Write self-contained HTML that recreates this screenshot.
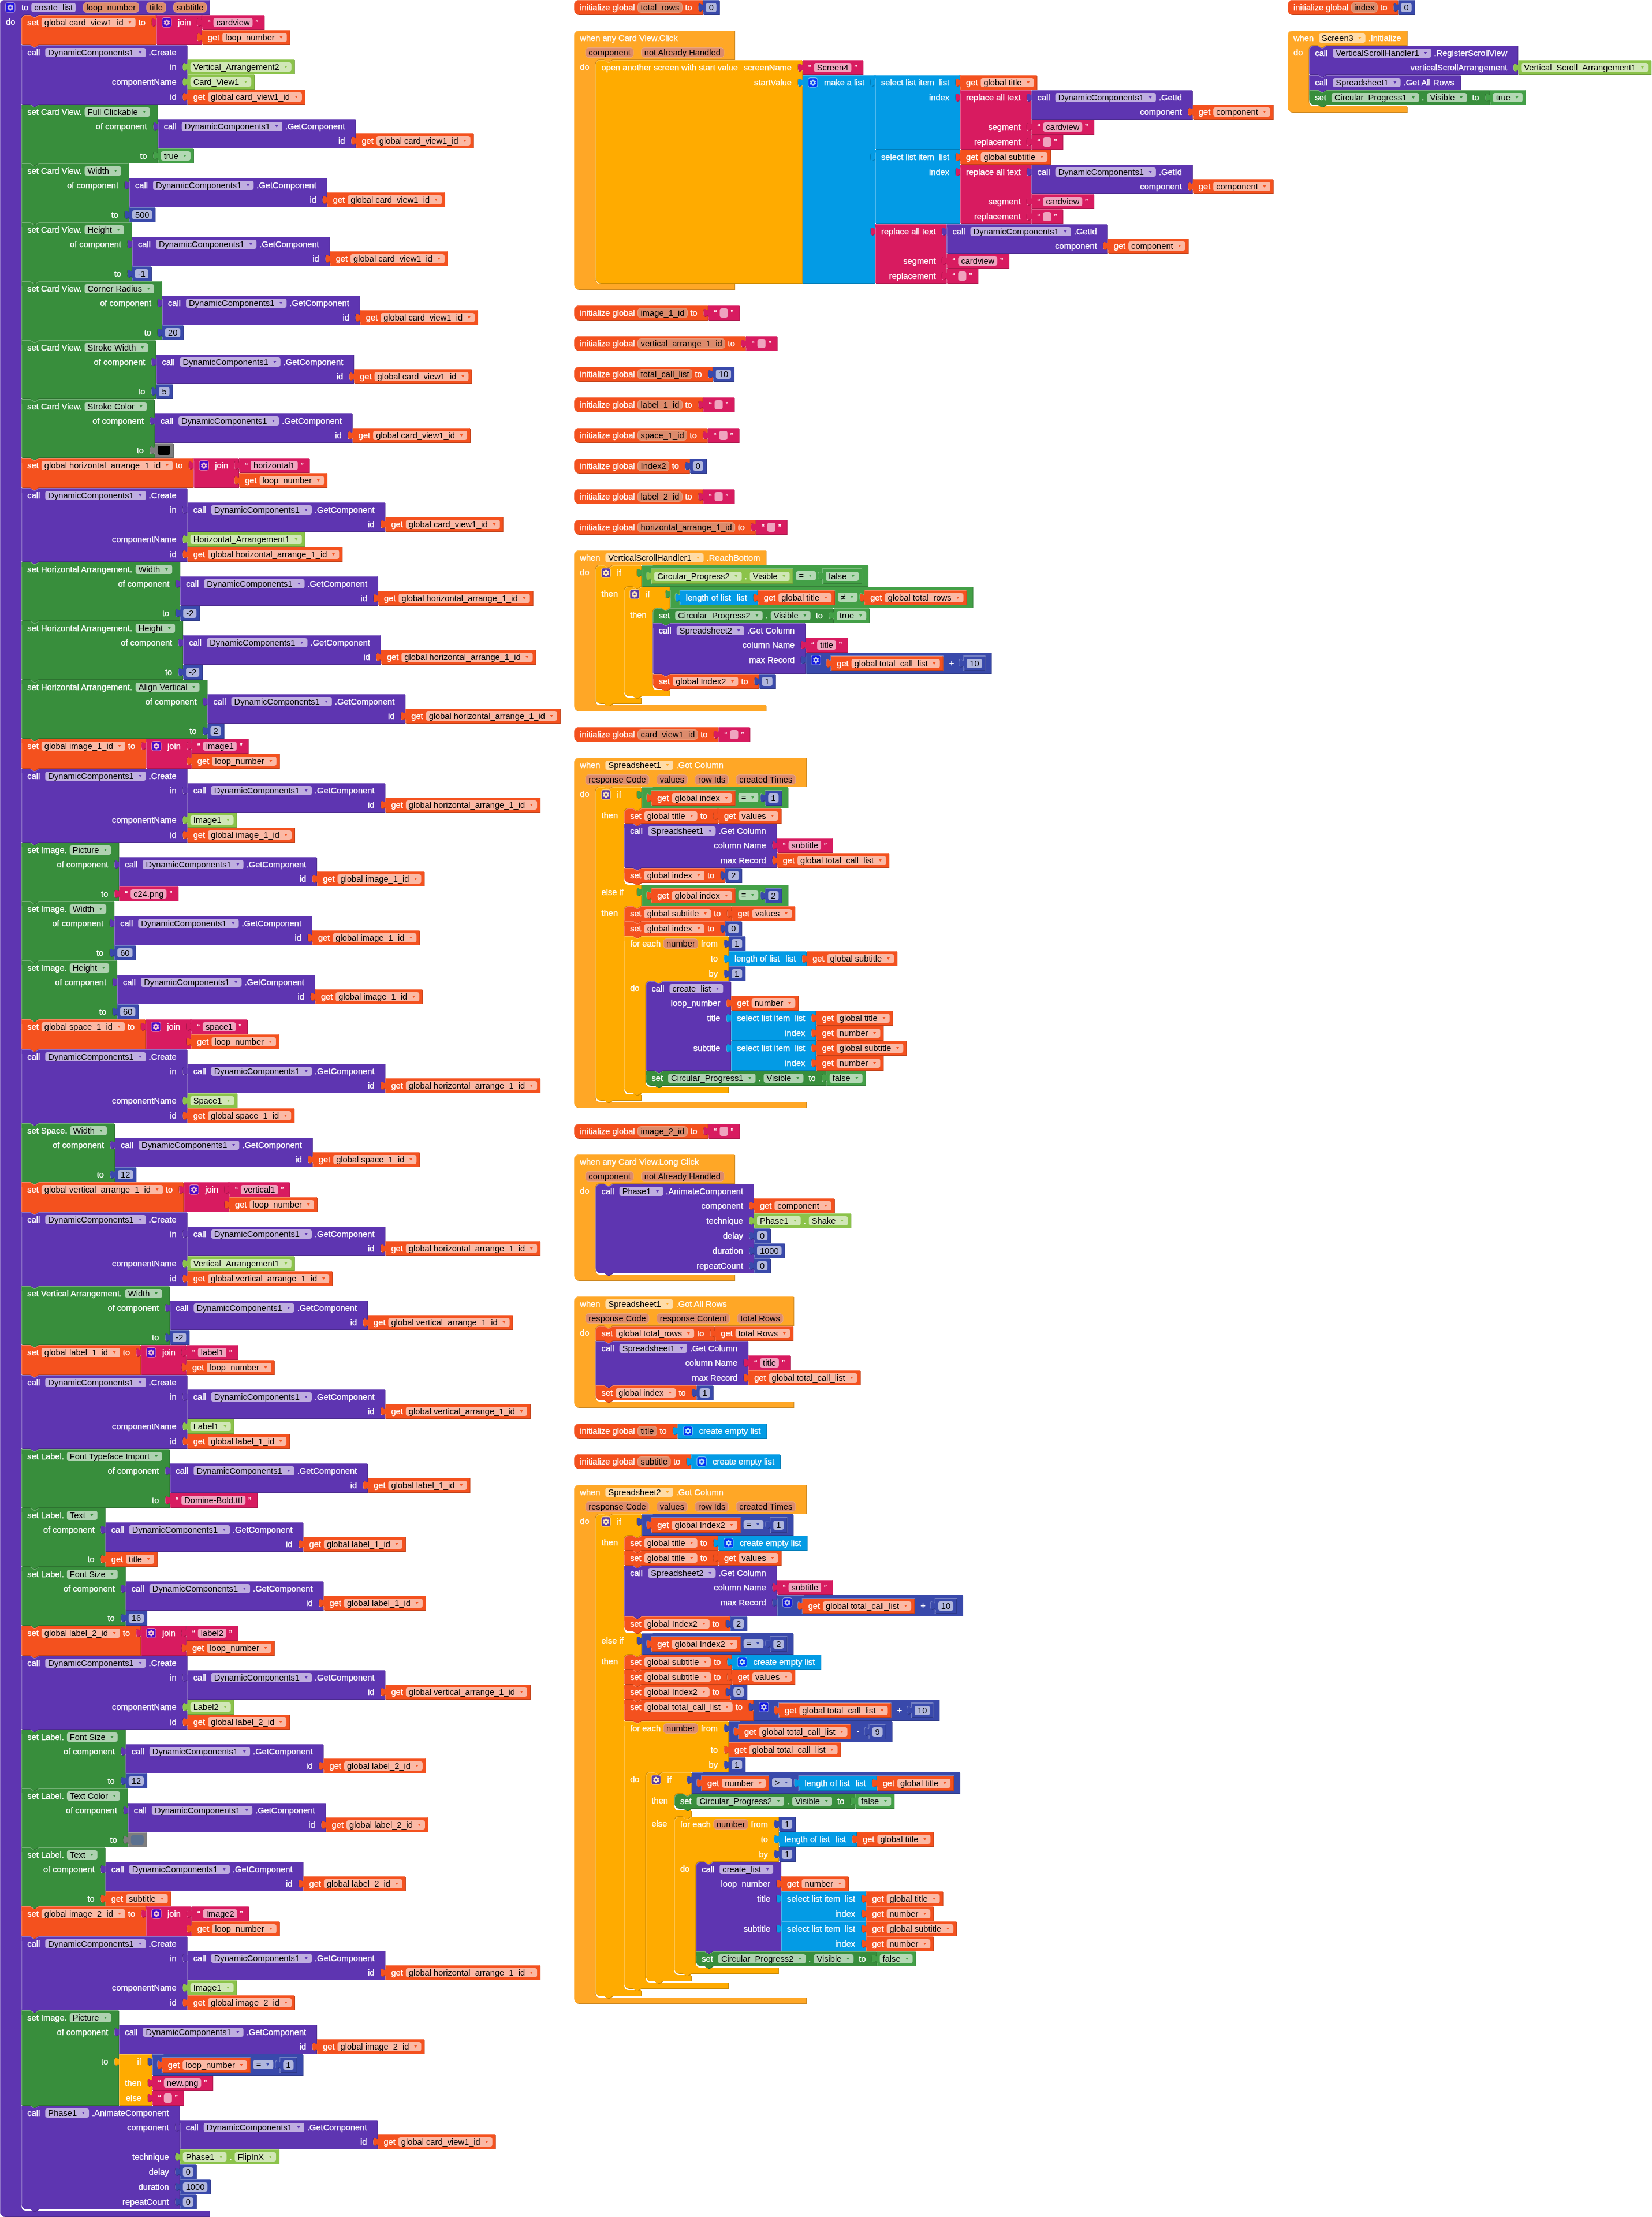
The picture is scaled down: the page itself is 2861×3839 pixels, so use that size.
<!DOCTYPE html><html><head><meta charset="utf-8"><style>html,body{margin:0;padding:0;background:#fff;overflow:hidden}svg{display:block;will-change:transform}</style></head><body><svg width="2861" height="3839" viewBox="0 0 2861 3839">
<style>text{font-family:"Liberation Sans",sans-serif;font-size:14.6667px;white-space:pre}.w{fill:#fff;stroke:#fff;stroke-width:0.25px}.k{fill:#000}</style>
<path transform="translate(1,1)" d="M 0,8 A 8,8 0 0,1 8,0 H 362.82 H 362.82 v 25 H 66.3 l -6,4 -3,0 -6,-4 h -7 a 8,8 0 0,0 -8,8 v 3787 a 8,8 0 0,0 8,8 H 362.82 v 10 H 8 a 8,8 0 0,1 -8,-8 z" fill="#4b2a8e"/>
<path transform="translate(0,0)" d="M 0,8 A 8,8 0 0,1 8,0 H 362.82 H 362.82 v 25 H 66.3 l -6,4 -3,0 -6,-4 h -7 a 8,8 0 0,0 -8,8 v 3787 a 8,8 0 0,0 8,8 H 362.82 v 10 H 8 a 8,8 0 0,1 -8,-8 z" fill="#5E35B1"/>
<path transform="translate(0,0)" d="M 0.5,8 A 7.5,7.5 0 0,1 8,0.5 H 362.32 M 0.5,8 V 3830" fill="none" stroke="#8e72c8" stroke-width="1"/>
<rect x="9.6" y="4.6" width="16.4" height="16.6" rx="4" fill="#2012e4" stroke="#a690d4" stroke-width="1.2"/>
<path d="M 16,9.81 L 16.66,7.74 L 19.14,7.74 L 19.8,9.81 L 19.8,9.81 L 21.92,9.35 L 23.16,11.49 L 21.7,13.1 L 21.7,13.1 L 23.16,14.71 L 21.92,16.85 L 19.8,16.39 L 19.8,16.39 L 19.14,18.46 L 16.66,18.46 L 16,16.39 L 16,16.39 L 13.88,16.85 L 12.64,14.71 L 14.1,13.1 L 14.1,13.1 L 12.64,11.49 L 13.88,9.35 L 16,9.81 Z M 16,13.1 a 1.9,1.9 0 1,0 3.8,0 a 1.9,1.9 0 1,0 -3.8,0 Z" fill="#d2c6e9" fill-rule="evenodd"/>
<rect x="54.22" y="5" width="76.8" height="16" rx="4" fill="#bfaee0"/>
<rect x="144.27" y="4.7" width="96.05" height="16.6" rx="5" fill="#dc8b6c" stroke="#eba98a" stroke-width="1"/>
<rect x="253.83" y="4.7" width="33.31" height="16.6" rx="5" fill="#dc8b6c" stroke="#eba98a" stroke-width="1"/>
<rect x="300.63" y="4.7" width="56.94" height="16.6" rx="5" fill="#dc8b6c" stroke="#eba98a" stroke-width="1"/>
<path transform="translate(38.3,27)" d="M 0,8 A 8,8 0 0,1 8,0 H 15 l 6,4 3,0 6,-4 H 232.65 H 232.65 v 5 c 0,10 -8,-8 -8,7.5 s 8,-2.5 8,7.5 v 31 H 29.5 l -6,4 -3,0 -6,-4 H 0 z" fill="#c34118"/>
<path transform="translate(37.3,26)" d="M 0,8 A 8,8 0 0,1 8,0 H 15 l 6,4 3,0 6,-4 H 232.65 H 232.65 v 5 c 0,10 -8,-8 -8,7.5 s 8,-2.5 8,7.5 v 31 H 29.5 l -6,4 -3,0 -6,-4 H 0 z" fill="#F4511E"/>
<path transform="translate(37.3,26)" d="M 0.5,8 A 7.5,7.5 0 0,1 8,0.5 H 15 l 6,4 3,0 6,-4 H 232.15 M 0.5,8 V 50.5" fill="none" stroke="#f78562" stroke-width="1"/>
<rect x="71.85" y="31" width="162.88" height="16" rx="4" fill="#fbb9a5"/>
<path d="M 222.43,37 h 5 l -2.5,4 z" fill="#F4511E"/>
<path transform="translate(271.96,27)" d="M 0,0 H 77.81 H 77.81 v 5 c 0,10 -8,-8 -8,7.5 s 8,-2.5 8,7.5 v 6 H 77.81 v 5 c 0,10 -8,-8 -8,7.5 s 8,-2.5 8,7.5 v 5 H 0 V 20 c 0,-10 -8,8 -8,-7.5 s 8,2.5 8,-7.5 z" fill="#ad164d"/>
<path transform="translate(270.96,26)" d="M 0,0 H 77.81 H 77.81 v 5 c 0,10 -8,-8 -8,7.5 s 8,-2.5 8,7.5 v 6 H 77.81 v 5 c 0,10 -8,-8 -8,7.5 s 8,-2.5 8,7.5 v 5 H 0 V 20 c 0,-10 -8,8 -8,-7.5 s 8,2.5 8,-7.5 z" fill="#D81B60"/>
<path transform="translate(270.96,26)" d="M 0.5,0.5 H 77.31 M 0.5,50.5 V 5.5 M 0.5,20 V 50.5" fill="none" stroke="#e45f90" stroke-width="1"/>
<rect x="280.56" y="30.6" width="16.4" height="16.6" rx="4" fill="#4909c9" stroke="#ea82a8" stroke-width="1.2"/>
<path d="M 286.96,35.81 L 287.62,33.74 L 290.09,33.74 L 290.76,35.81 L 290.76,35.81 L 292.88,35.35 L 294.12,37.49 L 292.66,39.1 L 292.66,39.1 L 294.12,40.71 L 292.88,42.85 L 290.76,42.39 L 290.76,42.39 L 290.09,44.46 L 287.62,44.46 L 286.96,42.39 L 286.96,42.39 L 284.83,42.85 L 283.6,40.71 L 285.06,39.1 L 285.06,39.1 L 283.6,37.49 L 284.83,35.35 L 286.96,35.81 Z M 286.96,39.1 a 1.9,1.9 0 1,0 3.8,0 a 1.9,1.9 0 1,0 -3.8,0 Z" fill="#f4bfd2" fill-rule="evenodd"/>
<path transform="translate(350.77,27)" d="M 0,0 H 107.59 H 107.59 v 25 H 0 V 20 c 0,-10 -8,8 -8,-7.5 s 8,2.5 8,-7.5 z" fill="#ad164d"/>
<path transform="translate(349.77,26)" d="M 0,0 H 107.59 H 107.59 v 25 H 0 V 20 c 0,-10 -8,8 -8,-7.5 s 8,2.5 8,-7.5 z" fill="#D81B60"/>
<path transform="translate(349.77,26)" d="M 0.5,0.5 H 107.09 M 0.5,24.5 M 0.5,20 V 24.5" fill="none" stroke="#e45f90" stroke-width="1"/>
<rect x="369.65" y="31" width="67.83" height="16" rx="4" fill="#efa4bf"/>
<path transform="translate(350.77,53)" d="M 0,0 H 151.93 H 151.93 v 25 H 0 V 20 c 0,-10 -8,8 -8,-7.5 s 8,2.5 8,-7.5 z" fill="#c34118"/>
<path transform="translate(349.77,52)" d="M 0,0 H 151.93 H 151.93 v 25 H 0 V 20 c 0,-10 -8,8 -8,-7.5 s 8,2.5 8,-7.5 z" fill="#F4511E"/>
<path transform="translate(349.77,52)" d="M 0.5,0.5 H 151.43 M 0.5,24.5 M 0.5,20 V 24.5" fill="none" stroke="#f78562" stroke-width="1"/>
<rect x="385.15" y="57" width="111.55" height="16" rx="4" fill="#fbb9a5"/>
<path d="M 484.4,63 h 5 l -2.5,4 z" fill="#F4511E"/>
<path transform="translate(38.3,79)" d="M 0,0 H 15 l 6,4 3,0 6,-4 H 286.38 H 286.38 v 25 H 286.38 v 5 c 0,10 -8,-8 -8,7.5 s 8,-2.5 8,7.5 v 6 H 286.38 v 5 c 0,10 -8,-8 -8,7.5 s 8,-2.5 8,7.5 v 6 H 286.38 v 5 c 0,10 -8,-8 -8,7.5 s 8,-2.5 8,7.5 v 5 H 29.5 l -6,4 -3,0 -6,-4 H 0 z" fill="#4b2a8e"/>
<path transform="translate(37.3,78)" d="M 0,0 H 15 l 6,4 3,0 6,-4 H 286.38 H 286.38 v 25 H 286.38 v 5 c 0,10 -8,-8 -8,7.5 s 8,-2.5 8,7.5 v 6 H 286.38 v 5 c 0,10 -8,-8 -8,7.5 s 8,-2.5 8,7.5 v 6 H 286.38 v 5 c 0,10 -8,-8 -8,7.5 s 8,-2.5 8,7.5 v 5 H 29.5 l -6,4 -3,0 -6,-4 H 0 z" fill="#5E35B1"/>
<path transform="translate(37.3,78)" d="M 0.5,0.5 H 15 l 6,4 3,0 6,-4 H 285.88 M 0.5,8 V 101.5" fill="none" stroke="#8e72c8" stroke-width="1"/>
<rect x="78.37" y="83" width="174.26" height="16" rx="4" fill="#bfaee0"/>
<path d="M 240.32,89 h 5 l -2.5,4 z" fill="#5E35B1"/>
<path transform="translate(325.69,104)" d="M 0,0 H 185.09 H 185.09 v 25 H 0 V 20 c 0,-10 -8,8 -8,-7.5 s 8,2.5 8,-7.5 z" fill="#6f9c3b"/>
<path transform="translate(324.69,103)" d="M 0,0 H 185.09 H 185.09 v 25 H 0 V 20 c 0,-10 -8,8 -8,-7.5 s 8,2.5 8,-7.5 z" fill="#8BC34A"/>
<path transform="translate(324.69,103)" d="M 0.5,0.5 H 184.59 M 0.5,24.5 M 0.5,20 V 24.5" fill="none" stroke="#aed580" stroke-width="1"/>
<rect x="329.69" y="108" width="175.09" height="16" rx="4" fill="#d1e7b7"/>
<path d="M 492.47,114 h 5 l -2.5,4 z" fill="#8BC34A"/>
<path transform="translate(325.69,130)" d="M 0,0 H 115.57 H 115.57 v 25 H 0 V 20 c 0,-10 -8,8 -8,-7.5 s 8,2.5 8,-7.5 z" fill="#6f9c3b"/>
<path transform="translate(324.69,129)" d="M 0,0 H 115.57 H 115.57 v 25 H 0 V 20 c 0,-10 -8,8 -8,-7.5 s 8,2.5 8,-7.5 z" fill="#8BC34A"/>
<path transform="translate(324.69,129)" d="M 0.5,0.5 H 115.07 M 0.5,24.5 M 0.5,20 V 24.5" fill="none" stroke="#aed580" stroke-width="1"/>
<rect x="329.69" y="134" width="105.57" height="16" rx="4" fill="#d1e7b7"/>
<path d="M 422.96,140 h 5 l -2.5,4 z" fill="#8BC34A"/>
<path transform="translate(325.69,156)" d="M 0,0 H 203.25 H 203.25 v 25 H 0 V 20 c 0,-10 -8,8 -8,-7.5 s 8,2.5 8,-7.5 z" fill="#c34118"/>
<path transform="translate(324.69,155)" d="M 0,0 H 203.25 H 203.25 v 25 H 0 V 20 c 0,-10 -8,8 -8,-7.5 s 8,2.5 8,-7.5 z" fill="#F4511E"/>
<path transform="translate(324.69,155)" d="M 0.5,0.5 H 202.75 M 0.5,24.5 M 0.5,20 V 24.5" fill="none" stroke="#f78562" stroke-width="1"/>
<rect x="360.06" y="160" width="162.88" height="16" rx="4" fill="#fbb9a5"/>
<path d="M 510.64,166 h 5 l -2.5,4 z" fill="#F4511E"/>
<path transform="translate(38.3,182)" d="M 0,0 H 15 l 6,4 3,0 6,-4 H 235.38 H 235.38 v 25 H 235.38 v 5 c 0,10 -8,-8 -8,7.5 s 8,-2.5 8,7.5 v 31 H 235.38 v 5 c 0,10 -8,-8 -8,7.5 s 8,-2.5 8,7.5 v 5 H 29.5 l -6,4 -3,0 -6,-4 H 0 z" fill="#2d7230"/>
<path transform="translate(37.3,181)" d="M 0,0 H 15 l 6,4 3,0 6,-4 H 235.38 H 235.38 v 25 H 235.38 v 5 c 0,10 -8,-8 -8,7.5 s 8,-2.5 8,7.5 v 31 H 235.38 v 5 c 0,10 -8,-8 -8,7.5 s 8,-2.5 8,7.5 v 5 H 29.5 l -6,4 -3,0 -6,-4 H 0 z" fill="#388E3C"/>
<path transform="translate(37.3,181)" d="M 0.5,0.5 H 15 l 6,4 3,0 6,-4 H 234.88 M 0.5,8 V 100.5" fill="none" stroke="#74b076" stroke-width="1"/>
<rect x="146.53" y="186" width="113.15" height="16" rx="4" fill="#afd2b1"/>
<path d="M 247.38,192 h 5 l -2.5,4 z" fill="#388E3C"/>
<path transform="translate(274.68,207)" d="M 0,0 H 341.79 H 341.79 v 25 H 341.79 v 5 c 0,10 -8,-8 -8,7.5 s 8,-2.5 8,7.5 v 5 H 0 V 20 c 0,-10 -8,8 -8,-7.5 s 8,2.5 8,-7.5 z" fill="#4b2a8e"/>
<path transform="translate(273.68,206)" d="M 0,0 H 341.79 H 341.79 v 25 H 341.79 v 5 c 0,10 -8,-8 -8,7.5 s 8,-2.5 8,7.5 v 5 H 0 V 20 c 0,-10 -8,8 -8,-7.5 s 8,2.5 8,-7.5 z" fill="#5E35B1"/>
<path transform="translate(273.68,206)" d="M 0.5,0.5 H 341.29 M 0.5,49.5 V 5.5 M 0.5,20 V 49.5" fill="none" stroke="#8e72c8" stroke-width="1"/>
<rect x="314.74" y="211" width="174.26" height="16" rx="4" fill="#bfaee0"/>
<path d="M 476.7,217 h 5 l -2.5,4 z" fill="#5E35B1"/>
<path transform="translate(617.47,232)" d="M 0,0 H 203.25 H 203.25 v 25 H 0 V 20 c 0,-10 -8,8 -8,-7.5 s 8,2.5 8,-7.5 z" fill="#c34118"/>
<path transform="translate(616.47,231)" d="M 0,0 H 203.25 H 203.25 v 25 H 0 V 20 c 0,-10 -8,8 -8,-7.5 s 8,2.5 8,-7.5 z" fill="#F4511E"/>
<path transform="translate(616.47,231)" d="M 0.5,0.5 H 202.75 M 0.5,24.5 M 0.5,20 V 24.5" fill="none" stroke="#f78562" stroke-width="1"/>
<rect x="651.84" y="236" width="162.88" height="16" rx="4" fill="#fbb9a5"/>
<path d="M 802.42,242 h 5 l -2.5,4 z" fill="#F4511E"/>
<path transform="translate(274.68,258)" d="M 0,0 H 61.25 H 61.25 v 25 H 0 V 20 c 0,-10 -8,8 -8,-7.5 s 8,2.5 8,-7.5 z" fill="#368039"/>
<path transform="translate(273.68,257)" d="M 0,0 H 61.25 H 61.25 v 25 H 0 V 20 c 0,-10 -8,8 -8,-7.5 s 8,2.5 8,-7.5 z" fill="#43A047"/>
<path transform="translate(273.68,257)" d="M 0.5,0.5 H 60.75 M 0.5,24.5 M 0.5,20 V 24.5" fill="none" stroke="#7bbc7e" stroke-width="1"/>
<rect x="278.68" y="262" width="51.25" height="16" rx="4" fill="#b4d9b5"/>
<path d="M 317.64,268 h 5 l -2.5,4 z" fill="#43A047"/>
<path transform="translate(38.3,284)" d="M 0,0 H 15 l 6,4 3,0 6,-4 H 185.69 H 185.69 v 25 H 185.69 v 5 c 0,10 -8,-8 -8,7.5 s 8,-2.5 8,7.5 v 31 H 185.69 v 5 c 0,10 -8,-8 -8,7.5 s 8,-2.5 8,7.5 v 5 H 29.5 l -6,4 -3,0 -6,-4 H 0 z" fill="#2d7230"/>
<path transform="translate(37.3,283)" d="M 0,0 H 15 l 6,4 3,0 6,-4 H 185.69 H 185.69 v 25 H 185.69 v 5 c 0,10 -8,-8 -8,7.5 s 8,-2.5 8,7.5 v 31 H 185.69 v 5 c 0,10 -8,-8 -8,7.5 s 8,-2.5 8,7.5 v 5 H 29.5 l -6,4 -3,0 -6,-4 H 0 z" fill="#388E3C"/>
<path transform="translate(37.3,283)" d="M 0.5,0.5 H 15 l 6,4 3,0 6,-4 H 185.19 M 0.5,8 V 100.5" fill="none" stroke="#74b076" stroke-width="1"/>
<rect x="146.53" y="288" width="63.46" height="16" rx="4" fill="#afd2b1"/>
<path d="M 197.69,294 h 5 l -2.5,4 z" fill="#388E3C"/>
<path transform="translate(224.99,309)" d="M 0,0 H 341.79 H 341.79 v 25 H 341.79 v 5 c 0,10 -8,-8 -8,7.5 s 8,-2.5 8,7.5 v 5 H 0 V 20 c 0,-10 -8,8 -8,-7.5 s 8,2.5 8,-7.5 z" fill="#4b2a8e"/>
<path transform="translate(223.99,308)" d="M 0,0 H 341.79 H 341.79 v 25 H 341.79 v 5 c 0,10 -8,-8 -8,7.5 s 8,-2.5 8,7.5 v 5 H 0 V 20 c 0,-10 -8,8 -8,-7.5 s 8,2.5 8,-7.5 z" fill="#5E35B1"/>
<path transform="translate(223.99,308)" d="M 0.5,0.5 H 341.29 M 0.5,49.5 V 5.5 M 0.5,20 V 49.5" fill="none" stroke="#8e72c8" stroke-width="1"/>
<rect x="265.06" y="313" width="174.26" height="16" rx="4" fill="#bfaee0"/>
<path d="M 427.02,319 h 5 l -2.5,4 z" fill="#5E35B1"/>
<path transform="translate(567.78,334)" d="M 0,0 H 203.25 H 203.25 v 25 H 0 V 20 c 0,-10 -8,8 -8,-7.5 s 8,2.5 8,-7.5 z" fill="#c34118"/>
<path transform="translate(566.78,333)" d="M 0,0 H 203.25 H 203.25 v 25 H 0 V 20 c 0,-10 -8,8 -8,-7.5 s 8,2.5 8,-7.5 z" fill="#F4511E"/>
<path transform="translate(566.78,333)" d="M 0.5,0.5 H 202.75 M 0.5,24.5 M 0.5,20 V 24.5" fill="none" stroke="#f78562" stroke-width="1"/>
<rect x="602.16" y="338" width="162.88" height="16" rx="4" fill="#fbb9a5"/>
<path d="M 752.74,344 h 5 l -2.5,4 z" fill="#F4511E"/>
<path transform="translate(224.99,360)" d="M 0,0 H 44.45 H 44.45 v 25 H 0 V 20 c 0,-10 -8,8 -8,-7.5 s 8,2.5 8,-7.5 z" fill="#2e3a89"/>
<path transform="translate(223.99,359)" d="M 0,0 H 44.45 H 44.45 v 25 H 0 V 20 c 0,-10 -8,8 -8,-7.5 s 8,2.5 8,-7.5 z" fill="#3949AB"/>
<path transform="translate(223.99,359)" d="M 0.5,0.5 H 43.95 M 0.5,24.5 M 0.5,20 V 24.5" fill="none" stroke="#7480c4" stroke-width="1"/>
<rect x="228.99" y="364" width="34.45" height="16" rx="4" fill="#b0b6dd"/>
<path transform="translate(38.3,386)" d="M 0,0 H 15 l 6,4 3,0 6,-4 H 190.59 H 190.59 v 25 H 190.59 v 5 c 0,10 -8,-8 -8,7.5 s 8,-2.5 8,7.5 v 31 H 190.59 v 5 c 0,10 -8,-8 -8,7.5 s 8,-2.5 8,7.5 v 5 H 29.5 l -6,4 -3,0 -6,-4 H 0 z" fill="#2d7230"/>
<path transform="translate(37.3,385)" d="M 0,0 H 15 l 6,4 3,0 6,-4 H 190.59 H 190.59 v 25 H 190.59 v 5 c 0,10 -8,-8 -8,7.5 s 8,-2.5 8,7.5 v 31 H 190.59 v 5 c 0,10 -8,-8 -8,7.5 s 8,-2.5 8,7.5 v 5 H 29.5 l -6,4 -3,0 -6,-4 H 0 z" fill="#388E3C"/>
<path transform="translate(37.3,385)" d="M 0.5,0.5 H 15 l 6,4 3,0 6,-4 H 190.09 M 0.5,8 V 100.5" fill="none" stroke="#74b076" stroke-width="1"/>
<rect x="146.53" y="390" width="68.37" height="16" rx="4" fill="#afd2b1"/>
<path d="M 202.6,396 h 5 l -2.5,4 z" fill="#388E3C"/>
<path transform="translate(229.9,411)" d="M 0,0 H 341.79 H 341.79 v 25 H 341.79 v 5 c 0,10 -8,-8 -8,7.5 s 8,-2.5 8,7.5 v 5 H 0 V 20 c 0,-10 -8,8 -8,-7.5 s 8,2.5 8,-7.5 z" fill="#4b2a8e"/>
<path transform="translate(228.9,410)" d="M 0,0 H 341.79 H 341.79 v 25 H 341.79 v 5 c 0,10 -8,-8 -8,7.5 s 8,-2.5 8,7.5 v 5 H 0 V 20 c 0,-10 -8,8 -8,-7.5 s 8,2.5 8,-7.5 z" fill="#5E35B1"/>
<path transform="translate(228.9,410)" d="M 0.5,0.5 H 341.29 M 0.5,49.5 V 5.5 M 0.5,20 V 49.5" fill="none" stroke="#8e72c8" stroke-width="1"/>
<rect x="269.96" y="415" width="174.26" height="16" rx="4" fill="#bfaee0"/>
<path d="M 431.92,421 h 5 l -2.5,4 z" fill="#5E35B1"/>
<path transform="translate(572.68,436)" d="M 0,0 H 203.25 H 203.25 v 25 H 0 V 20 c 0,-10 -8,8 -8,-7.5 s 8,2.5 8,-7.5 z" fill="#c34118"/>
<path transform="translate(571.68,435)" d="M 0,0 H 203.25 H 203.25 v 25 H 0 V 20 c 0,-10 -8,8 -8,-7.5 s 8,2.5 8,-7.5 z" fill="#F4511E"/>
<path transform="translate(571.68,435)" d="M 0.5,0.5 H 202.75 M 0.5,24.5 M 0.5,20 V 24.5" fill="none" stroke="#f78562" stroke-width="1"/>
<rect x="607.06" y="440" width="162.88" height="16" rx="4" fill="#fbb9a5"/>
<path d="M 757.64,446 h 5 l -2.5,4 z" fill="#F4511E"/>
<path transform="translate(229.9,462)" d="M 0,0 H 33.03 H 33.03 v 25 H 0 V 20 c 0,-10 -8,8 -8,-7.5 s 8,2.5 8,-7.5 z" fill="#2e3a89"/>
<path transform="translate(228.9,461)" d="M 0,0 H 33.03 H 33.03 v 25 H 0 V 20 c 0,-10 -8,8 -8,-7.5 s 8,2.5 8,-7.5 z" fill="#3949AB"/>
<path transform="translate(228.9,461)" d="M 0.5,0.5 H 32.53 M 0.5,24.5 M 0.5,20 V 24.5" fill="none" stroke="#7480c4" stroke-width="1"/>
<rect x="233.9" y="466" width="23.03" height="16" rx="4" fill="#b0b6dd"/>
<path transform="translate(38.3,488)" d="M 0,0 H 15 l 6,4 3,0 6,-4 H 242.72 H 242.72 v 25 H 242.72 v 5 c 0,10 -8,-8 -8,7.5 s 8,-2.5 8,7.5 v 31 H 242.72 v 5 c 0,10 -8,-8 -8,7.5 s 8,-2.5 8,7.5 v 5 H 29.5 l -6,4 -3,0 -6,-4 H 0 z" fill="#2d7230"/>
<path transform="translate(37.3,487)" d="M 0,0 H 15 l 6,4 3,0 6,-4 H 242.72 H 242.72 v 25 H 242.72 v 5 c 0,10 -8,-8 -8,7.5 s 8,-2.5 8,7.5 v 31 H 242.72 v 5 c 0,10 -8,-8 -8,7.5 s 8,-2.5 8,7.5 v 5 H 29.5 l -6,4 -3,0 -6,-4 H 0 z" fill="#388E3C"/>
<path transform="translate(37.3,487)" d="M 0.5,0.5 H 15 l 6,4 3,0 6,-4 H 242.22 M 0.5,8 V 100.5" fill="none" stroke="#74b076" stroke-width="1"/>
<rect x="146.53" y="492" width="120.49" height="16" rx="4" fill="#afd2b1"/>
<path d="M 254.72,498 h 5 l -2.5,4 z" fill="#388E3C"/>
<path transform="translate(282.02,513)" d="M 0,0 H 341.79 H 341.79 v 25 H 341.79 v 5 c 0,10 -8,-8 -8,7.5 s 8,-2.5 8,7.5 v 5 H 0 V 20 c 0,-10 -8,8 -8,-7.5 s 8,2.5 8,-7.5 z" fill="#4b2a8e"/>
<path transform="translate(281.02,512)" d="M 0,0 H 341.79 H 341.79 v 25 H 341.79 v 5 c 0,10 -8,-8 -8,7.5 s 8,-2.5 8,7.5 v 5 H 0 V 20 c 0,-10 -8,8 -8,-7.5 s 8,2.5 8,-7.5 z" fill="#5E35B1"/>
<path transform="translate(281.02,512)" d="M 0.5,0.5 H 341.29 M 0.5,49.5 V 5.5 M 0.5,20 V 49.5" fill="none" stroke="#8e72c8" stroke-width="1"/>
<rect x="322.09" y="517" width="174.26" height="16" rx="4" fill="#bfaee0"/>
<path d="M 484.04,523 h 5 l -2.5,4 z" fill="#5E35B1"/>
<path transform="translate(624.81,538)" d="M 0,0 H 203.25 H 203.25 v 25 H 0 V 20 c 0,-10 -8,8 -8,-7.5 s 8,2.5 8,-7.5 z" fill="#c34118"/>
<path transform="translate(623.81,537)" d="M 0,0 H 203.25 H 203.25 v 25 H 0 V 20 c 0,-10 -8,8 -8,-7.5 s 8,2.5 8,-7.5 z" fill="#F4511E"/>
<path transform="translate(623.81,537)" d="M 0.5,0.5 H 202.75 M 0.5,24.5 M 0.5,20 V 24.5" fill="none" stroke="#f78562" stroke-width="1"/>
<rect x="659.19" y="542" width="162.88" height="16" rx="4" fill="#fbb9a5"/>
<path d="M 809.77,548 h 5 l -2.5,4 z" fill="#F4511E"/>
<path transform="translate(282.02,564)" d="M 0,0 H 36.3 H 36.3 v 25 H 0 V 20 c 0,-10 -8,8 -8,-7.5 s 8,2.5 8,-7.5 z" fill="#2e3a89"/>
<path transform="translate(281.02,563)" d="M 0,0 H 36.3 H 36.3 v 25 H 0 V 20 c 0,-10 -8,8 -8,-7.5 s 8,2.5 8,-7.5 z" fill="#3949AB"/>
<path transform="translate(281.02,563)" d="M 0.5,0.5 H 35.8 M 0.5,24.5 M 0.5,20 V 24.5" fill="none" stroke="#7480c4" stroke-width="1"/>
<rect x="286.02" y="568" width="26.3" height="16" rx="4" fill="#b0b6dd"/>
<path transform="translate(38.3,590)" d="M 0,0 H 15 l 6,4 3,0 6,-4 H 232.12 H 232.12 v 25 H 232.12 v 5 c 0,10 -8,-8 -8,7.5 s 8,-2.5 8,7.5 v 31 H 232.12 v 5 c 0,10 -8,-8 -8,7.5 s 8,-2.5 8,7.5 v 5 H 29.5 l -6,4 -3,0 -6,-4 H 0 z" fill="#2d7230"/>
<path transform="translate(37.3,589)" d="M 0,0 H 15 l 6,4 3,0 6,-4 H 232.12 H 232.12 v 25 H 232.12 v 5 c 0,10 -8,-8 -8,7.5 s 8,-2.5 8,7.5 v 31 H 232.12 v 5 c 0,10 -8,-8 -8,7.5 s 8,-2.5 8,7.5 v 5 H 29.5 l -6,4 -3,0 -6,-4 H 0 z" fill="#388E3C"/>
<path transform="translate(37.3,589)" d="M 0.5,0.5 H 15 l 6,4 3,0 6,-4 H 231.62 M 0.5,8 V 100.5" fill="none" stroke="#74b076" stroke-width="1"/>
<rect x="146.53" y="594" width="109.89" height="16" rx="4" fill="#afd2b1"/>
<path d="M 244.12,600 h 5 l -2.5,4 z" fill="#388E3C"/>
<path transform="translate(271.42,615)" d="M 0,0 H 341.79 H 341.79 v 25 H 341.79 v 5 c 0,10 -8,-8 -8,7.5 s 8,-2.5 8,7.5 v 5 H 0 V 20 c 0,-10 -8,8 -8,-7.5 s 8,2.5 8,-7.5 z" fill="#4b2a8e"/>
<path transform="translate(270.42,614)" d="M 0,0 H 341.79 H 341.79 v 25 H 341.79 v 5 c 0,10 -8,-8 -8,7.5 s 8,-2.5 8,7.5 v 5 H 0 V 20 c 0,-10 -8,8 -8,-7.5 s 8,2.5 8,-7.5 z" fill="#5E35B1"/>
<path transform="translate(270.42,614)" d="M 0.5,0.5 H 341.29 M 0.5,49.5 V 5.5 M 0.5,20 V 49.5" fill="none" stroke="#8e72c8" stroke-width="1"/>
<rect x="311.49" y="619" width="174.26" height="16" rx="4" fill="#bfaee0"/>
<path d="M 473.45,625 h 5 l -2.5,4 z" fill="#5E35B1"/>
<path transform="translate(614.21,640)" d="M 0,0 H 203.25 H 203.25 v 25 H 0 V 20 c 0,-10 -8,8 -8,-7.5 s 8,2.5 8,-7.5 z" fill="#c34118"/>
<path transform="translate(613.21,639)" d="M 0,0 H 203.25 H 203.25 v 25 H 0 V 20 c 0,-10 -8,8 -8,-7.5 s 8,2.5 8,-7.5 z" fill="#F4511E"/>
<path transform="translate(613.21,639)" d="M 0.5,0.5 H 202.75 M 0.5,24.5 M 0.5,20 V 24.5" fill="none" stroke="#f78562" stroke-width="1"/>
<rect x="648.59" y="644" width="162.88" height="16" rx="4" fill="#fbb9a5"/>
<path d="M 799.17,650 h 5 l -2.5,4 z" fill="#F4511E"/>
<path transform="translate(271.42,666)" d="M 0,0 H 28.15 H 28.15 v 25 H 0 V 20 c 0,-10 -8,8 -8,-7.5 s 8,2.5 8,-7.5 z" fill="#2e3a89"/>
<path transform="translate(270.42,665)" d="M 0,0 H 28.15 H 28.15 v 25 H 0 V 20 c 0,-10 -8,8 -8,-7.5 s 8,2.5 8,-7.5 z" fill="#3949AB"/>
<path transform="translate(270.42,665)" d="M 0.5,0.5 H 27.65 M 0.5,24.5 M 0.5,20 V 24.5" fill="none" stroke="#7480c4" stroke-width="1"/>
<rect x="275.42" y="670" width="18.15" height="16" rx="4" fill="#b0b6dd"/>
<path transform="translate(38.3,692)" d="M 0,0 H 15 l 6,4 3,0 6,-4 H 229.68 H 229.68 v 25 H 229.68 v 5 c 0,10 -8,-8 -8,7.5 s 8,-2.5 8,7.5 v 31 H 229.68 v 5 c 0,10 -8,-8 -8,7.5 s 8,-2.5 8,7.5 v 5 H 29.5 l -6,4 -3,0 -6,-4 H 0 z" fill="#2d7230"/>
<path transform="translate(37.3,691)" d="M 0,0 H 15 l 6,4 3,0 6,-4 H 229.68 H 229.68 v 25 H 229.68 v 5 c 0,10 -8,-8 -8,7.5 s 8,-2.5 8,7.5 v 31 H 229.68 v 5 c 0,10 -8,-8 -8,7.5 s 8,-2.5 8,7.5 v 5 H 29.5 l -6,4 -3,0 -6,-4 H 0 z" fill="#388E3C"/>
<path transform="translate(37.3,691)" d="M 0.5,0.5 H 15 l 6,4 3,0 6,-4 H 229.18 M 0.5,8 V 100.5" fill="none" stroke="#74b076" stroke-width="1"/>
<rect x="146.53" y="696" width="107.45" height="16" rx="4" fill="#afd2b1"/>
<path d="M 241.68,702 h 5 l -2.5,4 z" fill="#388E3C"/>
<path transform="translate(268.98,717)" d="M 0,0 H 341.79 H 341.79 v 25 H 341.79 v 5 c 0,10 -8,-8 -8,7.5 s 8,-2.5 8,7.5 v 5 H 0 V 20 c 0,-10 -8,8 -8,-7.5 s 8,2.5 8,-7.5 z" fill="#4b2a8e"/>
<path transform="translate(267.98,716)" d="M 0,0 H 341.79 H 341.79 v 25 H 341.79 v 5 c 0,10 -8,-8 -8,7.5 s 8,-2.5 8,7.5 v 5 H 0 V 20 c 0,-10 -8,8 -8,-7.5 s 8,2.5 8,-7.5 z" fill="#5E35B1"/>
<path transform="translate(267.98,716)" d="M 0.5,0.5 H 341.29 M 0.5,49.5 V 5.5 M 0.5,20 V 49.5" fill="none" stroke="#8e72c8" stroke-width="1"/>
<rect x="309.05" y="721" width="174.26" height="16" rx="4" fill="#bfaee0"/>
<path d="M 471.01,727 h 5 l -2.5,4 z" fill="#5E35B1"/>
<path transform="translate(611.77,742)" d="M 0,0 H 203.25 H 203.25 v 25 H 0 V 20 c 0,-10 -8,8 -8,-7.5 s 8,2.5 8,-7.5 z" fill="#c34118"/>
<path transform="translate(610.77,741)" d="M 0,0 H 203.25 H 203.25 v 25 H 0 V 20 c 0,-10 -8,8 -8,-7.5 s 8,2.5 8,-7.5 z" fill="#F4511E"/>
<path transform="translate(610.77,741)" d="M 0.5,0.5 H 202.75 M 0.5,24.5 M 0.5,20 V 24.5" fill="none" stroke="#f78562" stroke-width="1"/>
<rect x="646.15" y="746" width="162.88" height="16" rx="4" fill="#fbb9a5"/>
<path d="M 796.73,752 h 5 l -2.5,4 z" fill="#F4511E"/>
<path transform="translate(268.98,768)" d="M 0,0 H 32 H 32 v 25 H 0 V 20 c 0,-10 -8,8 -8,-7.5 s 8,2.5 8,-7.5 z" fill="#646464"/>
<path transform="translate(267.98,767)" d="M 0,0 H 32 H 32 v 25 H 0 V 20 c 0,-10 -8,8 -8,-7.5 s 8,2.5 8,-7.5 z" fill="#7D7D7D"/>
<path transform="translate(267.98,767)" d="M 0.5,0.5 H 31.5 M 0.5,24.5 M 0.5,20 V 24.5" fill="none" stroke="#a4a4a4" stroke-width="1"/>
<rect x="272.98" y="772" width="22" height="16" rx="4" fill="#000000"/>
<path transform="translate(38.3,794)" d="M 0,0 H 15 l 6,4 3,0 6,-4 H 297.04 H 297.04 v 5 c 0,10 -8,-8 -8,7.5 s 8,-2.5 8,7.5 v 31 H 29.5 l -6,4 -3,0 -6,-4 H 0 z" fill="#c34118"/>
<path transform="translate(37.3,793)" d="M 0,0 H 15 l 6,4 3,0 6,-4 H 297.04 H 297.04 v 5 c 0,10 -8,-8 -8,7.5 s 8,-2.5 8,7.5 v 31 H 29.5 l -6,4 -3,0 -6,-4 H 0 z" fill="#F4511E"/>
<path transform="translate(37.3,793)" d="M 0.5,0.5 H 15 l 6,4 3,0 6,-4 H 296.54 M 0.5,8 V 50.5" fill="none" stroke="#f78562" stroke-width="1"/>
<rect x="71.85" y="798" width="227.27" height="16" rx="4" fill="#fbb9a5"/>
<path d="M 286.82,804 h 5 l -2.5,4 z" fill="#F4511E"/>
<path transform="translate(336.34,794)" d="M 0,0 H 77.81 H 77.81 v 5 c 0,10 -8,-8 -8,7.5 s 8,-2.5 8,7.5 v 6 H 77.81 v 5 c 0,10 -8,-8 -8,7.5 s 8,-2.5 8,7.5 v 5 H 0 V 20 c 0,-10 -8,8 -8,-7.5 s 8,2.5 8,-7.5 z" fill="#ad164d"/>
<path transform="translate(335.34,793)" d="M 0,0 H 77.81 H 77.81 v 5 c 0,10 -8,-8 -8,7.5 s 8,-2.5 8,7.5 v 6 H 77.81 v 5 c 0,10 -8,-8 -8,7.5 s 8,-2.5 8,7.5 v 5 H 0 V 20 c 0,-10 -8,8 -8,-7.5 s 8,2.5 8,-7.5 z" fill="#D81B60"/>
<path transform="translate(335.34,793)" d="M 0.5,0.5 H 77.31 M 0.5,50.5 V 5.5 M 0.5,20 V 50.5" fill="none" stroke="#e45f90" stroke-width="1"/>
<rect x="344.94" y="797.6" width="16.4" height="16.6" rx="4" fill="#4909c9" stroke="#ea82a8" stroke-width="1.2"/>
<path d="M 351.34,802.81 L 352.01,800.74 L 354.48,800.74 L 355.14,802.81 L 355.14,802.81 L 357.26,802.35 L 358.5,804.49 L 357.04,806.1 L 357.04,806.1 L 358.5,807.71 L 357.26,809.85 L 355.14,809.39 L 355.14,809.39 L 354.48,811.46 L 352.01,811.46 L 351.34,809.39 L 351.34,809.39 L 349.22,809.85 L 347.98,807.71 L 349.44,806.1 L 349.44,806.1 L 347.98,804.49 L 349.22,802.35 L 351.34,802.81 Z M 351.34,806.1 a 1.9,1.9 0 1,0 3.8,0 a 1.9,1.9 0 1,0 -3.8,0 Z" fill="#f4bfd2" fill-rule="evenodd"/>
<path transform="translate(415.16,794)" d="M 0,0 H 121.46 H 121.46 v 25 H 0 V 20 c 0,-10 -8,8 -8,-7.5 s 8,2.5 8,-7.5 z" fill="#ad164d"/>
<path transform="translate(414.16,793)" d="M 0,0 H 121.46 H 121.46 v 25 H 0 V 20 c 0,-10 -8,8 -8,-7.5 s 8,2.5 8,-7.5 z" fill="#D81B60"/>
<path transform="translate(414.16,793)" d="M 0.5,0.5 H 120.96 M 0.5,24.5 M 0.5,20 V 24.5" fill="none" stroke="#e45f90" stroke-width="1"/>
<rect x="434.04" y="798" width="81.7" height="16" rx="4" fill="#efa4bf"/>
<path transform="translate(415.16,820)" d="M 0,0 H 151.93 H 151.93 v 25 H 0 V 20 c 0,-10 -8,8 -8,-7.5 s 8,2.5 8,-7.5 z" fill="#c34118"/>
<path transform="translate(414.16,819)" d="M 0,0 H 151.93 H 151.93 v 25 H 0 V 20 c 0,-10 -8,8 -8,-7.5 s 8,2.5 8,-7.5 z" fill="#F4511E"/>
<path transform="translate(414.16,819)" d="M 0.5,0.5 H 151.43 M 0.5,24.5 M 0.5,20 V 24.5" fill="none" stroke="#f78562" stroke-width="1"/>
<rect x="449.53" y="824" width="111.55" height="16" rx="4" fill="#fbb9a5"/>
<path d="M 548.79,830 h 5 l -2.5,4 z" fill="#F4511E"/>
<path transform="translate(38.3,846)" d="M 0,0 H 15 l 6,4 3,0 6,-4 H 286.38 H 286.38 v 25 H 286.38 v 5 c 0,10 -8,-8 -8,7.5 s 8,-2.5 8,7.5 v 31 H 286.38 v 5 c 0,10 -8,-8 -8,7.5 s 8,-2.5 8,7.5 v 6 H 286.38 v 5 c 0,10 -8,-8 -8,7.5 s 8,-2.5 8,7.5 v 5 H 29.5 l -6,4 -3,0 -6,-4 H 0 z" fill="#4b2a8e"/>
<path transform="translate(37.3,845)" d="M 0,0 H 15 l 6,4 3,0 6,-4 H 286.38 H 286.38 v 25 H 286.38 v 5 c 0,10 -8,-8 -8,7.5 s 8,-2.5 8,7.5 v 31 H 286.38 v 5 c 0,10 -8,-8 -8,7.5 s 8,-2.5 8,7.5 v 6 H 286.38 v 5 c 0,10 -8,-8 -8,7.5 s 8,-2.5 8,7.5 v 5 H 29.5 l -6,4 -3,0 -6,-4 H 0 z" fill="#5E35B1"/>
<path transform="translate(37.3,845)" d="M 0.5,0.5 H 15 l 6,4 3,0 6,-4 H 285.88 M 0.5,8 V 126.5" fill="none" stroke="#8e72c8" stroke-width="1"/>
<rect x="78.37" y="850" width="174.26" height="16" rx="4" fill="#bfaee0"/>
<path d="M 240.32,856 h 5 l -2.5,4 z" fill="#5E35B1"/>
<path transform="translate(325.69,871)" d="M 0,0 H 341.79 H 341.79 v 25 H 341.79 v 5 c 0,10 -8,-8 -8,7.5 s 8,-2.5 8,7.5 v 5 H 0 V 20 c 0,-10 -8,8 -8,-7.5 s 8,2.5 8,-7.5 z" fill="#4b2a8e"/>
<path transform="translate(324.69,870)" d="M 0,0 H 341.79 H 341.79 v 25 H 341.79 v 5 c 0,10 -8,-8 -8,7.5 s 8,-2.5 8,7.5 v 5 H 0 V 20 c 0,-10 -8,8 -8,-7.5 s 8,2.5 8,-7.5 z" fill="#5E35B1"/>
<path transform="translate(324.69,870)" d="M 0.5,0.5 H 341.29 M 0.5,49.5 V 5.5 M 0.5,20 V 49.5" fill="none" stroke="#8e72c8" stroke-width="1"/>
<rect x="365.75" y="875" width="174.26" height="16" rx="4" fill="#bfaee0"/>
<path d="M 527.71,881 h 5 l -2.5,4 z" fill="#5E35B1"/>
<path transform="translate(668.48,896)" d="M 0,0 H 203.25 H 203.25 v 25 H 0 V 20 c 0,-10 -8,8 -8,-7.5 s 8,2.5 8,-7.5 z" fill="#c34118"/>
<path transform="translate(667.48,895)" d="M 0,0 H 203.25 H 203.25 v 25 H 0 V 20 c 0,-10 -8,8 -8,-7.5 s 8,2.5 8,-7.5 z" fill="#F4511E"/>
<path transform="translate(667.48,895)" d="M 0.5,0.5 H 202.75 M 0.5,24.5 M 0.5,20 V 24.5" fill="none" stroke="#f78562" stroke-width="1"/>
<rect x="702.85" y="900" width="162.88" height="16" rx="4" fill="#fbb9a5"/>
<path d="M 853.43,906 h 5 l -2.5,4 z" fill="#F4511E"/>
<path transform="translate(325.69,922)" d="M 0,0 H 203.01 H 203.01 v 25 H 0 V 20 c 0,-10 -8,8 -8,-7.5 s 8,2.5 8,-7.5 z" fill="#6f9c3b"/>
<path transform="translate(324.69,921)" d="M 0,0 H 203.01 H 203.01 v 25 H 0 V 20 c 0,-10 -8,8 -8,-7.5 s 8,2.5 8,-7.5 z" fill="#8BC34A"/>
<path transform="translate(324.69,921)" d="M 0.5,0.5 H 202.51 M 0.5,24.5 M 0.5,20 V 24.5" fill="none" stroke="#aed580" stroke-width="1"/>
<rect x="329.69" y="926" width="193.01" height="16" rx="4" fill="#d1e7b7"/>
<path d="M 510.39,932 h 5 l -2.5,4 z" fill="#8BC34A"/>
<path transform="translate(325.69,948)" d="M 0,0 H 267.64 H 267.64 v 25 H 0 V 20 c 0,-10 -8,8 -8,-7.5 s 8,2.5 8,-7.5 z" fill="#c34118"/>
<path transform="translate(324.69,947)" d="M 0,0 H 267.64 H 267.64 v 25 H 0 V 20 c 0,-10 -8,8 -8,-7.5 s 8,2.5 8,-7.5 z" fill="#F4511E"/>
<path transform="translate(324.69,947)" d="M 0.5,0.5 H 267.14 M 0.5,24.5 M 0.5,20 V 24.5" fill="none" stroke="#f78562" stroke-width="1"/>
<rect x="360.06" y="952" width="227.27" height="16" rx="4" fill="#fbb9a5"/>
<path d="M 575.03,958 h 5 l -2.5,4 z" fill="#F4511E"/>
<path transform="translate(38.3,974)" d="M 0,0 H 15 l 6,4 3,0 6,-4 H 273.94 H 273.94 v 25 H 273.94 v 5 c 0,10 -8,-8 -8,7.5 s 8,-2.5 8,7.5 v 31 H 273.94 v 5 c 0,10 -8,-8 -8,7.5 s 8,-2.5 8,7.5 v 5 H 29.5 l -6,4 -3,0 -6,-4 H 0 z" fill="#2d7230"/>
<path transform="translate(37.3,973)" d="M 0,0 H 15 l 6,4 3,0 6,-4 H 273.94 H 273.94 v 25 H 273.94 v 5 c 0,10 -8,-8 -8,7.5 s 8,-2.5 8,7.5 v 31 H 273.94 v 5 c 0,10 -8,-8 -8,7.5 s 8,-2.5 8,7.5 v 5 H 29.5 l -6,4 -3,0 -6,-4 H 0 z" fill="#388E3C"/>
<path transform="translate(37.3,973)" d="M 0.5,0.5 H 15 l 6,4 3,0 6,-4 H 273.44 M 0.5,8 V 100.5" fill="none" stroke="#74b076" stroke-width="1"/>
<rect x="234.78" y="978" width="63.46" height="16" rx="4" fill="#afd2b1"/>
<path d="M 285.94,984 h 5 l -2.5,4 z" fill="#388E3C"/>
<path transform="translate(313.24,999)" d="M 0,0 H 341.79 H 341.79 v 25 H 341.79 v 5 c 0,10 -8,-8 -8,7.5 s 8,-2.5 8,7.5 v 5 H 0 V 20 c 0,-10 -8,8 -8,-7.5 s 8,2.5 8,-7.5 z" fill="#4b2a8e"/>
<path transform="translate(312.24,998)" d="M 0,0 H 341.79 H 341.79 v 25 H 341.79 v 5 c 0,10 -8,-8 -8,7.5 s 8,-2.5 8,7.5 v 5 H 0 V 20 c 0,-10 -8,8 -8,-7.5 s 8,2.5 8,-7.5 z" fill="#5E35B1"/>
<path transform="translate(312.24,998)" d="M 0.5,0.5 H 341.29 M 0.5,49.5 V 5.5 M 0.5,20 V 49.5" fill="none" stroke="#8e72c8" stroke-width="1"/>
<rect x="353.3" y="1003" width="174.26" height="16" rx="4" fill="#bfaee0"/>
<path d="M 515.26,1009 h 5 l -2.5,4 z" fill="#5E35B1"/>
<path transform="translate(656.03,1024)" d="M 0,0 H 267.64 H 267.64 v 25 H 0 V 20 c 0,-10 -8,8 -8,-7.5 s 8,2.5 8,-7.5 z" fill="#c34118"/>
<path transform="translate(655.03,1023)" d="M 0,0 H 267.64 H 267.64 v 25 H 0 V 20 c 0,-10 -8,8 -8,-7.5 s 8,2.5 8,-7.5 z" fill="#F4511E"/>
<path transform="translate(655.03,1023)" d="M 0.5,0.5 H 267.14 M 0.5,24.5 M 0.5,20 V 24.5" fill="none" stroke="#f78562" stroke-width="1"/>
<rect x="690.4" y="1028" width="227.27" height="16" rx="4" fill="#fbb9a5"/>
<path d="M 905.37,1034 h 5 l -2.5,4 z" fill="#F4511E"/>
<path transform="translate(313.24,1050)" d="M 0,0 H 33.03 H 33.03 v 25 H 0 V 20 c 0,-10 -8,8 -8,-7.5 s 8,2.5 8,-7.5 z" fill="#2e3a89"/>
<path transform="translate(312.24,1049)" d="M 0,0 H 33.03 H 33.03 v 25 H 0 V 20 c 0,-10 -8,8 -8,-7.5 s 8,2.5 8,-7.5 z" fill="#3949AB"/>
<path transform="translate(312.24,1049)" d="M 0.5,0.5 H 32.53 M 0.5,24.5 M 0.5,20 V 24.5" fill="none" stroke="#7480c4" stroke-width="1"/>
<rect x="317.24" y="1054" width="23.03" height="16" rx="4" fill="#b0b6dd"/>
<path transform="translate(38.3,1076)" d="M 0,0 H 15 l 6,4 3,0 6,-4 H 278.84 H 278.84 v 25 H 278.84 v 5 c 0,10 -8,-8 -8,7.5 s 8,-2.5 8,7.5 v 31 H 278.84 v 5 c 0,10 -8,-8 -8,7.5 s 8,-2.5 8,7.5 v 5 H 29.5 l -6,4 -3,0 -6,-4 H 0 z" fill="#2d7230"/>
<path transform="translate(37.3,1075)" d="M 0,0 H 15 l 6,4 3,0 6,-4 H 278.84 H 278.84 v 25 H 278.84 v 5 c 0,10 -8,-8 -8,7.5 s 8,-2.5 8,7.5 v 31 H 278.84 v 5 c 0,10 -8,-8 -8,7.5 s 8,-2.5 8,7.5 v 5 H 29.5 l -6,4 -3,0 -6,-4 H 0 z" fill="#388E3C"/>
<path transform="translate(37.3,1075)" d="M 0.5,0.5 H 15 l 6,4 3,0 6,-4 H 278.34 M 0.5,8 V 100.5" fill="none" stroke="#74b076" stroke-width="1"/>
<rect x="234.78" y="1080" width="68.37" height="16" rx="4" fill="#afd2b1"/>
<path d="M 290.84,1086 h 5 l -2.5,4 z" fill="#388E3C"/>
<path transform="translate(318.14,1101)" d="M 0,0 H 341.79 H 341.79 v 25 H 341.79 v 5 c 0,10 -8,-8 -8,7.5 s 8,-2.5 8,7.5 v 5 H 0 V 20 c 0,-10 -8,8 -8,-7.5 s 8,2.5 8,-7.5 z" fill="#4b2a8e"/>
<path transform="translate(317.14,1100)" d="M 0,0 H 341.79 H 341.79 v 25 H 341.79 v 5 c 0,10 -8,-8 -8,7.5 s 8,-2.5 8,7.5 v 5 H 0 V 20 c 0,-10 -8,8 -8,-7.5 s 8,2.5 8,-7.5 z" fill="#5E35B1"/>
<path transform="translate(317.14,1100)" d="M 0.5,0.5 H 341.29 M 0.5,49.5 V 5.5 M 0.5,20 V 49.5" fill="none" stroke="#8e72c8" stroke-width="1"/>
<rect x="358.2" y="1105" width="174.26" height="16" rx="4" fill="#bfaee0"/>
<path d="M 520.16,1111 h 5 l -2.5,4 z" fill="#5E35B1"/>
<path transform="translate(660.93,1126)" d="M 0,0 H 267.64 H 267.64 v 25 H 0 V 20 c 0,-10 -8,8 -8,-7.5 s 8,2.5 8,-7.5 z" fill="#c34118"/>
<path transform="translate(659.93,1125)" d="M 0,0 H 267.64 H 267.64 v 25 H 0 V 20 c 0,-10 -8,8 -8,-7.5 s 8,2.5 8,-7.5 z" fill="#F4511E"/>
<path transform="translate(659.93,1125)" d="M 0.5,0.5 H 267.14 M 0.5,24.5 M 0.5,20 V 24.5" fill="none" stroke="#f78562" stroke-width="1"/>
<rect x="695.3" y="1130" width="227.27" height="16" rx="4" fill="#fbb9a5"/>
<path d="M 910.27,1136 h 5 l -2.5,4 z" fill="#F4511E"/>
<path transform="translate(318.14,1152)" d="M 0,0 H 33.03 H 33.03 v 25 H 0 V 20 c 0,-10 -8,8 -8,-7.5 s 8,2.5 8,-7.5 z" fill="#2e3a89"/>
<path transform="translate(317.14,1151)" d="M 0,0 H 33.03 H 33.03 v 25 H 0 V 20 c 0,-10 -8,8 -8,-7.5 s 8,2.5 8,-7.5 z" fill="#3949AB"/>
<path transform="translate(317.14,1151)" d="M 0.5,0.5 H 32.53 M 0.5,24.5 M 0.5,20 V 24.5" fill="none" stroke="#7480c4" stroke-width="1"/>
<rect x="322.14" y="1156" width="23.03" height="16" rx="4" fill="#b0b6dd"/>
<path transform="translate(38.3,1178)" d="M 0,0 H 15 l 6,4 3,0 6,-4 H 321.2 H 321.2 v 25 H 321.2 v 5 c 0,10 -8,-8 -8,7.5 s 8,-2.5 8,7.5 v 31 H 321.2 v 5 c 0,10 -8,-8 -8,7.5 s 8,-2.5 8,7.5 v 5 H 29.5 l -6,4 -3,0 -6,-4 H 0 z" fill="#2d7230"/>
<path transform="translate(37.3,1177)" d="M 0,0 H 15 l 6,4 3,0 6,-4 H 321.2 H 321.2 v 25 H 321.2 v 5 c 0,10 -8,-8 -8,7.5 s 8,-2.5 8,7.5 v 31 H 321.2 v 5 c 0,10 -8,-8 -8,7.5 s 8,-2.5 8,7.5 v 5 H 29.5 l -6,4 -3,0 -6,-4 H 0 z" fill="#388E3C"/>
<path transform="translate(37.3,1177)" d="M 0.5,0.5 H 15 l 6,4 3,0 6,-4 H 320.7 M 0.5,8 V 100.5" fill="none" stroke="#74b076" stroke-width="1"/>
<rect x="234.78" y="1182" width="110.72" height="16" rx="4" fill="#afd2b1"/>
<path d="M 333.2,1188 h 5 l -2.5,4 z" fill="#388E3C"/>
<path transform="translate(360.5,1203)" d="M 0,0 H 341.79 H 341.79 v 25 H 341.79 v 5 c 0,10 -8,-8 -8,7.5 s 8,-2.5 8,7.5 v 5 H 0 V 20 c 0,-10 -8,8 -8,-7.5 s 8,2.5 8,-7.5 z" fill="#4b2a8e"/>
<path transform="translate(359.5,1202)" d="M 0,0 H 341.79 H 341.79 v 25 H 341.79 v 5 c 0,10 -8,-8 -8,7.5 s 8,-2.5 8,7.5 v 5 H 0 V 20 c 0,-10 -8,8 -8,-7.5 s 8,2.5 8,-7.5 z" fill="#5E35B1"/>
<path transform="translate(359.5,1202)" d="M 0.5,0.5 H 341.29 M 0.5,49.5 V 5.5 M 0.5,20 V 49.5" fill="none" stroke="#8e72c8" stroke-width="1"/>
<rect x="400.56" y="1207" width="174.26" height="16" rx="4" fill="#bfaee0"/>
<path d="M 562.52,1213 h 5 l -2.5,4 z" fill="#5E35B1"/>
<path transform="translate(703.29,1228)" d="M 0,0 H 267.64 H 267.64 v 25 H 0 V 20 c 0,-10 -8,8 -8,-7.5 s 8,2.5 8,-7.5 z" fill="#c34118"/>
<path transform="translate(702.29,1227)" d="M 0,0 H 267.64 H 267.64 v 25 H 0 V 20 c 0,-10 -8,8 -8,-7.5 s 8,2.5 8,-7.5 z" fill="#F4511E"/>
<path transform="translate(702.29,1227)" d="M 0.5,0.5 H 267.14 M 0.5,24.5 M 0.5,20 V 24.5" fill="none" stroke="#f78562" stroke-width="1"/>
<rect x="737.66" y="1232" width="227.27" height="16" rx="4" fill="#fbb9a5"/>
<path d="M 952.63,1238 h 5 l -2.5,4 z" fill="#F4511E"/>
<path transform="translate(360.5,1254)" d="M 0,0 H 28.15 H 28.15 v 25 H 0 V 20 c 0,-10 -8,8 -8,-7.5 s 8,2.5 8,-7.5 z" fill="#2e3a89"/>
<path transform="translate(359.5,1253)" d="M 0,0 H 28.15 H 28.15 v 25 H 0 V 20 c 0,-10 -8,8 -8,-7.5 s 8,2.5 8,-7.5 z" fill="#3949AB"/>
<path transform="translate(359.5,1253)" d="M 0.5,0.5 H 27.65 M 0.5,24.5 M 0.5,20 V 24.5" fill="none" stroke="#7480c4" stroke-width="1"/>
<rect x="364.5" y="1258" width="18.15" height="16" rx="4" fill="#b0b6dd"/>
<path transform="translate(38.3,1280)" d="M 0,0 H 15 l 6,4 3,0 6,-4 H 214.74 H 214.74 v 5 c 0,10 -8,-8 -8,7.5 s 8,-2.5 8,7.5 v 31 H 29.5 l -6,4 -3,0 -6,-4 H 0 z" fill="#c34118"/>
<path transform="translate(37.3,1279)" d="M 0,0 H 15 l 6,4 3,0 6,-4 H 214.74 H 214.74 v 5 c 0,10 -8,-8 -8,7.5 s 8,-2.5 8,7.5 v 31 H 29.5 l -6,4 -3,0 -6,-4 H 0 z" fill="#F4511E"/>
<path transform="translate(37.3,1279)" d="M 0.5,0.5 H 15 l 6,4 3,0 6,-4 H 214.24 M 0.5,8 V 50.5" fill="none" stroke="#f78562" stroke-width="1"/>
<rect x="71.85" y="1284" width="144.97" height="16" rx="4" fill="#fbb9a5"/>
<path d="M 204.52,1290 h 5 l -2.5,4 z" fill="#F4511E"/>
<path transform="translate(254.04,1280)" d="M 0,0 H 77.81 H 77.81 v 5 c 0,10 -8,-8 -8,7.5 s 8,-2.5 8,7.5 v 6 H 77.81 v 5 c 0,10 -8,-8 -8,7.5 s 8,-2.5 8,7.5 v 5 H 0 V 20 c 0,-10 -8,8 -8,-7.5 s 8,2.5 8,-7.5 z" fill="#ad164d"/>
<path transform="translate(253.04,1279)" d="M 0,0 H 77.81 H 77.81 v 5 c 0,10 -8,-8 -8,7.5 s 8,-2.5 8,7.5 v 6 H 77.81 v 5 c 0,10 -8,-8 -8,7.5 s 8,-2.5 8,7.5 v 5 H 0 V 20 c 0,-10 -8,8 -8,-7.5 s 8,2.5 8,-7.5 z" fill="#D81B60"/>
<path transform="translate(253.04,1279)" d="M 0.5,0.5 H 77.31 M 0.5,50.5 V 5.5 M 0.5,20 V 50.5" fill="none" stroke="#e45f90" stroke-width="1"/>
<rect x="262.64" y="1283.6" width="16.4" height="16.6" rx="4" fill="#4909c9" stroke="#ea82a8" stroke-width="1.2"/>
<path d="M 269.04,1288.81 L 269.71,1286.74 L 272.18,1286.74 L 272.84,1288.81 L 272.84,1288.81 L 274.97,1288.35 L 276.2,1290.49 L 274.74,1292.1 L 274.74,1292.1 L 276.2,1293.71 L 274.97,1295.85 L 272.84,1295.39 L 272.84,1295.39 L 272.18,1297.46 L 269.71,1297.46 L 269.04,1295.39 L 269.04,1295.39 L 266.92,1295.85 L 265.68,1293.71 L 267.14,1292.1 L 267.14,1292.1 L 265.68,1290.49 L 266.92,1288.35 L 269.04,1288.81 Z M 269.04,1292.1 a 1.9,1.9 0 1,0 3.8,0 a 1.9,1.9 0 1,0 -3.8,0 Z" fill="#f4bfd2" fill-rule="evenodd"/>
<path transform="translate(332.86,1280)" d="M 0,0 H 97.83 H 97.83 v 25 H 0 V 20 c 0,-10 -8,8 -8,-7.5 s 8,2.5 8,-7.5 z" fill="#ad164d"/>
<path transform="translate(331.86,1279)" d="M 0,0 H 97.83 H 97.83 v 25 H 0 V 20 c 0,-10 -8,8 -8,-7.5 s 8,2.5 8,-7.5 z" fill="#D81B60"/>
<path transform="translate(331.86,1279)" d="M 0.5,0.5 H 97.33 M 0.5,24.5 M 0.5,20 V 24.5" fill="none" stroke="#e45f90" stroke-width="1"/>
<rect x="351.74" y="1284" width="58.07" height="16" rx="4" fill="#efa4bf"/>
<path transform="translate(332.86,1306)" d="M 0,0 H 151.93 H 151.93 v 25 H 0 V 20 c 0,-10 -8,8 -8,-7.5 s 8,2.5 8,-7.5 z" fill="#c34118"/>
<path transform="translate(331.86,1305)" d="M 0,0 H 151.93 H 151.93 v 25 H 0 V 20 c 0,-10 -8,8 -8,-7.5 s 8,2.5 8,-7.5 z" fill="#F4511E"/>
<path transform="translate(331.86,1305)" d="M 0.5,0.5 H 151.43 M 0.5,24.5 M 0.5,20 V 24.5" fill="none" stroke="#f78562" stroke-width="1"/>
<rect x="367.23" y="1310" width="111.55" height="16" rx="4" fill="#fbb9a5"/>
<path d="M 466.49,1316 h 5 l -2.5,4 z" fill="#F4511E"/>
<path transform="translate(38.3,1332)" d="M 0,0 H 15 l 6,4 3,0 6,-4 H 286.38 H 286.38 v 25 H 286.38 v 5 c 0,10 -8,-8 -8,7.5 s 8,-2.5 8,7.5 v 31 H 286.38 v 5 c 0,10 -8,-8 -8,7.5 s 8,-2.5 8,7.5 v 6 H 286.38 v 5 c 0,10 -8,-8 -8,7.5 s 8,-2.5 8,7.5 v 5 H 29.5 l -6,4 -3,0 -6,-4 H 0 z" fill="#4b2a8e"/>
<path transform="translate(37.3,1331)" d="M 0,0 H 15 l 6,4 3,0 6,-4 H 286.38 H 286.38 v 25 H 286.38 v 5 c 0,10 -8,-8 -8,7.5 s 8,-2.5 8,7.5 v 31 H 286.38 v 5 c 0,10 -8,-8 -8,7.5 s 8,-2.5 8,7.5 v 6 H 286.38 v 5 c 0,10 -8,-8 -8,7.5 s 8,-2.5 8,7.5 v 5 H 29.5 l -6,4 -3,0 -6,-4 H 0 z" fill="#5E35B1"/>
<path transform="translate(37.3,1331)" d="M 0.5,0.5 H 15 l 6,4 3,0 6,-4 H 285.88 M 0.5,8 V 126.5" fill="none" stroke="#8e72c8" stroke-width="1"/>
<rect x="78.37" y="1336" width="174.26" height="16" rx="4" fill="#bfaee0"/>
<path d="M 240.32,1342 h 5 l -2.5,4 z" fill="#5E35B1"/>
<path transform="translate(325.69,1357)" d="M 0,0 H 341.79 H 341.79 v 25 H 341.79 v 5 c 0,10 -8,-8 -8,7.5 s 8,-2.5 8,7.5 v 5 H 0 V 20 c 0,-10 -8,8 -8,-7.5 s 8,2.5 8,-7.5 z" fill="#4b2a8e"/>
<path transform="translate(324.69,1356)" d="M 0,0 H 341.79 H 341.79 v 25 H 341.79 v 5 c 0,10 -8,-8 -8,7.5 s 8,-2.5 8,7.5 v 5 H 0 V 20 c 0,-10 -8,8 -8,-7.5 s 8,2.5 8,-7.5 z" fill="#5E35B1"/>
<path transform="translate(324.69,1356)" d="M 0.5,0.5 H 341.29 M 0.5,49.5 V 5.5 M 0.5,20 V 49.5" fill="none" stroke="#8e72c8" stroke-width="1"/>
<rect x="365.75" y="1361" width="174.26" height="16" rx="4" fill="#bfaee0"/>
<path d="M 527.71,1367 h 5 l -2.5,4 z" fill="#5E35B1"/>
<path transform="translate(668.48,1382)" d="M 0,0 H 267.64 H 267.64 v 25 H 0 V 20 c 0,-10 -8,8 -8,-7.5 s 8,2.5 8,-7.5 z" fill="#c34118"/>
<path transform="translate(667.48,1381)" d="M 0,0 H 267.64 H 267.64 v 25 H 0 V 20 c 0,-10 -8,8 -8,-7.5 s 8,2.5 8,-7.5 z" fill="#F4511E"/>
<path transform="translate(667.48,1381)" d="M 0.5,0.5 H 267.14 M 0.5,24.5 M 0.5,20 V 24.5" fill="none" stroke="#f78562" stroke-width="1"/>
<rect x="702.85" y="1386" width="227.27" height="16" rx="4" fill="#fbb9a5"/>
<path d="M 917.82,1392 h 5 l -2.5,4 z" fill="#F4511E"/>
<path transform="translate(325.69,1408)" d="M 0,0 H 84.89 H 84.89 v 25 H 0 V 20 c 0,-10 -8,8 -8,-7.5 s 8,2.5 8,-7.5 z" fill="#6f9c3b"/>
<path transform="translate(324.69,1407)" d="M 0,0 H 84.89 H 84.89 v 25 H 0 V 20 c 0,-10 -8,8 -8,-7.5 s 8,2.5 8,-7.5 z" fill="#8BC34A"/>
<path transform="translate(324.69,1407)" d="M 0.5,0.5 H 84.39 M 0.5,24.5 M 0.5,20 V 24.5" fill="none" stroke="#aed580" stroke-width="1"/>
<rect x="329.69" y="1412" width="74.89" height="16" rx="4" fill="#d1e7b7"/>
<path d="M 392.27,1418 h 5 l -2.5,4 z" fill="#8BC34A"/>
<path transform="translate(325.69,1434)" d="M 0,0 H 185.34 H 185.34 v 25 H 0 V 20 c 0,-10 -8,8 -8,-7.5 s 8,2.5 8,-7.5 z" fill="#c34118"/>
<path transform="translate(324.69,1433)" d="M 0,0 H 185.34 H 185.34 v 25 H 0 V 20 c 0,-10 -8,8 -8,-7.5 s 8,2.5 8,-7.5 z" fill="#F4511E"/>
<path transform="translate(324.69,1433)" d="M 0.5,0.5 H 184.84 M 0.5,24.5 M 0.5,20 V 24.5" fill="none" stroke="#f78562" stroke-width="1"/>
<rect x="360.06" y="1438" width="144.97" height="16" rx="4" fill="#fbb9a5"/>
<path d="M 492.73,1444 h 5 l -2.5,4 z" fill="#F4511E"/>
<path transform="translate(38.3,1460)" d="M 0,0 H 15 l 6,4 3,0 6,-4 H 168.04 H 168.04 v 25 H 168.04 v 5 c 0,10 -8,-8 -8,7.5 s 8,-2.5 8,7.5 v 31 H 168.04 v 5 c 0,10 -8,-8 -8,7.5 s 8,-2.5 8,7.5 v 5 H 29.5 l -6,4 -3,0 -6,-4 H 0 z" fill="#2d7230"/>
<path transform="translate(37.3,1459)" d="M 0,0 H 15 l 6,4 3,0 6,-4 H 168.04 H 168.04 v 25 H 168.04 v 5 c 0,10 -8,-8 -8,7.5 s 8,-2.5 8,7.5 v 31 H 168.04 v 5 c 0,10 -8,-8 -8,7.5 s 8,-2.5 8,7.5 v 5 H 29.5 l -6,4 -3,0 -6,-4 H 0 z" fill="#388E3C"/>
<path transform="translate(37.3,1459)" d="M 0.5,0.5 H 15 l 6,4 3,0 6,-4 H 167.54 M 0.5,8 V 100.5" fill="none" stroke="#74b076" stroke-width="1"/>
<rect x="120.73" y="1464" width="71.61" height="16" rx="4" fill="#afd2b1"/>
<path d="M 180.05,1470 h 5 l -2.5,4 z" fill="#388E3C"/>
<path transform="translate(207.35,1485)" d="M 0,0 H 341.79 H 341.79 v 25 H 341.79 v 5 c 0,10 -8,-8 -8,7.5 s 8,-2.5 8,7.5 v 5 H 0 V 20 c 0,-10 -8,8 -8,-7.5 s 8,2.5 8,-7.5 z" fill="#4b2a8e"/>
<path transform="translate(206.35,1484)" d="M 0,0 H 341.79 H 341.79 v 25 H 341.79 v 5 c 0,10 -8,-8 -8,7.5 s 8,-2.5 8,7.5 v 5 H 0 V 20 c 0,-10 -8,8 -8,-7.5 s 8,2.5 8,-7.5 z" fill="#5E35B1"/>
<path transform="translate(206.35,1484)" d="M 0.5,0.5 H 341.29 M 0.5,49.5 V 5.5 M 0.5,20 V 49.5" fill="none" stroke="#8e72c8" stroke-width="1"/>
<rect x="247.41" y="1489" width="174.26" height="16" rx="4" fill="#bfaee0"/>
<path d="M 409.37,1495 h 5 l -2.5,4 z" fill="#5E35B1"/>
<path transform="translate(550.14,1510)" d="M 0,0 H 185.34 H 185.34 v 25 H 0 V 20 c 0,-10 -8,8 -8,-7.5 s 8,2.5 8,-7.5 z" fill="#c34118"/>
<path transform="translate(549.14,1509)" d="M 0,0 H 185.34 H 185.34 v 25 H 0 V 20 c 0,-10 -8,8 -8,-7.5 s 8,2.5 8,-7.5 z" fill="#F4511E"/>
<path transform="translate(549.14,1509)" d="M 0.5,0.5 H 184.84 M 0.5,24.5 M 0.5,20 V 24.5" fill="none" stroke="#f78562" stroke-width="1"/>
<rect x="584.51" y="1514" width="144.97" height="16" rx="4" fill="#fbb9a5"/>
<path d="M 717.18,1520 h 5 l -2.5,4 z" fill="#F4511E"/>
<path transform="translate(207.35,1536)" d="M 0,0 H 101.92 H 101.92 v 25 H 0 V 20 c 0,-10 -8,8 -8,-7.5 s 8,2.5 8,-7.5 z" fill="#ad164d"/>
<path transform="translate(206.35,1535)" d="M 0,0 H 101.92 H 101.92 v 25 H 0 V 20 c 0,-10 -8,8 -8,-7.5 s 8,2.5 8,-7.5 z" fill="#D81B60"/>
<path transform="translate(206.35,1535)" d="M 0.5,0.5 H 101.42 M 0.5,24.5 M 0.5,20 V 24.5" fill="none" stroke="#e45f90" stroke-width="1"/>
<rect x="226.23" y="1540" width="62.16" height="16" rx="4" fill="#efa4bf"/>
<path transform="translate(38.3,1562)" d="M 0,0 H 15 l 6,4 3,0 6,-4 H 159.89 H 159.89 v 25 H 159.89 v 5 c 0,10 -8,-8 -8,7.5 s 8,-2.5 8,7.5 v 31 H 159.89 v 5 c 0,10 -8,-8 -8,7.5 s 8,-2.5 8,7.5 v 5 H 29.5 l -6,4 -3,0 -6,-4 H 0 z" fill="#2d7230"/>
<path transform="translate(37.3,1561)" d="M 0,0 H 15 l 6,4 3,0 6,-4 H 159.89 H 159.89 v 25 H 159.89 v 5 c 0,10 -8,-8 -8,7.5 s 8,-2.5 8,7.5 v 31 H 159.89 v 5 c 0,10 -8,-8 -8,7.5 s 8,-2.5 8,7.5 v 5 H 29.5 l -6,4 -3,0 -6,-4 H 0 z" fill="#388E3C"/>
<path transform="translate(37.3,1561)" d="M 0.5,0.5 H 15 l 6,4 3,0 6,-4 H 159.39 M 0.5,8 V 100.5" fill="none" stroke="#74b076" stroke-width="1"/>
<rect x="120.73" y="1566" width="63.46" height="16" rx="4" fill="#afd2b1"/>
<path d="M 171.9,1572 h 5 l -2.5,4 z" fill="#388E3C"/>
<path transform="translate(199.2,1587)" d="M 0,0 H 341.79 H 341.79 v 25 H 341.79 v 5 c 0,10 -8,-8 -8,7.5 s 8,-2.5 8,7.5 v 5 H 0 V 20 c 0,-10 -8,8 -8,-7.5 s 8,2.5 8,-7.5 z" fill="#4b2a8e"/>
<path transform="translate(198.2,1586)" d="M 0,0 H 341.79 H 341.79 v 25 H 341.79 v 5 c 0,10 -8,-8 -8,7.5 s 8,-2.5 8,7.5 v 5 H 0 V 20 c 0,-10 -8,8 -8,-7.5 s 8,2.5 8,-7.5 z" fill="#5E35B1"/>
<path transform="translate(198.2,1586)" d="M 0.5,0.5 H 341.29 M 0.5,49.5 V 5.5 M 0.5,20 V 49.5" fill="none" stroke="#8e72c8" stroke-width="1"/>
<rect x="239.26" y="1591" width="174.26" height="16" rx="4" fill="#bfaee0"/>
<path d="M 401.22,1597 h 5 l -2.5,4 z" fill="#5E35B1"/>
<path transform="translate(541.98,1612)" d="M 0,0 H 185.34 H 185.34 v 25 H 0 V 20 c 0,-10 -8,8 -8,-7.5 s 8,2.5 8,-7.5 z" fill="#c34118"/>
<path transform="translate(540.98,1611)" d="M 0,0 H 185.34 H 185.34 v 25 H 0 V 20 c 0,-10 -8,8 -8,-7.5 s 8,2.5 8,-7.5 z" fill="#F4511E"/>
<path transform="translate(540.98,1611)" d="M 0.5,0.5 H 184.84 M 0.5,24.5 M 0.5,20 V 24.5" fill="none" stroke="#f78562" stroke-width="1"/>
<rect x="576.36" y="1616" width="144.97" height="16" rx="4" fill="#fbb9a5"/>
<path d="M 709.03,1622 h 5 l -2.5,4 z" fill="#F4511E"/>
<path transform="translate(199.2,1638)" d="M 0,0 H 36.3 H 36.3 v 25 H 0 V 20 c 0,-10 -8,8 -8,-7.5 s 8,2.5 8,-7.5 z" fill="#2e3a89"/>
<path transform="translate(198.2,1637)" d="M 0,0 H 36.3 H 36.3 v 25 H 0 V 20 c 0,-10 -8,8 -8,-7.5 s 8,2.5 8,-7.5 z" fill="#3949AB"/>
<path transform="translate(198.2,1637)" d="M 0.5,0.5 H 35.8 M 0.5,24.5 M 0.5,20 V 24.5" fill="none" stroke="#7480c4" stroke-width="1"/>
<rect x="203.2" y="1642" width="26.3" height="16" rx="4" fill="#b0b6dd"/>
<path transform="translate(38.3,1664)" d="M 0,0 H 15 l 6,4 3,0 6,-4 H 164.79 H 164.79 v 25 H 164.79 v 5 c 0,10 -8,-8 -8,7.5 s 8,-2.5 8,7.5 v 31 H 164.79 v 5 c 0,10 -8,-8 -8,7.5 s 8,-2.5 8,7.5 v 5 H 29.5 l -6,4 -3,0 -6,-4 H 0 z" fill="#2d7230"/>
<path transform="translate(37.3,1663)" d="M 0,0 H 15 l 6,4 3,0 6,-4 H 164.79 H 164.79 v 25 H 164.79 v 5 c 0,10 -8,-8 -8,7.5 s 8,-2.5 8,7.5 v 31 H 164.79 v 5 c 0,10 -8,-8 -8,7.5 s 8,-2.5 8,7.5 v 5 H 29.5 l -6,4 -3,0 -6,-4 H 0 z" fill="#388E3C"/>
<path transform="translate(37.3,1663)" d="M 0.5,0.5 H 15 l 6,4 3,0 6,-4 H 164.29 M 0.5,8 V 100.5" fill="none" stroke="#74b076" stroke-width="1"/>
<rect x="120.73" y="1668" width="68.37" height="16" rx="4" fill="#afd2b1"/>
<path d="M 176.8,1674 h 5 l -2.5,4 z" fill="#388E3C"/>
<path transform="translate(204.1,1689)" d="M 0,0 H 341.79 H 341.79 v 25 H 341.79 v 5 c 0,10 -8,-8 -8,7.5 s 8,-2.5 8,7.5 v 5 H 0 V 20 c 0,-10 -8,8 -8,-7.5 s 8,2.5 8,-7.5 z" fill="#4b2a8e"/>
<path transform="translate(203.1,1688)" d="M 0,0 H 341.79 H 341.79 v 25 H 341.79 v 5 c 0,10 -8,-8 -8,7.5 s 8,-2.5 8,7.5 v 5 H 0 V 20 c 0,-10 -8,8 -8,-7.5 s 8,2.5 8,-7.5 z" fill="#5E35B1"/>
<path transform="translate(203.1,1688)" d="M 0.5,0.5 H 341.29 M 0.5,49.5 V 5.5 M 0.5,20 V 49.5" fill="none" stroke="#8e72c8" stroke-width="1"/>
<rect x="244.16" y="1693" width="174.26" height="16" rx="4" fill="#bfaee0"/>
<path d="M 406.12,1699 h 5 l -2.5,4 z" fill="#5E35B1"/>
<path transform="translate(546.89,1714)" d="M 0,0 H 185.34 H 185.34 v 25 H 0 V 20 c 0,-10 -8,8 -8,-7.5 s 8,2.5 8,-7.5 z" fill="#c34118"/>
<path transform="translate(545.89,1713)" d="M 0,0 H 185.34 H 185.34 v 25 H 0 V 20 c 0,-10 -8,8 -8,-7.5 s 8,2.5 8,-7.5 z" fill="#F4511E"/>
<path transform="translate(545.89,1713)" d="M 0.5,0.5 H 184.84 M 0.5,24.5 M 0.5,20 V 24.5" fill="none" stroke="#f78562" stroke-width="1"/>
<rect x="581.26" y="1718" width="144.97" height="16" rx="4" fill="#fbb9a5"/>
<path d="M 713.93,1724 h 5 l -2.5,4 z" fill="#F4511E"/>
<path transform="translate(204.1,1740)" d="M 0,0 H 36.3 H 36.3 v 25 H 0 V 20 c 0,-10 -8,8 -8,-7.5 s 8,2.5 8,-7.5 z" fill="#2e3a89"/>
<path transform="translate(203.1,1739)" d="M 0,0 H 36.3 H 36.3 v 25 H 0 V 20 c 0,-10 -8,8 -8,-7.5 s 8,2.5 8,-7.5 z" fill="#3949AB"/>
<path transform="translate(203.1,1739)" d="M 0.5,0.5 H 35.8 M 0.5,24.5 M 0.5,20 V 24.5" fill="none" stroke="#7480c4" stroke-width="1"/>
<rect x="208.1" y="1744" width="26.3" height="16" rx="4" fill="#b0b6dd"/>
<path transform="translate(38.3,1766)" d="M 0,0 H 15 l 6,4 3,0 6,-4 H 213.93 H 213.93 v 5 c 0,10 -8,-8 -8,7.5 s 8,-2.5 8,7.5 v 31 H 29.5 l -6,4 -3,0 -6,-4 H 0 z" fill="#c34118"/>
<path transform="translate(37.3,1765)" d="M 0,0 H 15 l 6,4 3,0 6,-4 H 213.93 H 213.93 v 5 c 0,10 -8,-8 -8,7.5 s 8,-2.5 8,7.5 v 31 H 29.5 l -6,4 -3,0 -6,-4 H 0 z" fill="#F4511E"/>
<path transform="translate(37.3,1765)" d="M 0.5,0.5 H 15 l 6,4 3,0 6,-4 H 213.43 M 0.5,8 V 50.5" fill="none" stroke="#f78562" stroke-width="1"/>
<rect x="71.85" y="1770" width="144.16" height="16" rx="4" fill="#fbb9a5"/>
<path d="M 203.71,1776 h 5 l -2.5,4 z" fill="#F4511E"/>
<path transform="translate(253.24,1766)" d="M 0,0 H 77.81 H 77.81 v 5 c 0,10 -8,-8 -8,7.5 s 8,-2.5 8,7.5 v 6 H 77.81 v 5 c 0,10 -8,-8 -8,7.5 s 8,-2.5 8,7.5 v 5 H 0 V 20 c 0,-10 -8,8 -8,-7.5 s 8,2.5 8,-7.5 z" fill="#ad164d"/>
<path transform="translate(252.24,1765)" d="M 0,0 H 77.81 H 77.81 v 5 c 0,10 -8,-8 -8,7.5 s 8,-2.5 8,7.5 v 6 H 77.81 v 5 c 0,10 -8,-8 -8,7.5 s 8,-2.5 8,7.5 v 5 H 0 V 20 c 0,-10 -8,8 -8,-7.5 s 8,2.5 8,-7.5 z" fill="#D81B60"/>
<path transform="translate(252.24,1765)" d="M 0.5,0.5 H 77.31 M 0.5,50.5 V 5.5 M 0.5,20 V 50.5" fill="none" stroke="#e45f90" stroke-width="1"/>
<rect x="261.84" y="1769.6" width="16.4" height="16.6" rx="4" fill="#4909c9" stroke="#ea82a8" stroke-width="1.2"/>
<path d="M 268.24,1774.81 L 268.9,1772.74 L 271.37,1772.74 L 272.04,1774.81 L 272.04,1774.81 L 274.16,1774.35 L 275.4,1776.49 L 273.94,1778.1 L 273.94,1778.1 L 275.4,1779.71 L 274.16,1781.85 L 272.04,1781.39 L 272.04,1781.39 L 271.37,1783.46 L 268.9,1783.46 L 268.24,1781.39 L 268.24,1781.39 L 266.11,1781.85 L 264.88,1779.71 L 266.34,1778.1 L 266.34,1778.1 L 264.88,1776.49 L 266.11,1774.35 L 268.24,1774.81 Z M 268.24,1778.1 a 1.9,1.9 0 1,0 3.8,0 a 1.9,1.9 0 1,0 -3.8,0 Z" fill="#f4bfd2" fill-rule="evenodd"/>
<path transform="translate(332.05,1766)" d="M 0,0 H 97.02 H 97.02 v 25 H 0 V 20 c 0,-10 -8,8 -8,-7.5 s 8,2.5 8,-7.5 z" fill="#ad164d"/>
<path transform="translate(331.05,1765)" d="M 0,0 H 97.02 H 97.02 v 25 H 0 V 20 c 0,-10 -8,8 -8,-7.5 s 8,2.5 8,-7.5 z" fill="#D81B60"/>
<path transform="translate(331.05,1765)" d="M 0.5,0.5 H 96.52 M 0.5,24.5 M 0.5,20 V 24.5" fill="none" stroke="#e45f90" stroke-width="1"/>
<rect x="350.93" y="1770" width="57.26" height="16" rx="4" fill="#efa4bf"/>
<path transform="translate(332.05,1792)" d="M 0,0 H 151.93 H 151.93 v 25 H 0 V 20 c 0,-10 -8,8 -8,-7.5 s 8,2.5 8,-7.5 z" fill="#c34118"/>
<path transform="translate(331.05,1791)" d="M 0,0 H 151.93 H 151.93 v 25 H 0 V 20 c 0,-10 -8,8 -8,-7.5 s 8,2.5 8,-7.5 z" fill="#F4511E"/>
<path transform="translate(331.05,1791)" d="M 0.5,0.5 H 151.43 M 0.5,24.5 M 0.5,20 V 24.5" fill="none" stroke="#f78562" stroke-width="1"/>
<rect x="366.42" y="1796" width="111.55" height="16" rx="4" fill="#fbb9a5"/>
<path d="M 465.68,1802 h 5 l -2.5,4 z" fill="#F4511E"/>
<path transform="translate(38.3,1818)" d="M 0,0 H 15 l 6,4 3,0 6,-4 H 286.38 H 286.38 v 25 H 286.38 v 5 c 0,10 -8,-8 -8,7.5 s 8,-2.5 8,7.5 v 31 H 286.38 v 5 c 0,10 -8,-8 -8,7.5 s 8,-2.5 8,7.5 v 6 H 286.38 v 5 c 0,10 -8,-8 -8,7.5 s 8,-2.5 8,7.5 v 5 H 29.5 l -6,4 -3,0 -6,-4 H 0 z" fill="#4b2a8e"/>
<path transform="translate(37.3,1817)" d="M 0,0 H 15 l 6,4 3,0 6,-4 H 286.38 H 286.38 v 25 H 286.38 v 5 c 0,10 -8,-8 -8,7.5 s 8,-2.5 8,7.5 v 31 H 286.38 v 5 c 0,10 -8,-8 -8,7.5 s 8,-2.5 8,7.5 v 6 H 286.38 v 5 c 0,10 -8,-8 -8,7.5 s 8,-2.5 8,7.5 v 5 H 29.5 l -6,4 -3,0 -6,-4 H 0 z" fill="#5E35B1"/>
<path transform="translate(37.3,1817)" d="M 0.5,0.5 H 15 l 6,4 3,0 6,-4 H 285.88 M 0.5,8 V 126.5" fill="none" stroke="#8e72c8" stroke-width="1"/>
<rect x="78.37" y="1822" width="174.26" height="16" rx="4" fill="#bfaee0"/>
<path d="M 240.32,1828 h 5 l -2.5,4 z" fill="#5E35B1"/>
<path transform="translate(325.69,1843)" d="M 0,0 H 341.79 H 341.79 v 25 H 341.79 v 5 c 0,10 -8,-8 -8,7.5 s 8,-2.5 8,7.5 v 5 H 0 V 20 c 0,-10 -8,8 -8,-7.5 s 8,2.5 8,-7.5 z" fill="#4b2a8e"/>
<path transform="translate(324.69,1842)" d="M 0,0 H 341.79 H 341.79 v 25 H 341.79 v 5 c 0,10 -8,-8 -8,7.5 s 8,-2.5 8,7.5 v 5 H 0 V 20 c 0,-10 -8,8 -8,-7.5 s 8,2.5 8,-7.5 z" fill="#5E35B1"/>
<path transform="translate(324.69,1842)" d="M 0.5,0.5 H 341.29 M 0.5,49.5 V 5.5 M 0.5,20 V 49.5" fill="none" stroke="#8e72c8" stroke-width="1"/>
<rect x="365.75" y="1847" width="174.26" height="16" rx="4" fill="#bfaee0"/>
<path d="M 527.71,1853 h 5 l -2.5,4 z" fill="#5E35B1"/>
<path transform="translate(668.48,1868)" d="M 0,0 H 267.64 H 267.64 v 25 H 0 V 20 c 0,-10 -8,8 -8,-7.5 s 8,2.5 8,-7.5 z" fill="#c34118"/>
<path transform="translate(667.48,1867)" d="M 0,0 H 267.64 H 267.64 v 25 H 0 V 20 c 0,-10 -8,8 -8,-7.5 s 8,2.5 8,-7.5 z" fill="#F4511E"/>
<path transform="translate(667.48,1867)" d="M 0.5,0.5 H 267.14 M 0.5,24.5 M 0.5,20 V 24.5" fill="none" stroke="#f78562" stroke-width="1"/>
<rect x="702.85" y="1872" width="227.27" height="16" rx="4" fill="#fbb9a5"/>
<path d="M 917.82,1878 h 5 l -2.5,4 z" fill="#F4511E"/>
<path transform="translate(325.69,1894)" d="M 0,0 H 85.71 H 85.71 v 25 H 0 V 20 c 0,-10 -8,8 -8,-7.5 s 8,2.5 8,-7.5 z" fill="#6f9c3b"/>
<path transform="translate(324.69,1893)" d="M 0,0 H 85.71 H 85.71 v 25 H 0 V 20 c 0,-10 -8,8 -8,-7.5 s 8,2.5 8,-7.5 z" fill="#8BC34A"/>
<path transform="translate(324.69,1893)" d="M 0.5,0.5 H 85.21 M 0.5,24.5 M 0.5,20 V 24.5" fill="none" stroke="#aed580" stroke-width="1"/>
<rect x="329.69" y="1898" width="75.71" height="16" rx="4" fill="#d1e7b7"/>
<path d="M 393.09,1904 h 5 l -2.5,4 z" fill="#8BC34A"/>
<path transform="translate(325.69,1920)" d="M 0,0 H 184.53 H 184.53 v 25 H 0 V 20 c 0,-10 -8,8 -8,-7.5 s 8,2.5 8,-7.5 z" fill="#c34118"/>
<path transform="translate(324.69,1919)" d="M 0,0 H 184.53 H 184.53 v 25 H 0 V 20 c 0,-10 -8,8 -8,-7.5 s 8,2.5 8,-7.5 z" fill="#F4511E"/>
<path transform="translate(324.69,1919)" d="M 0.5,0.5 H 184.03 M 0.5,24.5 M 0.5,20 V 24.5" fill="none" stroke="#f78562" stroke-width="1"/>
<rect x="360.06" y="1924" width="144.16" height="16" rx="4" fill="#fbb9a5"/>
<path d="M 491.92,1930 h 5 l -2.5,4 z" fill="#F4511E"/>
<path transform="translate(38.3,1946)" d="M 0,0 H 15 l 6,4 3,0 6,-4 H 160.72 H 160.72 v 25 H 160.72 v 5 c 0,10 -8,-8 -8,7.5 s 8,-2.5 8,7.5 v 31 H 160.72 v 5 c 0,10 -8,-8 -8,7.5 s 8,-2.5 8,7.5 v 5 H 29.5 l -6,4 -3,0 -6,-4 H 0 z" fill="#2d7230"/>
<path transform="translate(37.3,1945)" d="M 0,0 H 15 l 6,4 3,0 6,-4 H 160.72 H 160.72 v 25 H 160.72 v 5 c 0,10 -8,-8 -8,7.5 s 8,-2.5 8,7.5 v 31 H 160.72 v 5 c 0,10 -8,-8 -8,7.5 s 8,-2.5 8,7.5 v 5 H 29.5 l -6,4 -3,0 -6,-4 H 0 z" fill="#388E3C"/>
<path transform="translate(37.3,1945)" d="M 0.5,0.5 H 15 l 6,4 3,0 6,-4 H 160.22 M 0.5,8 V 100.5" fill="none" stroke="#74b076" stroke-width="1"/>
<rect x="121.55" y="1950" width="63.46" height="16" rx="4" fill="#afd2b1"/>
<path d="M 172.72,1956 h 5 l -2.5,4 z" fill="#388E3C"/>
<path transform="translate(200.02,1971)" d="M 0,0 H 341.79 H 341.79 v 25 H 341.79 v 5 c 0,10 -8,-8 -8,7.5 s 8,-2.5 8,7.5 v 5 H 0 V 20 c 0,-10 -8,8 -8,-7.5 s 8,2.5 8,-7.5 z" fill="#4b2a8e"/>
<path transform="translate(199.02,1970)" d="M 0,0 H 341.79 H 341.79 v 25 H 341.79 v 5 c 0,10 -8,-8 -8,7.5 s 8,-2.5 8,7.5 v 5 H 0 V 20 c 0,-10 -8,8 -8,-7.5 s 8,2.5 8,-7.5 z" fill="#5E35B1"/>
<path transform="translate(199.02,1970)" d="M 0.5,0.5 H 341.29 M 0.5,49.5 V 5.5 M 0.5,20 V 49.5" fill="none" stroke="#8e72c8" stroke-width="1"/>
<rect x="240.08" y="1975" width="174.26" height="16" rx="4" fill="#bfaee0"/>
<path d="M 402.04,1981 h 5 l -2.5,4 z" fill="#5E35B1"/>
<path transform="translate(542.81,1996)" d="M 0,0 H 184.53 H 184.53 v 25 H 0 V 20 c 0,-10 -8,8 -8,-7.5 s 8,2.5 8,-7.5 z" fill="#c34118"/>
<path transform="translate(541.81,1995)" d="M 0,0 H 184.53 H 184.53 v 25 H 0 V 20 c 0,-10 -8,8 -8,-7.5 s 8,2.5 8,-7.5 z" fill="#F4511E"/>
<path transform="translate(541.81,1995)" d="M 0.5,0.5 H 184.03 M 0.5,24.5 M 0.5,20 V 24.5" fill="none" stroke="#f78562" stroke-width="1"/>
<rect x="577.18" y="2000" width="144.16" height="16" rx="4" fill="#fbb9a5"/>
<path d="M 709.04,2006 h 5 l -2.5,4 z" fill="#F4511E"/>
<path transform="translate(200.02,2022)" d="M 0,0 H 36.3 H 36.3 v 25 H 0 V 20 c 0,-10 -8,8 -8,-7.5 s 8,2.5 8,-7.5 z" fill="#2e3a89"/>
<path transform="translate(199.02,2021)" d="M 0,0 H 36.3 H 36.3 v 25 H 0 V 20 c 0,-10 -8,8 -8,-7.5 s 8,2.5 8,-7.5 z" fill="#3949AB"/>
<path transform="translate(199.02,2021)" d="M 0.5,0.5 H 35.8 M 0.5,24.5 M 0.5,20 V 24.5" fill="none" stroke="#7480c4" stroke-width="1"/>
<rect x="204.02" y="2026" width="26.3" height="16" rx="4" fill="#b0b6dd"/>
<path transform="translate(38.3,2048)" d="M 0,0 H 15 l 6,4 3,0 6,-4 H 279.91 H 279.91 v 5 c 0,10 -8,-8 -8,7.5 s 8,-2.5 8,7.5 v 31 H 29.5 l -6,4 -3,0 -6,-4 H 0 z" fill="#c34118"/>
<path transform="translate(37.3,2047)" d="M 0,0 H 15 l 6,4 3,0 6,-4 H 279.91 H 279.91 v 5 c 0,10 -8,-8 -8,7.5 s 8,-2.5 8,7.5 v 31 H 29.5 l -6,4 -3,0 -6,-4 H 0 z" fill="#F4511E"/>
<path transform="translate(37.3,2047)" d="M 0.5,0.5 H 15 l 6,4 3,0 6,-4 H 279.41 M 0.5,8 V 50.5" fill="none" stroke="#f78562" stroke-width="1"/>
<rect x="71.85" y="2052" width="210.14" height="16" rx="4" fill="#fbb9a5"/>
<path d="M 269.69,2058 h 5 l -2.5,4 z" fill="#F4511E"/>
<path transform="translate(319.22,2048)" d="M 0,0 H 77.81 H 77.81 v 5 c 0,10 -8,-8 -8,7.5 s 8,-2.5 8,7.5 v 6 H 77.81 v 5 c 0,10 -8,-8 -8,7.5 s 8,-2.5 8,7.5 v 5 H 0 V 20 c 0,-10 -8,8 -8,-7.5 s 8,2.5 8,-7.5 z" fill="#ad164d"/>
<path transform="translate(318.22,2047)" d="M 0,0 H 77.81 H 77.81 v 5 c 0,10 -8,-8 -8,7.5 s 8,-2.5 8,7.5 v 6 H 77.81 v 5 c 0,10 -8,-8 -8,7.5 s 8,-2.5 8,7.5 v 5 H 0 V 20 c 0,-10 -8,8 -8,-7.5 s 8,2.5 8,-7.5 z" fill="#D81B60"/>
<path transform="translate(318.22,2047)" d="M 0.5,0.5 H 77.31 M 0.5,50.5 V 5.5 M 0.5,20 V 50.5" fill="none" stroke="#e45f90" stroke-width="1"/>
<rect x="327.82" y="2051.6" width="16.4" height="16.6" rx="4" fill="#4909c9" stroke="#ea82a8" stroke-width="1.2"/>
<path d="M 334.22,2056.81 L 334.88,2054.74 L 337.35,2054.74 L 338.02,2056.81 L 338.02,2056.81 L 340.14,2056.35 L 341.38,2058.49 L 339.92,2060.1 L 339.92,2060.1 L 341.38,2061.71 L 340.14,2063.85 L 338.02,2063.39 L 338.02,2063.39 L 337.35,2065.46 L 334.88,2065.46 L 334.22,2063.39 L 334.22,2063.39 L 332.09,2063.85 L 330.86,2061.71 L 332.32,2060.1 L 332.32,2060.1 L 330.86,2058.49 L 332.09,2056.35 L 334.22,2056.81 Z M 334.22,2060.1 a 1.9,1.9 0 1,0 3.8,0 a 1.9,1.9 0 1,0 -3.8,0 Z" fill="#f4bfd2" fill-rule="evenodd"/>
<path transform="translate(398.03,2048)" d="M 0,0 H 104.34 H 104.34 v 25 H 0 V 20 c 0,-10 -8,8 -8,-7.5 s 8,2.5 8,-7.5 z" fill="#ad164d"/>
<path transform="translate(397.03,2047)" d="M 0,0 H 104.34 H 104.34 v 25 H 0 V 20 c 0,-10 -8,8 -8,-7.5 s 8,2.5 8,-7.5 z" fill="#D81B60"/>
<path transform="translate(397.03,2047)" d="M 0.5,0.5 H 103.84 M 0.5,24.5 M 0.5,20 V 24.5" fill="none" stroke="#e45f90" stroke-width="1"/>
<rect x="416.91" y="2052" width="64.57" height="16" rx="4" fill="#efa4bf"/>
<path transform="translate(398.03,2074)" d="M 0,0 H 151.93 H 151.93 v 25 H 0 V 20 c 0,-10 -8,8 -8,-7.5 s 8,2.5 8,-7.5 z" fill="#c34118"/>
<path transform="translate(397.03,2073)" d="M 0,0 H 151.93 H 151.93 v 25 H 0 V 20 c 0,-10 -8,8 -8,-7.5 s 8,2.5 8,-7.5 z" fill="#F4511E"/>
<path transform="translate(397.03,2073)" d="M 0.5,0.5 H 151.43 M 0.5,24.5 M 0.5,20 V 24.5" fill="none" stroke="#f78562" stroke-width="1"/>
<rect x="432.41" y="2078" width="111.55" height="16" rx="4" fill="#fbb9a5"/>
<path d="M 531.66,2084 h 5 l -2.5,4 z" fill="#F4511E"/>
<path transform="translate(38.3,2100)" d="M 0,0 H 15 l 6,4 3,0 6,-4 H 286.38 H 286.38 v 25 H 286.38 v 5 c 0,10 -8,-8 -8,7.5 s 8,-2.5 8,7.5 v 31 H 286.38 v 5 c 0,10 -8,-8 -8,7.5 s 8,-2.5 8,7.5 v 6 H 286.38 v 5 c 0,10 -8,-8 -8,7.5 s 8,-2.5 8,7.5 v 5 H 29.5 l -6,4 -3,0 -6,-4 H 0 z" fill="#4b2a8e"/>
<path transform="translate(37.3,2099)" d="M 0,0 H 15 l 6,4 3,0 6,-4 H 286.38 H 286.38 v 25 H 286.38 v 5 c 0,10 -8,-8 -8,7.5 s 8,-2.5 8,7.5 v 31 H 286.38 v 5 c 0,10 -8,-8 -8,7.5 s 8,-2.5 8,7.5 v 6 H 286.38 v 5 c 0,10 -8,-8 -8,7.5 s 8,-2.5 8,7.5 v 5 H 29.5 l -6,4 -3,0 -6,-4 H 0 z" fill="#5E35B1"/>
<path transform="translate(37.3,2099)" d="M 0.5,0.5 H 15 l 6,4 3,0 6,-4 H 285.88 M 0.5,8 V 126.5" fill="none" stroke="#8e72c8" stroke-width="1"/>
<rect x="78.37" y="2104" width="174.26" height="16" rx="4" fill="#bfaee0"/>
<path d="M 240.32,2110 h 5 l -2.5,4 z" fill="#5E35B1"/>
<path transform="translate(325.69,2125)" d="M 0,0 H 341.79 H 341.79 v 25 H 341.79 v 5 c 0,10 -8,-8 -8,7.5 s 8,-2.5 8,7.5 v 5 H 0 V 20 c 0,-10 -8,8 -8,-7.5 s 8,2.5 8,-7.5 z" fill="#4b2a8e"/>
<path transform="translate(324.69,2124)" d="M 0,0 H 341.79 H 341.79 v 25 H 341.79 v 5 c 0,10 -8,-8 -8,7.5 s 8,-2.5 8,7.5 v 5 H 0 V 20 c 0,-10 -8,8 -8,-7.5 s 8,2.5 8,-7.5 z" fill="#5E35B1"/>
<path transform="translate(324.69,2124)" d="M 0.5,0.5 H 341.29 M 0.5,49.5 V 5.5 M 0.5,20 V 49.5" fill="none" stroke="#8e72c8" stroke-width="1"/>
<rect x="365.75" y="2129" width="174.26" height="16" rx="4" fill="#bfaee0"/>
<path d="M 527.71,2135 h 5 l -2.5,4 z" fill="#5E35B1"/>
<path transform="translate(668.48,2150)" d="M 0,0 H 267.64 H 267.64 v 25 H 0 V 20 c 0,-10 -8,8 -8,-7.5 s 8,2.5 8,-7.5 z" fill="#c34118"/>
<path transform="translate(667.48,2149)" d="M 0,0 H 267.64 H 267.64 v 25 H 0 V 20 c 0,-10 -8,8 -8,-7.5 s 8,2.5 8,-7.5 z" fill="#F4511E"/>
<path transform="translate(667.48,2149)" d="M 0.5,0.5 H 267.14 M 0.5,24.5 M 0.5,20 V 24.5" fill="none" stroke="#f78562" stroke-width="1"/>
<rect x="702.85" y="2154" width="227.27" height="16" rx="4" fill="#fbb9a5"/>
<path d="M 917.82,2160 h 5 l -2.5,4 z" fill="#F4511E"/>
<path transform="translate(325.69,2176)" d="M 0,0 H 185.09 H 185.09 v 25 H 0 V 20 c 0,-10 -8,8 -8,-7.5 s 8,2.5 8,-7.5 z" fill="#6f9c3b"/>
<path transform="translate(324.69,2175)" d="M 0,0 H 185.09 H 185.09 v 25 H 0 V 20 c 0,-10 -8,8 -8,-7.5 s 8,2.5 8,-7.5 z" fill="#8BC34A"/>
<path transform="translate(324.69,2175)" d="M 0.5,0.5 H 184.59 M 0.5,24.5 M 0.5,20 V 24.5" fill="none" stroke="#aed580" stroke-width="1"/>
<rect x="329.69" y="2180" width="175.09" height="16" rx="4" fill="#d1e7b7"/>
<path d="M 492.47,2186 h 5 l -2.5,4 z" fill="#8BC34A"/>
<path transform="translate(325.69,2202)" d="M 0,0 H 250.51 H 250.51 v 25 H 0 V 20 c 0,-10 -8,8 -8,-7.5 s 8,2.5 8,-7.5 z" fill="#c34118"/>
<path transform="translate(324.69,2201)" d="M 0,0 H 250.51 H 250.51 v 25 H 0 V 20 c 0,-10 -8,8 -8,-7.5 s 8,2.5 8,-7.5 z" fill="#F4511E"/>
<path transform="translate(324.69,2201)" d="M 0.5,0.5 H 250.01 M 0.5,24.5 M 0.5,20 V 24.5" fill="none" stroke="#f78562" stroke-width="1"/>
<rect x="360.06" y="2206" width="210.14" height="16" rx="4" fill="#fbb9a5"/>
<path d="M 557.9,2212 h 5 l -2.5,4 z" fill="#F4511E"/>
<path transform="translate(38.3,2228)" d="M 0,0 H 15 l 6,4 3,0 6,-4 H 256.02 H 256.02 v 25 H 256.02 v 5 c 0,10 -8,-8 -8,7.5 s 8,-2.5 8,7.5 v 31 H 256.02 v 5 c 0,10 -8,-8 -8,7.5 s 8,-2.5 8,7.5 v 5 H 29.5 l -6,4 -3,0 -6,-4 H 0 z" fill="#2d7230"/>
<path transform="translate(37.3,2227)" d="M 0,0 H 15 l 6,4 3,0 6,-4 H 256.02 H 256.02 v 25 H 256.02 v 5 c 0,10 -8,-8 -8,7.5 s 8,-2.5 8,7.5 v 31 H 256.02 v 5 c 0,10 -8,-8 -8,7.5 s 8,-2.5 8,7.5 v 5 H 29.5 l -6,4 -3,0 -6,-4 H 0 z" fill="#388E3C"/>
<path transform="translate(37.3,2227)" d="M 0.5,0.5 H 15 l 6,4 3,0 6,-4 H 255.52 M 0.5,8 V 100.5" fill="none" stroke="#74b076" stroke-width="1"/>
<rect x="216.86" y="2232" width="63.46" height="16" rx="4" fill="#afd2b1"/>
<path d="M 268.02,2238 h 5 l -2.5,4 z" fill="#388E3C"/>
<path transform="translate(295.32,2253)" d="M 0,0 H 341.79 H 341.79 v 25 H 341.79 v 5 c 0,10 -8,-8 -8,7.5 s 8,-2.5 8,7.5 v 5 H 0 V 20 c 0,-10 -8,8 -8,-7.5 s 8,2.5 8,-7.5 z" fill="#4b2a8e"/>
<path transform="translate(294.32,2252)" d="M 0,0 H 341.79 H 341.79 v 25 H 341.79 v 5 c 0,10 -8,-8 -8,7.5 s 8,-2.5 8,7.5 v 5 H 0 V 20 c 0,-10 -8,8 -8,-7.5 s 8,2.5 8,-7.5 z" fill="#5E35B1"/>
<path transform="translate(294.32,2252)" d="M 0.5,0.5 H 341.29 M 0.5,49.5 V 5.5 M 0.5,20 V 49.5" fill="none" stroke="#8e72c8" stroke-width="1"/>
<rect x="335.38" y="2257" width="174.26" height="16" rx="4" fill="#bfaee0"/>
<path d="M 497.34,2263 h 5 l -2.5,4 z" fill="#5E35B1"/>
<path transform="translate(638.11,2278)" d="M 0,0 H 250.51 H 250.51 v 25 H 0 V 20 c 0,-10 -8,8 -8,-7.5 s 8,2.5 8,-7.5 z" fill="#c34118"/>
<path transform="translate(637.11,2277)" d="M 0,0 H 250.51 H 250.51 v 25 H 0 V 20 c 0,-10 -8,8 -8,-7.5 s 8,2.5 8,-7.5 z" fill="#F4511E"/>
<path transform="translate(637.11,2277)" d="M 0.5,0.5 H 250.01 M 0.5,24.5 M 0.5,20 V 24.5" fill="none" stroke="#f78562" stroke-width="1"/>
<rect x="672.48" y="2282" width="210.14" height="16" rx="4" fill="#fbb9a5"/>
<path d="M 870.32,2288 h 5 l -2.5,4 z" fill="#F4511E"/>
<path transform="translate(295.32,2304)" d="M 0,0 H 33.03 H 33.03 v 25 H 0 V 20 c 0,-10 -8,8 -8,-7.5 s 8,2.5 8,-7.5 z" fill="#2e3a89"/>
<path transform="translate(294.32,2303)" d="M 0,0 H 33.03 H 33.03 v 25 H 0 V 20 c 0,-10 -8,8 -8,-7.5 s 8,2.5 8,-7.5 z" fill="#3949AB"/>
<path transform="translate(294.32,2303)" d="M 0.5,0.5 H 32.53 M 0.5,24.5 M 0.5,20 V 24.5" fill="none" stroke="#7480c4" stroke-width="1"/>
<rect x="299.32" y="2308" width="23.03" height="16" rx="4" fill="#b0b6dd"/>
<path transform="translate(38.3,2330)" d="M 0,0 H 15 l 6,4 3,0 6,-4 H 205.79 H 205.79 v 5 c 0,10 -8,-8 -8,7.5 s 8,-2.5 8,7.5 v 31 H 29.5 l -6,4 -3,0 -6,-4 H 0 z" fill="#c34118"/>
<path transform="translate(37.3,2329)" d="M 0,0 H 15 l 6,4 3,0 6,-4 H 205.79 H 205.79 v 5 c 0,10 -8,-8 -8,7.5 s 8,-2.5 8,7.5 v 31 H 29.5 l -6,4 -3,0 -6,-4 H 0 z" fill="#F4511E"/>
<path transform="translate(37.3,2329)" d="M 0.5,0.5 H 15 l 6,4 3,0 6,-4 H 205.29 M 0.5,8 V 50.5" fill="none" stroke="#f78562" stroke-width="1"/>
<rect x="71.85" y="2334" width="136.01" height="16" rx="4" fill="#fbb9a5"/>
<path d="M 195.57,2340 h 5 l -2.5,4 z" fill="#F4511E"/>
<path transform="translate(245.09,2330)" d="M 0,0 H 77.81 H 77.81 v 5 c 0,10 -8,-8 -8,7.5 s 8,-2.5 8,7.5 v 6 H 77.81 v 5 c 0,10 -8,-8 -8,7.5 s 8,-2.5 8,7.5 v 5 H 0 V 20 c 0,-10 -8,8 -8,-7.5 s 8,2.5 8,-7.5 z" fill="#ad164d"/>
<path transform="translate(244.09,2329)" d="M 0,0 H 77.81 H 77.81 v 5 c 0,10 -8,-8 -8,7.5 s 8,-2.5 8,7.5 v 6 H 77.81 v 5 c 0,10 -8,-8 -8,7.5 s 8,-2.5 8,7.5 v 5 H 0 V 20 c 0,-10 -8,8 -8,-7.5 s 8,2.5 8,-7.5 z" fill="#D81B60"/>
<path transform="translate(244.09,2329)" d="M 0.5,0.5 H 77.31 M 0.5,50.5 V 5.5 M 0.5,20 V 50.5" fill="none" stroke="#e45f90" stroke-width="1"/>
<rect x="253.69" y="2333.6" width="16.4" height="16.6" rx="4" fill="#4909c9" stroke="#ea82a8" stroke-width="1.2"/>
<path d="M 260.09,2338.81 L 260.75,2336.74 L 263.23,2336.74 L 263.89,2338.81 L 263.89,2338.81 L 266.01,2338.35 L 267.25,2340.49 L 265.79,2342.1 L 265.79,2342.1 L 267.25,2343.71 L 266.01,2345.85 L 263.89,2345.39 L 263.89,2345.39 L 263.23,2347.46 L 260.75,2347.46 L 260.09,2345.39 L 260.09,2345.39 L 257.97,2345.85 L 256.73,2343.71 L 258.19,2342.1 L 258.19,2342.1 L 256.73,2340.49 L 257.97,2338.35 L 260.09,2338.81 Z M 260.09,2342.1 a 1.9,1.9 0 1,0 3.8,0 a 1.9,1.9 0 1,0 -3.8,0 Z" fill="#f4bfd2" fill-rule="evenodd"/>
<path transform="translate(323.91,2330)" d="M 0,0 H 88.88 H 88.88 v 25 H 0 V 20 c 0,-10 -8,8 -8,-7.5 s 8,2.5 8,-7.5 z" fill="#ad164d"/>
<path transform="translate(322.91,2329)" d="M 0,0 H 88.88 H 88.88 v 25 H 0 V 20 c 0,-10 -8,8 -8,-7.5 s 8,2.5 8,-7.5 z" fill="#D81B60"/>
<path transform="translate(322.91,2329)" d="M 0.5,0.5 H 88.38 M 0.5,24.5 M 0.5,20 V 24.5" fill="none" stroke="#e45f90" stroke-width="1"/>
<rect x="342.79" y="2334" width="49.12" height="16" rx="4" fill="#efa4bf"/>
<path transform="translate(323.91,2356)" d="M 0,0 H 151.93 H 151.93 v 25 H 0 V 20 c 0,-10 -8,8 -8,-7.5 s 8,2.5 8,-7.5 z" fill="#c34118"/>
<path transform="translate(322.91,2355)" d="M 0,0 H 151.93 H 151.93 v 25 H 0 V 20 c 0,-10 -8,8 -8,-7.5 s 8,2.5 8,-7.5 z" fill="#F4511E"/>
<path transform="translate(322.91,2355)" d="M 0.5,0.5 H 151.43 M 0.5,24.5 M 0.5,20 V 24.5" fill="none" stroke="#f78562" stroke-width="1"/>
<rect x="358.28" y="2360" width="111.55" height="16" rx="4" fill="#fbb9a5"/>
<path d="M 457.53,2366 h 5 l -2.5,4 z" fill="#F4511E"/>
<path transform="translate(38.3,2382)" d="M 0,0 H 15 l 6,4 3,0 6,-4 H 286.38 H 286.38 v 25 H 286.38 v 5 c 0,10 -8,-8 -8,7.5 s 8,-2.5 8,7.5 v 31 H 286.38 v 5 c 0,10 -8,-8 -8,7.5 s 8,-2.5 8,7.5 v 6 H 286.38 v 5 c 0,10 -8,-8 -8,7.5 s 8,-2.5 8,7.5 v 5 H 29.5 l -6,4 -3,0 -6,-4 H 0 z" fill="#4b2a8e"/>
<path transform="translate(37.3,2381)" d="M 0,0 H 15 l 6,4 3,0 6,-4 H 286.38 H 286.38 v 25 H 286.38 v 5 c 0,10 -8,-8 -8,7.5 s 8,-2.5 8,7.5 v 31 H 286.38 v 5 c 0,10 -8,-8 -8,7.5 s 8,-2.5 8,7.5 v 6 H 286.38 v 5 c 0,10 -8,-8 -8,7.5 s 8,-2.5 8,7.5 v 5 H 29.5 l -6,4 -3,0 -6,-4 H 0 z" fill="#5E35B1"/>
<path transform="translate(37.3,2381)" d="M 0.5,0.5 H 15 l 6,4 3,0 6,-4 H 285.88 M 0.5,8 V 126.5" fill="none" stroke="#8e72c8" stroke-width="1"/>
<rect x="78.37" y="2386" width="174.26" height="16" rx="4" fill="#bfaee0"/>
<path d="M 240.32,2392 h 5 l -2.5,4 z" fill="#5E35B1"/>
<path transform="translate(325.69,2407)" d="M 0,0 H 341.79 H 341.79 v 25 H 341.79 v 5 c 0,10 -8,-8 -8,7.5 s 8,-2.5 8,7.5 v 5 H 0 V 20 c 0,-10 -8,8 -8,-7.5 s 8,2.5 8,-7.5 z" fill="#4b2a8e"/>
<path transform="translate(324.69,2406)" d="M 0,0 H 341.79 H 341.79 v 25 H 341.79 v 5 c 0,10 -8,-8 -8,7.5 s 8,-2.5 8,7.5 v 5 H 0 V 20 c 0,-10 -8,8 -8,-7.5 s 8,2.5 8,-7.5 z" fill="#5E35B1"/>
<path transform="translate(324.69,2406)" d="M 0.5,0.5 H 341.29 M 0.5,49.5 V 5.5 M 0.5,20 V 49.5" fill="none" stroke="#8e72c8" stroke-width="1"/>
<rect x="365.75" y="2411" width="174.26" height="16" rx="4" fill="#bfaee0"/>
<path d="M 527.71,2417 h 5 l -2.5,4 z" fill="#5E35B1"/>
<path transform="translate(668.48,2432)" d="M 0,0 H 250.51 H 250.51 v 25 H 0 V 20 c 0,-10 -8,8 -8,-7.5 s 8,2.5 8,-7.5 z" fill="#c34118"/>
<path transform="translate(667.48,2431)" d="M 0,0 H 250.51 H 250.51 v 25 H 0 V 20 c 0,-10 -8,8 -8,-7.5 s 8,2.5 8,-7.5 z" fill="#F4511E"/>
<path transform="translate(667.48,2431)" d="M 0.5,0.5 H 250.01 M 0.5,24.5 M 0.5,20 V 24.5" fill="none" stroke="#f78562" stroke-width="1"/>
<rect x="702.85" y="2436" width="210.14" height="16" rx="4" fill="#fbb9a5"/>
<path d="M 900.69,2442 h 5 l -2.5,4 z" fill="#F4511E"/>
<path transform="translate(325.69,2458)" d="M 0,0 H 80.01 H 80.01 v 25 H 0 V 20 c 0,-10 -8,8 -8,-7.5 s 8,2.5 8,-7.5 z" fill="#6f9c3b"/>
<path transform="translate(324.69,2457)" d="M 0,0 H 80.01 H 80.01 v 25 H 0 V 20 c 0,-10 -8,8 -8,-7.5 s 8,2.5 8,-7.5 z" fill="#8BC34A"/>
<path transform="translate(324.69,2457)" d="M 0.5,0.5 H 79.51 M 0.5,24.5 M 0.5,20 V 24.5" fill="none" stroke="#aed580" stroke-width="1"/>
<rect x="329.69" y="2462" width="70.01" height="16" rx="4" fill="#d1e7b7"/>
<path d="M 387.4,2468 h 5 l -2.5,4 z" fill="#8BC34A"/>
<path transform="translate(325.69,2484)" d="M 0,0 H 176.39 H 176.39 v 25 H 0 V 20 c 0,-10 -8,8 -8,-7.5 s 8,2.5 8,-7.5 z" fill="#c34118"/>
<path transform="translate(324.69,2483)" d="M 0,0 H 176.39 H 176.39 v 25 H 0 V 20 c 0,-10 -8,8 -8,-7.5 s 8,2.5 8,-7.5 z" fill="#F4511E"/>
<path transform="translate(324.69,2483)" d="M 0.5,0.5 H 175.89 M 0.5,24.5 M 0.5,20 V 24.5" fill="none" stroke="#f78562" stroke-width="1"/>
<rect x="360.06" y="2488" width="136.01" height="16" rx="4" fill="#fbb9a5"/>
<path d="M 483.78,2494 h 5 l -2.5,4 z" fill="#F4511E"/>
<path transform="translate(38.3,2510)" d="M 0,0 H 15 l 6,4 3,0 6,-4 H 256.04 H 256.04 v 25 H 256.04 v 5 c 0,10 -8,-8 -8,7.5 s 8,-2.5 8,7.5 v 31 H 256.04 v 5 c 0,10 -8,-8 -8,7.5 s 8,-2.5 8,7.5 v 5 H 29.5 l -6,4 -3,0 -6,-4 H 0 z" fill="#2d7230"/>
<path transform="translate(37.3,2509)" d="M 0,0 H 15 l 6,4 3,0 6,-4 H 256.04 H 256.04 v 25 H 256.04 v 5 c 0,10 -8,-8 -8,7.5 s 8,-2.5 8,7.5 v 31 H 256.04 v 5 c 0,10 -8,-8 -8,7.5 s 8,-2.5 8,7.5 v 5 H 29.5 l -6,4 -3,0 -6,-4 H 0 z" fill="#388E3C"/>
<path transform="translate(37.3,2509)" d="M 0.5,0.5 H 15 l 6,4 3,0 6,-4 H 255.54 M 0.5,8 V 100.5" fill="none" stroke="#74b076" stroke-width="1"/>
<rect x="115.86" y="2514" width="164.48" height="16" rx="4" fill="#afd2b1"/>
<path d="M 268.04,2520 h 5 l -2.5,4 z" fill="#388E3C"/>
<path transform="translate(295.34,2535)" d="M 0,0 H 341.79 H 341.79 v 25 H 341.79 v 5 c 0,10 -8,-8 -8,7.5 s 8,-2.5 8,7.5 v 5 H 0 V 20 c 0,-10 -8,8 -8,-7.5 s 8,2.5 8,-7.5 z" fill="#4b2a8e"/>
<path transform="translate(294.34,2534)" d="M 0,0 H 341.79 H 341.79 v 25 H 341.79 v 5 c 0,10 -8,-8 -8,7.5 s 8,-2.5 8,7.5 v 5 H 0 V 20 c 0,-10 -8,8 -8,-7.5 s 8,2.5 8,-7.5 z" fill="#5E35B1"/>
<path transform="translate(294.34,2534)" d="M 0.5,0.5 H 341.29 M 0.5,49.5 V 5.5 M 0.5,20 V 49.5" fill="none" stroke="#8e72c8" stroke-width="1"/>
<rect x="335.4" y="2539" width="174.26" height="16" rx="4" fill="#bfaee0"/>
<path d="M 497.36,2545 h 5 l -2.5,4 z" fill="#5E35B1"/>
<path transform="translate(638.13,2560)" d="M 0,0 H 176.39 H 176.39 v 25 H 0 V 20 c 0,-10 -8,8 -8,-7.5 s 8,2.5 8,-7.5 z" fill="#c34118"/>
<path transform="translate(637.13,2559)" d="M 0,0 H 176.39 H 176.39 v 25 H 0 V 20 c 0,-10 -8,8 -8,-7.5 s 8,2.5 8,-7.5 z" fill="#F4511E"/>
<path transform="translate(637.13,2559)" d="M 0.5,0.5 H 175.89 M 0.5,24.5 M 0.5,20 V 24.5" fill="none" stroke="#f78562" stroke-width="1"/>
<rect x="672.5" y="2564" width="136.01" height="16" rx="4" fill="#fbb9a5"/>
<path d="M 796.22,2570 h 5 l -2.5,4 z" fill="#F4511E"/>
<path transform="translate(295.34,2586)" d="M 0,0 H 150.77 H 150.77 v 25 H 0 V 20 c 0,-10 -8,8 -8,-7.5 s 8,2.5 8,-7.5 z" fill="#ad164d"/>
<path transform="translate(294.34,2585)" d="M 0,0 H 150.77 H 150.77 v 25 H 0 V 20 c 0,-10 -8,8 -8,-7.5 s 8,2.5 8,-7.5 z" fill="#D81B60"/>
<path transform="translate(294.34,2585)" d="M 0.5,0.5 H 150.27 M 0.5,24.5 M 0.5,20 V 24.5" fill="none" stroke="#e45f90" stroke-width="1"/>
<rect x="314.22" y="2590" width="111.01" height="16" rx="4" fill="#efa4bf"/>
<path transform="translate(38.3,2612)" d="M 0,0 H 15 l 6,4 3,0 6,-4 H 144.43 H 144.43 v 25 H 144.43 v 5 c 0,10 -8,-8 -8,7.5 s 8,-2.5 8,7.5 v 31 H 144.43 v 5 c 0,10 -8,-8 -8,7.5 s 8,-2.5 8,7.5 v 5 H 29.5 l -6,4 -3,0 -6,-4 H 0 z" fill="#2d7230"/>
<path transform="translate(37.3,2611)" d="M 0,0 H 15 l 6,4 3,0 6,-4 H 144.43 H 144.43 v 25 H 144.43 v 5 c 0,10 -8,-8 -8,7.5 s 8,-2.5 8,7.5 v 31 H 144.43 v 5 c 0,10 -8,-8 -8,7.5 s 8,-2.5 8,7.5 v 5 H 29.5 l -6,4 -3,0 -6,-4 H 0 z" fill="#388E3C"/>
<path transform="translate(37.3,2611)" d="M 0.5,0.5 H 15 l 6,4 3,0 6,-4 H 143.93 M 0.5,8 V 100.5" fill="none" stroke="#74b076" stroke-width="1"/>
<rect x="115.86" y="2616" width="52.88" height="16" rx="4" fill="#afd2b1"/>
<path d="M 156.44,2622 h 5 l -2.5,4 z" fill="#388E3C"/>
<path transform="translate(183.74,2637)" d="M 0,0 H 341.79 H 341.79 v 25 H 341.79 v 5 c 0,10 -8,-8 -8,7.5 s 8,-2.5 8,7.5 v 5 H 0 V 20 c 0,-10 -8,8 -8,-7.5 s 8,2.5 8,-7.5 z" fill="#4b2a8e"/>
<path transform="translate(182.74,2636)" d="M 0,0 H 341.79 H 341.79 v 25 H 341.79 v 5 c 0,10 -8,-8 -8,7.5 s 8,-2.5 8,7.5 v 5 H 0 V 20 c 0,-10 -8,8 -8,-7.5 s 8,2.5 8,-7.5 z" fill="#5E35B1"/>
<path transform="translate(182.74,2636)" d="M 0.5,0.5 H 341.29 M 0.5,49.5 V 5.5 M 0.5,20 V 49.5" fill="none" stroke="#8e72c8" stroke-width="1"/>
<rect x="223.8" y="2641" width="174.26" height="16" rx="4" fill="#bfaee0"/>
<path d="M 385.76,2647 h 5 l -2.5,4 z" fill="#5E35B1"/>
<path transform="translate(526.53,2662)" d="M 0,0 H 176.39 H 176.39 v 25 H 0 V 20 c 0,-10 -8,8 -8,-7.5 s 8,2.5 8,-7.5 z" fill="#c34118"/>
<path transform="translate(525.53,2661)" d="M 0,0 H 176.39 H 176.39 v 25 H 0 V 20 c 0,-10 -8,8 -8,-7.5 s 8,2.5 8,-7.5 z" fill="#F4511E"/>
<path transform="translate(525.53,2661)" d="M 0.5,0.5 H 175.89 M 0.5,24.5 M 0.5,20 V 24.5" fill="none" stroke="#f78562" stroke-width="1"/>
<rect x="560.9" y="2666" width="136.01" height="16" rx="4" fill="#fbb9a5"/>
<path d="M 684.61,2672 h 5 l -2.5,4 z" fill="#F4511E"/>
<path transform="translate(183.74,2688)" d="M 0,0 H 89.18 H 89.18 v 25 H 0 V 20 c 0,-10 -8,8 -8,-7.5 s 8,2.5 8,-7.5 z" fill="#c34118"/>
<path transform="translate(182.74,2687)" d="M 0,0 H 89.18 H 89.18 v 25 H 0 V 20 c 0,-10 -8,8 -8,-7.5 s 8,2.5 8,-7.5 z" fill="#F4511E"/>
<path transform="translate(182.74,2687)" d="M 0.5,0.5 H 88.68 M 0.5,24.5 M 0.5,20 V 24.5" fill="none" stroke="#f78562" stroke-width="1"/>
<rect x="218.11" y="2692" width="48.81" height="16" rx="4" fill="#fbb9a5"/>
<path d="M 254.62,2698 h 5 l -2.5,4 z" fill="#F4511E"/>
<path transform="translate(38.3,2714)" d="M 0,0 H 15 l 6,4 3,0 6,-4 H 179.47 H 179.47 v 25 H 179.47 v 5 c 0,10 -8,-8 -8,7.5 s 8,-2.5 8,7.5 v 31 H 179.47 v 5 c 0,10 -8,-8 -8,7.5 s 8,-2.5 8,7.5 v 5 H 29.5 l -6,4 -3,0 -6,-4 H 0 z" fill="#2d7230"/>
<path transform="translate(37.3,2713)" d="M 0,0 H 15 l 6,4 3,0 6,-4 H 179.47 H 179.47 v 25 H 179.47 v 5 c 0,10 -8,-8 -8,7.5 s 8,-2.5 8,7.5 v 31 H 179.47 v 5 c 0,10 -8,-8 -8,7.5 s 8,-2.5 8,7.5 v 5 H 29.5 l -6,4 -3,0 -6,-4 H 0 z" fill="#388E3C"/>
<path transform="translate(37.3,2713)" d="M 0.5,0.5 H 15 l 6,4 3,0 6,-4 H 178.97 M 0.5,8 V 100.5" fill="none" stroke="#74b076" stroke-width="1"/>
<rect x="115.86" y="2718" width="87.91" height="16" rx="4" fill="#afd2b1"/>
<path d="M 191.47,2724 h 5 l -2.5,4 z" fill="#388E3C"/>
<path transform="translate(218.77,2739)" d="M 0,0 H 341.79 H 341.79 v 25 H 341.79 v 5 c 0,10 -8,-8 -8,7.5 s 8,-2.5 8,7.5 v 5 H 0 V 20 c 0,-10 -8,8 -8,-7.5 s 8,2.5 8,-7.5 z" fill="#4b2a8e"/>
<path transform="translate(217.77,2738)" d="M 0,0 H 341.79 H 341.79 v 25 H 341.79 v 5 c 0,10 -8,-8 -8,7.5 s 8,-2.5 8,7.5 v 5 H 0 V 20 c 0,-10 -8,8 -8,-7.5 s 8,2.5 8,-7.5 z" fill="#5E35B1"/>
<path transform="translate(217.77,2738)" d="M 0.5,0.5 H 341.29 M 0.5,49.5 V 5.5 M 0.5,20 V 49.5" fill="none" stroke="#8e72c8" stroke-width="1"/>
<rect x="258.83" y="2743" width="174.26" height="16" rx="4" fill="#bfaee0"/>
<path d="M 420.79,2749 h 5 l -2.5,4 z" fill="#5E35B1"/>
<path transform="translate(561.56,2764)" d="M 0,0 H 176.39 H 176.39 v 25 H 0 V 20 c 0,-10 -8,8 -8,-7.5 s 8,2.5 8,-7.5 z" fill="#c34118"/>
<path transform="translate(560.56,2763)" d="M 0,0 H 176.39 H 176.39 v 25 H 0 V 20 c 0,-10 -8,8 -8,-7.5 s 8,2.5 8,-7.5 z" fill="#F4511E"/>
<path transform="translate(560.56,2763)" d="M 0.5,0.5 H 175.89 M 0.5,24.5 M 0.5,20 V 24.5" fill="none" stroke="#f78562" stroke-width="1"/>
<rect x="595.93" y="2768" width="136.01" height="16" rx="4" fill="#fbb9a5"/>
<path d="M 719.65,2774 h 5 l -2.5,4 z" fill="#F4511E"/>
<path transform="translate(218.77,2790)" d="M 0,0 H 36.3 H 36.3 v 25 H 0 V 20 c 0,-10 -8,8 -8,-7.5 s 8,2.5 8,-7.5 z" fill="#2e3a89"/>
<path transform="translate(217.77,2789)" d="M 0,0 H 36.3 H 36.3 v 25 H 0 V 20 c 0,-10 -8,8 -8,-7.5 s 8,2.5 8,-7.5 z" fill="#3949AB"/>
<path transform="translate(217.77,2789)" d="M 0.5,0.5 H 35.8 M 0.5,24.5 M 0.5,20 V 24.5" fill="none" stroke="#7480c4" stroke-width="1"/>
<rect x="222.77" y="2794" width="26.3" height="16" rx="4" fill="#b0b6dd"/>
<path transform="translate(38.3,2816)" d="M 0,0 H 15 l 6,4 3,0 6,-4 H 205.79 H 205.79 v 5 c 0,10 -8,-8 -8,7.5 s 8,-2.5 8,7.5 v 31 H 29.5 l -6,4 -3,0 -6,-4 H 0 z" fill="#c34118"/>
<path transform="translate(37.3,2815)" d="M 0,0 H 15 l 6,4 3,0 6,-4 H 205.79 H 205.79 v 5 c 0,10 -8,-8 -8,7.5 s 8,-2.5 8,7.5 v 31 H 29.5 l -6,4 -3,0 -6,-4 H 0 z" fill="#F4511E"/>
<path transform="translate(37.3,2815)" d="M 0.5,0.5 H 15 l 6,4 3,0 6,-4 H 205.29 M 0.5,8 V 50.5" fill="none" stroke="#f78562" stroke-width="1"/>
<rect x="71.85" y="2820" width="136.01" height="16" rx="4" fill="#fbb9a5"/>
<path d="M 195.57,2826 h 5 l -2.5,4 z" fill="#F4511E"/>
<path transform="translate(245.09,2816)" d="M 0,0 H 77.81 H 77.81 v 5 c 0,10 -8,-8 -8,7.5 s 8,-2.5 8,7.5 v 6 H 77.81 v 5 c 0,10 -8,-8 -8,7.5 s 8,-2.5 8,7.5 v 5 H 0 V 20 c 0,-10 -8,8 -8,-7.5 s 8,2.5 8,-7.5 z" fill="#ad164d"/>
<path transform="translate(244.09,2815)" d="M 0,0 H 77.81 H 77.81 v 5 c 0,10 -8,-8 -8,7.5 s 8,-2.5 8,7.5 v 6 H 77.81 v 5 c 0,10 -8,-8 -8,7.5 s 8,-2.5 8,7.5 v 5 H 0 V 20 c 0,-10 -8,8 -8,-7.5 s 8,2.5 8,-7.5 z" fill="#D81B60"/>
<path transform="translate(244.09,2815)" d="M 0.5,0.5 H 77.31 M 0.5,50.5 V 5.5 M 0.5,20 V 50.5" fill="none" stroke="#e45f90" stroke-width="1"/>
<rect x="253.69" y="2819.6" width="16.4" height="16.6" rx="4" fill="#4909c9" stroke="#ea82a8" stroke-width="1.2"/>
<path d="M 260.09,2824.81 L 260.75,2822.74 L 263.23,2822.74 L 263.89,2824.81 L 263.89,2824.81 L 266.01,2824.35 L 267.25,2826.49 L 265.79,2828.1 L 265.79,2828.1 L 267.25,2829.71 L 266.01,2831.85 L 263.89,2831.39 L 263.89,2831.39 L 263.23,2833.46 L 260.75,2833.46 L 260.09,2831.39 L 260.09,2831.39 L 257.97,2831.85 L 256.73,2829.71 L 258.19,2828.1 L 258.19,2828.1 L 256.73,2826.49 L 257.97,2824.35 L 260.09,2824.81 Z M 260.09,2828.1 a 1.9,1.9 0 1,0 3.8,0 a 1.9,1.9 0 1,0 -3.8,0 Z" fill="#f4bfd2" fill-rule="evenodd"/>
<path transform="translate(323.91,2816)" d="M 0,0 H 88.88 H 88.88 v 25 H 0 V 20 c 0,-10 -8,8 -8,-7.5 s 8,2.5 8,-7.5 z" fill="#ad164d"/>
<path transform="translate(322.91,2815)" d="M 0,0 H 88.88 H 88.88 v 25 H 0 V 20 c 0,-10 -8,8 -8,-7.5 s 8,2.5 8,-7.5 z" fill="#D81B60"/>
<path transform="translate(322.91,2815)" d="M 0.5,0.5 H 88.38 M 0.5,24.5 M 0.5,20 V 24.5" fill="none" stroke="#e45f90" stroke-width="1"/>
<rect x="342.79" y="2820" width="49.12" height="16" rx="4" fill="#efa4bf"/>
<path transform="translate(323.91,2842)" d="M 0,0 H 151.93 H 151.93 v 25 H 0 V 20 c 0,-10 -8,8 -8,-7.5 s 8,2.5 8,-7.5 z" fill="#c34118"/>
<path transform="translate(322.91,2841)" d="M 0,0 H 151.93 H 151.93 v 25 H 0 V 20 c 0,-10 -8,8 -8,-7.5 s 8,2.5 8,-7.5 z" fill="#F4511E"/>
<path transform="translate(322.91,2841)" d="M 0.5,0.5 H 151.43 M 0.5,24.5 M 0.5,20 V 24.5" fill="none" stroke="#f78562" stroke-width="1"/>
<rect x="358.28" y="2846" width="111.55" height="16" rx="4" fill="#fbb9a5"/>
<path d="M 457.53,2852 h 5 l -2.5,4 z" fill="#F4511E"/>
<path transform="translate(38.3,2868)" d="M 0,0 H 15 l 6,4 3,0 6,-4 H 286.38 H 286.38 v 25 H 286.38 v 5 c 0,10 -8,-8 -8,7.5 s 8,-2.5 8,7.5 v 31 H 286.38 v 5 c 0,10 -8,-8 -8,7.5 s 8,-2.5 8,7.5 v 6 H 286.38 v 5 c 0,10 -8,-8 -8,7.5 s 8,-2.5 8,7.5 v 5 H 29.5 l -6,4 -3,0 -6,-4 H 0 z" fill="#4b2a8e"/>
<path transform="translate(37.3,2867)" d="M 0,0 H 15 l 6,4 3,0 6,-4 H 286.38 H 286.38 v 25 H 286.38 v 5 c 0,10 -8,-8 -8,7.5 s 8,-2.5 8,7.5 v 31 H 286.38 v 5 c 0,10 -8,-8 -8,7.5 s 8,-2.5 8,7.5 v 6 H 286.38 v 5 c 0,10 -8,-8 -8,7.5 s 8,-2.5 8,7.5 v 5 H 29.5 l -6,4 -3,0 -6,-4 H 0 z" fill="#5E35B1"/>
<path transform="translate(37.3,2867)" d="M 0.5,0.5 H 15 l 6,4 3,0 6,-4 H 285.88 M 0.5,8 V 126.5" fill="none" stroke="#8e72c8" stroke-width="1"/>
<rect x="78.37" y="2872" width="174.26" height="16" rx="4" fill="#bfaee0"/>
<path d="M 240.32,2878 h 5 l -2.5,4 z" fill="#5E35B1"/>
<path transform="translate(325.69,2893)" d="M 0,0 H 341.79 H 341.79 v 25 H 341.79 v 5 c 0,10 -8,-8 -8,7.5 s 8,-2.5 8,7.5 v 5 H 0 V 20 c 0,-10 -8,8 -8,-7.5 s 8,2.5 8,-7.5 z" fill="#4b2a8e"/>
<path transform="translate(324.69,2892)" d="M 0,0 H 341.79 H 341.79 v 25 H 341.79 v 5 c 0,10 -8,-8 -8,7.5 s 8,-2.5 8,7.5 v 5 H 0 V 20 c 0,-10 -8,8 -8,-7.5 s 8,2.5 8,-7.5 z" fill="#5E35B1"/>
<path transform="translate(324.69,2892)" d="M 0.5,0.5 H 341.29 M 0.5,49.5 V 5.5 M 0.5,20 V 49.5" fill="none" stroke="#8e72c8" stroke-width="1"/>
<rect x="365.75" y="2897" width="174.26" height="16" rx="4" fill="#bfaee0"/>
<path d="M 527.71,2903 h 5 l -2.5,4 z" fill="#5E35B1"/>
<path transform="translate(668.48,2918)" d="M 0,0 H 250.51 H 250.51 v 25 H 0 V 20 c 0,-10 -8,8 -8,-7.5 s 8,2.5 8,-7.5 z" fill="#c34118"/>
<path transform="translate(667.48,2917)" d="M 0,0 H 250.51 H 250.51 v 25 H 0 V 20 c 0,-10 -8,8 -8,-7.5 s 8,2.5 8,-7.5 z" fill="#F4511E"/>
<path transform="translate(667.48,2917)" d="M 0.5,0.5 H 250.01 M 0.5,24.5 M 0.5,20 V 24.5" fill="none" stroke="#f78562" stroke-width="1"/>
<rect x="702.85" y="2922" width="210.14" height="16" rx="4" fill="#fbb9a5"/>
<path d="M 900.69,2928 h 5 l -2.5,4 z" fill="#F4511E"/>
<path transform="translate(325.69,2944)" d="M 0,0 H 80.01 H 80.01 v 25 H 0 V 20 c 0,-10 -8,8 -8,-7.5 s 8,2.5 8,-7.5 z" fill="#6f9c3b"/>
<path transform="translate(324.69,2943)" d="M 0,0 H 80.01 H 80.01 v 25 H 0 V 20 c 0,-10 -8,8 -8,-7.5 s 8,2.5 8,-7.5 z" fill="#8BC34A"/>
<path transform="translate(324.69,2943)" d="M 0.5,0.5 H 79.51 M 0.5,24.5 M 0.5,20 V 24.5" fill="none" stroke="#aed580" stroke-width="1"/>
<rect x="329.69" y="2948" width="70.01" height="16" rx="4" fill="#d1e7b7"/>
<path d="M 387.4,2954 h 5 l -2.5,4 z" fill="#8BC34A"/>
<path transform="translate(325.69,2970)" d="M 0,0 H 176.39 H 176.39 v 25 H 0 V 20 c 0,-10 -8,8 -8,-7.5 s 8,2.5 8,-7.5 z" fill="#c34118"/>
<path transform="translate(324.69,2969)" d="M 0,0 H 176.39 H 176.39 v 25 H 0 V 20 c 0,-10 -8,8 -8,-7.5 s 8,2.5 8,-7.5 z" fill="#F4511E"/>
<path transform="translate(324.69,2969)" d="M 0.5,0.5 H 175.89 M 0.5,24.5 M 0.5,20 V 24.5" fill="none" stroke="#f78562" stroke-width="1"/>
<rect x="360.06" y="2974" width="136.01" height="16" rx="4" fill="#fbb9a5"/>
<path d="M 483.78,2980 h 5 l -2.5,4 z" fill="#F4511E"/>
<path transform="translate(38.3,2996)" d="M 0,0 H 15 l 6,4 3,0 6,-4 H 179.47 H 179.47 v 25 H 179.47 v 5 c 0,10 -8,-8 -8,7.5 s 8,-2.5 8,7.5 v 31 H 179.47 v 5 c 0,10 -8,-8 -8,7.5 s 8,-2.5 8,7.5 v 5 H 29.5 l -6,4 -3,0 -6,-4 H 0 z" fill="#2d7230"/>
<path transform="translate(37.3,2995)" d="M 0,0 H 15 l 6,4 3,0 6,-4 H 179.47 H 179.47 v 25 H 179.47 v 5 c 0,10 -8,-8 -8,7.5 s 8,-2.5 8,7.5 v 31 H 179.47 v 5 c 0,10 -8,-8 -8,7.5 s 8,-2.5 8,7.5 v 5 H 29.5 l -6,4 -3,0 -6,-4 H 0 z" fill="#388E3C"/>
<path transform="translate(37.3,2995)" d="M 0.5,0.5 H 15 l 6,4 3,0 6,-4 H 178.97 M 0.5,8 V 100.5" fill="none" stroke="#74b076" stroke-width="1"/>
<rect x="115.86" y="3000" width="87.91" height="16" rx="4" fill="#afd2b1"/>
<path d="M 191.47,3006 h 5 l -2.5,4 z" fill="#388E3C"/>
<path transform="translate(218.77,3021)" d="M 0,0 H 341.79 H 341.79 v 25 H 341.79 v 5 c 0,10 -8,-8 -8,7.5 s 8,-2.5 8,7.5 v 5 H 0 V 20 c 0,-10 -8,8 -8,-7.5 s 8,2.5 8,-7.5 z" fill="#4b2a8e"/>
<path transform="translate(217.77,3020)" d="M 0,0 H 341.79 H 341.79 v 25 H 341.79 v 5 c 0,10 -8,-8 -8,7.5 s 8,-2.5 8,7.5 v 5 H 0 V 20 c 0,-10 -8,8 -8,-7.5 s 8,2.5 8,-7.5 z" fill="#5E35B1"/>
<path transform="translate(217.77,3020)" d="M 0.5,0.5 H 341.29 M 0.5,49.5 V 5.5 M 0.5,20 V 49.5" fill="none" stroke="#8e72c8" stroke-width="1"/>
<rect x="258.83" y="3025" width="174.26" height="16" rx="4" fill="#bfaee0"/>
<path d="M 420.79,3031 h 5 l -2.5,4 z" fill="#5E35B1"/>
<path transform="translate(561.56,3046)" d="M 0,0 H 176.39 H 176.39 v 25 H 0 V 20 c 0,-10 -8,8 -8,-7.5 s 8,2.5 8,-7.5 z" fill="#c34118"/>
<path transform="translate(560.56,3045)" d="M 0,0 H 176.39 H 176.39 v 25 H 0 V 20 c 0,-10 -8,8 -8,-7.5 s 8,2.5 8,-7.5 z" fill="#F4511E"/>
<path transform="translate(560.56,3045)" d="M 0.5,0.5 H 175.89 M 0.5,24.5 M 0.5,20 V 24.5" fill="none" stroke="#f78562" stroke-width="1"/>
<rect x="595.93" y="3050" width="136.01" height="16" rx="4" fill="#fbb9a5"/>
<path d="M 719.65,3056 h 5 l -2.5,4 z" fill="#F4511E"/>
<path transform="translate(218.77,3072)" d="M 0,0 H 36.3 H 36.3 v 25 H 0 V 20 c 0,-10 -8,8 -8,-7.5 s 8,2.5 8,-7.5 z" fill="#2e3a89"/>
<path transform="translate(217.77,3071)" d="M 0,0 H 36.3 H 36.3 v 25 H 0 V 20 c 0,-10 -8,8 -8,-7.5 s 8,2.5 8,-7.5 z" fill="#3949AB"/>
<path transform="translate(217.77,3071)" d="M 0.5,0.5 H 35.8 M 0.5,24.5 M 0.5,20 V 24.5" fill="none" stroke="#7480c4" stroke-width="1"/>
<rect x="222.77" y="3076" width="26.3" height="16" rx="4" fill="#b0b6dd"/>
<path transform="translate(38.3,3098)" d="M 0,0 H 15 l 6,4 3,0 6,-4 H 183.53 H 183.53 v 25 H 183.53 v 5 c 0,10 -8,-8 -8,7.5 s 8,-2.5 8,7.5 v 31 H 183.53 v 5 c 0,10 -8,-8 -8,7.5 s 8,-2.5 8,7.5 v 5 H 29.5 l -6,4 -3,0 -6,-4 H 0 z" fill="#2d7230"/>
<path transform="translate(37.3,3097)" d="M 0,0 H 15 l 6,4 3,0 6,-4 H 183.53 H 183.53 v 25 H 183.53 v 5 c 0,10 -8,-8 -8,7.5 s 8,-2.5 8,7.5 v 31 H 183.53 v 5 c 0,10 -8,-8 -8,7.5 s 8,-2.5 8,7.5 v 5 H 29.5 l -6,4 -3,0 -6,-4 H 0 z" fill="#388E3C"/>
<path transform="translate(37.3,3097)" d="M 0.5,0.5 H 15 l 6,4 3,0 6,-4 H 183.03 M 0.5,8 V 100.5" fill="none" stroke="#74b076" stroke-width="1"/>
<rect x="115.86" y="3102" width="91.97" height="16" rx="4" fill="#afd2b1"/>
<path d="M 195.53,3108 h 5 l -2.5,4 z" fill="#388E3C"/>
<path transform="translate(222.83,3123)" d="M 0,0 H 341.79 H 341.79 v 25 H 341.79 v 5 c 0,10 -8,-8 -8,7.5 s 8,-2.5 8,7.5 v 5 H 0 V 20 c 0,-10 -8,8 -8,-7.5 s 8,2.5 8,-7.5 z" fill="#4b2a8e"/>
<path transform="translate(221.83,3122)" d="M 0,0 H 341.79 H 341.79 v 25 H 341.79 v 5 c 0,10 -8,-8 -8,7.5 s 8,-2.5 8,7.5 v 5 H 0 V 20 c 0,-10 -8,8 -8,-7.5 s 8,2.5 8,-7.5 z" fill="#5E35B1"/>
<path transform="translate(221.83,3122)" d="M 0.5,0.5 H 341.29 M 0.5,49.5 V 5.5 M 0.5,20 V 49.5" fill="none" stroke="#8e72c8" stroke-width="1"/>
<rect x="262.9" y="3127" width="174.26" height="16" rx="4" fill="#bfaee0"/>
<path d="M 424.85,3133 h 5 l -2.5,4 z" fill="#5E35B1"/>
<path transform="translate(565.62,3148)" d="M 0,0 H 176.39 H 176.39 v 25 H 0 V 20 c 0,-10 -8,8 -8,-7.5 s 8,2.5 8,-7.5 z" fill="#c34118"/>
<path transform="translate(564.62,3147)" d="M 0,0 H 176.39 H 176.39 v 25 H 0 V 20 c 0,-10 -8,8 -8,-7.5 s 8,2.5 8,-7.5 z" fill="#F4511E"/>
<path transform="translate(564.62,3147)" d="M 0.5,0.5 H 175.89 M 0.5,24.5 M 0.5,20 V 24.5" fill="none" stroke="#f78562" stroke-width="1"/>
<rect x="600" y="3152" width="136.01" height="16" rx="4" fill="#fbb9a5"/>
<path d="M 723.71,3158 h 5 l -2.5,4 z" fill="#F4511E"/>
<path transform="translate(222.83,3174)" d="M 0,0 H 32 H 32 v 25 H 0 V 20 c 0,-10 -8,8 -8,-7.5 s 8,2.5 8,-7.5 z" fill="#646464"/>
<path transform="translate(221.83,3173)" d="M 0,0 H 32 H 32 v 25 H 0 V 20 c 0,-10 -8,8 -8,-7.5 s 8,2.5 8,-7.5 z" fill="#7D7D7D"/>
<path transform="translate(221.83,3173)" d="M 0.5,0.5 H 31.5 M 0.5,24.5 M 0.5,20 V 24.5" fill="none" stroke="#a4a4a4" stroke-width="1"/>
<rect x="226.83" y="3178" width="22" height="16" rx="4" fill="#5b7190"/>
<path transform="translate(38.3,3200)" d="M 0,0 H 15 l 6,4 3,0 6,-4 H 144.43 H 144.43 v 25 H 144.43 v 5 c 0,10 -8,-8 -8,7.5 s 8,-2.5 8,7.5 v 31 H 144.43 v 5 c 0,10 -8,-8 -8,7.5 s 8,-2.5 8,7.5 v 5 H 29.5 l -6,4 -3,0 -6,-4 H 0 z" fill="#2d7230"/>
<path transform="translate(37.3,3199)" d="M 0,0 H 15 l 6,4 3,0 6,-4 H 144.43 H 144.43 v 25 H 144.43 v 5 c 0,10 -8,-8 -8,7.5 s 8,-2.5 8,7.5 v 31 H 144.43 v 5 c 0,10 -8,-8 -8,7.5 s 8,-2.5 8,7.5 v 5 H 29.5 l -6,4 -3,0 -6,-4 H 0 z" fill="#388E3C"/>
<path transform="translate(37.3,3199)" d="M 0.5,0.5 H 15 l 6,4 3,0 6,-4 H 143.93 M 0.5,8 V 100.5" fill="none" stroke="#74b076" stroke-width="1"/>
<rect x="115.86" y="3204" width="52.88" height="16" rx="4" fill="#afd2b1"/>
<path d="M 156.44,3210 h 5 l -2.5,4 z" fill="#388E3C"/>
<path transform="translate(183.74,3225)" d="M 0,0 H 341.79 H 341.79 v 25 H 341.79 v 5 c 0,10 -8,-8 -8,7.5 s 8,-2.5 8,7.5 v 5 H 0 V 20 c 0,-10 -8,8 -8,-7.5 s 8,2.5 8,-7.5 z" fill="#4b2a8e"/>
<path transform="translate(182.74,3224)" d="M 0,0 H 341.79 H 341.79 v 25 H 341.79 v 5 c 0,10 -8,-8 -8,7.5 s 8,-2.5 8,7.5 v 5 H 0 V 20 c 0,-10 -8,8 -8,-7.5 s 8,2.5 8,-7.5 z" fill="#5E35B1"/>
<path transform="translate(182.74,3224)" d="M 0.5,0.5 H 341.29 M 0.5,49.5 V 5.5 M 0.5,20 V 49.5" fill="none" stroke="#8e72c8" stroke-width="1"/>
<rect x="223.8" y="3229" width="174.26" height="16" rx="4" fill="#bfaee0"/>
<path d="M 385.76,3235 h 5 l -2.5,4 z" fill="#5E35B1"/>
<path transform="translate(526.53,3250)" d="M 0,0 H 176.39 H 176.39 v 25 H 0 V 20 c 0,-10 -8,8 -8,-7.5 s 8,2.5 8,-7.5 z" fill="#c34118"/>
<path transform="translate(525.53,3249)" d="M 0,0 H 176.39 H 176.39 v 25 H 0 V 20 c 0,-10 -8,8 -8,-7.5 s 8,2.5 8,-7.5 z" fill="#F4511E"/>
<path transform="translate(525.53,3249)" d="M 0.5,0.5 H 175.89 M 0.5,24.5 M 0.5,20 V 24.5" fill="none" stroke="#f78562" stroke-width="1"/>
<rect x="560.9" y="3254" width="136.01" height="16" rx="4" fill="#fbb9a5"/>
<path d="M 684.61,3260 h 5 l -2.5,4 z" fill="#F4511E"/>
<path transform="translate(183.74,3276)" d="M 0,0 H 112.81 H 112.81 v 25 H 0 V 20 c 0,-10 -8,8 -8,-7.5 s 8,2.5 8,-7.5 z" fill="#c34118"/>
<path transform="translate(182.74,3275)" d="M 0,0 H 112.81 H 112.81 v 25 H 0 V 20 c 0,-10 -8,8 -8,-7.5 s 8,2.5 8,-7.5 z" fill="#F4511E"/>
<path transform="translate(182.74,3275)" d="M 0.5,0.5 H 112.31 M 0.5,24.5 M 0.5,20 V 24.5" fill="none" stroke="#f78562" stroke-width="1"/>
<rect x="218.11" y="3280" width="72.44" height="16" rx="4" fill="#fbb9a5"/>
<path d="M 278.25,3286 h 5 l -2.5,4 z" fill="#F4511E"/>
<path transform="translate(38.3,3302)" d="M 0,0 H 15 l 6,4 3,0 6,-4 H 214.74 H 214.74 v 5 c 0,10 -8,-8 -8,7.5 s 8,-2.5 8,7.5 v 31 H 29.5 l -6,4 -3,0 -6,-4 H 0 z" fill="#c34118"/>
<path transform="translate(37.3,3301)" d="M 0,0 H 15 l 6,4 3,0 6,-4 H 214.74 H 214.74 v 5 c 0,10 -8,-8 -8,7.5 s 8,-2.5 8,7.5 v 31 H 29.5 l -6,4 -3,0 -6,-4 H 0 z" fill="#F4511E"/>
<path transform="translate(37.3,3301)" d="M 0.5,0.5 H 15 l 6,4 3,0 6,-4 H 214.24 M 0.5,8 V 50.5" fill="none" stroke="#f78562" stroke-width="1"/>
<rect x="71.85" y="3306" width="144.97" height="16" rx="4" fill="#fbb9a5"/>
<path d="M 204.52,3312 h 5 l -2.5,4 z" fill="#F4511E"/>
<path transform="translate(254.04,3302)" d="M 0,0 H 77.81 H 77.81 v 5 c 0,10 -8,-8 -8,7.5 s 8,-2.5 8,7.5 v 6 H 77.81 v 5 c 0,10 -8,-8 -8,7.5 s 8,-2.5 8,7.5 v 5 H 0 V 20 c 0,-10 -8,8 -8,-7.5 s 8,2.5 8,-7.5 z" fill="#ad164d"/>
<path transform="translate(253.04,3301)" d="M 0,0 H 77.81 H 77.81 v 5 c 0,10 -8,-8 -8,7.5 s 8,-2.5 8,7.5 v 6 H 77.81 v 5 c 0,10 -8,-8 -8,7.5 s 8,-2.5 8,7.5 v 5 H 0 V 20 c 0,-10 -8,8 -8,-7.5 s 8,2.5 8,-7.5 z" fill="#D81B60"/>
<path transform="translate(253.04,3301)" d="M 0.5,0.5 H 77.31 M 0.5,50.5 V 5.5 M 0.5,20 V 50.5" fill="none" stroke="#e45f90" stroke-width="1"/>
<rect x="262.64" y="3305.6" width="16.4" height="16.6" rx="4" fill="#4909c9" stroke="#ea82a8" stroke-width="1.2"/>
<path d="M 269.04,3310.81 L 269.71,3308.74 L 272.18,3308.74 L 272.84,3310.81 L 272.84,3310.81 L 274.97,3310.35 L 276.2,3312.49 L 274.74,3314.1 L 274.74,3314.1 L 276.2,3315.71 L 274.97,3317.85 L 272.84,3317.39 L 272.84,3317.39 L 272.18,3319.46 L 269.71,3319.46 L 269.04,3317.39 L 269.04,3317.39 L 266.92,3317.85 L 265.68,3315.71 L 267.14,3314.1 L 267.14,3314.1 L 265.68,3312.49 L 266.92,3310.35 L 269.04,3310.81 Z M 269.04,3314.1 a 1.9,1.9 0 1,0 3.8,0 a 1.9,1.9 0 1,0 -3.8,0 Z" fill="#f4bfd2" fill-rule="evenodd"/>
<path transform="translate(332.86,3302)" d="M 0,0 H 98.65 H 98.65 v 25 H 0 V 20 c 0,-10 -8,8 -8,-7.5 s 8,2.5 8,-7.5 z" fill="#ad164d"/>
<path transform="translate(331.86,3301)" d="M 0,0 H 98.65 H 98.65 v 25 H 0 V 20 c 0,-10 -8,8 -8,-7.5 s 8,2.5 8,-7.5 z" fill="#D81B60"/>
<path transform="translate(331.86,3301)" d="M 0.5,0.5 H 98.15 M 0.5,24.5 M 0.5,20 V 24.5" fill="none" stroke="#e45f90" stroke-width="1"/>
<rect x="351.74" y="3306" width="58.89" height="16" rx="4" fill="#efa4bf"/>
<path transform="translate(332.86,3328)" d="M 0,0 H 151.93 H 151.93 v 25 H 0 V 20 c 0,-10 -8,8 -8,-7.5 s 8,2.5 8,-7.5 z" fill="#c34118"/>
<path transform="translate(331.86,3327)" d="M 0,0 H 151.93 H 151.93 v 25 H 0 V 20 c 0,-10 -8,8 -8,-7.5 s 8,2.5 8,-7.5 z" fill="#F4511E"/>
<path transform="translate(331.86,3327)" d="M 0.5,0.5 H 151.43 M 0.5,24.5 M 0.5,20 V 24.5" fill="none" stroke="#f78562" stroke-width="1"/>
<rect x="367.23" y="3332" width="111.55" height="16" rx="4" fill="#fbb9a5"/>
<path d="M 466.49,3338 h 5 l -2.5,4 z" fill="#F4511E"/>
<path transform="translate(38.3,3354)" d="M 0,0 H 15 l 6,4 3,0 6,-4 H 286.38 H 286.38 v 25 H 286.38 v 5 c 0,10 -8,-8 -8,7.5 s 8,-2.5 8,7.5 v 31 H 286.38 v 5 c 0,10 -8,-8 -8,7.5 s 8,-2.5 8,7.5 v 6 H 286.38 v 5 c 0,10 -8,-8 -8,7.5 s 8,-2.5 8,7.5 v 5 H 29.5 l -6,4 -3,0 -6,-4 H 0 z" fill="#4b2a8e"/>
<path transform="translate(37.3,3353)" d="M 0,0 H 15 l 6,4 3,0 6,-4 H 286.38 H 286.38 v 25 H 286.38 v 5 c 0,10 -8,-8 -8,7.5 s 8,-2.5 8,7.5 v 31 H 286.38 v 5 c 0,10 -8,-8 -8,7.5 s 8,-2.5 8,7.5 v 6 H 286.38 v 5 c 0,10 -8,-8 -8,7.5 s 8,-2.5 8,7.5 v 5 H 29.5 l -6,4 -3,0 -6,-4 H 0 z" fill="#5E35B1"/>
<path transform="translate(37.3,3353)" d="M 0.5,0.5 H 15 l 6,4 3,0 6,-4 H 285.88 M 0.5,8 V 126.5" fill="none" stroke="#8e72c8" stroke-width="1"/>
<rect x="78.37" y="3358" width="174.26" height="16" rx="4" fill="#bfaee0"/>
<path d="M 240.32,3364 h 5 l -2.5,4 z" fill="#5E35B1"/>
<path transform="translate(325.69,3379)" d="M 0,0 H 341.79 H 341.79 v 25 H 341.79 v 5 c 0,10 -8,-8 -8,7.5 s 8,-2.5 8,7.5 v 5 H 0 V 20 c 0,-10 -8,8 -8,-7.5 s 8,2.5 8,-7.5 z" fill="#4b2a8e"/>
<path transform="translate(324.69,3378)" d="M 0,0 H 341.79 H 341.79 v 25 H 341.79 v 5 c 0,10 -8,-8 -8,7.5 s 8,-2.5 8,7.5 v 5 H 0 V 20 c 0,-10 -8,8 -8,-7.5 s 8,2.5 8,-7.5 z" fill="#5E35B1"/>
<path transform="translate(324.69,3378)" d="M 0.5,0.5 H 341.29 M 0.5,49.5 V 5.5 M 0.5,20 V 49.5" fill="none" stroke="#8e72c8" stroke-width="1"/>
<rect x="365.75" y="3383" width="174.26" height="16" rx="4" fill="#bfaee0"/>
<path d="M 527.71,3389 h 5 l -2.5,4 z" fill="#5E35B1"/>
<path transform="translate(668.48,3404)" d="M 0,0 H 267.64 H 267.64 v 25 H 0 V 20 c 0,-10 -8,8 -8,-7.5 s 8,2.5 8,-7.5 z" fill="#c34118"/>
<path transform="translate(667.48,3403)" d="M 0,0 H 267.64 H 267.64 v 25 H 0 V 20 c 0,-10 -8,8 -8,-7.5 s 8,2.5 8,-7.5 z" fill="#F4511E"/>
<path transform="translate(667.48,3403)" d="M 0.5,0.5 H 267.14 M 0.5,24.5 M 0.5,20 V 24.5" fill="none" stroke="#f78562" stroke-width="1"/>
<rect x="702.85" y="3408" width="227.27" height="16" rx="4" fill="#fbb9a5"/>
<path d="M 917.82,3414 h 5 l -2.5,4 z" fill="#F4511E"/>
<path transform="translate(325.69,3430)" d="M 0,0 H 84.89 H 84.89 v 25 H 0 V 20 c 0,-10 -8,8 -8,-7.5 s 8,2.5 8,-7.5 z" fill="#6f9c3b"/>
<path transform="translate(324.69,3429)" d="M 0,0 H 84.89 H 84.89 v 25 H 0 V 20 c 0,-10 -8,8 -8,-7.5 s 8,2.5 8,-7.5 z" fill="#8BC34A"/>
<path transform="translate(324.69,3429)" d="M 0.5,0.5 H 84.39 M 0.5,24.5 M 0.5,20 V 24.5" fill="none" stroke="#aed580" stroke-width="1"/>
<rect x="329.69" y="3434" width="74.89" height="16" rx="4" fill="#d1e7b7"/>
<path d="M 392.27,3440 h 5 l -2.5,4 z" fill="#8BC34A"/>
<path transform="translate(325.69,3456)" d="M 0,0 H 185.34 H 185.34 v 25 H 0 V 20 c 0,-10 -8,8 -8,-7.5 s 8,2.5 8,-7.5 z" fill="#c34118"/>
<path transform="translate(324.69,3455)" d="M 0,0 H 185.34 H 185.34 v 25 H 0 V 20 c 0,-10 -8,8 -8,-7.5 s 8,2.5 8,-7.5 z" fill="#F4511E"/>
<path transform="translate(324.69,3455)" d="M 0.5,0.5 H 184.84 M 0.5,24.5 M 0.5,20 V 24.5" fill="none" stroke="#f78562" stroke-width="1"/>
<rect x="360.06" y="3460" width="144.97" height="16" rx="4" fill="#fbb9a5"/>
<path d="M 492.73,3466 h 5 l -2.5,4 z" fill="#F4511E"/>
<path transform="translate(38.3,3482)" d="M 0,0 H 15 l 6,4 3,0 6,-4 H 168.04 H 168.04 v 25 H 168.04 v 5 c 0,10 -8,-8 -8,7.5 s 8,-2.5 8,7.5 v 31 H 168.04 v 5 c 0,10 -8,-8 -8,7.5 s 8,-2.5 8,7.5 v 68 H 29.5 l -6,4 -3,0 -6,-4 H 0 z" fill="#2d7230"/>
<path transform="translate(37.3,3481)" d="M 0,0 H 15 l 6,4 3,0 6,-4 H 168.04 H 168.04 v 25 H 168.04 v 5 c 0,10 -8,-8 -8,7.5 s 8,-2.5 8,7.5 v 31 H 168.04 v 5 c 0,10 -8,-8 -8,7.5 s 8,-2.5 8,7.5 v 68 H 29.5 l -6,4 -3,0 -6,-4 H 0 z" fill="#388E3C"/>
<path transform="translate(37.3,3481)" d="M 0.5,0.5 H 15 l 6,4 3,0 6,-4 H 167.54 M 0.5,8 V 163.5" fill="none" stroke="#74b076" stroke-width="1"/>
<rect x="120.73" y="3486" width="71.61" height="16" rx="4" fill="#afd2b1"/>
<path d="M 180.05,3492 h 5 l -2.5,4 z" fill="#388E3C"/>
<path transform="translate(207.35,3507)" d="M 0,0 H 341.79 H 341.79 v 25 H 341.79 v 5 c 0,10 -8,-8 -8,7.5 s 8,-2.5 8,7.5 v 5 H 0 V 20 c 0,-10 -8,8 -8,-7.5 s 8,2.5 8,-7.5 z" fill="#4b2a8e"/>
<path transform="translate(206.35,3506)" d="M 0,0 H 341.79 H 341.79 v 25 H 341.79 v 5 c 0,10 -8,-8 -8,7.5 s 8,-2.5 8,7.5 v 5 H 0 V 20 c 0,-10 -8,8 -8,-7.5 s 8,2.5 8,-7.5 z" fill="#5E35B1"/>
<path transform="translate(206.35,3506)" d="M 0.5,0.5 H 341.29 M 0.5,49.5 V 5.5 M 0.5,20 V 49.5" fill="none" stroke="#8e72c8" stroke-width="1"/>
<rect x="247.41" y="3511" width="174.26" height="16" rx="4" fill="#bfaee0"/>
<path d="M 409.37,3517 h 5 l -2.5,4 z" fill="#5E35B1"/>
<path transform="translate(550.14,3532)" d="M 0,0 H 185.34 H 185.34 v 25 H 0 V 20 c 0,-10 -8,8 -8,-7.5 s 8,2.5 8,-7.5 z" fill="#c34118"/>
<path transform="translate(549.14,3531)" d="M 0,0 H 185.34 H 185.34 v 25 H 0 V 20 c 0,-10 -8,8 -8,-7.5 s 8,2.5 8,-7.5 z" fill="#F4511E"/>
<path transform="translate(549.14,3531)" d="M 0.5,0.5 H 184.84 M 0.5,24.5 M 0.5,20 V 24.5" fill="none" stroke="#f78562" stroke-width="1"/>
<rect x="584.51" y="3536" width="144.97" height="16" rx="4" fill="#fbb9a5"/>
<path d="M 717.18,3542 h 5 l -2.5,4 z" fill="#F4511E"/>
<path transform="translate(207.35,3558)" d="M 0,0 H 56.53 H 56.53 v 5 c 0,10 -8,-8 -8,7.5 s 8,-2.5 8,7.5 v 17 H 56.53 v 5 c 0,10 -8,-8 -8,7.5 s 8,-2.5 8,7.5 v 6 H 56.53 v 5 c 0,10 -8,-8 -8,7.5 s 8,-2.5 8,7.5 v 5 H 0 V 20 c 0,-10 -8,8 -8,-7.5 s 8,2.5 8,-7.5 z" fill="#cc8900"/>
<path transform="translate(206.35,3557)" d="M 0,0 H 56.53 H 56.53 v 5 c 0,10 -8,-8 -8,7.5 s 8,-2.5 8,7.5 v 17 H 56.53 v 5 c 0,10 -8,-8 -8,7.5 s 8,-2.5 8,7.5 v 6 H 56.53 v 5 c 0,10 -8,-8 -8,7.5 s 8,-2.5 8,7.5 v 5 H 0 V 20 c 0,-10 -8,8 -8,-7.5 s 8,2.5 8,-7.5 z" fill="#FFAB00"/>
<path transform="translate(206.35,3557)" d="M 0.5,0.5 H 56.03 M 0.5,87.5 V 5.5 M 0.5,20 V 87.5" fill="none" stroke="#ffc44c" stroke-width="1"/>
<path transform="translate(264.87,3558)" d="M 0,0 H 20 H 260.64 v 36 H 0 V 20 c 0,-10 -8,8 -8,-7.5 s 8,2.5 8,-7.5 z" fill="#2e3a89"/>
<path transform="translate(263.87,3557)" d="M 0,0 H 20 H 260.64 v 36 H 0 V 20 c 0,-10 -8,8 -8,-7.5 s 8,2.5 8,-7.5 z" fill="#3949AB"/>
<path transform="translate(263.87,3557)" d="M 0.5,0.5 H 19.5 M 0.5,35.5 V 5.5 M 0.5,20 V 35.5" fill="none" stroke="#7480c4" stroke-width="1"/>
<path d="M 279.87,3562 H 433.8 V 3589 H 279.87 V 3582 c 0,-10 -8,8 -8,-7.5 s 8,2.5 8,-7.5 z" fill="#7480c4"/>
<path d="M 433.3,3563 V 3588.5 H 279.87" fill="none" stroke="#7480c4" stroke-width="1"/>
<rect x="438.8" y="3567" width="34.56" height="16" rx="4" fill="#b0b6dd"/>
<path d="M 461.06,3573 h 5 l -2.5,4 z" fill="#3949AB"/>
<path d="M 484.36,3562 H 514.51 V 3589 H 484.36 V 3582 c 0,-10 -8,8 -8,-7.5 s 8,2.5 8,-7.5 z" fill="#7480c4"/>
<path d="M 514.01,3563 V 3588.5 H 484.36" fill="none" stroke="#7480c4" stroke-width="1"/>
<path transform="translate(281.87,3564)" d="M 0,0 H 151.93 H 151.93 v 25 H 0 V 20 c 0,-10 -8,8 -8,-7.5 s 8,2.5 8,-7.5 z" fill="#c34118"/>
<path transform="translate(280.87,3563)" d="M 0,0 H 151.93 H 151.93 v 25 H 0 V 20 c 0,-10 -8,8 -8,-7.5 s 8,2.5 8,-7.5 z" fill="#F4511E"/>
<path transform="translate(280.87,3563)" d="M 0.5,0.5 H 151.43 M 0.5,24.5 M 0.5,20 V 24.5" fill="none" stroke="#f78562" stroke-width="1"/>
<rect x="316.25" y="3568" width="111.55" height="16" rx="4" fill="#fbb9a5"/>
<path d="M 415.5,3574 h 5 l -2.5,4 z" fill="#F4511E"/>
<path transform="translate(486.36,3564)" d="M 0,0 H 28.15 H 28.15 v 25 H 0 V 20 c 0,-10 -8,8 -8,-7.5 s 8,2.5 8,-7.5 z" fill="#2e3a89"/>
<path transform="translate(485.36,3563)" d="M 0,0 H 28.15 H 28.15 v 25 H 0 V 20 c 0,-10 -8,8 -8,-7.5 s 8,2.5 8,-7.5 z" fill="#3949AB"/>
<path transform="translate(485.36,3563)" d="M 0.5,0.5 H 27.65 M 0.5,24.5 M 0.5,20 V 24.5" fill="none" stroke="#7480c4" stroke-width="1"/>
<rect x="490.36" y="3568" width="18.15" height="16" rx="4" fill="#b0b6dd"/>
<path transform="translate(264.87,3595)" d="M 0,0 H 104.36 H 104.36 v 25 H 0 V 20 c 0,-10 -8,8 -8,-7.5 s 8,2.5 8,-7.5 z" fill="#ad164d"/>
<path transform="translate(263.87,3594)" d="M 0,0 H 104.36 H 104.36 v 25 H 0 V 20 c 0,-10 -8,8 -8,-7.5 s 8,2.5 8,-7.5 z" fill="#D81B60"/>
<path transform="translate(263.87,3594)" d="M 0.5,0.5 H 103.86 M 0.5,24.5 M 0.5,20 V 24.5" fill="none" stroke="#e45f90" stroke-width="1"/>
<rect x="283.75" y="3599" width="64.6" height="16" rx="4" fill="#efa4bf"/>
<path transform="translate(264.87,3621)" d="M 0,0 H 53.83 H 53.83 v 25 H 0 V 20 c 0,-10 -8,8 -8,-7.5 s 8,2.5 8,-7.5 z" fill="#ad164d"/>
<path transform="translate(263.87,3620)" d="M 0,0 H 53.83 H 53.83 v 25 H 0 V 20 c 0,-10 -8,8 -8,-7.5 s 8,2.5 8,-7.5 z" fill="#D81B60"/>
<path transform="translate(263.87,3620)" d="M 0.5,0.5 H 53.33 M 0.5,24.5 M 0.5,20 V 24.5" fill="none" stroke="#e45f90" stroke-width="1"/>
<rect x="283.75" y="3625" width="14.07" height="16" rx="4" fill="#efa4bf"/>
<path transform="translate(38.3,3647)" d="M 0,0 H 15 l 6,4 3,0 6,-4 H 273.38 H 273.38 v 25 H 273.38 v 5 c 0,10 -8,-8 -8,7.5 s 8,-2.5 8,7.5 v 31 H 273.38 v 5 c 0,10 -8,-8 -8,7.5 s 8,-2.5 8,7.5 v 6 H 273.38 v 5 c 0,10 -8,-8 -8,7.5 s 8,-2.5 8,7.5 v 6 H 273.38 v 5 c 0,10 -8,-8 -8,7.5 s 8,-2.5 8,7.5 v 6 H 273.38 v 5 c 0,10 -8,-8 -8,7.5 s 8,-2.5 8,7.5 v 5 H 29.5 l -6,4 -3,0 -6,-4 H 8 a 8,8 0 0,1 -8,-8 z" fill="#4b2a8e"/>
<path transform="translate(37.3,3646)" d="M 0,0 H 15 l 6,4 3,0 6,-4 H 273.38 H 273.38 v 25 H 273.38 v 5 c 0,10 -8,-8 -8,7.5 s 8,-2.5 8,7.5 v 31 H 273.38 v 5 c 0,10 -8,-8 -8,7.5 s 8,-2.5 8,7.5 v 6 H 273.38 v 5 c 0,10 -8,-8 -8,7.5 s 8,-2.5 8,7.5 v 6 H 273.38 v 5 c 0,10 -8,-8 -8,7.5 s 8,-2.5 8,7.5 v 6 H 273.38 v 5 c 0,10 -8,-8 -8,7.5 s 8,-2.5 8,7.5 v 5 H 29.5 l -6,4 -3,0 -6,-4 H 8 a 8,8 0 0,1 -8,-8 z" fill="#5E35B1"/>
<path transform="translate(37.3,3646)" d="M 0.5,0.5 H 15 l 6,4 3,0 6,-4 H 272.88 M 0.5,8 V 171" fill="none" stroke="#8e72c8" stroke-width="1"/>
<rect x="78.37" y="3651" width="75.71" height="16" rx="4" fill="#bfaee0"/>
<path d="M 141.77,3657 h 5 l -2.5,4 z" fill="#5E35B1"/>
<path transform="translate(312.68,3672)" d="M 0,0 H 341.79 H 341.79 v 25 H 341.79 v 5 c 0,10 -8,-8 -8,7.5 s 8,-2.5 8,7.5 v 5 H 0 V 20 c 0,-10 -8,8 -8,-7.5 s 8,2.5 8,-7.5 z" fill="#4b2a8e"/>
<path transform="translate(311.68,3671)" d="M 0,0 H 341.79 H 341.79 v 25 H 341.79 v 5 c 0,10 -8,-8 -8,7.5 s 8,-2.5 8,7.5 v 5 H 0 V 20 c 0,-10 -8,8 -8,-7.5 s 8,2.5 8,-7.5 z" fill="#5E35B1"/>
<path transform="translate(311.68,3671)" d="M 0.5,0.5 H 341.29 M 0.5,49.5 V 5.5 M 0.5,20 V 49.5" fill="none" stroke="#8e72c8" stroke-width="1"/>
<rect x="352.75" y="3676" width="174.26" height="16" rx="4" fill="#bfaee0"/>
<path d="M 514.71,3682 h 5 l -2.5,4 z" fill="#5E35B1"/>
<path transform="translate(655.47,3697)" d="M 0,0 H 203.25 H 203.25 v 25 H 0 V 20 c 0,-10 -8,8 -8,-7.5 s 8,2.5 8,-7.5 z" fill="#c34118"/>
<path transform="translate(654.47,3696)" d="M 0,0 H 203.25 H 203.25 v 25 H 0 V 20 c 0,-10 -8,8 -8,-7.5 s 8,2.5 8,-7.5 z" fill="#F4511E"/>
<path transform="translate(654.47,3696)" d="M 0.5,0.5 H 202.75 M 0.5,24.5 M 0.5,20 V 24.5" fill="none" stroke="#f78562" stroke-width="1"/>
<rect x="689.85" y="3701" width="162.88" height="16" rx="4" fill="#fbb9a5"/>
<path d="M 840.43,3707 h 5 l -2.5,4 z" fill="#F4511E"/>
<path transform="translate(312.68,3723)" d="M 0,0 H 171.39 H 171.39 v 25 H 0 V 20 c 0,-10 -8,8 -8,-7.5 s 8,2.5 8,-7.5 z" fill="#6f9c3b"/>
<path transform="translate(311.68,3722)" d="M 0,0 H 171.39 H 171.39 v 25 H 0 V 20 c 0,-10 -8,8 -8,-7.5 s 8,2.5 8,-7.5 z" fill="#8BC34A"/>
<path transform="translate(311.68,3722)" d="M 0.5,0.5 H 170.89 M 0.5,24.5 M 0.5,20 V 24.5" fill="none" stroke="#aed580" stroke-width="1"/>
<rect x="316.68" y="3727" width="75.71" height="16" rx="4" fill="#d1e7b7"/>
<path d="M 380.09,3733 h 5 l -2.5,4 z" fill="#8BC34A"/>
<rect x="406.46" y="3727" width="71.61" height="16" rx="4" fill="#d1e7b7"/>
<path d="M 465.78,3733 h 5 l -2.5,4 z" fill="#8BC34A"/>
<path transform="translate(312.68,3749)" d="M 0,0 H 28.15 H 28.15 v 25 H 0 V 20 c 0,-10 -8,8 -8,-7.5 s 8,2.5 8,-7.5 z" fill="#2e3a89"/>
<path transform="translate(311.68,3748)" d="M 0,0 H 28.15 H 28.15 v 25 H 0 V 20 c 0,-10 -8,8 -8,-7.5 s 8,2.5 8,-7.5 z" fill="#3949AB"/>
<path transform="translate(311.68,3748)" d="M 0.5,0.5 H 27.65 M 0.5,24.5 M 0.5,20 V 24.5" fill="none" stroke="#7480c4" stroke-width="1"/>
<rect x="316.68" y="3753" width="18.15" height="16" rx="4" fill="#b0b6dd"/>
<path transform="translate(312.68,3775)" d="M 0,0 H 52.6 H 52.6 v 25 H 0 V 20 c 0,-10 -8,8 -8,-7.5 s 8,2.5 8,-7.5 z" fill="#2e3a89"/>
<path transform="translate(311.68,3774)" d="M 0,0 H 52.6 H 52.6 v 25 H 0 V 20 c 0,-10 -8,8 -8,-7.5 s 8,2.5 8,-7.5 z" fill="#3949AB"/>
<path transform="translate(311.68,3774)" d="M 0.5,0.5 H 52.1 M 0.5,24.5 M 0.5,20 V 24.5" fill="none" stroke="#7480c4" stroke-width="1"/>
<rect x="316.68" y="3779" width="42.6" height="16" rx="4" fill="#b0b6dd"/>
<path transform="translate(312.68,3801)" d="M 0,0 H 28.15 H 28.15 v 25 H 0 V 20 c 0,-10 -8,8 -8,-7.5 s 8,2.5 8,-7.5 z" fill="#2e3a89"/>
<path transform="translate(311.68,3800)" d="M 0,0 H 28.15 H 28.15 v 25 H 0 V 20 c 0,-10 -8,8 -8,-7.5 s 8,2.5 8,-7.5 z" fill="#3949AB"/>
<path transform="translate(311.68,3800)" d="M 0.5,0.5 H 27.65 M 0.5,24.5 M 0.5,20 V 24.5" fill="none" stroke="#7480c4" stroke-width="1"/>
<rect x="316.68" y="3805" width="18.15" height="16" rx="4" fill="#b0b6dd"/>
<path transform="translate(995.3,1)" d="M 0,8 A 8,8 0 0,1 8,0 H 222.34 H 222.34 v 5 c 0,10 -8,-8 -8,7.5 s 8,-2.5 8,7.5 v 5 H 8 a 8,8 0 0,1 -8,-8 z" fill="#c34118"/>
<path transform="translate(994.3,0)" d="M 0,8 A 8,8 0 0,1 8,0 H 222.34 H 222.34 v 5 c 0,10 -8,-8 -8,7.5 s 8,-2.5 8,7.5 v 5 H 8 a 8,8 0 0,1 -8,-8 z" fill="#F4511E"/>
<path transform="translate(994.3,0)" d="M 0.5,8 A 7.5,7.5 0 0,1 8,0.5 H 221.84 M 0.5,8 V 17" fill="none" stroke="#f78562" stroke-width="1"/>
<rect x="1104.62" y="4.7" width="76.8" height="16.6" rx="5" fill="#dc8b6c" stroke="#eba98a" stroke-width="1"/>
<path transform="translate(1218.64,1)" d="M 0,0 H 28.15 H 28.15 v 25 H 0 V 20 c 0,-10 -8,8 -8,-7.5 s 8,2.5 8,-7.5 z" fill="#2e3a89"/>
<path transform="translate(1217.64,0)" d="M 0,0 H 28.15 H 28.15 v 25 H 0 V 20 c 0,-10 -8,8 -8,-7.5 s 8,2.5 8,-7.5 z" fill="#3949AB"/>
<path transform="translate(1217.64,0)" d="M 0.5,0.5 H 27.65 M 0.5,24.5 M 0.5,20 V 24.5" fill="none" stroke="#7480c4" stroke-width="1"/>
<rect x="1222.64" y="5" width="18.15" height="16" rx="4" fill="#b0b6dd"/>
<path transform="translate(995.3,54)" d="M 0,8 A 8,8 0 0,1 8,0 H 277.82 H 277.82 v 25 H 277.82 v 25 H 66.3 l -6,4 -3,0 -6,-4 h -7 a 8,8 0 0,0 -8,8 v 372 a 8,8 0 0,0 8,8 H 277.82 v 10 H 8 a 8,8 0 0,1 -8,-8 z" fill="#cc861e"/>
<path transform="translate(994.3,53)" d="M 0,8 A 8,8 0 0,1 8,0 H 277.82 H 277.82 v 25 H 277.82 v 25 H 66.3 l -6,4 -3,0 -6,-4 h -7 a 8,8 0 0,0 -8,8 v 372 a 8,8 0 0,0 8,8 H 277.82 v 10 H 8 a 8,8 0 0,1 -8,-8 z" fill="#FFA726"/>
<path transform="translate(994.3,53)" d="M 0.5,8 A 7.5,7.5 0 0,1 8,0.5 H 277.32 M 0.5,8 V 440" fill="none" stroke="#ffc167" stroke-width="1"/>
<rect x="1014.05" y="82.7" width="83.02" height="16.6" rx="5" fill="#dc8b6c" stroke="#eba98a" stroke-width="1"/>
<rect x="1110.57" y="82.7" width="143.31" height="16.6" rx="5" fill="#dc8b6c" stroke="#eba98a" stroke-width="1"/>
<path transform="translate(1032.6,105)" d="M 0,8 A 8,8 0 0,1 8,0 H 15 l 6,4 3,0 6,-4 H 357.35 H 357.35 v 5 c 0,10 -8,-8 -8,7.5 s 8,-2.5 8,7.5 v 6 H 357.35 v 5 c 0,10 -8,-8 -8,7.5 s 8,-2.5 8,7.5 v 340 H 8 a 8,8 0 0,1 -8,-8 z" fill="#cc8900"/>
<path transform="translate(1031.6,104)" d="M 0,8 A 8,8 0 0,1 8,0 H 15 l 6,4 3,0 6,-4 H 357.35 H 357.35 v 5 c 0,10 -8,-8 -8,7.5 s 8,-2.5 8,7.5 v 6 H 357.35 v 5 c 0,10 -8,-8 -8,7.5 s 8,-2.5 8,7.5 v 340 H 8 a 8,8 0 0,1 -8,-8 z" fill="#FFAB00"/>
<path transform="translate(1031.6,104)" d="M 0.5,8 A 7.5,7.5 0 0,1 8,0.5 H 15 l 6,4 3,0 6,-4 H 356.85 M 0.5,8 V 378" fill="none" stroke="#ffc44c" stroke-width="1"/>
<path transform="translate(1390.96,105)" d="M 0,0 H 104.35 H 104.35 v 25 H 0 V 20 c 0,-10 -8,8 -8,-7.5 s 8,2.5 8,-7.5 z" fill="#ad164d"/>
<path transform="translate(1389.96,104)" d="M 0,0 H 104.35 H 104.35 v 25 H 0 V 20 c 0,-10 -8,8 -8,-7.5 s 8,2.5 8,-7.5 z" fill="#D81B60"/>
<path transform="translate(1389.96,104)" d="M 0.5,0.5 H 103.85 M 0.5,24.5 M 0.5,20 V 24.5" fill="none" stroke="#e45f90" stroke-width="1"/>
<rect x="1409.84" y="109" width="64.59" height="16" rx="4" fill="#efa4bf"/>
<path transform="translate(1390.96,131)" d="M 0,0 H 125.05 H 125.05 v 5 c 0,10 -8,-8 -8,7.5 s 8,-2.5 8,7.5 v 109 H 125.05 v 5 c 0,10 -8,-8 -8,7.5 s 8,-2.5 8,7.5 v 109 H 125.05 v 5 c 0,10 -8,-8 -8,7.5 s 8,-2.5 8,7.5 v 82 H 0 V 20 c 0,-10 -8,8 -8,-7.5 s 8,2.5 8,-7.5 z" fill="#027cb7"/>
<path transform="translate(1389.96,130)" d="M 0,0 H 125.05 H 125.05 v 5 c 0,10 -8,-8 -8,7.5 s 8,-2.5 8,7.5 v 109 H 125.05 v 5 c 0,10 -8,-8 -8,7.5 s 8,-2.5 8,7.5 v 109 H 125.05 v 5 c 0,10 -8,-8 -8,7.5 s 8,-2.5 8,7.5 v 82 H 0 V 20 c 0,-10 -8,8 -8,-7.5 s 8,2.5 8,-7.5 z" fill="#039BE5"/>
<path transform="translate(1389.96,130)" d="M 0.5,0.5 H 124.55 M 0.5,359.5 V 5.5 M 0.5,20 V 359.5" fill="none" stroke="#4fb9ed" stroke-width="1"/>
<rect x="1399.56" y="134.6" width="16.4" height="16.6" rx="4" fill="#0135f6" stroke="#74c8f1" stroke-width="1.2"/>
<path d="M 1405.96,139.81 L 1406.62,137.74 L 1409.09,137.74 L 1409.76,139.81 L 1409.76,139.81 L 1411.88,139.35 L 1413.11,141.49 L 1411.66,143.1 L 1411.66,143.1 L 1413.11,144.71 L 1411.88,146.85 L 1409.76,146.39 L 1409.76,146.39 L 1409.09,148.46 L 1406.62,148.46 L 1405.96,146.39 L 1405.96,146.39 L 1403.83,146.85 L 1402.6,144.71 L 1404.06,143.1 L 1404.06,143.1 L 1402.6,141.49 L 1403.83,139.35 L 1405.96,139.81 Z M 1405.96,143.1 a 1.9,1.9 0 1,0 3.8,0 a 1.9,1.9 0 1,0 -3.8,0 Z" fill="#b8e3f8" fill-rule="evenodd"/>
<path transform="translate(1517,131)" d="M 0,0 H 146.09 H 146.09 v 5 c 0,10 -8,-8 -8,7.5 s 8,-2.5 8,7.5 v 6 H 146.09 v 5 c 0,10 -8,-8 -8,7.5 s 8,-2.5 8,7.5 v 82 H 0 V 20 c 0,-10 -8,8 -8,-7.5 s 8,2.5 8,-7.5 z" fill="#027cb7"/>
<path transform="translate(1516,130)" d="M 0,0 H 146.09 H 146.09 v 5 c 0,10 -8,-8 -8,7.5 s 8,-2.5 8,7.5 v 6 H 146.09 v 5 c 0,10 -8,-8 -8,7.5 s 8,-2.5 8,7.5 v 82 H 0 V 20 c 0,-10 -8,8 -8,-7.5 s 8,2.5 8,-7.5 z" fill="#039BE5"/>
<path transform="translate(1516,130)" d="M 0.5,0.5 H 145.59 M 0.5,127.5 V 5.5 M 0.5,20 V 127.5" fill="none" stroke="#4fb9ed" stroke-width="1"/>
<path transform="translate(1664.09,131)" d="M 0,0 H 132.37 H 132.37 v 25 H 0 V 20 c 0,-10 -8,8 -8,-7.5 s 8,2.5 8,-7.5 z" fill="#c34118"/>
<path transform="translate(1663.09,130)" d="M 0,0 H 132.37 H 132.37 v 25 H 0 V 20 c 0,-10 -8,8 -8,-7.5 s 8,2.5 8,-7.5 z" fill="#F4511E"/>
<path transform="translate(1663.09,130)" d="M 0.5,0.5 H 131.87 M 0.5,24.5 M 0.5,20 V 24.5" fill="none" stroke="#f78562" stroke-width="1"/>
<rect x="1698.46" y="135" width="92" height="16" rx="4" fill="#fbb9a5"/>
<path d="M 1778.16,141 h 5 l -2.5,4 z" fill="#F4511E"/>
<path transform="translate(1664.09,157)" d="M 0,0 H 122.5 H 122.5 v 5 c 0,10 -8,-8 -8,7.5 s 8,-2.5 8,7.5 v 31 H 122.5 v 5 c 0,10 -8,-8 -8,7.5 s 8,-2.5 8,7.5 v 6 H 122.5 v 5 c 0,10 -8,-8 -8,7.5 s 8,-2.5 8,7.5 v 5 H 0 V 20 c 0,-10 -8,8 -8,-7.5 s 8,2.5 8,-7.5 z" fill="#ad164d"/>
<path transform="translate(1663.09,156)" d="M 0,0 H 122.5 H 122.5 v 5 c 0,10 -8,-8 -8,7.5 s 8,-2.5 8,7.5 v 31 H 122.5 v 5 c 0,10 -8,-8 -8,7.5 s 8,-2.5 8,7.5 v 6 H 122.5 v 5 c 0,10 -8,-8 -8,7.5 s 8,-2.5 8,7.5 v 5 H 0 V 20 c 0,-10 -8,8 -8,-7.5 s 8,2.5 8,-7.5 z" fill="#D81B60"/>
<path transform="translate(1663.09,156)" d="M 0.5,0.5 H 122 M 0.5,101.5 V 5.5 M 0.5,20 V 101.5" fill="none" stroke="#e45f90" stroke-width="1"/>
<path transform="translate(1787.59,157)" d="M 0,0 H 278.24 H 278.24 v 25 H 278.24 v 5 c 0,10 -8,-8 -8,7.5 s 8,-2.5 8,7.5 v 5 H 0 V 20 c 0,-10 -8,8 -8,-7.5 s 8,2.5 8,-7.5 z" fill="#4b2a8e"/>
<path transform="translate(1786.59,156)" d="M 0,0 H 278.24 H 278.24 v 25 H 278.24 v 5 c 0,10 -8,-8 -8,7.5 s 8,-2.5 8,7.5 v 5 H 0 V 20 c 0,-10 -8,8 -8,-7.5 s 8,2.5 8,-7.5 z" fill="#5E35B1"/>
<path transform="translate(1786.59,156)" d="M 0.5,0.5 H 277.74 M 0.5,49.5 V 5.5 M 0.5,20 V 49.5" fill="none" stroke="#8e72c8" stroke-width="1"/>
<rect x="1827.65" y="161" width="174.26" height="16" rx="4" fill="#bfaee0"/>
<path d="M 1989.61,167 h 5 l -2.5,4 z" fill="#5E35B1"/>
<path transform="translate(2066.83,182)" d="M 0,0 H 138.89 H 138.89 v 25 H 0 V 20 c 0,-10 -8,8 -8,-7.5 s 8,2.5 8,-7.5 z" fill="#c34118"/>
<path transform="translate(2065.83,181)" d="M 0,0 H 138.89 H 138.89 v 25 H 0 V 20 c 0,-10 -8,8 -8,-7.5 s 8,2.5 8,-7.5 z" fill="#F4511E"/>
<path transform="translate(2065.83,181)" d="M 0.5,0.5 H 138.39 M 0.5,24.5 M 0.5,20 V 24.5" fill="none" stroke="#f78562" stroke-width="1"/>
<rect x="2101.2" y="186" width="98.52" height="16" rx="4" fill="#fbb9a5"/>
<path d="M 2187.42,192 h 5 l -2.5,4 z" fill="#F4511E"/>
<path transform="translate(1787.59,208)" d="M 0,0 H 107.59 H 107.59 v 25 H 0 V 20 c 0,-10 -8,8 -8,-7.5 s 8,2.5 8,-7.5 z" fill="#ad164d"/>
<path transform="translate(1786.59,207)" d="M 0,0 H 107.59 H 107.59 v 25 H 0 V 20 c 0,-10 -8,8 -8,-7.5 s 8,2.5 8,-7.5 z" fill="#D81B60"/>
<path transform="translate(1786.59,207)" d="M 0.5,0.5 H 107.09 M 0.5,24.5 M 0.5,20 V 24.5" fill="none" stroke="#e45f90" stroke-width="1"/>
<rect x="1806.47" y="212" width="67.83" height="16" rx="4" fill="#efa4bf"/>
<path transform="translate(1787.59,234)" d="M 0,0 H 53.83 H 53.83 v 25 H 0 V 20 c 0,-10 -8,8 -8,-7.5 s 8,2.5 8,-7.5 z" fill="#ad164d"/>
<path transform="translate(1786.59,233)" d="M 0,0 H 53.83 H 53.83 v 25 H 0 V 20 c 0,-10 -8,8 -8,-7.5 s 8,2.5 8,-7.5 z" fill="#D81B60"/>
<path transform="translate(1786.59,233)" d="M 0.5,0.5 H 53.33 M 0.5,24.5 M 0.5,20 V 24.5" fill="none" stroke="#e45f90" stroke-width="1"/>
<rect x="1806.47" y="238" width="14.07" height="16" rx="4" fill="#efa4bf"/>
<path transform="translate(1517,260)" d="M 0,0 H 146.09 H 146.09 v 5 c 0,10 -8,-8 -8,7.5 s 8,-2.5 8,7.5 v 6 H 146.09 v 5 c 0,10 -8,-8 -8,7.5 s 8,-2.5 8,7.5 v 82 H 0 V 20 c 0,-10 -8,8 -8,-7.5 s 8,2.5 8,-7.5 z" fill="#027cb7"/>
<path transform="translate(1516,259)" d="M 0,0 H 146.09 H 146.09 v 5 c 0,10 -8,-8 -8,7.5 s 8,-2.5 8,7.5 v 6 H 146.09 v 5 c 0,10 -8,-8 -8,7.5 s 8,-2.5 8,7.5 v 82 H 0 V 20 c 0,-10 -8,8 -8,-7.5 s 8,2.5 8,-7.5 z" fill="#039BE5"/>
<path transform="translate(1516,259)" d="M 0.5,0.5 H 145.59 M 0.5,127.5 V 5.5 M 0.5,20 V 127.5" fill="none" stroke="#4fb9ed" stroke-width="1"/>
<path transform="translate(1664.09,260)" d="M 0,0 H 156 H 156 v 25 H 0 V 20 c 0,-10 -8,8 -8,-7.5 s 8,2.5 8,-7.5 z" fill="#c34118"/>
<path transform="translate(1663.09,259)" d="M 0,0 H 156 H 156 v 25 H 0 V 20 c 0,-10 -8,8 -8,-7.5 s 8,2.5 8,-7.5 z" fill="#F4511E"/>
<path transform="translate(1663.09,259)" d="M 0.5,0.5 H 155.5 M 0.5,24.5 M 0.5,20 V 24.5" fill="none" stroke="#f78562" stroke-width="1"/>
<rect x="1698.46" y="264" width="115.63" height="16" rx="4" fill="#fbb9a5"/>
<path d="M 1801.79,270 h 5 l -2.5,4 z" fill="#F4511E"/>
<path transform="translate(1664.09,286)" d="M 0,0 H 122.5 H 122.5 v 5 c 0,10 -8,-8 -8,7.5 s 8,-2.5 8,7.5 v 31 H 122.5 v 5 c 0,10 -8,-8 -8,7.5 s 8,-2.5 8,7.5 v 6 H 122.5 v 5 c 0,10 -8,-8 -8,7.5 s 8,-2.5 8,7.5 v 5 H 0 V 20 c 0,-10 -8,8 -8,-7.5 s 8,2.5 8,-7.5 z" fill="#ad164d"/>
<path transform="translate(1663.09,285)" d="M 0,0 H 122.5 H 122.5 v 5 c 0,10 -8,-8 -8,7.5 s 8,-2.5 8,7.5 v 31 H 122.5 v 5 c 0,10 -8,-8 -8,7.5 s 8,-2.5 8,7.5 v 6 H 122.5 v 5 c 0,10 -8,-8 -8,7.5 s 8,-2.5 8,7.5 v 5 H 0 V 20 c 0,-10 -8,8 -8,-7.5 s 8,2.5 8,-7.5 z" fill="#D81B60"/>
<path transform="translate(1663.09,285)" d="M 0.5,0.5 H 122 M 0.5,101.5 V 5.5 M 0.5,20 V 101.5" fill="none" stroke="#e45f90" stroke-width="1"/>
<path transform="translate(1787.59,286)" d="M 0,0 H 278.24 H 278.24 v 25 H 278.24 v 5 c 0,10 -8,-8 -8,7.5 s 8,-2.5 8,7.5 v 5 H 0 V 20 c 0,-10 -8,8 -8,-7.5 s 8,2.5 8,-7.5 z" fill="#4b2a8e"/>
<path transform="translate(1786.59,285)" d="M 0,0 H 278.24 H 278.24 v 25 H 278.24 v 5 c 0,10 -8,-8 -8,7.5 s 8,-2.5 8,7.5 v 5 H 0 V 20 c 0,-10 -8,8 -8,-7.5 s 8,2.5 8,-7.5 z" fill="#5E35B1"/>
<path transform="translate(1786.59,285)" d="M 0.5,0.5 H 277.74 M 0.5,49.5 V 5.5 M 0.5,20 V 49.5" fill="none" stroke="#8e72c8" stroke-width="1"/>
<rect x="1827.65" y="290" width="174.26" height="16" rx="4" fill="#bfaee0"/>
<path d="M 1989.61,296 h 5 l -2.5,4 z" fill="#5E35B1"/>
<path transform="translate(2066.83,311)" d="M 0,0 H 138.89 H 138.89 v 25 H 0 V 20 c 0,-10 -8,8 -8,-7.5 s 8,2.5 8,-7.5 z" fill="#c34118"/>
<path transform="translate(2065.83,310)" d="M 0,0 H 138.89 H 138.89 v 25 H 0 V 20 c 0,-10 -8,8 -8,-7.5 s 8,2.5 8,-7.5 z" fill="#F4511E"/>
<path transform="translate(2065.83,310)" d="M 0.5,0.5 H 138.39 M 0.5,24.5 M 0.5,20 V 24.5" fill="none" stroke="#f78562" stroke-width="1"/>
<rect x="2101.2" y="315" width="98.52" height="16" rx="4" fill="#fbb9a5"/>
<path d="M 2187.42,321 h 5 l -2.5,4 z" fill="#F4511E"/>
<path transform="translate(1787.59,337)" d="M 0,0 H 107.59 H 107.59 v 25 H 0 V 20 c 0,-10 -8,8 -8,-7.5 s 8,2.5 8,-7.5 z" fill="#ad164d"/>
<path transform="translate(1786.59,336)" d="M 0,0 H 107.59 H 107.59 v 25 H 0 V 20 c 0,-10 -8,8 -8,-7.5 s 8,2.5 8,-7.5 z" fill="#D81B60"/>
<path transform="translate(1786.59,336)" d="M 0.5,0.5 H 107.09 M 0.5,24.5 M 0.5,20 V 24.5" fill="none" stroke="#e45f90" stroke-width="1"/>
<rect x="1806.47" y="341" width="67.83" height="16" rx="4" fill="#efa4bf"/>
<path transform="translate(1787.59,363)" d="M 0,0 H 53.83 H 53.83 v 25 H 0 V 20 c 0,-10 -8,8 -8,-7.5 s 8,2.5 8,-7.5 z" fill="#ad164d"/>
<path transform="translate(1786.59,362)" d="M 0,0 H 53.83 H 53.83 v 25 H 0 V 20 c 0,-10 -8,8 -8,-7.5 s 8,2.5 8,-7.5 z" fill="#D81B60"/>
<path transform="translate(1786.59,362)" d="M 0.5,0.5 H 53.33 M 0.5,24.5 M 0.5,20 V 24.5" fill="none" stroke="#e45f90" stroke-width="1"/>
<rect x="1806.47" y="367" width="14.07" height="16" rx="4" fill="#efa4bf"/>
<path transform="translate(1517,389)" d="M 0,0 H 122.5 H 122.5 v 5 c 0,10 -8,-8 -8,7.5 s 8,-2.5 8,7.5 v 31 H 122.5 v 5 c 0,10 -8,-8 -8,7.5 s 8,-2.5 8,7.5 v 6 H 122.5 v 5 c 0,10 -8,-8 -8,7.5 s 8,-2.5 8,7.5 v 5 H 0 V 20 c 0,-10 -8,8 -8,-7.5 s 8,2.5 8,-7.5 z" fill="#ad164d"/>
<path transform="translate(1516,388)" d="M 0,0 H 122.5 H 122.5 v 5 c 0,10 -8,-8 -8,7.5 s 8,-2.5 8,7.5 v 31 H 122.5 v 5 c 0,10 -8,-8 -8,7.5 s 8,-2.5 8,7.5 v 6 H 122.5 v 5 c 0,10 -8,-8 -8,7.5 s 8,-2.5 8,7.5 v 5 H 0 V 20 c 0,-10 -8,8 -8,-7.5 s 8,2.5 8,-7.5 z" fill="#D81B60"/>
<path transform="translate(1516,388)" d="M 0.5,0.5 H 122 M 0.5,101.5 V 5.5 M 0.5,20 V 101.5" fill="none" stroke="#e45f90" stroke-width="1"/>
<path transform="translate(1640.5,389)" d="M 0,0 H 278.24 H 278.24 v 25 H 278.24 v 5 c 0,10 -8,-8 -8,7.5 s 8,-2.5 8,7.5 v 5 H 0 V 20 c 0,-10 -8,8 -8,-7.5 s 8,2.5 8,-7.5 z" fill="#4b2a8e"/>
<path transform="translate(1639.5,388)" d="M 0,0 H 278.24 H 278.24 v 25 H 278.24 v 5 c 0,10 -8,-8 -8,7.5 s 8,-2.5 8,7.5 v 5 H 0 V 20 c 0,-10 -8,8 -8,-7.5 s 8,2.5 8,-7.5 z" fill="#5E35B1"/>
<path transform="translate(1639.5,388)" d="M 0.5,0.5 H 277.74 M 0.5,49.5 V 5.5 M 0.5,20 V 49.5" fill="none" stroke="#8e72c8" stroke-width="1"/>
<rect x="1680.57" y="393" width="174.26" height="16" rx="4" fill="#bfaee0"/>
<path d="M 1842.52,399 h 5 l -2.5,4 z" fill="#5E35B1"/>
<path transform="translate(1919.74,414)" d="M 0,0 H 138.89 H 138.89 v 25 H 0 V 20 c 0,-10 -8,8 -8,-7.5 s 8,2.5 8,-7.5 z" fill="#c34118"/>
<path transform="translate(1918.74,413)" d="M 0,0 H 138.89 H 138.89 v 25 H 0 V 20 c 0,-10 -8,8 -8,-7.5 s 8,2.5 8,-7.5 z" fill="#F4511E"/>
<path transform="translate(1918.74,413)" d="M 0.5,0.5 H 138.39 M 0.5,24.5 M 0.5,20 V 24.5" fill="none" stroke="#f78562" stroke-width="1"/>
<rect x="1954.12" y="418" width="98.52" height="16" rx="4" fill="#fbb9a5"/>
<path d="M 2040.33,424 h 5 l -2.5,4 z" fill="#F4511E"/>
<path transform="translate(1640.5,440)" d="M 0,0 H 107.59 H 107.59 v 25 H 0 V 20 c 0,-10 -8,8 -8,-7.5 s 8,2.5 8,-7.5 z" fill="#ad164d"/>
<path transform="translate(1639.5,439)" d="M 0,0 H 107.59 H 107.59 v 25 H 0 V 20 c 0,-10 -8,8 -8,-7.5 s 8,2.5 8,-7.5 z" fill="#D81B60"/>
<path transform="translate(1639.5,439)" d="M 0.5,0.5 H 107.09 M 0.5,24.5 M 0.5,20 V 24.5" fill="none" stroke="#e45f90" stroke-width="1"/>
<rect x="1659.38" y="444" width="67.83" height="16" rx="4" fill="#efa4bf"/>
<path transform="translate(1640.5,466)" d="M 0,0 H 53.83 H 53.83 v 25 H 0 V 20 c 0,-10 -8,8 -8,-7.5 s 8,2.5 8,-7.5 z" fill="#ad164d"/>
<path transform="translate(1639.5,465)" d="M 0,0 H 53.83 H 53.83 v 25 H 0 V 20 c 0,-10 -8,8 -8,-7.5 s 8,2.5 8,-7.5 z" fill="#D81B60"/>
<path transform="translate(1639.5,465)" d="M 0.5,0.5 H 53.33 M 0.5,24.5 M 0.5,20 V 24.5" fill="none" stroke="#e45f90" stroke-width="1"/>
<rect x="1659.38" y="470" width="14.07" height="16" rx="4" fill="#efa4bf"/>
<path transform="translate(995.3,530)" d="M 0,8 A 8,8 0 0,1 8,0 H 231.32 H 231.32 v 5 c 0,10 -8,-8 -8,7.5 s 8,-2.5 8,7.5 v 5 H 8 a 8,8 0 0,1 -8,-8 z" fill="#c34118"/>
<path transform="translate(994.3,529)" d="M 0,8 A 8,8 0 0,1 8,0 H 231.32 H 231.32 v 5 c 0,10 -8,-8 -8,7.5 s 8,-2.5 8,7.5 v 5 H 8 a 8,8 0 0,1 -8,-8 z" fill="#F4511E"/>
<path transform="translate(994.3,529)" d="M 0.5,8 A 7.5,7.5 0 0,1 8,0.5 H 230.82 M 0.5,8 V 17" fill="none" stroke="#f78562" stroke-width="1"/>
<rect x="1104.62" y="533.7" width="85.78" height="16.6" rx="5" fill="#dc8b6c" stroke="#eba98a" stroke-width="1"/>
<path transform="translate(1227.62,530)" d="M 0,0 H 53.83 H 53.83 v 25 H 0 V 20 c 0,-10 -8,8 -8,-7.5 s 8,2.5 8,-7.5 z" fill="#ad164d"/>
<path transform="translate(1226.62,529)" d="M 0,0 H 53.83 H 53.83 v 25 H 0 V 20 c 0,-10 -8,8 -8,-7.5 s 8,2.5 8,-7.5 z" fill="#D81B60"/>
<path transform="translate(1226.62,529)" d="M 0.5,0.5 H 53.33 M 0.5,24.5 M 0.5,20 V 24.5" fill="none" stroke="#e45f90" stroke-width="1"/>
<rect x="1246.51" y="534" width="14.07" height="16" rx="4" fill="#efa4bf"/>
<path transform="translate(995.3,583)" d="M 0,8 A 8,8 0 0,1 8,0 H 296.5 H 296.5 v 5 c 0,10 -8,-8 -8,7.5 s 8,-2.5 8,7.5 v 5 H 8 a 8,8 0 0,1 -8,-8 z" fill="#c34118"/>
<path transform="translate(994.3,582)" d="M 0,8 A 8,8 0 0,1 8,0 H 296.5 H 296.5 v 5 c 0,10 -8,-8 -8,7.5 s 8,-2.5 8,7.5 v 5 H 8 a 8,8 0 0,1 -8,-8 z" fill="#F4511E"/>
<path transform="translate(994.3,582)" d="M 0.5,8 A 7.5,7.5 0 0,1 8,0.5 H 296 M 0.5,8 V 17" fill="none" stroke="#f78562" stroke-width="1"/>
<rect x="1104.62" y="586.7" width="150.95" height="16.6" rx="5" fill="#dc8b6c" stroke="#eba98a" stroke-width="1"/>
<path transform="translate(1292.8,583)" d="M 0,0 H 53.83 H 53.83 v 25 H 0 V 20 c 0,-10 -8,8 -8,-7.5 s 8,2.5 8,-7.5 z" fill="#ad164d"/>
<path transform="translate(1291.8,582)" d="M 0,0 H 53.83 H 53.83 v 25 H 0 V 20 c 0,-10 -8,8 -8,-7.5 s 8,2.5 8,-7.5 z" fill="#D81B60"/>
<path transform="translate(1291.8,582)" d="M 0.5,0.5 H 53.33 M 0.5,24.5 M 0.5,20 V 24.5" fill="none" stroke="#e45f90" stroke-width="1"/>
<rect x="1311.68" y="587" width="14.07" height="16" rx="4" fill="#efa4bf"/>
<path transform="translate(995.3,636)" d="M 0,8 A 8,8 0 0,1 8,0 H 239.45 H 239.45 v 5 c 0,10 -8,-8 -8,7.5 s 8,-2.5 8,7.5 v 5 H 8 a 8,8 0 0,1 -8,-8 z" fill="#c34118"/>
<path transform="translate(994.3,635)" d="M 0,8 A 8,8 0 0,1 8,0 H 239.45 H 239.45 v 5 c 0,10 -8,-8 -8,7.5 s 8,-2.5 8,7.5 v 5 H 8 a 8,8 0 0,1 -8,-8 z" fill="#F4511E"/>
<path transform="translate(994.3,635)" d="M 0.5,8 A 7.5,7.5 0 0,1 8,0.5 H 238.95 M 0.5,8 V 17" fill="none" stroke="#f78562" stroke-width="1"/>
<rect x="1104.62" y="639.7" width="93.91" height="16.6" rx="5" fill="#dc8b6c" stroke="#eba98a" stroke-width="1"/>
<path transform="translate(1235.75,636)" d="M 0,0 H 36.3 H 36.3 v 25 H 0 V 20 c 0,-10 -8,8 -8,-7.5 s 8,2.5 8,-7.5 z" fill="#2e3a89"/>
<path transform="translate(1234.75,635)" d="M 0,0 H 36.3 H 36.3 v 25 H 0 V 20 c 0,-10 -8,8 -8,-7.5 s 8,2.5 8,-7.5 z" fill="#3949AB"/>
<path transform="translate(1234.75,635)" d="M 0.5,0.5 H 35.8 M 0.5,24.5 M 0.5,20 V 24.5" fill="none" stroke="#7480c4" stroke-width="1"/>
<rect x="1239.75" y="640" width="26.3" height="16" rx="4" fill="#b0b6dd"/>
<path transform="translate(995.3,689)" d="M 0,8 A 8,8 0 0,1 8,0 H 222.37 H 222.37 v 5 c 0,10 -8,-8 -8,7.5 s 8,-2.5 8,7.5 v 5 H 8 a 8,8 0 0,1 -8,-8 z" fill="#c34118"/>
<path transform="translate(994.3,688)" d="M 0,8 A 8,8 0 0,1 8,0 H 222.37 H 222.37 v 5 c 0,10 -8,-8 -8,7.5 s 8,-2.5 8,7.5 v 5 H 8 a 8,8 0 0,1 -8,-8 z" fill="#F4511E"/>
<path transform="translate(994.3,688)" d="M 0.5,8 A 7.5,7.5 0 0,1 8,0.5 H 221.87 M 0.5,8 V 17" fill="none" stroke="#f78562" stroke-width="1"/>
<rect x="1104.62" y="692.7" width="76.83" height="16.6" rx="5" fill="#dc8b6c" stroke="#eba98a" stroke-width="1"/>
<path transform="translate(1218.67,689)" d="M 0,0 H 53.83 H 53.83 v 25 H 0 V 20 c 0,-10 -8,8 -8,-7.5 s 8,2.5 8,-7.5 z" fill="#ad164d"/>
<path transform="translate(1217.67,688)" d="M 0,0 H 53.83 H 53.83 v 25 H 0 V 20 c 0,-10 -8,8 -8,-7.5 s 8,2.5 8,-7.5 z" fill="#D81B60"/>
<path transform="translate(1217.67,688)" d="M 0.5,0.5 H 53.33 M 0.5,24.5 M 0.5,20 V 24.5" fill="none" stroke="#e45f90" stroke-width="1"/>
<rect x="1237.55" y="693" width="14.07" height="16" rx="4" fill="#efa4bf"/>
<path transform="translate(995.3,742)" d="M 0,8 A 8,8 0 0,1 8,0 H 230.52 H 230.52 v 5 c 0,10 -8,-8 -8,7.5 s 8,-2.5 8,7.5 v 5 H 8 a 8,8 0 0,1 -8,-8 z" fill="#c34118"/>
<path transform="translate(994.3,741)" d="M 0,8 A 8,8 0 0,1 8,0 H 230.52 H 230.52 v 5 c 0,10 -8,-8 -8,7.5 s 8,-2.5 8,7.5 v 5 H 8 a 8,8 0 0,1 -8,-8 z" fill="#F4511E"/>
<path transform="translate(994.3,741)" d="M 0.5,8 A 7.5,7.5 0 0,1 8,0.5 H 230.02 M 0.5,8 V 17" fill="none" stroke="#f78562" stroke-width="1"/>
<rect x="1104.62" y="745.7" width="84.97" height="16.6" rx="5" fill="#dc8b6c" stroke="#eba98a" stroke-width="1"/>
<path transform="translate(1226.82,742)" d="M 0,0 H 53.83 H 53.83 v 25 H 0 V 20 c 0,-10 -8,8 -8,-7.5 s 8,2.5 8,-7.5 z" fill="#ad164d"/>
<path transform="translate(1225.82,741)" d="M 0,0 H 53.83 H 53.83 v 25 H 0 V 20 c 0,-10 -8,8 -8,-7.5 s 8,2.5 8,-7.5 z" fill="#D81B60"/>
<path transform="translate(1225.82,741)" d="M 0.5,0.5 H 53.33 M 0.5,24.5 M 0.5,20 V 24.5" fill="none" stroke="#e45f90" stroke-width="1"/>
<rect x="1245.7" y="746" width="14.07" height="16" rx="4" fill="#efa4bf"/>
<path transform="translate(995.3,795)" d="M 0,8 A 8,8 0 0,1 8,0 H 199.55 H 199.55 v 5 c 0,10 -8,-8 -8,7.5 s 8,-2.5 8,7.5 v 5 H 8 a 8,8 0 0,1 -8,-8 z" fill="#c34118"/>
<path transform="translate(994.3,794)" d="M 0,8 A 8,8 0 0,1 8,0 H 199.55 H 199.55 v 5 c 0,10 -8,-8 -8,7.5 s 8,-2.5 8,7.5 v 5 H 8 a 8,8 0 0,1 -8,-8 z" fill="#F4511E"/>
<path transform="translate(994.3,794)" d="M 0.5,8 A 7.5,7.5 0 0,1 8,0.5 H 199.05 M 0.5,8 V 17" fill="none" stroke="#f78562" stroke-width="1"/>
<rect x="1104.62" y="798.7" width="54" height="16.6" rx="5" fill="#dc8b6c" stroke="#eba98a" stroke-width="1"/>
<path transform="translate(1195.85,795)" d="M 0,0 H 28.15 H 28.15 v 25 H 0 V 20 c 0,-10 -8,8 -8,-7.5 s 8,2.5 8,-7.5 z" fill="#2e3a89"/>
<path transform="translate(1194.85,794)" d="M 0,0 H 28.15 H 28.15 v 25 H 0 V 20 c 0,-10 -8,8 -8,-7.5 s 8,2.5 8,-7.5 z" fill="#3949AB"/>
<path transform="translate(1194.85,794)" d="M 0.5,0.5 H 27.65 M 0.5,24.5 M 0.5,20 V 24.5" fill="none" stroke="#7480c4" stroke-width="1"/>
<rect x="1199.85" y="799" width="18.15" height="16" rx="4" fill="#b0b6dd"/>
<path transform="translate(995.3,848)" d="M 0,8 A 8,8 0 0,1 8,0 H 222.37 H 222.37 v 5 c 0,10 -8,-8 -8,7.5 s 8,-2.5 8,7.5 v 5 H 8 a 8,8 0 0,1 -8,-8 z" fill="#c34118"/>
<path transform="translate(994.3,847)" d="M 0,8 A 8,8 0 0,1 8,0 H 222.37 H 222.37 v 5 c 0,10 -8,-8 -8,7.5 s 8,-2.5 8,7.5 v 5 H 8 a 8,8 0 0,1 -8,-8 z" fill="#F4511E"/>
<path transform="translate(994.3,847)" d="M 0.5,8 A 7.5,7.5 0 0,1 8,0.5 H 221.87 M 0.5,8 V 17" fill="none" stroke="#f78562" stroke-width="1"/>
<rect x="1104.62" y="851.7" width="76.83" height="16.6" rx="5" fill="#dc8b6c" stroke="#eba98a" stroke-width="1"/>
<path transform="translate(1218.67,848)" d="M 0,0 H 53.83 H 53.83 v 25 H 0 V 20 c 0,-10 -8,8 -8,-7.5 s 8,2.5 8,-7.5 z" fill="#ad164d"/>
<path transform="translate(1217.67,847)" d="M 0,0 H 53.83 H 53.83 v 25 H 0 V 20 c 0,-10 -8,8 -8,-7.5 s 8,2.5 8,-7.5 z" fill="#D81B60"/>
<path transform="translate(1217.67,847)" d="M 0.5,0.5 H 53.33 M 0.5,24.5 M 0.5,20 V 24.5" fill="none" stroke="#e45f90" stroke-width="1"/>
<rect x="1237.55" y="852" width="14.07" height="16" rx="4" fill="#efa4bf"/>
<path transform="translate(995.3,901)" d="M 0,8 A 8,8 0 0,1 8,0 H 313.62 H 313.62 v 5 c 0,10 -8,-8 -8,7.5 s 8,-2.5 8,7.5 v 5 H 8 a 8,8 0 0,1 -8,-8 z" fill="#c34118"/>
<path transform="translate(994.3,900)" d="M 0,8 A 8,8 0 0,1 8,0 H 313.62 H 313.62 v 5 c 0,10 -8,-8 -8,7.5 s 8,-2.5 8,7.5 v 5 H 8 a 8,8 0 0,1 -8,-8 z" fill="#F4511E"/>
<path transform="translate(994.3,900)" d="M 0.5,8 A 7.5,7.5 0 0,1 8,0.5 H 313.12 M 0.5,8 V 17" fill="none" stroke="#f78562" stroke-width="1"/>
<rect x="1104.62" y="904.7" width="168.08" height="16.6" rx="5" fill="#dc8b6c" stroke="#eba98a" stroke-width="1"/>
<path transform="translate(1309.92,901)" d="M 0,0 H 53.83 H 53.83 v 25 H 0 V 20 c 0,-10 -8,8 -8,-7.5 s 8,2.5 8,-7.5 z" fill="#ad164d"/>
<path transform="translate(1308.92,900)" d="M 0,0 H 53.83 H 53.83 v 25 H 0 V 20 c 0,-10 -8,8 -8,-7.5 s 8,2.5 8,-7.5 z" fill="#D81B60"/>
<path transform="translate(1308.92,900)" d="M 0.5,0.5 H 53.33 M 0.5,24.5 M 0.5,20 V 24.5" fill="none" stroke="#e45f90" stroke-width="1"/>
<rect x="1328.8" y="905" width="14.07" height="16" rx="4" fill="#efa4bf"/>
<path transform="translate(995.3,954)" d="M 0,8 A 8,8 0 0,1 8,0 H 332.16 H 332.16 v 25 H 66.3 l -6,4 -3,0 -6,-4 h -7 a 8,8 0 0,0 -8,8 v 227 a 8,8 0 0,0 8,8 H 332.16 v 10 H 8 a 8,8 0 0,1 -8,-8 z" fill="#cc861e"/>
<path transform="translate(994.3,953)" d="M 0,8 A 8,8 0 0,1 8,0 H 332.16 H 332.16 v 25 H 66.3 l -6,4 -3,0 -6,-4 h -7 a 8,8 0 0,0 -8,8 v 227 a 8,8 0 0,0 8,8 H 332.16 v 10 H 8 a 8,8 0 0,1 -8,-8 z" fill="#FFA726"/>
<path transform="translate(994.3,953)" d="M 0.5,8 A 7.5,7.5 0 0,1 8,0.5 H 331.66 M 0.5,8 V 270" fill="none" stroke="#ffc167" stroke-width="1"/>
<rect x="1048.41" y="958" width="170.19" height="16" rx="4" fill="#ffdca8"/>
<path d="M 1206.3,964 h 5 l -2.5,4 z" fill="#FFA726"/>
<path transform="translate(1032.6,980)" d="M 0,8 A 8,8 0 0,1 8,0 H 15 l 6,4 3,0 6,-4 H 78.53 H 78.53 v 5 c 0,10 -8,-8 -8,7.5 s 8,-2.5 8,7.5 v 16 H 78.53 l -6,4 -3,0 -6,-4 h -7 a 8,8 0 0,0 -8,8 v 177 a 8,8 0 0,0 8,8 H 78.53 v 10 H 29.5 l -6,4 -3,0 -6,-4 H 8 a 8,8 0 0,1 -8,-8 z" fill="#cc8900"/>
<path transform="translate(1031.6,979)" d="M 0,8 A 8,8 0 0,1 8,0 H 15 l 6,4 3,0 6,-4 H 78.53 H 78.53 v 5 c 0,10 -8,-8 -8,7.5 s 8,-2.5 8,7.5 v 16 H 78.53 l -6,4 -3,0 -6,-4 h -7 a 8,8 0 0,0 -8,8 v 177 a 8,8 0 0,0 8,8 H 78.53 v 10 H 29.5 l -6,4 -3,0 -6,-4 H 8 a 8,8 0 0,1 -8,-8 z" fill="#FFAB00"/>
<path transform="translate(1031.6,979)" d="M 0.5,8 A 7.5,7.5 0 0,1 8,0.5 H 15 l 6,4 3,0 6,-4 H 78.03 M 0.5,8 V 231" fill="none" stroke="#ffc44c" stroke-width="1"/>
<rect x="1041.2" y="983.6" width="16.4" height="16.6" rx="4" fill="#573aa8" stroke="#ffd173" stroke-width="1.2"/>
<path d="M 1047.6,988.81 L 1048.26,986.74 L 1050.74,986.74 L 1051.4,988.81 L 1051.4,988.81 L 1053.52,988.35 L 1054.76,990.49 L 1053.3,992.1 L 1053.3,992.1 L 1054.76,993.71 L 1053.52,995.85 L 1051.4,995.39 L 1051.4,995.39 L 1050.74,997.46 L 1048.26,997.46 L 1047.6,995.39 L 1047.6,995.39 L 1045.48,995.85 L 1044.24,993.71 L 1045.7,992.1 L 1045.7,992.1 L 1044.24,990.49 L 1045.48,988.35 L 1047.6,988.81 Z M 1047.6,992.1 a 1.9,1.9 0 1,0 3.8,0 a 1.9,1.9 0 1,0 -3.8,0 Z" fill="#ffe7b8" fill-rule="evenodd"/>
<path transform="translate(1112.13,980)" d="M 0,0 H 20 H 391.94 v 36 H 0 V 20 c 0,-10 -8,8 -8,-7.5 s 8,2.5 8,-7.5 z" fill="#368039"/>
<path transform="translate(1111.13,979)" d="M 0,0 H 20 H 391.94 v 36 H 0 V 20 c 0,-10 -8,8 -8,-7.5 s 8,2.5 8,-7.5 z" fill="#43A047"/>
<path transform="translate(1111.13,979)" d="M 0.5,0.5 H 19.5 M 0.5,35.5 V 5.5 M 0.5,20 V 35.5" fill="none" stroke="#7bbc7e" stroke-width="1"/>
<path d="M 1127.13,984 H 1373.55 V 1011 H 1127.13 V 1004 c 0,-10 -8,8 -8,-7.5 s 8,2.5 8,-7.5 z" fill="#7bbc7e"/>
<path d="M 1373.05,985 V 1010.5 H 1127.13" fill="none" stroke="#7bbc7e" stroke-width="1"/>
<rect x="1378.55" y="989" width="34.56" height="16" rx="4" fill="#b4d9b5"/>
<path d="M 1400.8,995 h 5 l -2.5,4 z" fill="#43A047"/>
<path d="M 1424.1,984 H 1493.06 V 1011 H 1424.1 V 1004 c 0,-10 -8,8 -8,-7.5 s 8,2.5 8,-7.5 z" fill="#7bbc7e"/>
<path d="M 1492.56,985 V 1010.5 H 1424.1" fill="none" stroke="#7bbc7e" stroke-width="1"/>
<path transform="translate(1129.13,986)" d="M 0,0 H 244.42 H 244.42 v 25 H 0 V 20 c 0,-10 -8,8 -8,-7.5 s 8,2.5 8,-7.5 z" fill="#6f9c3b"/>
<path transform="translate(1128.13,985)" d="M 0,0 H 244.42 H 244.42 v 25 H 0 V 20 c 0,-10 -8,8 -8,-7.5 s 8,2.5 8,-7.5 z" fill="#8BC34A"/>
<path transform="translate(1128.13,985)" d="M 0.5,0.5 H 243.92 M 0.5,24.5 M 0.5,20 V 24.5" fill="none" stroke="#aed580" stroke-width="1"/>
<rect x="1133.13" y="990" width="151.44" height="16" rx="4" fill="#d1e7b7"/>
<path d="M 1272.26,996 h 5 l -2.5,4 z" fill="#8BC34A"/>
<rect x="1298.64" y="990" width="68.91" height="16" rx="4" fill="#d1e7b7"/>
<path d="M 1355.25,996 h 5 l -2.5,4 z" fill="#8BC34A"/>
<path transform="translate(1426.1,986)" d="M 0,0 H 66.96 H 66.96 v 25 H 0 V 20 c 0,-10 -8,8 -8,-7.5 s 8,2.5 8,-7.5 z" fill="#368039"/>
<path transform="translate(1425.1,985)" d="M 0,0 H 66.96 H 66.96 v 25 H 0 V 20 c 0,-10 -8,8 -8,-7.5 s 8,2.5 8,-7.5 z" fill="#43A047"/>
<path transform="translate(1425.1,985)" d="M 0.5,0.5 H 66.46 M 0.5,24.5 M 0.5,20 V 24.5" fill="none" stroke="#7bbc7e" stroke-width="1"/>
<rect x="1430.1" y="990" width="56.96" height="16" rx="4" fill="#b4d9b5"/>
<path d="M 1474.76,996 h 5 l -2.5,4 z" fill="#43A047"/>
<path transform="translate(1082.13,1017)" d="M 0,8 A 8,8 0 0,1 8,0 H 15 l 6,4 3,0 6,-4 H 78.53 H 78.53 v 5 c 0,10 -8,-8 -8,7.5 s 8,-2.5 8,7.5 v 16 H 78.53 l -6,4 -3,0 -6,-4 h -7 a 8,8 0 0,0 -8,8 v 127 a 8,8 0 0,0 8,8 H 78.53 v 10 H 29.5 l -6,4 -3,0 -6,-4 H 8 a 8,8 0 0,1 -8,-8 z" fill="#cc8900"/>
<path transform="translate(1081.13,1016)" d="M 0,8 A 8,8 0 0,1 8,0 H 15 l 6,4 3,0 6,-4 H 78.53 H 78.53 v 5 c 0,10 -8,-8 -8,7.5 s 8,-2.5 8,7.5 v 16 H 78.53 l -6,4 -3,0 -6,-4 h -7 a 8,8 0 0,0 -8,8 v 127 a 8,8 0 0,0 8,8 H 78.53 v 10 H 29.5 l -6,4 -3,0 -6,-4 H 8 a 8,8 0 0,1 -8,-8 z" fill="#FFAB00"/>
<path transform="translate(1081.13,1016)" d="M 0.5,8 A 7.5,7.5 0 0,1 8,0.5 H 15 l 6,4 3,0 6,-4 H 78.03 M 0.5,8 V 181" fill="none" stroke="#ffc44c" stroke-width="1"/>
<rect x="1090.73" y="1020.6" width="16.4" height="16.6" rx="4" fill="#573aa8" stroke="#ffd173" stroke-width="1.2"/>
<path d="M 1097.13,1025.81 L 1097.79,1023.74 L 1100.26,1023.74 L 1100.93,1025.81 L 1100.93,1025.81 L 1103.05,1025.35 L 1104.29,1027.49 L 1102.83,1029.1 L 1102.83,1029.1 L 1104.29,1030.71 L 1103.05,1032.85 L 1100.93,1032.39 L 1100.93,1032.39 L 1100.26,1034.46 L 1097.79,1034.46 L 1097.13,1032.39 L 1097.13,1032.39 L 1095.01,1032.85 L 1093.77,1030.71 L 1095.23,1029.1 L 1095.23,1029.1 L 1093.77,1027.49 L 1095.01,1025.35 L 1097.13,1025.81 Z M 1097.13,1029.1 a 1.9,1.9 0 1,0 3.8,0 a 1.9,1.9 0 1,0 -3.8,0 Z" fill="#ffe7b8" fill-rule="evenodd"/>
<path transform="translate(1161.65,1017)" d="M 0,0 H 20 H 523.9 v 36 H 0 V 20 c 0,-10 -8,8 -8,-7.5 s 8,2.5 8,-7.5 z" fill="#368039"/>
<path transform="translate(1160.65,1016)" d="M 0,0 H 20 H 523.9 v 36 H 0 V 20 c 0,-10 -8,8 -8,-7.5 s 8,2.5 8,-7.5 z" fill="#43A047"/>
<path transform="translate(1160.65,1016)" d="M 0.5,0.5 H 19.5 M 0.5,35.5 V 5.5 M 0.5,20 V 35.5" fill="none" stroke="#7bbc7e" stroke-width="1"/>
<path d="M 1176.65,1021 H 1446.15 V 1048 H 1176.65 V 1041 c 0,-10 -8,8 -8,-7.5 s 8,2.5 8,-7.5 z" fill="#7bbc7e"/>
<path d="M 1445.65,1022 V 1047.5 H 1176.65" fill="none" stroke="#7bbc7e" stroke-width="1"/>
<rect x="1451.15" y="1026" width="34.04" height="16" rx="4" fill="#b4d9b5"/>
<path d="M 1472.89,1032 h 5 l -2.5,4 z" fill="#43A047"/>
<path d="M 1496.19,1021 H 1674.55 V 1048 H 1496.19 V 1041 c 0,-10 -8,8 -8,-7.5 s 8,2.5 8,-7.5 z" fill="#7bbc7e"/>
<path d="M 1674.05,1022 V 1047.5 H 1496.19" fill="none" stroke="#7bbc7e" stroke-width="1"/>
<path transform="translate(1178.65,1023)" d="M 0,0 H 134.12 H 134.12 v 5 c 0,10 -8,-8 -8,7.5 s 8,-2.5 8,7.5 v 5 H 0 V 20 c 0,-10 -8,8 -8,-7.5 s 8,2.5 8,-7.5 z" fill="#027cb7"/>
<path transform="translate(1177.65,1022)" d="M 0,0 H 134.12 H 134.12 v 5 c 0,10 -8,-8 -8,7.5 s 8,-2.5 8,7.5 v 5 H 0 V 20 c 0,-10 -8,8 -8,-7.5 s 8,2.5 8,-7.5 z" fill="#039BE5"/>
<path transform="translate(1177.65,1022)" d="M 0.5,0.5 H 133.62 M 0.5,24.5 M 0.5,20 V 24.5" fill="none" stroke="#4fb9ed" stroke-width="1"/>
<path transform="translate(1313.78,1023)" d="M 0,0 H 132.37 H 132.37 v 25 H 0 V 20 c 0,-10 -8,8 -8,-7.5 s 8,2.5 8,-7.5 z" fill="#c34118"/>
<path transform="translate(1312.78,1022)" d="M 0,0 H 132.37 H 132.37 v 25 H 0 V 20 c 0,-10 -8,8 -8,-7.5 s 8,2.5 8,-7.5 z" fill="#F4511E"/>
<path transform="translate(1312.78,1022)" d="M 0.5,0.5 H 131.87 M 0.5,24.5 M 0.5,20 V 24.5" fill="none" stroke="#f78562" stroke-width="1"/>
<rect x="1348.15" y="1027" width="92" height="16" rx="4" fill="#fbb9a5"/>
<path d="M 1427.85,1033 h 5 l -2.5,4 z" fill="#F4511E"/>
<path transform="translate(1498.19,1023)" d="M 0,0 H 176.36 H 176.36 v 25 H 0 V 20 c 0,-10 -8,8 -8,-7.5 s 8,2.5 8,-7.5 z" fill="#c34118"/>
<path transform="translate(1497.19,1022)" d="M 0,0 H 176.36 H 176.36 v 25 H 0 V 20 c 0,-10 -8,8 -8,-7.5 s 8,2.5 8,-7.5 z" fill="#F4511E"/>
<path transform="translate(1497.19,1022)" d="M 0.5,0.5 H 175.86 M 0.5,24.5 M 0.5,20 V 24.5" fill="none" stroke="#f78562" stroke-width="1"/>
<rect x="1532.57" y="1027" width="135.99" height="16" rx="4" fill="#fbb9a5"/>
<path d="M 1656.25,1033 h 5 l -2.5,4 z" fill="#F4511E"/>
<path transform="translate(1131.65,1054)" d="M 0,8 A 8,8 0 0,1 8,0 H 15 l 6,4 3,0 6,-4 H 312.34 H 312.34 v 5 c 0,10 -8,-8 -8,7.5 s 8,-2.5 8,7.5 v 5 H 29.5 l -6,4 -3,0 -6,-4 H 0 z" fill="#2d7230"/>
<path transform="translate(1130.65,1053)" d="M 0,8 A 8,8 0 0,1 8,0 H 15 l 6,4 3,0 6,-4 H 312.34 H 312.34 v 5 c 0,10 -8,-8 -8,7.5 s 8,-2.5 8,7.5 v 5 H 29.5 l -6,4 -3,0 -6,-4 H 0 z" fill="#388E3C"/>
<path transform="translate(1130.65,1053)" d="M 0.5,8 A 7.5,7.5 0 0,1 8,0.5 H 15 l 6,4 3,0 6,-4 H 311.84 M 0.5,8 V 24.5" fill="none" stroke="#74b076" stroke-width="1"/>
<rect x="1169.28" y="1058" width="151.44" height="16" rx="4" fill="#afd2b1"/>
<path d="M 1308.41,1064 h 5 l -2.5,4 z" fill="#388E3C"/>
<rect x="1334.78" y="1058" width="68.91" height="16" rx="4" fill="#afd2b1"/>
<path d="M 1391.39,1064 h 5 l -2.5,4 z" fill="#388E3C"/>
<path transform="translate(1444.99,1054)" d="M 0,0 H 61.25 H 61.25 v 25 H 0 V 20 c 0,-10 -8,8 -8,-7.5 s 8,2.5 8,-7.5 z" fill="#368039"/>
<path transform="translate(1443.99,1053)" d="M 0,0 H 61.25 H 61.25 v 25 H 0 V 20 c 0,-10 -8,8 -8,-7.5 s 8,2.5 8,-7.5 z" fill="#43A047"/>
<path transform="translate(1443.99,1053)" d="M 0.5,0.5 H 60.75 M 0.5,24.5 M 0.5,20 V 24.5" fill="none" stroke="#7bbc7e" stroke-width="1"/>
<rect x="1448.99" y="1058" width="51.25" height="16" rx="4" fill="#b4d9b5"/>
<path d="M 1487.94,1064 h 5 l -2.5,4 z" fill="#43A047"/>
<path transform="translate(1131.65,1080)" d="M 0,0 H 15 l 6,4 3,0 6,-4 H 263.6 H 263.6 v 25 H 263.6 v 5 c 0,10 -8,-8 -8,7.5 s 8,-2.5 8,7.5 v 6 H 263.6 v 5 c 0,10 -8,-8 -8,7.5 s 8,-2.5 8,7.5 v 16 H 29.5 l -6,4 -3,0 -6,-4 H 0 z" fill="#4b2a8e"/>
<path transform="translate(1130.65,1079)" d="M 0,0 H 15 l 6,4 3,0 6,-4 H 263.6 H 263.6 v 25 H 263.6 v 5 c 0,10 -8,-8 -8,7.5 s 8,-2.5 8,7.5 v 6 H 263.6 v 5 c 0,10 -8,-8 -8,7.5 s 8,-2.5 8,7.5 v 16 H 29.5 l -6,4 -3,0 -6,-4 H 0 z" fill="#5E35B1"/>
<path transform="translate(1130.65,1079)" d="M 0.5,0.5 H 15 l 6,4 3,0 6,-4 H 263.1 M 0.5,8 V 86.5" fill="none" stroke="#8e72c8" stroke-width="1"/>
<rect x="1171.72" y="1084" width="117.27" height="16" rx="4" fill="#bfaee0"/>
<path d="M 1276.68,1090 h 5 l -2.5,4 z" fill="#5E35B1"/>
<path transform="translate(1396.25,1105)" d="M 0,0 H 72.57 H 72.57 v 25 H 0 V 20 c 0,-10 -8,8 -8,-7.5 s 8,2.5 8,-7.5 z" fill="#ad164d"/>
<path transform="translate(1395.25,1104)" d="M 0,0 H 72.57 H 72.57 v 25 H 0 V 20 c 0,-10 -8,8 -8,-7.5 s 8,2.5 8,-7.5 z" fill="#D81B60"/>
<path transform="translate(1395.25,1104)" d="M 0.5,0.5 H 72.07 M 0.5,24.5 M 0.5,20 V 24.5" fill="none" stroke="#e45f90" stroke-width="1"/>
<rect x="1415.13" y="1109" width="32.81" height="16" rx="4" fill="#efa4bf"/>
<path transform="translate(1396.25,1131)" d="M 0,0 H 47 H 321.33 v 36 H 0 V 20 c 0,-10 -8,8 -8,-7.5 s 8,2.5 8,-7.5 z" fill="#2e3a89"/>
<path transform="translate(1395.25,1130)" d="M 0,0 H 47 H 321.33 v 36 H 0 V 20 c 0,-10 -8,8 -8,-7.5 s 8,2.5 8,-7.5 z" fill="#3949AB"/>
<path transform="translate(1395.25,1130)" d="M 0.5,0.5 H 46.5 M 0.5,35.5 V 5.5 M 0.5,20 V 35.5" fill="none" stroke="#7480c4" stroke-width="1"/>
<rect x="1404.85" y="1134.6" width="16.4" height="16.6" rx="4" fill="#1319e2" stroke="#929bd1" stroke-width="1.2"/>
<path d="M 1411.25,1139.81 L 1411.91,1137.74 L 1414.39,1137.74 L 1415.05,1139.81 L 1415.05,1139.81 L 1417.17,1139.35 L 1418.41,1141.49 L 1416.95,1143.1 L 1416.95,1143.1 L 1418.41,1144.71 L 1417.17,1146.85 L 1415.05,1146.39 L 1415.05,1146.39 L 1414.39,1148.46 L 1411.91,1148.46 L 1411.25,1146.39 L 1411.25,1146.39 L 1409.13,1146.85 L 1407.89,1144.71 L 1409.35,1143.1 L 1409.35,1143.1 L 1407.89,1141.49 L 1409.13,1139.35 L 1411.25,1139.81 Z M 1411.25,1143.1 a 1.9,1.9 0 1,0 3.8,0 a 1.9,1.9 0 1,0 -3.8,0 Z" fill="#c8cce7" fill-rule="evenodd"/>
<path d="M 1438.25,1135 H 1633.72 V 1162 H 1438.25 V 1155 c 0,-10 -8,8 -8,-7.5 s 8,2.5 8,-7.5 z" fill="#7480c4"/>
<path d="M 1633.22,1136 V 1161.5 H 1438.25" fill="none" stroke="#7480c4" stroke-width="1"/>
<path d="M 1668.28,1135 H 1706.58 V 1162 H 1668.28 V 1155 c 0,-10 -8,8 -8,-7.5 s 8,2.5 8,-7.5 z" fill="#7480c4"/>
<path d="M 1706.08,1136 V 1161.5 H 1668.28" fill="none" stroke="#7480c4" stroke-width="1"/>
<path transform="translate(1440.25,1137)" d="M 0,0 H 193.47 H 193.47 v 25 H 0 V 20 c 0,-10 -8,8 -8,-7.5 s 8,2.5 8,-7.5 z" fill="#c34118"/>
<path transform="translate(1439.25,1136)" d="M 0,0 H 193.47 H 193.47 v 25 H 0 V 20 c 0,-10 -8,8 -8,-7.5 s 8,2.5 8,-7.5 z" fill="#F4511E"/>
<path transform="translate(1439.25,1136)" d="M 0.5,0.5 H 192.97 M 0.5,24.5 M 0.5,20 V 24.5" fill="none" stroke="#f78562" stroke-width="1"/>
<rect x="1474.63" y="1141" width="153.1" height="16" rx="4" fill="#fbb9a5"/>
<path d="M 1615.42,1147 h 5 l -2.5,4 z" fill="#F4511E"/>
<path transform="translate(1670.28,1137)" d="M 0,0 H 36.3 H 36.3 v 25 H 0 V 20 c 0,-10 -8,8 -8,-7.5 s 8,2.5 8,-7.5 z" fill="#2e3a89"/>
<path transform="translate(1669.28,1136)" d="M 0,0 H 36.3 H 36.3 v 25 H 0 V 20 c 0,-10 -8,8 -8,-7.5 s 8,2.5 8,-7.5 z" fill="#3949AB"/>
<path transform="translate(1669.28,1136)" d="M 0.5,0.5 H 35.8 M 0.5,24.5 M 0.5,20 V 24.5" fill="none" stroke="#7480c4" stroke-width="1"/>
<rect x="1674.28" y="1141" width="26.3" height="16" rx="4" fill="#b0b6dd"/>
<path transform="translate(1131.65,1168)" d="M 0,0 H 15 l 6,4 3,0 6,-4 H 182.97 H 182.97 v 5 c 0,10 -8,-8 -8,7.5 s 8,-2.5 8,7.5 v 5 H 29.5 l -6,4 -3,0 -6,-4 H 8 a 8,8 0 0,1 -8,-8 z" fill="#c34118"/>
<path transform="translate(1130.65,1167)" d="M 0,0 H 15 l 6,4 3,0 6,-4 H 182.97 H 182.97 v 5 c 0,10 -8,-8 -8,7.5 s 8,-2.5 8,7.5 v 5 H 29.5 l -6,4 -3,0 -6,-4 H 8 a 8,8 0 0,1 -8,-8 z" fill="#F4511E"/>
<path transform="translate(1130.65,1167)" d="M 0.5,0.5 H 15 l 6,4 3,0 6,-4 H 182.47 M 0.5,8 V 17" fill="none" stroke="#f78562" stroke-width="1"/>
<rect x="1165.2" y="1172" width="113.19" height="16" rx="4" fill="#fbb9a5"/>
<path d="M 1266.1,1178 h 5 l -2.5,4 z" fill="#F4511E"/>
<path transform="translate(1315.62,1168)" d="M 0,0 H 28.15 H 28.15 v 25 H 0 V 20 c 0,-10 -8,8 -8,-7.5 s 8,2.5 8,-7.5 z" fill="#2e3a89"/>
<path transform="translate(1314.62,1167)" d="M 0,0 H 28.15 H 28.15 v 25 H 0 V 20 c 0,-10 -8,8 -8,-7.5 s 8,2.5 8,-7.5 z" fill="#3949AB"/>
<path transform="translate(1314.62,1167)" d="M 0.5,0.5 H 27.65 M 0.5,24.5 M 0.5,20 V 24.5" fill="none" stroke="#7480c4" stroke-width="1"/>
<rect x="1319.62" y="1172" width="18.15" height="16" rx="4" fill="#b0b6dd"/>
<path transform="translate(995.3,1260)" d="M 0,8 A 8,8 0 0,1 8,0 H 249.24 H 249.24 v 5 c 0,10 -8,-8 -8,7.5 s 8,-2.5 8,7.5 v 5 H 8 a 8,8 0 0,1 -8,-8 z" fill="#c34118"/>
<path transform="translate(994.3,1259)" d="M 0,8 A 8,8 0 0,1 8,0 H 249.24 H 249.24 v 5 c 0,10 -8,-8 -8,7.5 s 8,-2.5 8,7.5 v 5 H 8 a 8,8 0 0,1 -8,-8 z" fill="#F4511E"/>
<path transform="translate(994.3,1259)" d="M 0.5,8 A 7.5,7.5 0 0,1 8,0.5 H 248.74 M 0.5,8 V 17" fill="none" stroke="#f78562" stroke-width="1"/>
<rect x="1104.62" y="1263.7" width="103.69" height="16.6" rx="5" fill="#dc8b6c" stroke="#eba98a" stroke-width="1"/>
<path transform="translate(1245.54,1260)" d="M 0,0 H 53.83 H 53.83 v 25 H 0 V 20 c 0,-10 -8,8 -8,-7.5 s 8,2.5 8,-7.5 z" fill="#ad164d"/>
<path transform="translate(1244.54,1259)" d="M 0,0 H 53.83 H 53.83 v 25 H 0 V 20 c 0,-10 -8,8 -8,-7.5 s 8,2.5 8,-7.5 z" fill="#D81B60"/>
<path transform="translate(1244.54,1259)" d="M 0.5,0.5 H 53.33 M 0.5,24.5 M 0.5,20 V 24.5" fill="none" stroke="#e45f90" stroke-width="1"/>
<rect x="1264.42" y="1264" width="14.07" height="16" rx="4" fill="#efa4bf"/>
<path transform="translate(995.3,1313)" d="M 0,8 A 8,8 0 0,1 8,0 H 401.82 H 401.82 v 25 H 401.82 v 25 H 66.3 l -6,4 -3,0 -6,-4 h -7 a 8,8 0 0,0 -8,8 v 530 a 8,8 0 0,0 8,8 H 401.82 v 10 H 8 a 8,8 0 0,1 -8,-8 z" fill="#cc861e"/>
<path transform="translate(994.3,1312)" d="M 0,8 A 8,8 0 0,1 8,0 H 401.82 H 401.82 v 25 H 401.82 v 25 H 66.3 l -6,4 -3,0 -6,-4 h -7 a 8,8 0 0,0 -8,8 v 530 a 8,8 0 0,0 8,8 H 401.82 v 10 H 8 a 8,8 0 0,1 -8,-8 z" fill="#FFA726"/>
<path transform="translate(994.3,1312)" d="M 0.5,8 A 7.5,7.5 0 0,1 8,0.5 H 401.32 M 0.5,8 V 598" fill="none" stroke="#ffc167" stroke-width="1"/>
<rect x="1048.41" y="1317" width="117.27" height="16" rx="4" fill="#ffdca8"/>
<path d="M 1153.37,1323 h 5 l -2.5,4 z" fill="#FFA726"/>
<rect x="1014.05" y="1341.7" width="109.9" height="16.6" rx="5" fill="#dc8b6c" stroke="#eba98a" stroke-width="1"/>
<rect x="1137.45" y="1341.7" width="52.87" height="16.6" rx="5" fill="#dc8b6c" stroke="#eba98a" stroke-width="1"/>
<rect x="1203.82" y="1341.7" width="57.74" height="16.6" rx="5" fill="#dc8b6c" stroke="#eba98a" stroke-width="1"/>
<rect x="1275.06" y="1341.7" width="102.81" height="16.6" rx="5" fill="#dc8b6c" stroke="#eba98a" stroke-width="1"/>
<path transform="translate(1032.6,1364)" d="M 0,8 A 8,8 0 0,1 8,0 H 15 l 6,4 3,0 6,-4 H 78.53 H 78.53 v 5 c 0,10 -8,-8 -8,7.5 s 8,-2.5 8,7.5 v 16 H 78.53 l -6,4 -3,0 -6,-4 h -7 a 8,8 0 0,0 -8,8 v 117 a 8,8 0 0,0 8,8 H 78.53 H 78.53 v 5 c 0,10 -8,-8 -8,7.5 s 8,-2.5 8,7.5 v 16 H 78.53 l -6,4 -3,0 -6,-4 h -7 a 8,8 0 0,0 -8,8 v 311 a 8,8 0 0,0 8,8 H 78.53 v 10 H 29.5 l -6,4 -3,0 -6,-4 H 8 a 8,8 0 0,1 -8,-8 z" fill="#cc8900"/>
<path transform="translate(1031.6,1363)" d="M 0,8 A 8,8 0 0,1 8,0 H 15 l 6,4 3,0 6,-4 H 78.53 H 78.53 v 5 c 0,10 -8,-8 -8,7.5 s 8,-2.5 8,7.5 v 16 H 78.53 l -6,4 -3,0 -6,-4 h -7 a 8,8 0 0,0 -8,8 v 117 a 8,8 0 0,0 8,8 H 78.53 H 78.53 v 5 c 0,10 -8,-8 -8,7.5 s 8,-2.5 8,7.5 v 16 H 78.53 l -6,4 -3,0 -6,-4 h -7 a 8,8 0 0,0 -8,8 v 311 a 8,8 0 0,0 8,8 H 78.53 v 10 H 29.5 l -6,4 -3,0 -6,-4 H 8 a 8,8 0 0,1 -8,-8 z" fill="#FFAB00"/>
<path transform="translate(1031.6,1363)" d="M 0.5,8 A 7.5,7.5 0 0,1 8,0.5 H 15 l 6,4 3,0 6,-4 H 78.03 M 0.5,8 V 534" fill="none" stroke="#ffc44c" stroke-width="1"/>
<rect x="1041.2" y="1367.6" width="16.4" height="16.6" rx="4" fill="#573aa8" stroke="#ffd173" stroke-width="1.2"/>
<path d="M 1047.6,1372.81 L 1048.26,1370.74 L 1050.74,1370.74 L 1051.4,1372.81 L 1051.4,1372.81 L 1053.52,1372.35 L 1054.76,1374.49 L 1053.3,1376.1 L 1053.3,1376.1 L 1054.76,1377.71 L 1053.52,1379.85 L 1051.4,1379.39 L 1051.4,1379.39 L 1050.74,1381.46 L 1048.26,1381.46 L 1047.6,1379.39 L 1047.6,1379.39 L 1045.48,1379.85 L 1044.24,1377.71 L 1045.7,1376.1 L 1045.7,1376.1 L 1044.24,1374.49 L 1045.48,1372.35 L 1047.6,1372.81 Z M 1047.6,1376.1 a 1.9,1.9 0 1,0 3.8,0 a 1.9,1.9 0 1,0 -3.8,0 Z" fill="#ffe7b8" fill-rule="evenodd"/>
<path transform="translate(1112.13,1364)" d="M 0,0 H 20 H 253.31 v 36 H 0 V 20 c 0,-10 -8,8 -8,-7.5 s 8,2.5 8,-7.5 z" fill="#368039"/>
<path transform="translate(1111.13,1363)" d="M 0,0 H 20 H 253.31 v 36 H 0 V 20 c 0,-10 -8,8 -8,-7.5 s 8,2.5 8,-7.5 z" fill="#43A047"/>
<path transform="translate(1111.13,1363)" d="M 0.5,0.5 H 19.5 M 0.5,35.5 V 5.5 M 0.5,20 V 35.5" fill="none" stroke="#7bbc7e" stroke-width="1"/>
<path d="M 1127.13,1368 H 1273.73 V 1395 H 1127.13 V 1388 c 0,-10 -8,8 -8,-7.5 s 8,2.5 8,-7.5 z" fill="#7bbc7e"/>
<path d="M 1273.23,1369 V 1394.5 H 1127.13" fill="none" stroke="#7bbc7e" stroke-width="1"/>
<rect x="1278.73" y="1373" width="34.56" height="16" rx="4" fill="#b4d9b5"/>
<path d="M 1300.99,1379 h 5 l -2.5,4 z" fill="#43A047"/>
<path d="M 1324.29,1368 H 1354.44 V 1395 H 1324.29 V 1388 c 0,-10 -8,8 -8,-7.5 s 8,2.5 8,-7.5 z" fill="#7bbc7e"/>
<path d="M 1353.94,1369 V 1394.5 H 1324.29" fill="none" stroke="#7bbc7e" stroke-width="1"/>
<path transform="translate(1129.13,1370)" d="M 0,0 H 144.6 H 144.6 v 25 H 0 V 20 c 0,-10 -8,8 -8,-7.5 s 8,2.5 8,-7.5 z" fill="#c34118"/>
<path transform="translate(1128.13,1369)" d="M 0,0 H 144.6 H 144.6 v 25 H 0 V 20 c 0,-10 -8,8 -8,-7.5 s 8,2.5 8,-7.5 z" fill="#F4511E"/>
<path transform="translate(1128.13,1369)" d="M 0.5,0.5 H 144.1 M 0.5,24.5 M 0.5,20 V 24.5" fill="none" stroke="#f78562" stroke-width="1"/>
<rect x="1163.5" y="1374" width="104.23" height="16" rx="4" fill="#fbb9a5"/>
<path d="M 1255.43,1380 h 5 l -2.5,4 z" fill="#F4511E"/>
<path transform="translate(1326.29,1370)" d="M 0,0 H 28.15 H 28.15 v 25 H 0 V 20 c 0,-10 -8,8 -8,-7.5 s 8,2.5 8,-7.5 z" fill="#2e3a89"/>
<path transform="translate(1325.29,1369)" d="M 0,0 H 28.15 H 28.15 v 25 H 0 V 20 c 0,-10 -8,8 -8,-7.5 s 8,2.5 8,-7.5 z" fill="#3949AB"/>
<path transform="translate(1325.29,1369)" d="M 0.5,0.5 H 27.65 M 0.5,24.5 M 0.5,20 V 24.5" fill="none" stroke="#7480c4" stroke-width="1"/>
<rect x="1330.29" y="1374" width="18.15" height="16" rx="4" fill="#b0b6dd"/>
<path transform="translate(1082.13,1401)" d="M 0,8 A 8,8 0 0,1 8,0 H 15 l 6,4 3,0 6,-4 H 161.77 H 161.77 v 5 c 0,10 -8,-8 -8,7.5 s 8,-2.5 8,7.5 v 5 H 29.5 l -6,4 -3,0 -6,-4 H 0 z" fill="#c34118"/>
<path transform="translate(1081.13,1400)" d="M 0,8 A 8,8 0 0,1 8,0 H 15 l 6,4 3,0 6,-4 H 161.77 H 161.77 v 5 c 0,10 -8,-8 -8,7.5 s 8,-2.5 8,7.5 v 5 H 29.5 l -6,4 -3,0 -6,-4 H 0 z" fill="#F4511E"/>
<path transform="translate(1081.13,1400)" d="M 0.5,8 A 7.5,7.5 0 0,1 8,0.5 H 15 l 6,4 3,0 6,-4 H 161.27 M 0.5,8 V 24.5" fill="none" stroke="#f78562" stroke-width="1"/>
<rect x="1115.68" y="1405" width="92" height="16" rx="4" fill="#fbb9a5"/>
<path d="M 1195.37,1411 h 5 l -2.5,4 z" fill="#F4511E"/>
<path transform="translate(1244.9,1401)" d="M 0,0 H 108.74 H 108.74 v 25 H 0 V 20 c 0,-10 -8,8 -8,-7.5 s 8,2.5 8,-7.5 z" fill="#c34118"/>
<path transform="translate(1243.9,1400)" d="M 0,0 H 108.74 H 108.74 v 25 H 0 V 20 c 0,-10 -8,8 -8,-7.5 s 8,2.5 8,-7.5 z" fill="#F4511E"/>
<path transform="translate(1243.9,1400)" d="M 0.5,0.5 H 108.24 M 0.5,24.5 M 0.5,20 V 24.5" fill="none" stroke="#f78562" stroke-width="1"/>
<rect x="1279.27" y="1405" width="68.37" height="16" rx="4" fill="#fbb9a5"/>
<path d="M 1335.34,1411 h 5 l -2.5,4 z" fill="#F4511E"/>
<path transform="translate(1082.13,1427)" d="M 0,0 H 15 l 6,4 3,0 6,-4 H 263.6 H 263.6 v 25 H 263.6 v 5 c 0,10 -8,-8 -8,7.5 s 8,-2.5 8,7.5 v 6 H 263.6 v 5 c 0,10 -8,-8 -8,7.5 s 8,-2.5 8,7.5 v 5 H 29.5 l -6,4 -3,0 -6,-4 H 0 z" fill="#4b2a8e"/>
<path transform="translate(1081.13,1426)" d="M 0,0 H 15 l 6,4 3,0 6,-4 H 263.6 H 263.6 v 25 H 263.6 v 5 c 0,10 -8,-8 -8,7.5 s 8,-2.5 8,7.5 v 6 H 263.6 v 5 c 0,10 -8,-8 -8,7.5 s 8,-2.5 8,7.5 v 5 H 29.5 l -6,4 -3,0 -6,-4 H 0 z" fill="#5E35B1"/>
<path transform="translate(1081.13,1426)" d="M 0.5,0.5 H 15 l 6,4 3,0 6,-4 H 263.1 M 0.5,8 V 75.5" fill="none" stroke="#8e72c8" stroke-width="1"/>
<rect x="1122.19" y="1431" width="117.27" height="16" rx="4" fill="#bfaee0"/>
<path d="M 1227.16,1437 h 5 l -2.5,4 z" fill="#5E35B1"/>
<path transform="translate(1346.73,1452)" d="M 0,0 H 96.2 H 96.2 v 25 H 0 V 20 c 0,-10 -8,8 -8,-7.5 s 8,2.5 8,-7.5 z" fill="#ad164d"/>
<path transform="translate(1345.73,1451)" d="M 0,0 H 96.2 H 96.2 v 25 H 0 V 20 c 0,-10 -8,8 -8,-7.5 s 8,2.5 8,-7.5 z" fill="#D81B60"/>
<path transform="translate(1345.73,1451)" d="M 0.5,0.5 H 95.7 M 0.5,24.5 M 0.5,20 V 24.5" fill="none" stroke="#e45f90" stroke-width="1"/>
<rect x="1365.61" y="1456" width="56.44" height="16" rx="4" fill="#efa4bf"/>
<path transform="translate(1346.73,1478)" d="M 0,0 H 193.47 H 193.47 v 25 H 0 V 20 c 0,-10 -8,8 -8,-7.5 s 8,2.5 8,-7.5 z" fill="#c34118"/>
<path transform="translate(1345.73,1477)" d="M 0,0 H 193.47 H 193.47 v 25 H 0 V 20 c 0,-10 -8,8 -8,-7.5 s 8,2.5 8,-7.5 z" fill="#F4511E"/>
<path transform="translate(1345.73,1477)" d="M 0.5,0.5 H 192.97 M 0.5,24.5 M 0.5,20 V 24.5" fill="none" stroke="#f78562" stroke-width="1"/>
<rect x="1381.1" y="1482" width="153.1" height="16" rx="4" fill="#fbb9a5"/>
<path d="M 1521.9,1488 h 5 l -2.5,4 z" fill="#F4511E"/>
<path transform="translate(1082.13,1504)" d="M 0,0 H 15 l 6,4 3,0 6,-4 H 174 H 174 v 5 c 0,10 -8,-8 -8,7.5 s 8,-2.5 8,7.5 v 5 H 29.5 l -6,4 -3,0 -6,-4 H 8 a 8,8 0 0,1 -8,-8 z" fill="#c34118"/>
<path transform="translate(1081.13,1503)" d="M 0,0 H 15 l 6,4 3,0 6,-4 H 174 H 174 v 5 c 0,10 -8,-8 -8,7.5 s 8,-2.5 8,7.5 v 5 H 29.5 l -6,4 -3,0 -6,-4 H 8 a 8,8 0 0,1 -8,-8 z" fill="#F4511E"/>
<path transform="translate(1081.13,1503)" d="M 0.5,0.5 H 15 l 6,4 3,0 6,-4 H 173.5 M 0.5,8 V 17" fill="none" stroke="#f78562" stroke-width="1"/>
<rect x="1115.68" y="1508" width="104.23" height="16" rx="4" fill="#fbb9a5"/>
<path d="M 1207.61,1514 h 5 l -2.5,4 z" fill="#F4511E"/>
<path transform="translate(1257.13,1504)" d="M 0,0 H 28.15 H 28.15 v 25 H 0 V 20 c 0,-10 -8,8 -8,-7.5 s 8,2.5 8,-7.5 z" fill="#2e3a89"/>
<path transform="translate(1256.13,1503)" d="M 0,0 H 28.15 H 28.15 v 25 H 0 V 20 c 0,-10 -8,8 -8,-7.5 s 8,2.5 8,-7.5 z" fill="#3949AB"/>
<path transform="translate(1256.13,1503)" d="M 0.5,0.5 H 27.65 M 0.5,24.5 M 0.5,20 V 24.5" fill="none" stroke="#7480c4" stroke-width="1"/>
<rect x="1261.13" y="1508" width="18.15" height="16" rx="4" fill="#b0b6dd"/>
<path transform="translate(1112.13,1533)" d="M 0,0 H 20 H 253.31 v 36 H 0 V 20 c 0,-10 -8,8 -8,-7.5 s 8,2.5 8,-7.5 z" fill="#368039"/>
<path transform="translate(1111.13,1532)" d="M 0,0 H 20 H 253.31 v 36 H 0 V 20 c 0,-10 -8,8 -8,-7.5 s 8,2.5 8,-7.5 z" fill="#43A047"/>
<path transform="translate(1111.13,1532)" d="M 0.5,0.5 H 19.5 M 0.5,35.5 V 5.5 M 0.5,20 V 35.5" fill="none" stroke="#7bbc7e" stroke-width="1"/>
<path d="M 1127.13,1537 H 1273.73 V 1564 H 1127.13 V 1557 c 0,-10 -8,8 -8,-7.5 s 8,2.5 8,-7.5 z" fill="#7bbc7e"/>
<path d="M 1273.23,1538 V 1563.5 H 1127.13" fill="none" stroke="#7bbc7e" stroke-width="1"/>
<rect x="1278.73" y="1542" width="34.56" height="16" rx="4" fill="#b4d9b5"/>
<path d="M 1300.99,1548 h 5 l -2.5,4 z" fill="#43A047"/>
<path d="M 1324.29,1537 H 1354.44 V 1564 H 1324.29 V 1557 c 0,-10 -8,8 -8,-7.5 s 8,2.5 8,-7.5 z" fill="#7bbc7e"/>
<path d="M 1353.94,1538 V 1563.5 H 1324.29" fill="none" stroke="#7bbc7e" stroke-width="1"/>
<path transform="translate(1129.13,1539)" d="M 0,0 H 144.6 H 144.6 v 25 H 0 V 20 c 0,-10 -8,8 -8,-7.5 s 8,2.5 8,-7.5 z" fill="#c34118"/>
<path transform="translate(1128.13,1538)" d="M 0,0 H 144.6 H 144.6 v 25 H 0 V 20 c 0,-10 -8,8 -8,-7.5 s 8,2.5 8,-7.5 z" fill="#F4511E"/>
<path transform="translate(1128.13,1538)" d="M 0.5,0.5 H 144.1 M 0.5,24.5 M 0.5,20 V 24.5" fill="none" stroke="#f78562" stroke-width="1"/>
<rect x="1163.5" y="1543" width="104.23" height="16" rx="4" fill="#fbb9a5"/>
<path d="M 1255.43,1549 h 5 l -2.5,4 z" fill="#F4511E"/>
<path transform="translate(1326.29,1539)" d="M 0,0 H 28.15 H 28.15 v 25 H 0 V 20 c 0,-10 -8,8 -8,-7.5 s 8,2.5 8,-7.5 z" fill="#2e3a89"/>
<path transform="translate(1325.29,1538)" d="M 0,0 H 28.15 H 28.15 v 25 H 0 V 20 c 0,-10 -8,8 -8,-7.5 s 8,2.5 8,-7.5 z" fill="#3949AB"/>
<path transform="translate(1325.29,1538)" d="M 0.5,0.5 H 27.65 M 0.5,24.5 M 0.5,20 V 24.5" fill="none" stroke="#7480c4" stroke-width="1"/>
<rect x="1330.29" y="1543" width="18.15" height="16" rx="4" fill="#b0b6dd"/>
<path transform="translate(1082.13,1570)" d="M 0,8 A 8,8 0 0,1 8,0 H 15 l 6,4 3,0 6,-4 H 185.4 H 185.4 v 5 c 0,10 -8,-8 -8,7.5 s 8,-2.5 8,7.5 v 5 H 29.5 l -6,4 -3,0 -6,-4 H 0 z" fill="#c34118"/>
<path transform="translate(1081.13,1569)" d="M 0,8 A 8,8 0 0,1 8,0 H 15 l 6,4 3,0 6,-4 H 185.4 H 185.4 v 5 c 0,10 -8,-8 -8,7.5 s 8,-2.5 8,7.5 v 5 H 29.5 l -6,4 -3,0 -6,-4 H 0 z" fill="#F4511E"/>
<path transform="translate(1081.13,1569)" d="M 0.5,8 A 7.5,7.5 0 0,1 8,0.5 H 15 l 6,4 3,0 6,-4 H 184.9 M 0.5,8 V 24.5" fill="none" stroke="#f78562" stroke-width="1"/>
<rect x="1115.68" y="1574" width="115.63" height="16" rx="4" fill="#fbb9a5"/>
<path d="M 1219.01,1580 h 5 l -2.5,4 z" fill="#F4511E"/>
<path transform="translate(1268.53,1570)" d="M 0,0 H 108.74 H 108.74 v 25 H 0 V 20 c 0,-10 -8,8 -8,-7.5 s 8,2.5 8,-7.5 z" fill="#c34118"/>
<path transform="translate(1267.53,1569)" d="M 0,0 H 108.74 H 108.74 v 25 H 0 V 20 c 0,-10 -8,8 -8,-7.5 s 8,2.5 8,-7.5 z" fill="#F4511E"/>
<path transform="translate(1267.53,1569)" d="M 0.5,0.5 H 108.24 M 0.5,24.5 M 0.5,20 V 24.5" fill="none" stroke="#f78562" stroke-width="1"/>
<rect x="1302.9" y="1574" width="68.37" height="16" rx="4" fill="#fbb9a5"/>
<path d="M 1358.97,1580 h 5 l -2.5,4 z" fill="#F4511E"/>
<path transform="translate(1082.13,1596)" d="M 0,0 H 15 l 6,4 3,0 6,-4 H 174 H 174 v 5 c 0,10 -8,-8 -8,7.5 s 8,-2.5 8,7.5 v 5 H 29.5 l -6,4 -3,0 -6,-4 H 0 z" fill="#c34118"/>
<path transform="translate(1081.13,1595)" d="M 0,0 H 15 l 6,4 3,0 6,-4 H 174 H 174 v 5 c 0,10 -8,-8 -8,7.5 s 8,-2.5 8,7.5 v 5 H 29.5 l -6,4 -3,0 -6,-4 H 0 z" fill="#F4511E"/>
<path transform="translate(1081.13,1595)" d="M 0.5,0.5 H 15 l 6,4 3,0 6,-4 H 173.5 M 0.5,8 V 24.5" fill="none" stroke="#f78562" stroke-width="1"/>
<rect x="1115.68" y="1600" width="104.23" height="16" rx="4" fill="#fbb9a5"/>
<path d="M 1207.61,1606 h 5 l -2.5,4 z" fill="#F4511E"/>
<path transform="translate(1257.13,1596)" d="M 0,0 H 28.15 H 28.15 v 25 H 0 V 20 c 0,-10 -8,8 -8,-7.5 s 8,2.5 8,-7.5 z" fill="#2e3a89"/>
<path transform="translate(1256.13,1595)" d="M 0,0 H 28.15 H 28.15 v 25 H 0 V 20 c 0,-10 -8,8 -8,-7.5 s 8,2.5 8,-7.5 z" fill="#3949AB"/>
<path transform="translate(1256.13,1595)" d="M 0.5,0.5 H 27.65 M 0.5,24.5 M 0.5,20 V 24.5" fill="none" stroke="#7480c4" stroke-width="1"/>
<rect x="1261.13" y="1600" width="18.15" height="16" rx="4" fill="#b0b6dd"/>
<path transform="translate(1082.13,1622)" d="M 0,0 H 15 l 6,4 3,0 6,-4 H 179.96 H 179.96 v 5 c 0,10 -8,-8 -8,7.5 s 8,-2.5 8,7.5 v 6 H 179.96 v 5 c 0,10 -8,-8 -8,7.5 s 8,-2.5 8,7.5 v 6 H 179.96 v 5 c 0,10 -8,-8 -8,7.5 s 8,-2.5 8,7.5 v 5 H 66.3 l -6,4 -3,0 -6,-4 h -7 a 8,8 0 0,0 -8,8 v 168 a 8,8 0 0,0 8,8 H 179.96 v 10 H 29.5 l -6,4 -3,0 -6,-4 H 8 a 8,8 0 0,1 -8,-8 z" fill="#cc8900"/>
<path transform="translate(1081.13,1621)" d="M 0,0 H 15 l 6,4 3,0 6,-4 H 179.96 H 179.96 v 5 c 0,10 -8,-8 -8,7.5 s 8,-2.5 8,7.5 v 6 H 179.96 v 5 c 0,10 -8,-8 -8,7.5 s 8,-2.5 8,7.5 v 6 H 179.96 v 5 c 0,10 -8,-8 -8,7.5 s 8,-2.5 8,7.5 v 5 H 66.3 l -6,4 -3,0 -6,-4 h -7 a 8,8 0 0,0 -8,8 v 168 a 8,8 0 0,0 8,8 H 179.96 v 10 H 29.5 l -6,4 -3,0 -6,-4 H 8 a 8,8 0 0,1 -8,-8 z" fill="#FFAB00"/>
<path transform="translate(1081.13,1621)" d="M 0.5,0.5 H 15 l 6,4 3,0 6,-4 H 179.46 M 0.5,8 V 263" fill="none" stroke="#ffc44c" stroke-width="1"/>
<rect x="1149.08" y="1625.7" width="59.69" height="16.6" rx="5" fill="#dc8b6c" stroke="#eba98a" stroke-width="1"/>
<path transform="translate(1263.09,1622)" d="M 0,0 H 28.15 H 28.15 v 25 H 0 V 20 c 0,-10 -8,8 -8,-7.5 s 8,2.5 8,-7.5 z" fill="#2e3a89"/>
<path transform="translate(1262.09,1621)" d="M 0,0 H 28.15 H 28.15 v 25 H 0 V 20 c 0,-10 -8,8 -8,-7.5 s 8,2.5 8,-7.5 z" fill="#3949AB"/>
<path transform="translate(1262.09,1621)" d="M 0.5,0.5 H 27.65 M 0.5,24.5 M 0.5,20 V 24.5" fill="none" stroke="#7480c4" stroke-width="1"/>
<rect x="1267.09" y="1626" width="18.15" height="16" rx="4" fill="#b0b6dd"/>
<path transform="translate(1263.09,1648)" d="M 0,0 H 134.12 H 134.12 v 5 c 0,10 -8,-8 -8,7.5 s 8,-2.5 8,7.5 v 5 H 0 V 20 c 0,-10 -8,8 -8,-7.5 s 8,2.5 8,-7.5 z" fill="#027cb7"/>
<path transform="translate(1262.09,1647)" d="M 0,0 H 134.12 H 134.12 v 5 c 0,10 -8,-8 -8,7.5 s 8,-2.5 8,7.5 v 5 H 0 V 20 c 0,-10 -8,8 -8,-7.5 s 8,2.5 8,-7.5 z" fill="#039BE5"/>
<path transform="translate(1262.09,1647)" d="M 0.5,0.5 H 133.62 M 0.5,24.5 M 0.5,20 V 24.5" fill="none" stroke="#4fb9ed" stroke-width="1"/>
<path transform="translate(1398.22,1648)" d="M 0,0 H 156 H 156 v 25 H 0 V 20 c 0,-10 -8,8 -8,-7.5 s 8,2.5 8,-7.5 z" fill="#c34118"/>
<path transform="translate(1397.22,1647)" d="M 0,0 H 156 H 156 v 25 H 0 V 20 c 0,-10 -8,8 -8,-7.5 s 8,2.5 8,-7.5 z" fill="#F4511E"/>
<path transform="translate(1397.22,1647)" d="M 0.5,0.5 H 155.5 M 0.5,24.5 M 0.5,20 V 24.5" fill="none" stroke="#f78562" stroke-width="1"/>
<rect x="1432.59" y="1652" width="115.63" height="16" rx="4" fill="#fbb9a5"/>
<path d="M 1535.92,1658 h 5 l -2.5,4 z" fill="#F4511E"/>
<path transform="translate(1263.09,1674)" d="M 0,0 H 28.15 H 28.15 v 25 H 0 V 20 c 0,-10 -8,8 -8,-7.5 s 8,2.5 8,-7.5 z" fill="#2e3a89"/>
<path transform="translate(1262.09,1673)" d="M 0,0 H 28.15 H 28.15 v 25 H 0 V 20 c 0,-10 -8,8 -8,-7.5 s 8,2.5 8,-7.5 z" fill="#3949AB"/>
<path transform="translate(1262.09,1673)" d="M 0.5,0.5 H 27.65 M 0.5,24.5 M 0.5,20 V 24.5" fill="none" stroke="#7480c4" stroke-width="1"/>
<rect x="1267.09" y="1678" width="18.15" height="16" rx="4" fill="#b0b6dd"/>
<path transform="translate(1119.43,1700)" d="M 0,8 A 8,8 0 0,1 8,0 H 15 l 6,4 3,0 6,-4 H 146.86 H 146.86 v 25 H 146.86 v 5 c 0,10 -8,-8 -8,7.5 s 8,-2.5 8,7.5 v 6 H 146.86 v 5 c 0,10 -8,-8 -8,7.5 s 8,-2.5 8,7.5 v 32 H 146.86 v 5 c 0,10 -8,-8 -8,7.5 s 8,-2.5 8,7.5 v 31 H 29.5 l -6,4 -3,0 -6,-4 H 0 z" fill="#4b2a8e"/>
<path transform="translate(1118.43,1699)" d="M 0,8 A 8,8 0 0,1 8,0 H 15 l 6,4 3,0 6,-4 H 146.86 H 146.86 v 25 H 146.86 v 5 c 0,10 -8,-8 -8,7.5 s 8,-2.5 8,7.5 v 6 H 146.86 v 5 c 0,10 -8,-8 -8,7.5 s 8,-2.5 8,7.5 v 32 H 146.86 v 5 c 0,10 -8,-8 -8,7.5 s 8,-2.5 8,7.5 v 31 H 29.5 l -6,4 -3,0 -6,-4 H 0 z" fill="#5E35B1"/>
<path transform="translate(1118.43,1699)" d="M 0.5,8 A 7.5,7.5 0 0,1 8,0.5 H 15 l 6,4 3,0 6,-4 H 146.36 M 0.5,8 V 153.5" fill="none" stroke="#8e72c8" stroke-width="1"/>
<rect x="1159.49" y="1704" width="92.8" height="16" rx="4" fill="#bfaee0"/>
<path d="M 1239.99,1710 h 5 l -2.5,4 z" fill="#5E35B1"/>
<path transform="translate(1267.29,1725)" d="M 0,0 H 116.07 H 116.07 v 25 H 0 V 20 c 0,-10 -8,8 -8,-7.5 s 8,2.5 8,-7.5 z" fill="#c34118"/>
<path transform="translate(1266.29,1724)" d="M 0,0 H 116.07 H 116.07 v 25 H 0 V 20 c 0,-10 -8,8 -8,-7.5 s 8,2.5 8,-7.5 z" fill="#F4511E"/>
<path transform="translate(1266.29,1724)" d="M 0.5,0.5 H 115.57 M 0.5,24.5 M 0.5,20 V 24.5" fill="none" stroke="#f78562" stroke-width="1"/>
<rect x="1301.67" y="1729" width="75.69" height="16" rx="4" fill="#fbb9a5"/>
<path d="M 1365.06,1735 h 5 l -2.5,4 z" fill="#F4511E"/>
<path transform="translate(1267.29,1751)" d="M 0,0 H 146.09 H 146.09 v 5 c 0,10 -8,-8 -8,7.5 s 8,-2.5 8,7.5 v 6 H 146.09 v 5 c 0,10 -8,-8 -8,7.5 s 8,-2.5 8,7.5 v 5 H 0 V 20 c 0,-10 -8,8 -8,-7.5 s 8,2.5 8,-7.5 z" fill="#027cb7"/>
<path transform="translate(1266.29,1750)" d="M 0,0 H 146.09 H 146.09 v 5 c 0,10 -8,-8 -8,7.5 s 8,-2.5 8,7.5 v 6 H 146.09 v 5 c 0,10 -8,-8 -8,7.5 s 8,-2.5 8,7.5 v 5 H 0 V 20 c 0,-10 -8,8 -8,-7.5 s 8,2.5 8,-7.5 z" fill="#039BE5"/>
<path transform="translate(1266.29,1750)" d="M 0.5,0.5 H 145.59 M 0.5,50.5 V 5.5 M 0.5,20 V 50.5" fill="none" stroke="#4fb9ed" stroke-width="1"/>
<path transform="translate(1414.38,1751)" d="M 0,0 H 132.37 H 132.37 v 25 H 0 V 20 c 0,-10 -8,8 -8,-7.5 s 8,2.5 8,-7.5 z" fill="#c34118"/>
<path transform="translate(1413.38,1750)" d="M 0,0 H 132.37 H 132.37 v 25 H 0 V 20 c 0,-10 -8,8 -8,-7.5 s 8,2.5 8,-7.5 z" fill="#F4511E"/>
<path transform="translate(1413.38,1750)" d="M 0.5,0.5 H 131.87 M 0.5,24.5 M 0.5,20 V 24.5" fill="none" stroke="#f78562" stroke-width="1"/>
<rect x="1448.75" y="1755" width="92" height="16" rx="4" fill="#fbb9a5"/>
<path d="M 1528.45,1761 h 5 l -2.5,4 z" fill="#F4511E"/>
<path transform="translate(1414.38,1777)" d="M 0,0 H 116.07 H 116.07 v 25 H 0 V 20 c 0,-10 -8,8 -8,-7.5 s 8,2.5 8,-7.5 z" fill="#c34118"/>
<path transform="translate(1413.38,1776)" d="M 0,0 H 116.07 H 116.07 v 25 H 0 V 20 c 0,-10 -8,8 -8,-7.5 s 8,2.5 8,-7.5 z" fill="#F4511E"/>
<path transform="translate(1413.38,1776)" d="M 0.5,0.5 H 115.57 M 0.5,24.5 M 0.5,20 V 24.5" fill="none" stroke="#f78562" stroke-width="1"/>
<rect x="1448.75" y="1781" width="75.69" height="16" rx="4" fill="#fbb9a5"/>
<path d="M 1512.15,1787 h 5 l -2.5,4 z" fill="#F4511E"/>
<path transform="translate(1267.29,1803)" d="M 0,0 H 146.09 H 146.09 v 5 c 0,10 -8,-8 -8,7.5 s 8,-2.5 8,7.5 v 6 H 146.09 v 5 c 0,10 -8,-8 -8,7.5 s 8,-2.5 8,7.5 v 5 H 0 V 20 c 0,-10 -8,8 -8,-7.5 s 8,2.5 8,-7.5 z" fill="#027cb7"/>
<path transform="translate(1266.29,1802)" d="M 0,0 H 146.09 H 146.09 v 5 c 0,10 -8,-8 -8,7.5 s 8,-2.5 8,7.5 v 6 H 146.09 v 5 c 0,10 -8,-8 -8,7.5 s 8,-2.5 8,7.5 v 5 H 0 V 20 c 0,-10 -8,8 -8,-7.5 s 8,2.5 8,-7.5 z" fill="#039BE5"/>
<path transform="translate(1266.29,1802)" d="M 0.5,0.5 H 145.59 M 0.5,50.5 V 5.5 M 0.5,20 V 50.5" fill="none" stroke="#4fb9ed" stroke-width="1"/>
<path transform="translate(1414.38,1803)" d="M 0,0 H 156 H 156 v 25 H 0 V 20 c 0,-10 -8,8 -8,-7.5 s 8,2.5 8,-7.5 z" fill="#c34118"/>
<path transform="translate(1413.38,1802)" d="M 0,0 H 156 H 156 v 25 H 0 V 20 c 0,-10 -8,8 -8,-7.5 s 8,2.5 8,-7.5 z" fill="#F4511E"/>
<path transform="translate(1413.38,1802)" d="M 0.5,0.5 H 155.5 M 0.5,24.5 M 0.5,20 V 24.5" fill="none" stroke="#f78562" stroke-width="1"/>
<rect x="1448.75" y="1807" width="115.63" height="16" rx="4" fill="#fbb9a5"/>
<path d="M 1552.08,1813 h 5 l -2.5,4 z" fill="#F4511E"/>
<path transform="translate(1414.38,1829)" d="M 0,0 H 116.07 H 116.07 v 25 H 0 V 20 c 0,-10 -8,8 -8,-7.5 s 8,2.5 8,-7.5 z" fill="#c34118"/>
<path transform="translate(1413.38,1828)" d="M 0,0 H 116.07 H 116.07 v 25 H 0 V 20 c 0,-10 -8,8 -8,-7.5 s 8,2.5 8,-7.5 z" fill="#F4511E"/>
<path transform="translate(1413.38,1828)" d="M 0.5,0.5 H 115.57 M 0.5,24.5 M 0.5,20 V 24.5" fill="none" stroke="#f78562" stroke-width="1"/>
<rect x="1448.75" y="1833" width="75.69" height="16" rx="4" fill="#fbb9a5"/>
<path d="M 1512.15,1839 h 5 l -2.5,4 z" fill="#F4511E"/>
<path transform="translate(1119.43,1855)" d="M 0,0 H 15 l 6,4 3,0 6,-4 H 312.34 H 312.34 v 5 c 0,10 -8,-8 -8,7.5 s 8,-2.5 8,7.5 v 5 H 29.5 l -6,4 -3,0 -6,-4 H 8 a 8,8 0 0,1 -8,-8 z" fill="#2d7230"/>
<path transform="translate(1118.43,1854)" d="M 0,0 H 15 l 6,4 3,0 6,-4 H 312.34 H 312.34 v 5 c 0,10 -8,-8 -8,7.5 s 8,-2.5 8,7.5 v 5 H 29.5 l -6,4 -3,0 -6,-4 H 8 a 8,8 0 0,1 -8,-8 z" fill="#388E3C"/>
<path transform="translate(1118.43,1854)" d="M 0.5,0.5 H 15 l 6,4 3,0 6,-4 H 311.84 M 0.5,8 V 17" fill="none" stroke="#74b076" stroke-width="1"/>
<rect x="1157.05" y="1859" width="151.44" height="16" rx="4" fill="#afd2b1"/>
<path d="M 1296.19,1865 h 5 l -2.5,4 z" fill="#388E3C"/>
<rect x="1322.56" y="1859" width="68.91" height="16" rx="4" fill="#afd2b1"/>
<path d="M 1379.17,1865 h 5 l -2.5,4 z" fill="#388E3C"/>
<path transform="translate(1432.77,1855)" d="M 0,0 H 66.96 H 66.96 v 25 H 0 V 20 c 0,-10 -8,8 -8,-7.5 s 8,2.5 8,-7.5 z" fill="#368039"/>
<path transform="translate(1431.77,1854)" d="M 0,0 H 66.96 H 66.96 v 25 H 0 V 20 c 0,-10 -8,8 -8,-7.5 s 8,2.5 8,-7.5 z" fill="#43A047"/>
<path transform="translate(1431.77,1854)" d="M 0.5,0.5 H 66.46 M 0.5,24.5 M 0.5,20 V 24.5" fill="none" stroke="#7bbc7e" stroke-width="1"/>
<rect x="1436.77" y="1859" width="56.96" height="16" rx="4" fill="#b4d9b5"/>
<path d="M 1481.42,1865 h 5 l -2.5,4 z" fill="#43A047"/>
<path transform="translate(995.3,1947)" d="M 0,8 A 8,8 0 0,1 8,0 H 231.32 H 231.32 v 5 c 0,10 -8,-8 -8,7.5 s 8,-2.5 8,7.5 v 5 H 8 a 8,8 0 0,1 -8,-8 z" fill="#c34118"/>
<path transform="translate(994.3,1946)" d="M 0,8 A 8,8 0 0,1 8,0 H 231.32 H 231.32 v 5 c 0,10 -8,-8 -8,7.5 s 8,-2.5 8,7.5 v 5 H 8 a 8,8 0 0,1 -8,-8 z" fill="#F4511E"/>
<path transform="translate(994.3,1946)" d="M 0.5,8 A 7.5,7.5 0 0,1 8,0.5 H 230.82 M 0.5,8 V 17" fill="none" stroke="#f78562" stroke-width="1"/>
<rect x="1104.62" y="1950.7" width="85.78" height="16.6" rx="5" fill="#dc8b6c" stroke="#eba98a" stroke-width="1"/>
<path transform="translate(1227.62,1947)" d="M 0,0 H 53.83 H 53.83 v 25 H 0 V 20 c 0,-10 -8,8 -8,-7.5 s 8,2.5 8,-7.5 z" fill="#ad164d"/>
<path transform="translate(1226.62,1946)" d="M 0,0 H 53.83 H 53.83 v 25 H 0 V 20 c 0,-10 -8,8 -8,-7.5 s 8,2.5 8,-7.5 z" fill="#D81B60"/>
<path transform="translate(1226.62,1946)" d="M 0.5,0.5 H 53.33 M 0.5,24.5 M 0.5,20 V 24.5" fill="none" stroke="#e45f90" stroke-width="1"/>
<rect x="1246.51" y="1951" width="14.07" height="16" rx="4" fill="#efa4bf"/>
<path transform="translate(995.3,2000)" d="M 0,8 A 8,8 0 0,1 8,0 H 277.82 H 277.82 v 25 H 277.82 v 25 H 66.3 l -6,4 -3,0 -6,-4 h -7 a 8,8 0 0,0 -8,8 v 142 a 8,8 0 0,0 8,8 H 277.82 v 10 H 8 a 8,8 0 0,1 -8,-8 z" fill="#cc861e"/>
<path transform="translate(994.3,1999)" d="M 0,8 A 8,8 0 0,1 8,0 H 277.82 H 277.82 v 25 H 277.82 v 25 H 66.3 l -6,4 -3,0 -6,-4 h -7 a 8,8 0 0,0 -8,8 v 142 a 8,8 0 0,0 8,8 H 277.82 v 10 H 8 a 8,8 0 0,1 -8,-8 z" fill="#FFA726"/>
<path transform="translate(994.3,1999)" d="M 0.5,8 A 7.5,7.5 0 0,1 8,0.5 H 277.32 M 0.5,8 V 210" fill="none" stroke="#ffc167" stroke-width="1"/>
<rect x="1014.05" y="2028.7" width="83.02" height="16.6" rx="5" fill="#dc8b6c" stroke="#eba98a" stroke-width="1"/>
<rect x="1110.57" y="2028.7" width="143.31" height="16.6" rx="5" fill="#dc8b6c" stroke="#eba98a" stroke-width="1"/>
<path transform="translate(1032.6,2051)" d="M 0,8 A 8,8 0 0,1 8,0 H 15 l 6,4 3,0 6,-4 H 273.38 H 273.38 v 25 H 273.38 v 5 c 0,10 -8,-8 -8,7.5 s 8,-2.5 8,7.5 v 6 H 273.38 v 5 c 0,10 -8,-8 -8,7.5 s 8,-2.5 8,7.5 v 6 H 273.38 v 5 c 0,10 -8,-8 -8,7.5 s 8,-2.5 8,7.5 v 6 H 273.38 v 5 c 0,10 -8,-8 -8,7.5 s 8,-2.5 8,7.5 v 6 H 273.38 v 5 c 0,10 -8,-8 -8,7.5 s 8,-2.5 8,7.5 v 5 H 29.5 l -6,4 -3,0 -6,-4 H 8 a 8,8 0 0,1 -8,-8 z" fill="#4b2a8e"/>
<path transform="translate(1031.6,2050)" d="M 0,8 A 8,8 0 0,1 8,0 H 15 l 6,4 3,0 6,-4 H 273.38 H 273.38 v 25 H 273.38 v 5 c 0,10 -8,-8 -8,7.5 s 8,-2.5 8,7.5 v 6 H 273.38 v 5 c 0,10 -8,-8 -8,7.5 s 8,-2.5 8,7.5 v 6 H 273.38 v 5 c 0,10 -8,-8 -8,7.5 s 8,-2.5 8,7.5 v 6 H 273.38 v 5 c 0,10 -8,-8 -8,7.5 s 8,-2.5 8,7.5 v 6 H 273.38 v 5 c 0,10 -8,-8 -8,7.5 s 8,-2.5 8,7.5 v 5 H 29.5 l -6,4 -3,0 -6,-4 H 8 a 8,8 0 0,1 -8,-8 z" fill="#5E35B1"/>
<path transform="translate(1031.6,2050)" d="M 0.5,8 A 7.5,7.5 0 0,1 8,0.5 H 15 l 6,4 3,0 6,-4 H 272.88 M 0.5,8 V 146" fill="none" stroke="#8e72c8" stroke-width="1"/>
<rect x="1072.67" y="2055" width="75.71" height="16" rx="4" fill="#bfaee0"/>
<path d="M 1136.07,2061 h 5 l -2.5,4 z" fill="#5E35B1"/>
<path transform="translate(1306.98,2076)" d="M 0,0 H 138.89 H 138.89 v 25 H 0 V 20 c 0,-10 -8,8 -8,-7.5 s 8,2.5 8,-7.5 z" fill="#c34118"/>
<path transform="translate(1305.98,2075)" d="M 0,0 H 138.89 H 138.89 v 25 H 0 V 20 c 0,-10 -8,8 -8,-7.5 s 8,2.5 8,-7.5 z" fill="#F4511E"/>
<path transform="translate(1305.98,2075)" d="M 0.5,0.5 H 138.39 M 0.5,24.5 M 0.5,20 V 24.5" fill="none" stroke="#f78562" stroke-width="1"/>
<rect x="1341.36" y="2080" width="98.52" height="16" rx="4" fill="#fbb9a5"/>
<path d="M 1427.57,2086 h 5 l -2.5,4 z" fill="#F4511E"/>
<path transform="translate(1306.98,2102)" d="M 0,0 H 167.34 H 167.34 v 25 H 0 V 20 c 0,-10 -8,8 -8,-7.5 s 8,2.5 8,-7.5 z" fill="#6f9c3b"/>
<path transform="translate(1305.98,2101)" d="M 0,0 H 167.34 H 167.34 v 25 H 0 V 20 c 0,-10 -8,8 -8,-7.5 s 8,2.5 8,-7.5 z" fill="#8BC34A"/>
<path transform="translate(1305.98,2101)" d="M 0.5,0.5 H 166.84 M 0.5,24.5 M 0.5,20 V 24.5" fill="none" stroke="#aed580" stroke-width="1"/>
<rect x="1310.98" y="2106" width="75.71" height="16" rx="4" fill="#d1e7b7"/>
<path d="M 1374.39,2112 h 5 l -2.5,4 z" fill="#8BC34A"/>
<rect x="1400.76" y="2106" width="67.56" height="16" rx="4" fill="#d1e7b7"/>
<path d="M 1456.02,2112 h 5 l -2.5,4 z" fill="#8BC34A"/>
<path transform="translate(1306.98,2128)" d="M 0,0 H 28.15 H 28.15 v 25 H 0 V 20 c 0,-10 -8,8 -8,-7.5 s 8,2.5 8,-7.5 z" fill="#2e3a89"/>
<path transform="translate(1305.98,2127)" d="M 0,0 H 28.15 H 28.15 v 25 H 0 V 20 c 0,-10 -8,8 -8,-7.5 s 8,2.5 8,-7.5 z" fill="#3949AB"/>
<path transform="translate(1305.98,2127)" d="M 0.5,0.5 H 27.65 M 0.5,24.5 M 0.5,20 V 24.5" fill="none" stroke="#7480c4" stroke-width="1"/>
<rect x="1310.98" y="2132" width="18.15" height="16" rx="4" fill="#b0b6dd"/>
<path transform="translate(1306.98,2154)" d="M 0,0 H 52.6 H 52.6 v 25 H 0 V 20 c 0,-10 -8,8 -8,-7.5 s 8,2.5 8,-7.5 z" fill="#2e3a89"/>
<path transform="translate(1305.98,2153)" d="M 0,0 H 52.6 H 52.6 v 25 H 0 V 20 c 0,-10 -8,8 -8,-7.5 s 8,2.5 8,-7.5 z" fill="#3949AB"/>
<path transform="translate(1305.98,2153)" d="M 0.5,0.5 H 52.1 M 0.5,24.5 M 0.5,20 V 24.5" fill="none" stroke="#7480c4" stroke-width="1"/>
<rect x="1310.98" y="2158" width="42.6" height="16" rx="4" fill="#b0b6dd"/>
<path transform="translate(1306.98,2180)" d="M 0,0 H 28.15 H 28.15 v 25 H 0 V 20 c 0,-10 -8,8 -8,-7.5 s 8,2.5 8,-7.5 z" fill="#2e3a89"/>
<path transform="translate(1305.98,2179)" d="M 0,0 H 28.15 H 28.15 v 25 H 0 V 20 c 0,-10 -8,8 -8,-7.5 s 8,2.5 8,-7.5 z" fill="#3949AB"/>
<path transform="translate(1305.98,2179)" d="M 0.5,0.5 H 27.65 M 0.5,24.5 M 0.5,20 V 24.5" fill="none" stroke="#7480c4" stroke-width="1"/>
<rect x="1310.98" y="2184" width="18.15" height="16" rx="4" fill="#b0b6dd"/>
<path transform="translate(995.3,2246)" d="M 0,8 A 8,8 0 0,1 8,0 H 380.02 H 380.02 v 25 H 380.02 v 25 H 66.3 l -6,4 -3,0 -6,-4 h -7 a 8,8 0 0,0 -8,8 v 116 a 8,8 0 0,0 8,8 H 380.02 v 10 H 8 a 8,8 0 0,1 -8,-8 z" fill="#cc861e"/>
<path transform="translate(994.3,2245)" d="M 0,8 A 8,8 0 0,1 8,0 H 380.02 H 380.02 v 25 H 380.02 v 25 H 66.3 l -6,4 -3,0 -6,-4 h -7 a 8,8 0 0,0 -8,8 v 116 a 8,8 0 0,0 8,8 H 380.02 v 10 H 8 a 8,8 0 0,1 -8,-8 z" fill="#FFA726"/>
<path transform="translate(994.3,2245)" d="M 0.5,8 A 7.5,7.5 0 0,1 8,0.5 H 379.52 M 0.5,8 V 184" fill="none" stroke="#ffc167" stroke-width="1"/>
<rect x="1048.41" y="2250" width="117.27" height="16" rx="4" fill="#ffdca8"/>
<path d="M 1153.37,2256 h 5 l -2.5,4 z" fill="#FFA726"/>
<rect x="1014.05" y="2274.7" width="109.9" height="16.6" rx="5" fill="#dc8b6c" stroke="#eba98a" stroke-width="1"/>
<rect x="1137.45" y="2274.7" width="126.2" height="16.6" rx="5" fill="#dc8b6c" stroke="#eba98a" stroke-width="1"/>
<rect x="1277.15" y="2274.7" width="78.92" height="16.6" rx="5" fill="#dc8b6c" stroke="#eba98a" stroke-width="1"/>
<path transform="translate(1032.6,2297)" d="M 0,8 A 8,8 0 0,1 8,0 H 15 l 6,4 3,0 6,-4 H 205.76 H 205.76 v 5 c 0,10 -8,-8 -8,7.5 s 8,-2.5 8,7.5 v 5 H 29.5 l -6,4 -3,0 -6,-4 H 0 z" fill="#c34118"/>
<path transform="translate(1031.6,2296)" d="M 0,8 A 8,8 0 0,1 8,0 H 15 l 6,4 3,0 6,-4 H 205.76 H 205.76 v 5 c 0,10 -8,-8 -8,7.5 s 8,-2.5 8,7.5 v 5 H 29.5 l -6,4 -3,0 -6,-4 H 0 z" fill="#F4511E"/>
<path transform="translate(1031.6,2296)" d="M 0.5,8 A 7.5,7.5 0 0,1 8,0.5 H 15 l 6,4 3,0 6,-4 H 205.26 M 0.5,8 V 24.5" fill="none" stroke="#f78562" stroke-width="1"/>
<rect x="1066.15" y="2301" width="135.99" height="16" rx="4" fill="#fbb9a5"/>
<path d="M 1189.84,2307 h 5 l -2.5,4 z" fill="#F4511E"/>
<path transform="translate(1239.36,2297)" d="M 0,0 H 134.8 H 134.8 v 25 H 0 V 20 c 0,-10 -8,8 -8,-7.5 s 8,2.5 8,-7.5 z" fill="#c34118"/>
<path transform="translate(1238.36,2296)" d="M 0,0 H 134.8 H 134.8 v 25 H 0 V 20 c 0,-10 -8,8 -8,-7.5 s 8,2.5 8,-7.5 z" fill="#F4511E"/>
<path transform="translate(1238.36,2296)" d="M 0.5,0.5 H 134.3 M 0.5,24.5 M 0.5,20 V 24.5" fill="none" stroke="#f78562" stroke-width="1"/>
<rect x="1273.74" y="2301" width="94.42" height="16" rx="4" fill="#fbb9a5"/>
<path d="M 1355.86,2307 h 5 l -2.5,4 z" fill="#F4511E"/>
<path transform="translate(1032.6,2323)" d="M 0,0 H 15 l 6,4 3,0 6,-4 H 263.6 H 263.6 v 25 H 263.6 v 5 c 0,10 -8,-8 -8,7.5 s 8,-2.5 8,7.5 v 6 H 263.6 v 5 c 0,10 -8,-8 -8,7.5 s 8,-2.5 8,7.5 v 5 H 29.5 l -6,4 -3,0 -6,-4 H 0 z" fill="#4b2a8e"/>
<path transform="translate(1031.6,2322)" d="M 0,0 H 15 l 6,4 3,0 6,-4 H 263.6 H 263.6 v 25 H 263.6 v 5 c 0,10 -8,-8 -8,7.5 s 8,-2.5 8,7.5 v 6 H 263.6 v 5 c 0,10 -8,-8 -8,7.5 s 8,-2.5 8,7.5 v 5 H 29.5 l -6,4 -3,0 -6,-4 H 0 z" fill="#5E35B1"/>
<path transform="translate(1031.6,2322)" d="M 0.5,0.5 H 15 l 6,4 3,0 6,-4 H 263.1 M 0.5,8 V 75.5" fill="none" stroke="#8e72c8" stroke-width="1"/>
<rect x="1072.67" y="2327" width="117.27" height="16" rx="4" fill="#bfaee0"/>
<path d="M 1177.63,2333 h 5 l -2.5,4 z" fill="#5E35B1"/>
<path transform="translate(1297.2,2348)" d="M 0,0 H 72.57 H 72.57 v 25 H 0 V 20 c 0,-10 -8,8 -8,-7.5 s 8,2.5 8,-7.5 z" fill="#ad164d"/>
<path transform="translate(1296.2,2347)" d="M 0,0 H 72.57 H 72.57 v 25 H 0 V 20 c 0,-10 -8,8 -8,-7.5 s 8,2.5 8,-7.5 z" fill="#D81B60"/>
<path transform="translate(1296.2,2347)" d="M 0.5,0.5 H 72.07 M 0.5,24.5 M 0.5,20 V 24.5" fill="none" stroke="#e45f90" stroke-width="1"/>
<rect x="1316.08" y="2352" width="32.81" height="16" rx="4" fill="#efa4bf"/>
<path transform="translate(1297.2,2374)" d="M 0,0 H 193.47 H 193.47 v 25 H 0 V 20 c 0,-10 -8,8 -8,-7.5 s 8,2.5 8,-7.5 z" fill="#c34118"/>
<path transform="translate(1296.2,2373)" d="M 0,0 H 193.47 H 193.47 v 25 H 0 V 20 c 0,-10 -8,8 -8,-7.5 s 8,2.5 8,-7.5 z" fill="#F4511E"/>
<path transform="translate(1296.2,2373)" d="M 0.5,0.5 H 192.97 M 0.5,24.5 M 0.5,20 V 24.5" fill="none" stroke="#f78562" stroke-width="1"/>
<rect x="1331.57" y="2378" width="153.1" height="16" rx="4" fill="#fbb9a5"/>
<path d="M 1472.37,2384 h 5 l -2.5,4 z" fill="#F4511E"/>
<path transform="translate(1032.6,2400)" d="M 0,0 H 15 l 6,4 3,0 6,-4 H 174 H 174 v 5 c 0,10 -8,-8 -8,7.5 s 8,-2.5 8,7.5 v 5 H 29.5 l -6,4 -3,0 -6,-4 H 8 a 8,8 0 0,1 -8,-8 z" fill="#c34118"/>
<path transform="translate(1031.6,2399)" d="M 0,0 H 15 l 6,4 3,0 6,-4 H 174 H 174 v 5 c 0,10 -8,-8 -8,7.5 s 8,-2.5 8,7.5 v 5 H 29.5 l -6,4 -3,0 -6,-4 H 8 a 8,8 0 0,1 -8,-8 z" fill="#F4511E"/>
<path transform="translate(1031.6,2399)" d="M 0.5,0.5 H 15 l 6,4 3,0 6,-4 H 173.5 M 0.5,8 V 17" fill="none" stroke="#f78562" stroke-width="1"/>
<rect x="1066.15" y="2404" width="104.23" height="16" rx="4" fill="#fbb9a5"/>
<path d="M 1158.08,2410 h 5 l -2.5,4 z" fill="#F4511E"/>
<path transform="translate(1207.6,2400)" d="M 0,0 H 28.15 H 28.15 v 25 H 0 V 20 c 0,-10 -8,8 -8,-7.5 s 8,2.5 8,-7.5 z" fill="#2e3a89"/>
<path transform="translate(1206.6,2399)" d="M 0,0 H 28.15 H 28.15 v 25 H 0 V 20 c 0,-10 -8,8 -8,-7.5 s 8,2.5 8,-7.5 z" fill="#3949AB"/>
<path transform="translate(1206.6,2399)" d="M 0.5,0.5 H 27.65 M 0.5,24.5 M 0.5,20 V 24.5" fill="none" stroke="#7480c4" stroke-width="1"/>
<rect x="1211.6" y="2404" width="18.15" height="16" rx="4" fill="#b0b6dd"/>
<path transform="translate(995.3,2466)" d="M 0,8 A 8,8 0 0,1 8,0 H 178.35 H 178.35 v 5 c 0,10 -8,-8 -8,7.5 s 8,-2.5 8,7.5 v 5 H 8 a 8,8 0 0,1 -8,-8 z" fill="#c34118"/>
<path transform="translate(994.3,2465)" d="M 0,8 A 8,8 0 0,1 8,0 H 178.35 H 178.35 v 5 c 0,10 -8,-8 -8,7.5 s 8,-2.5 8,7.5 v 5 H 8 a 8,8 0 0,1 -8,-8 z" fill="#F4511E"/>
<path transform="translate(994.3,2465)" d="M 0.5,8 A 7.5,7.5 0 0,1 8,0.5 H 177.85 M 0.5,8 V 17" fill="none" stroke="#f78562" stroke-width="1"/>
<rect x="1104.62" y="2469.7" width="32.81" height="16.6" rx="5" fill="#dc8b6c" stroke="#eba98a" stroke-width="1"/>
<path transform="translate(1174.65,2466)" d="M 0,0 H 153.7 H 153.7 v 25 H 0 V 20 c 0,-10 -8,8 -8,-7.5 s 8,2.5 8,-7.5 z" fill="#027cb7"/>
<path transform="translate(1173.65,2465)" d="M 0,0 H 153.7 H 153.7 v 25 H 0 V 20 c 0,-10 -8,8 -8,-7.5 s 8,2.5 8,-7.5 z" fill="#039BE5"/>
<path transform="translate(1173.65,2465)" d="M 0.5,0.5 H 153.2 M 0.5,24.5 M 0.5,20 V 24.5" fill="none" stroke="#4fb9ed" stroke-width="1"/>
<rect x="1183.25" y="2469.6" width="16.4" height="16.6" rx="4" fill="#0135f6" stroke="#74c8f1" stroke-width="1.2"/>
<path d="M 1189.65,2474.81 L 1190.32,2472.74 L 1192.79,2472.74 L 1193.45,2474.81 L 1193.45,2474.81 L 1195.58,2474.35 L 1196.81,2476.49 L 1195.35,2478.1 L 1195.35,2478.1 L 1196.81,2479.71 L 1195.58,2481.85 L 1193.45,2481.39 L 1193.45,2481.39 L 1192.79,2483.46 L 1190.32,2483.46 L 1189.65,2481.39 L 1189.65,2481.39 L 1187.53,2481.85 L 1186.29,2479.71 L 1187.75,2478.1 L 1187.75,2478.1 L 1186.29,2476.49 L 1187.53,2474.35 L 1189.65,2474.81 Z M 1189.65,2478.1 a 1.9,1.9 0 1,0 3.8,0 a 1.9,1.9 0 1,0 -3.8,0 Z" fill="#b8e3f8" fill-rule="evenodd"/>
<path transform="translate(995.3,2519)" d="M 0,8 A 8,8 0 0,1 8,0 H 201.98 H 201.98 v 5 c 0,10 -8,-8 -8,7.5 s 8,-2.5 8,7.5 v 5 H 8 a 8,8 0 0,1 -8,-8 z" fill="#c34118"/>
<path transform="translate(994.3,2518)" d="M 0,8 A 8,8 0 0,1 8,0 H 201.98 H 201.98 v 5 c 0,10 -8,-8 -8,7.5 s 8,-2.5 8,7.5 v 5 H 8 a 8,8 0 0,1 -8,-8 z" fill="#F4511E"/>
<path transform="translate(994.3,2518)" d="M 0.5,8 A 7.5,7.5 0 0,1 8,0.5 H 201.48 M 0.5,8 V 17" fill="none" stroke="#f78562" stroke-width="1"/>
<rect x="1104.62" y="2522.7" width="56.44" height="16.6" rx="5" fill="#dc8b6c" stroke="#eba98a" stroke-width="1"/>
<path transform="translate(1198.28,2519)" d="M 0,0 H 153.7 H 153.7 v 25 H 0 V 20 c 0,-10 -8,8 -8,-7.5 s 8,2.5 8,-7.5 z" fill="#027cb7"/>
<path transform="translate(1197.28,2518)" d="M 0,0 H 153.7 H 153.7 v 25 H 0 V 20 c 0,-10 -8,8 -8,-7.5 s 8,2.5 8,-7.5 z" fill="#039BE5"/>
<path transform="translate(1197.28,2518)" d="M 0.5,0.5 H 153.2 M 0.5,24.5 M 0.5,20 V 24.5" fill="none" stroke="#4fb9ed" stroke-width="1"/>
<rect x="1206.88" y="2522.6" width="16.4" height="16.6" rx="4" fill="#0135f6" stroke="#74c8f1" stroke-width="1.2"/>
<path d="M 1213.28,2527.81 L 1213.95,2525.74 L 1216.42,2525.74 L 1217.08,2527.81 L 1217.08,2527.81 L 1219.21,2527.35 L 1220.44,2529.49 L 1218.98,2531.1 L 1218.98,2531.1 L 1220.44,2532.71 L 1219.21,2534.85 L 1217.08,2534.39 L 1217.08,2534.39 L 1216.42,2536.46 L 1213.95,2536.46 L 1213.28,2534.39 L 1213.28,2534.39 L 1211.16,2534.85 L 1209.92,2532.71 L 1211.38,2531.1 L 1211.38,2531.1 L 1209.92,2529.49 L 1211.16,2527.35 L 1213.28,2527.81 Z M 1213.28,2531.1 a 1.9,1.9 0 1,0 3.8,0 a 1.9,1.9 0 1,0 -3.8,0 Z" fill="#b8e3f8" fill-rule="evenodd"/>
<path transform="translate(995.3,2572)" d="M 0,8 A 8,8 0 0,1 8,0 H 401.82 H 401.82 v 25 H 401.82 v 25 H 66.3 l -6,4 -3,0 -6,-4 h -7 a 8,8 0 0,0 -8,8 v 822 a 8,8 0 0,0 8,8 H 401.82 v 10 H 8 a 8,8 0 0,1 -8,-8 z" fill="#cc861e"/>
<path transform="translate(994.3,2571)" d="M 0,8 A 8,8 0 0,1 8,0 H 401.82 H 401.82 v 25 H 401.82 v 25 H 66.3 l -6,4 -3,0 -6,-4 h -7 a 8,8 0 0,0 -8,8 v 822 a 8,8 0 0,0 8,8 H 401.82 v 10 H 8 a 8,8 0 0,1 -8,-8 z" fill="#FFA726"/>
<path transform="translate(994.3,2571)" d="M 0.5,8 A 7.5,7.5 0 0,1 8,0.5 H 401.32 M 0.5,8 V 890" fill="none" stroke="#ffc167" stroke-width="1"/>
<rect x="1048.41" y="2576" width="117.27" height="16" rx="4" fill="#ffdca8"/>
<path d="M 1153.37,2582 h 5 l -2.5,4 z" fill="#FFA726"/>
<rect x="1014.05" y="2600.7" width="109.9" height="16.6" rx="5" fill="#dc8b6c" stroke="#eba98a" stroke-width="1"/>
<rect x="1137.45" y="2600.7" width="52.87" height="16.6" rx="5" fill="#dc8b6c" stroke="#eba98a" stroke-width="1"/>
<rect x="1203.82" y="2600.7" width="57.74" height="16.6" rx="5" fill="#dc8b6c" stroke="#eba98a" stroke-width="1"/>
<rect x="1275.06" y="2600.7" width="102.81" height="16.6" rx="5" fill="#dc8b6c" stroke="#eba98a" stroke-width="1"/>
<path transform="translate(1032.6,2623)" d="M 0,8 A 8,8 0 0,1 8,0 H 15 l 6,4 3,0 6,-4 H 78.53 H 78.53 v 5 c 0,10 -8,-8 -8,7.5 s 8,-2.5 8,7.5 v 16 H 78.53 l -6,4 -3,0 -6,-4 h -7 a 8,8 0 0,0 -8,8 v 154 a 8,8 0 0,0 8,8 H 78.53 H 78.53 v 5 c 0,10 -8,-8 -8,7.5 s 8,-2.5 8,7.5 v 16 H 78.53 l -6,4 -3,0 -6,-4 h -7 a 8,8 0 0,0 -8,8 v 566 a 8,8 0 0,0 8,8 H 78.53 v 10 H 29.5 l -6,4 -3,0 -6,-4 H 8 a 8,8 0 0,1 -8,-8 z" fill="#cc8900"/>
<path transform="translate(1031.6,2622)" d="M 0,8 A 8,8 0 0,1 8,0 H 15 l 6,4 3,0 6,-4 H 78.53 H 78.53 v 5 c 0,10 -8,-8 -8,7.5 s 8,-2.5 8,7.5 v 16 H 78.53 l -6,4 -3,0 -6,-4 h -7 a 8,8 0 0,0 -8,8 v 154 a 8,8 0 0,0 8,8 H 78.53 H 78.53 v 5 c 0,10 -8,-8 -8,7.5 s 8,-2.5 8,7.5 v 16 H 78.53 l -6,4 -3,0 -6,-4 h -7 a 8,8 0 0,0 -8,8 v 566 a 8,8 0 0,0 8,8 H 78.53 v 10 H 29.5 l -6,4 -3,0 -6,-4 H 8 a 8,8 0 0,1 -8,-8 z" fill="#FFAB00"/>
<path transform="translate(1031.6,2622)" d="M 0.5,8 A 7.5,7.5 0 0,1 8,0.5 H 15 l 6,4 3,0 6,-4 H 78.03 M 0.5,8 V 826" fill="none" stroke="#ffc44c" stroke-width="1"/>
<rect x="1041.2" y="2626.6" width="16.4" height="16.6" rx="4" fill="#573aa8" stroke="#ffd173" stroke-width="1.2"/>
<path d="M 1047.6,2631.81 L 1048.26,2629.74 L 1050.74,2629.74 L 1051.4,2631.81 L 1051.4,2631.81 L 1053.52,2631.35 L 1054.76,2633.49 L 1053.3,2635.1 L 1053.3,2635.1 L 1054.76,2636.71 L 1053.52,2638.85 L 1051.4,2638.39 L 1051.4,2638.39 L 1050.74,2640.46 L 1048.26,2640.46 L 1047.6,2638.39 L 1047.6,2638.39 L 1045.48,2638.85 L 1044.24,2636.71 L 1045.7,2635.1 L 1045.7,2635.1 L 1044.24,2633.49 L 1045.48,2631.35 L 1047.6,2631.81 Z M 1047.6,2635.1 a 1.9,1.9 0 1,0 3.8,0 a 1.9,1.9 0 1,0 -3.8,0 Z" fill="#ffe7b8" fill-rule="evenodd"/>
<path transform="translate(1112.13,2623)" d="M 0,0 H 20 H 262.28 v 36 H 0 V 20 c 0,-10 -8,8 -8,-7.5 s 8,2.5 8,-7.5 z" fill="#2e3a89"/>
<path transform="translate(1111.13,2622)" d="M 0,0 H 20 H 262.28 v 36 H 0 V 20 c 0,-10 -8,8 -8,-7.5 s 8,2.5 8,-7.5 z" fill="#3949AB"/>
<path transform="translate(1111.13,2622)" d="M 0.5,0.5 H 19.5 M 0.5,35.5 V 5.5 M 0.5,20 V 35.5" fill="none" stroke="#7480c4" stroke-width="1"/>
<path d="M 1127.13,2627 H 1282.69 V 2654 H 1127.13 V 2647 c 0,-10 -8,8 -8,-7.5 s 8,2.5 8,-7.5 z" fill="#7480c4"/>
<path d="M 1282.19,2628 V 2653.5 H 1127.13" fill="none" stroke="#7480c4" stroke-width="1"/>
<rect x="1287.69" y="2632" width="34.56" height="16" rx="4" fill="#b0b6dd"/>
<path d="M 1309.95,2638 h 5 l -2.5,4 z" fill="#3949AB"/>
<path d="M 1333.25,2627 H 1363.41 V 2654 H 1333.25 V 2647 c 0,-10 -8,8 -8,-7.5 s 8,2.5 8,-7.5 z" fill="#7480c4"/>
<path d="M 1362.91,2628 V 2653.5 H 1333.25" fill="none" stroke="#7480c4" stroke-width="1"/>
<path transform="translate(1129.13,2629)" d="M 0,0 H 153.57 H 153.57 v 25 H 0 V 20 c 0,-10 -8,8 -8,-7.5 s 8,2.5 8,-7.5 z" fill="#c34118"/>
<path transform="translate(1128.13,2628)" d="M 0,0 H 153.57 H 153.57 v 25 H 0 V 20 c 0,-10 -8,8 -8,-7.5 s 8,2.5 8,-7.5 z" fill="#F4511E"/>
<path transform="translate(1128.13,2628)" d="M 0.5,0.5 H 153.07 M 0.5,24.5 M 0.5,20 V 24.5" fill="none" stroke="#f78562" stroke-width="1"/>
<rect x="1163.5" y="2633" width="113.19" height="16" rx="4" fill="#fbb9a5"/>
<path d="M 1264.39,2639 h 5 l -2.5,4 z" fill="#F4511E"/>
<path transform="translate(1335.25,2629)" d="M 0,0 H 28.15 H 28.15 v 25 H 0 V 20 c 0,-10 -8,8 -8,-7.5 s 8,2.5 8,-7.5 z" fill="#2e3a89"/>
<path transform="translate(1334.25,2628)" d="M 0,0 H 28.15 H 28.15 v 25 H 0 V 20 c 0,-10 -8,8 -8,-7.5 s 8,2.5 8,-7.5 z" fill="#3949AB"/>
<path transform="translate(1334.25,2628)" d="M 0.5,0.5 H 27.65 M 0.5,24.5 M 0.5,20 V 24.5" fill="none" stroke="#7480c4" stroke-width="1"/>
<rect x="1339.25" y="2633" width="18.15" height="16" rx="4" fill="#b0b6dd"/>
<path transform="translate(1082.13,2660)" d="M 0,8 A 8,8 0 0,1 8,0 H 15 l 6,4 3,0 6,-4 H 161.77 H 161.77 v 5 c 0,10 -8,-8 -8,7.5 s 8,-2.5 8,7.5 v 5 H 29.5 l -6,4 -3,0 -6,-4 H 0 z" fill="#c34118"/>
<path transform="translate(1081.13,2659)" d="M 0,8 A 8,8 0 0,1 8,0 H 15 l 6,4 3,0 6,-4 H 161.77 H 161.77 v 5 c 0,10 -8,-8 -8,7.5 s 8,-2.5 8,7.5 v 5 H 29.5 l -6,4 -3,0 -6,-4 H 0 z" fill="#F4511E"/>
<path transform="translate(1081.13,2659)" d="M 0.5,8 A 7.5,7.5 0 0,1 8,0.5 H 15 l 6,4 3,0 6,-4 H 161.27 M 0.5,8 V 24.5" fill="none" stroke="#f78562" stroke-width="1"/>
<rect x="1115.68" y="2664" width="92" height="16" rx="4" fill="#fbb9a5"/>
<path d="M 1195.37,2670 h 5 l -2.5,4 z" fill="#F4511E"/>
<path transform="translate(1244.9,2660)" d="M 0,0 H 153.7 H 153.7 v 25 H 0 V 20 c 0,-10 -8,8 -8,-7.5 s 8,2.5 8,-7.5 z" fill="#027cb7"/>
<path transform="translate(1243.9,2659)" d="M 0,0 H 153.7 H 153.7 v 25 H 0 V 20 c 0,-10 -8,8 -8,-7.5 s 8,2.5 8,-7.5 z" fill="#039BE5"/>
<path transform="translate(1243.9,2659)" d="M 0.5,0.5 H 153.2 M 0.5,24.5 M 0.5,20 V 24.5" fill="none" stroke="#4fb9ed" stroke-width="1"/>
<rect x="1253.5" y="2663.6" width="16.4" height="16.6" rx="4" fill="#0135f6" stroke="#74c8f1" stroke-width="1.2"/>
<path d="M 1259.9,2668.81 L 1260.56,2666.74 L 1263.04,2666.74 L 1263.7,2668.81 L 1263.7,2668.81 L 1265.82,2668.35 L 1267.06,2670.49 L 1265.6,2672.1 L 1265.6,2672.1 L 1267.06,2673.71 L 1265.82,2675.85 L 1263.7,2675.39 L 1263.7,2675.39 L 1263.04,2677.46 L 1260.56,2677.46 L 1259.9,2675.39 L 1259.9,2675.39 L 1257.78,2675.85 L 1256.54,2673.71 L 1258,2672.1 L 1258,2672.1 L 1256.54,2670.49 L 1257.78,2668.35 L 1259.9,2668.81 Z M 1259.9,2672.1 a 1.9,1.9 0 1,0 3.8,0 a 1.9,1.9 0 1,0 -3.8,0 Z" fill="#b8e3f8" fill-rule="evenodd"/>
<path transform="translate(1082.13,2686)" d="M 0,0 H 15 l 6,4 3,0 6,-4 H 161.77 H 161.77 v 5 c 0,10 -8,-8 -8,7.5 s 8,-2.5 8,7.5 v 5 H 29.5 l -6,4 -3,0 -6,-4 H 0 z" fill="#c34118"/>
<path transform="translate(1081.13,2685)" d="M 0,0 H 15 l 6,4 3,0 6,-4 H 161.77 H 161.77 v 5 c 0,10 -8,-8 -8,7.5 s 8,-2.5 8,7.5 v 5 H 29.5 l -6,4 -3,0 -6,-4 H 0 z" fill="#F4511E"/>
<path transform="translate(1081.13,2685)" d="M 0.5,0.5 H 15 l 6,4 3,0 6,-4 H 161.27 M 0.5,8 V 24.5" fill="none" stroke="#f78562" stroke-width="1"/>
<rect x="1115.68" y="2690" width="92" height="16" rx="4" fill="#fbb9a5"/>
<path d="M 1195.37,2696 h 5 l -2.5,4 z" fill="#F4511E"/>
<path transform="translate(1244.9,2686)" d="M 0,0 H 108.74 H 108.74 v 25 H 0 V 20 c 0,-10 -8,8 -8,-7.5 s 8,2.5 8,-7.5 z" fill="#c34118"/>
<path transform="translate(1243.9,2685)" d="M 0,0 H 108.74 H 108.74 v 25 H 0 V 20 c 0,-10 -8,8 -8,-7.5 s 8,2.5 8,-7.5 z" fill="#F4511E"/>
<path transform="translate(1243.9,2685)" d="M 0.5,0.5 H 108.24 M 0.5,24.5 M 0.5,20 V 24.5" fill="none" stroke="#f78562" stroke-width="1"/>
<rect x="1279.27" y="2690" width="68.37" height="16" rx="4" fill="#fbb9a5"/>
<path d="M 1335.34,2696 h 5 l -2.5,4 z" fill="#F4511E"/>
<path transform="translate(1082.13,2712)" d="M 0,0 H 15 l 6,4 3,0 6,-4 H 263.6 H 263.6 v 25 H 263.6 v 5 c 0,10 -8,-8 -8,7.5 s 8,-2.5 8,7.5 v 6 H 263.6 v 5 c 0,10 -8,-8 -8,7.5 s 8,-2.5 8,7.5 v 16 H 29.5 l -6,4 -3,0 -6,-4 H 0 z" fill="#4b2a8e"/>
<path transform="translate(1081.13,2711)" d="M 0,0 H 15 l 6,4 3,0 6,-4 H 263.6 H 263.6 v 25 H 263.6 v 5 c 0,10 -8,-8 -8,7.5 s 8,-2.5 8,7.5 v 6 H 263.6 v 5 c 0,10 -8,-8 -8,7.5 s 8,-2.5 8,7.5 v 16 H 29.5 l -6,4 -3,0 -6,-4 H 0 z" fill="#5E35B1"/>
<path transform="translate(1081.13,2711)" d="M 0.5,0.5 H 15 l 6,4 3,0 6,-4 H 263.1 M 0.5,8 V 86.5" fill="none" stroke="#8e72c8" stroke-width="1"/>
<rect x="1122.19" y="2716" width="117.27" height="16" rx="4" fill="#bfaee0"/>
<path d="M 1227.16,2722 h 5 l -2.5,4 z" fill="#5E35B1"/>
<path transform="translate(1346.73,2737)" d="M 0,0 H 96.2 H 96.2 v 25 H 0 V 20 c 0,-10 -8,8 -8,-7.5 s 8,2.5 8,-7.5 z" fill="#ad164d"/>
<path transform="translate(1345.73,2736)" d="M 0,0 H 96.2 H 96.2 v 25 H 0 V 20 c 0,-10 -8,8 -8,-7.5 s 8,2.5 8,-7.5 z" fill="#D81B60"/>
<path transform="translate(1345.73,2736)" d="M 0.5,0.5 H 95.7 M 0.5,24.5 M 0.5,20 V 24.5" fill="none" stroke="#e45f90" stroke-width="1"/>
<rect x="1365.61" y="2741" width="56.44" height="16" rx="4" fill="#efa4bf"/>
<path transform="translate(1346.73,2763)" d="M 0,0 H 47 H 321.33 v 36 H 0 V 20 c 0,-10 -8,8 -8,-7.5 s 8,2.5 8,-7.5 z" fill="#2e3a89"/>
<path transform="translate(1345.73,2762)" d="M 0,0 H 47 H 321.33 v 36 H 0 V 20 c 0,-10 -8,8 -8,-7.5 s 8,2.5 8,-7.5 z" fill="#3949AB"/>
<path transform="translate(1345.73,2762)" d="M 0.5,0.5 H 46.5 M 0.5,35.5 V 5.5 M 0.5,20 V 35.5" fill="none" stroke="#7480c4" stroke-width="1"/>
<rect x="1355.33" y="2766.6" width="16.4" height="16.6" rx="4" fill="#1319e2" stroke="#929bd1" stroke-width="1.2"/>
<path d="M 1361.73,2771.81 L 1362.39,2769.74 L 1364.86,2769.74 L 1365.53,2771.81 L 1365.53,2771.81 L 1367.65,2771.35 L 1368.89,2773.49 L 1367.43,2775.1 L 1367.43,2775.1 L 1368.89,2776.71 L 1367.65,2778.85 L 1365.53,2778.39 L 1365.53,2778.39 L 1364.86,2780.46 L 1362.39,2780.46 L 1361.73,2778.39 L 1361.73,2778.39 L 1359.6,2778.85 L 1358.37,2776.71 L 1359.83,2775.1 L 1359.83,2775.1 L 1358.37,2773.49 L 1359.6,2771.35 L 1361.73,2771.81 Z M 1361.73,2775.1 a 1.9,1.9 0 1,0 3.8,0 a 1.9,1.9 0 1,0 -3.8,0 Z" fill="#c8cce7" fill-rule="evenodd"/>
<path d="M 1388.73,2767 H 1584.2 V 2794 H 1388.73 V 2787 c 0,-10 -8,8 -8,-7.5 s 8,2.5 8,-7.5 z" fill="#7480c4"/>
<path d="M 1583.7,2768 V 2793.5 H 1388.73" fill="none" stroke="#7480c4" stroke-width="1"/>
<path d="M 1618.76,2767 H 1657.06 V 2794 H 1618.76 V 2787 c 0,-10 -8,8 -8,-7.5 s 8,2.5 8,-7.5 z" fill="#7480c4"/>
<path d="M 1656.56,2768 V 2793.5 H 1618.76" fill="none" stroke="#7480c4" stroke-width="1"/>
<path transform="translate(1390.73,2769)" d="M 0,0 H 193.47 H 193.47 v 25 H 0 V 20 c 0,-10 -8,8 -8,-7.5 s 8,2.5 8,-7.5 z" fill="#c34118"/>
<path transform="translate(1389.73,2768)" d="M 0,0 H 193.47 H 193.47 v 25 H 0 V 20 c 0,-10 -8,8 -8,-7.5 s 8,2.5 8,-7.5 z" fill="#F4511E"/>
<path transform="translate(1389.73,2768)" d="M 0.5,0.5 H 192.97 M 0.5,24.5 M 0.5,20 V 24.5" fill="none" stroke="#f78562" stroke-width="1"/>
<rect x="1425.1" y="2773" width="153.1" height="16" rx="4" fill="#fbb9a5"/>
<path d="M 1565.9,2779 h 5 l -2.5,4 z" fill="#F4511E"/>
<path transform="translate(1620.76,2769)" d="M 0,0 H 36.3 H 36.3 v 25 H 0 V 20 c 0,-10 -8,8 -8,-7.5 s 8,2.5 8,-7.5 z" fill="#2e3a89"/>
<path transform="translate(1619.76,2768)" d="M 0,0 H 36.3 H 36.3 v 25 H 0 V 20 c 0,-10 -8,8 -8,-7.5 s 8,2.5 8,-7.5 z" fill="#3949AB"/>
<path transform="translate(1619.76,2768)" d="M 0.5,0.5 H 35.8 M 0.5,24.5 M 0.5,20 V 24.5" fill="none" stroke="#7480c4" stroke-width="1"/>
<rect x="1624.76" y="2773" width="26.3" height="16" rx="4" fill="#b0b6dd"/>
<path transform="translate(1082.13,2800)" d="M 0,0 H 15 l 6,4 3,0 6,-4 H 182.97 H 182.97 v 5 c 0,10 -8,-8 -8,7.5 s 8,-2.5 8,7.5 v 5 H 29.5 l -6,4 -3,0 -6,-4 H 8 a 8,8 0 0,1 -8,-8 z" fill="#c34118"/>
<path transform="translate(1081.13,2799)" d="M 0,0 H 15 l 6,4 3,0 6,-4 H 182.97 H 182.97 v 5 c 0,10 -8,-8 -8,7.5 s 8,-2.5 8,7.5 v 5 H 29.5 l -6,4 -3,0 -6,-4 H 8 a 8,8 0 0,1 -8,-8 z" fill="#F4511E"/>
<path transform="translate(1081.13,2799)" d="M 0.5,0.5 H 15 l 6,4 3,0 6,-4 H 182.47 M 0.5,8 V 17" fill="none" stroke="#f78562" stroke-width="1"/>
<rect x="1115.68" y="2804" width="113.19" height="16" rx="4" fill="#fbb9a5"/>
<path d="M 1216.57,2810 h 5 l -2.5,4 z" fill="#F4511E"/>
<path transform="translate(1266.1,2800)" d="M 0,0 H 28.15 H 28.15 v 25 H 0 V 20 c 0,-10 -8,8 -8,-7.5 s 8,2.5 8,-7.5 z" fill="#2e3a89"/>
<path transform="translate(1265.1,2799)" d="M 0,0 H 28.15 H 28.15 v 25 H 0 V 20 c 0,-10 -8,8 -8,-7.5 s 8,2.5 8,-7.5 z" fill="#3949AB"/>
<path transform="translate(1265.1,2799)" d="M 0.5,0.5 H 27.65 M 0.5,24.5 M 0.5,20 V 24.5" fill="none" stroke="#7480c4" stroke-width="1"/>
<rect x="1270.1" y="2804" width="18.15" height="16" rx="4" fill="#b0b6dd"/>
<path transform="translate(1112.13,2829)" d="M 0,0 H 20 H 262.28 v 36 H 0 V 20 c 0,-10 -8,8 -8,-7.5 s 8,2.5 8,-7.5 z" fill="#2e3a89"/>
<path transform="translate(1111.13,2828)" d="M 0,0 H 20 H 262.28 v 36 H 0 V 20 c 0,-10 -8,8 -8,-7.5 s 8,2.5 8,-7.5 z" fill="#3949AB"/>
<path transform="translate(1111.13,2828)" d="M 0.5,0.5 H 19.5 M 0.5,35.5 V 5.5 M 0.5,20 V 35.5" fill="none" stroke="#7480c4" stroke-width="1"/>
<path d="M 1127.13,2833 H 1282.69 V 2860 H 1127.13 V 2853 c 0,-10 -8,8 -8,-7.5 s 8,2.5 8,-7.5 z" fill="#7480c4"/>
<path d="M 1282.19,2834 V 2859.5 H 1127.13" fill="none" stroke="#7480c4" stroke-width="1"/>
<rect x="1287.69" y="2838" width="34.56" height="16" rx="4" fill="#b0b6dd"/>
<path d="M 1309.95,2844 h 5 l -2.5,4 z" fill="#3949AB"/>
<path d="M 1333.25,2833 H 1363.41 V 2860 H 1333.25 V 2853 c 0,-10 -8,8 -8,-7.5 s 8,2.5 8,-7.5 z" fill="#7480c4"/>
<path d="M 1362.91,2834 V 2859.5 H 1333.25" fill="none" stroke="#7480c4" stroke-width="1"/>
<path transform="translate(1129.13,2835)" d="M 0,0 H 153.57 H 153.57 v 25 H 0 V 20 c 0,-10 -8,8 -8,-7.5 s 8,2.5 8,-7.5 z" fill="#c34118"/>
<path transform="translate(1128.13,2834)" d="M 0,0 H 153.57 H 153.57 v 25 H 0 V 20 c 0,-10 -8,8 -8,-7.5 s 8,2.5 8,-7.5 z" fill="#F4511E"/>
<path transform="translate(1128.13,2834)" d="M 0.5,0.5 H 153.07 M 0.5,24.5 M 0.5,20 V 24.5" fill="none" stroke="#f78562" stroke-width="1"/>
<rect x="1163.5" y="2839" width="113.19" height="16" rx="4" fill="#fbb9a5"/>
<path d="M 1264.39,2845 h 5 l -2.5,4 z" fill="#F4511E"/>
<path transform="translate(1335.25,2835)" d="M 0,0 H 28.15 H 28.15 v 25 H 0 V 20 c 0,-10 -8,8 -8,-7.5 s 8,2.5 8,-7.5 z" fill="#2e3a89"/>
<path transform="translate(1334.25,2834)" d="M 0,0 H 28.15 H 28.15 v 25 H 0 V 20 c 0,-10 -8,8 -8,-7.5 s 8,2.5 8,-7.5 z" fill="#3949AB"/>
<path transform="translate(1334.25,2834)" d="M 0.5,0.5 H 27.65 M 0.5,24.5 M 0.5,20 V 24.5" fill="none" stroke="#7480c4" stroke-width="1"/>
<rect x="1339.25" y="2839" width="18.15" height="16" rx="4" fill="#b0b6dd"/>
<path transform="translate(1082.13,2866)" d="M 0,8 A 8,8 0 0,1 8,0 H 15 l 6,4 3,0 6,-4 H 185.4 H 185.4 v 5 c 0,10 -8,-8 -8,7.5 s 8,-2.5 8,7.5 v 5 H 29.5 l -6,4 -3,0 -6,-4 H 0 z" fill="#c34118"/>
<path transform="translate(1081.13,2865)" d="M 0,8 A 8,8 0 0,1 8,0 H 15 l 6,4 3,0 6,-4 H 185.4 H 185.4 v 5 c 0,10 -8,-8 -8,7.5 s 8,-2.5 8,7.5 v 5 H 29.5 l -6,4 -3,0 -6,-4 H 0 z" fill="#F4511E"/>
<path transform="translate(1081.13,2865)" d="M 0.5,8 A 7.5,7.5 0 0,1 8,0.5 H 15 l 6,4 3,0 6,-4 H 184.9 M 0.5,8 V 24.5" fill="none" stroke="#f78562" stroke-width="1"/>
<rect x="1115.68" y="2870" width="115.63" height="16" rx="4" fill="#fbb9a5"/>
<path d="M 1219.01,2876 h 5 l -2.5,4 z" fill="#F4511E"/>
<path transform="translate(1268.53,2866)" d="M 0,0 H 153.7 H 153.7 v 25 H 0 V 20 c 0,-10 -8,8 -8,-7.5 s 8,2.5 8,-7.5 z" fill="#027cb7"/>
<path transform="translate(1267.53,2865)" d="M 0,0 H 153.7 H 153.7 v 25 H 0 V 20 c 0,-10 -8,8 -8,-7.5 s 8,2.5 8,-7.5 z" fill="#039BE5"/>
<path transform="translate(1267.53,2865)" d="M 0.5,0.5 H 153.2 M 0.5,24.5 M 0.5,20 V 24.5" fill="none" stroke="#4fb9ed" stroke-width="1"/>
<rect x="1277.13" y="2869.6" width="16.4" height="16.6" rx="4" fill="#0135f6" stroke="#74c8f1" stroke-width="1.2"/>
<path d="M 1283.53,2874.81 L 1284.19,2872.74 L 1286.67,2872.74 L 1287.33,2874.81 L 1287.33,2874.81 L 1289.45,2874.35 L 1290.69,2876.49 L 1289.23,2878.1 L 1289.23,2878.1 L 1290.69,2879.71 L 1289.45,2881.85 L 1287.33,2881.39 L 1287.33,2881.39 L 1286.67,2883.46 L 1284.19,2883.46 L 1283.53,2881.39 L 1283.53,2881.39 L 1281.41,2881.85 L 1280.17,2879.71 L 1281.63,2878.1 L 1281.63,2878.1 L 1280.17,2876.49 L 1281.41,2874.35 L 1283.53,2874.81 Z M 1283.53,2878.1 a 1.9,1.9 0 1,0 3.8,0 a 1.9,1.9 0 1,0 -3.8,0 Z" fill="#b8e3f8" fill-rule="evenodd"/>
<path transform="translate(1082.13,2892)" d="M 0,0 H 15 l 6,4 3,0 6,-4 H 185.4 H 185.4 v 5 c 0,10 -8,-8 -8,7.5 s 8,-2.5 8,7.5 v 5 H 29.5 l -6,4 -3,0 -6,-4 H 0 z" fill="#c34118"/>
<path transform="translate(1081.13,2891)" d="M 0,0 H 15 l 6,4 3,0 6,-4 H 185.4 H 185.4 v 5 c 0,10 -8,-8 -8,7.5 s 8,-2.5 8,7.5 v 5 H 29.5 l -6,4 -3,0 -6,-4 H 0 z" fill="#F4511E"/>
<path transform="translate(1081.13,2891)" d="M 0.5,0.5 H 15 l 6,4 3,0 6,-4 H 184.9 M 0.5,8 V 24.5" fill="none" stroke="#f78562" stroke-width="1"/>
<rect x="1115.68" y="2896" width="115.63" height="16" rx="4" fill="#fbb9a5"/>
<path d="M 1219.01,2902 h 5 l -2.5,4 z" fill="#F4511E"/>
<path transform="translate(1268.53,2892)" d="M 0,0 H 108.74 H 108.74 v 25 H 0 V 20 c 0,-10 -8,8 -8,-7.5 s 8,2.5 8,-7.5 z" fill="#c34118"/>
<path transform="translate(1267.53,2891)" d="M 0,0 H 108.74 H 108.74 v 25 H 0 V 20 c 0,-10 -8,8 -8,-7.5 s 8,2.5 8,-7.5 z" fill="#F4511E"/>
<path transform="translate(1267.53,2891)" d="M 0.5,0.5 H 108.24 M 0.5,24.5 M 0.5,20 V 24.5" fill="none" stroke="#f78562" stroke-width="1"/>
<rect x="1302.9" y="2896" width="68.37" height="16" rx="4" fill="#fbb9a5"/>
<path d="M 1358.97,2902 h 5 l -2.5,4 z" fill="#F4511E"/>
<path transform="translate(1082.13,2918)" d="M 0,0 H 15 l 6,4 3,0 6,-4 H 182.97 H 182.97 v 5 c 0,10 -8,-8 -8,7.5 s 8,-2.5 8,7.5 v 5 H 29.5 l -6,4 -3,0 -6,-4 H 0 z" fill="#c34118"/>
<path transform="translate(1081.13,2917)" d="M 0,0 H 15 l 6,4 3,0 6,-4 H 182.97 H 182.97 v 5 c 0,10 -8,-8 -8,7.5 s 8,-2.5 8,7.5 v 5 H 29.5 l -6,4 -3,0 -6,-4 H 0 z" fill="#F4511E"/>
<path transform="translate(1081.13,2917)" d="M 0.5,0.5 H 15 l 6,4 3,0 6,-4 H 182.47 M 0.5,8 V 24.5" fill="none" stroke="#f78562" stroke-width="1"/>
<rect x="1115.68" y="2922" width="113.19" height="16" rx="4" fill="#fbb9a5"/>
<path d="M 1216.57,2928 h 5 l -2.5,4 z" fill="#F4511E"/>
<path transform="translate(1266.1,2918)" d="M 0,0 H 28.15 H 28.15 v 25 H 0 V 20 c 0,-10 -8,8 -8,-7.5 s 8,2.5 8,-7.5 z" fill="#2e3a89"/>
<path transform="translate(1265.1,2917)" d="M 0,0 H 28.15 H 28.15 v 25 H 0 V 20 c 0,-10 -8,8 -8,-7.5 s 8,2.5 8,-7.5 z" fill="#3949AB"/>
<path transform="translate(1265.1,2917)" d="M 0.5,0.5 H 27.65 M 0.5,24.5 M 0.5,20 V 24.5" fill="none" stroke="#7480c4" stroke-width="1"/>
<rect x="1270.1" y="2922" width="18.15" height="16" rx="4" fill="#b0b6dd"/>
<path transform="translate(1082.13,2944)" d="M 0,0 H 15 l 6,4 3,0 6,-4 H 222.87 H 222.87 v 5 c 0,10 -8,-8 -8,7.5 s 8,-2.5 8,7.5 v 16 H 29.5 l -6,4 -3,0 -6,-4 H 0 z" fill="#c34118"/>
<path transform="translate(1081.13,2943)" d="M 0,0 H 15 l 6,4 3,0 6,-4 H 222.87 H 222.87 v 5 c 0,10 -8,-8 -8,7.5 s 8,-2.5 8,7.5 v 16 H 29.5 l -6,4 -3,0 -6,-4 H 0 z" fill="#F4511E"/>
<path transform="translate(1081.13,2943)" d="M 0.5,0.5 H 15 l 6,4 3,0 6,-4 H 222.37 M 0.5,8 V 35.5" fill="none" stroke="#f78562" stroke-width="1"/>
<rect x="1115.68" y="2948" width="153.1" height="16" rx="4" fill="#fbb9a5"/>
<path d="M 1256.48,2954 h 5 l -2.5,4 z" fill="#F4511E"/>
<path transform="translate(1306,2944)" d="M 0,0 H 47 H 321.33 v 36 H 0 V 20 c 0,-10 -8,8 -8,-7.5 s 8,2.5 8,-7.5 z" fill="#2e3a89"/>
<path transform="translate(1305,2943)" d="M 0,0 H 47 H 321.33 v 36 H 0 V 20 c 0,-10 -8,8 -8,-7.5 s 8,2.5 8,-7.5 z" fill="#3949AB"/>
<path transform="translate(1305,2943)" d="M 0.5,0.5 H 46.5 M 0.5,35.5 V 5.5 M 0.5,20 V 35.5" fill="none" stroke="#7480c4" stroke-width="1"/>
<rect x="1314.6" y="2947.6" width="16.4" height="16.6" rx="4" fill="#1319e2" stroke="#929bd1" stroke-width="1.2"/>
<path d="M 1321,2952.81 L 1321.66,2950.74 L 1324.14,2950.74 L 1324.8,2952.81 L 1324.8,2952.81 L 1326.92,2952.35 L 1328.16,2954.49 L 1326.7,2956.1 L 1326.7,2956.1 L 1328.16,2957.71 L 1326.92,2959.85 L 1324.8,2959.39 L 1324.8,2959.39 L 1324.14,2961.46 L 1321.66,2961.46 L 1321,2959.39 L 1321,2959.39 L 1318.88,2959.85 L 1317.64,2957.71 L 1319.1,2956.1 L 1319.1,2956.1 L 1317.64,2954.49 L 1318.88,2952.35 L 1321,2952.81 Z M 1321,2956.1 a 1.9,1.9 0 1,0 3.8,0 a 1.9,1.9 0 1,0 -3.8,0 Z" fill="#c8cce7" fill-rule="evenodd"/>
<path d="M 1348,2948 H 1543.47 V 2975 H 1348 V 2968 c 0,-10 -8,8 -8,-7.5 s 8,2.5 8,-7.5 z" fill="#7480c4"/>
<path d="M 1542.97,2949 V 2974.5 H 1348" fill="none" stroke="#7480c4" stroke-width="1"/>
<path d="M 1578.03,2948 H 1616.33 V 2975 H 1578.03 V 2968 c 0,-10 -8,8 -8,-7.5 s 8,2.5 8,-7.5 z" fill="#7480c4"/>
<path d="M 1615.83,2949 V 2974.5 H 1578.03" fill="none" stroke="#7480c4" stroke-width="1"/>
<path transform="translate(1350,2950)" d="M 0,0 H 193.47 H 193.47 v 25 H 0 V 20 c 0,-10 -8,8 -8,-7.5 s 8,2.5 8,-7.5 z" fill="#c34118"/>
<path transform="translate(1349,2949)" d="M 0,0 H 193.47 H 193.47 v 25 H 0 V 20 c 0,-10 -8,8 -8,-7.5 s 8,2.5 8,-7.5 z" fill="#F4511E"/>
<path transform="translate(1349,2949)" d="M 0.5,0.5 H 192.97 M 0.5,24.5 M 0.5,20 V 24.5" fill="none" stroke="#f78562" stroke-width="1"/>
<rect x="1384.37" y="2954" width="153.1" height="16" rx="4" fill="#fbb9a5"/>
<path d="M 1525.17,2960 h 5 l -2.5,4 z" fill="#F4511E"/>
<path transform="translate(1580.03,2950)" d="M 0,0 H 36.3 H 36.3 v 25 H 0 V 20 c 0,-10 -8,8 -8,-7.5 s 8,2.5 8,-7.5 z" fill="#2e3a89"/>
<path transform="translate(1579.03,2949)" d="M 0,0 H 36.3 H 36.3 v 25 H 0 V 20 c 0,-10 -8,8 -8,-7.5 s 8,2.5 8,-7.5 z" fill="#3949AB"/>
<path transform="translate(1579.03,2949)" d="M 0.5,0.5 H 35.8 M 0.5,24.5 M 0.5,20 V 24.5" fill="none" stroke="#7480c4" stroke-width="1"/>
<rect x="1584.03" y="2954" width="26.3" height="16" rx="4" fill="#b0b6dd"/>
<path transform="translate(1082.13,2981)" d="M 0,0 H 15 l 6,4 3,0 6,-4 H 179.96 H 179.96 v 5 c 0,10 -8,-8 -8,7.5 s 8,-2.5 8,7.5 v 17 H 179.96 v 5 c 0,10 -8,-8 -8,7.5 s 8,-2.5 8,7.5 v 6 H 179.96 v 5 c 0,10 -8,-8 -8,7.5 s 8,-2.5 8,7.5 v 5 H 66.3 l -6,4 -3,0 -6,-4 h -7 a 8,8 0 0,0 -8,8 v 349 a 8,8 0 0,0 8,8 H 179.96 v 10 H 29.5 l -6,4 -3,0 -6,-4 H 8 a 8,8 0 0,1 -8,-8 z" fill="#cc8900"/>
<path transform="translate(1081.13,2980)" d="M 0,0 H 15 l 6,4 3,0 6,-4 H 179.96 H 179.96 v 5 c 0,10 -8,-8 -8,7.5 s 8,-2.5 8,7.5 v 17 H 179.96 v 5 c 0,10 -8,-8 -8,7.5 s 8,-2.5 8,7.5 v 6 H 179.96 v 5 c 0,10 -8,-8 -8,7.5 s 8,-2.5 8,7.5 v 5 H 66.3 l -6,4 -3,0 -6,-4 h -7 a 8,8 0 0,0 -8,8 v 349 a 8,8 0 0,0 8,8 H 179.96 v 10 H 29.5 l -6,4 -3,0 -6,-4 H 8 a 8,8 0 0,1 -8,-8 z" fill="#FFAB00"/>
<path transform="translate(1081.13,2980)" d="M 0.5,0.5 H 15 l 6,4 3,0 6,-4 H 179.46 M 0.5,8 V 455" fill="none" stroke="#ffc44c" stroke-width="1"/>
<rect x="1149.08" y="2984.7" width="59.69" height="16.6" rx="5" fill="#dc8b6c" stroke="#eba98a" stroke-width="1"/>
<path transform="translate(1263.09,2981)" d="M 0,0 H 20 H 282.5 v 36 H 0 V 20 c 0,-10 -8,8 -8,-7.5 s 8,2.5 8,-7.5 z" fill="#2e3a89"/>
<path transform="translate(1262.09,2980)" d="M 0,0 H 20 H 282.5 v 36 H 0 V 20 c 0,-10 -8,8 -8,-7.5 s 8,2.5 8,-7.5 z" fill="#3949AB"/>
<path transform="translate(1262.09,2980)" d="M 0.5,0.5 H 19.5 M 0.5,35.5 V 5.5 M 0.5,20 V 35.5" fill="none" stroke="#7480c4" stroke-width="1"/>
<path d="M 1278.09,2985 H 1473.56 V 3012 H 1278.09 V 3005 c 0,-10 -8,8 -8,-7.5 s 8,2.5 8,-7.5 z" fill="#7480c4"/>
<path d="M 1473.06,2986 V 3011.5 H 1278.09" fill="none" stroke="#7480c4" stroke-width="1"/>
<path d="M 1504.44,2985 H 1534.59 V 3012 H 1504.44 V 3005 c 0,-10 -8,8 -8,-7.5 s 8,2.5 8,-7.5 z" fill="#7480c4"/>
<path d="M 1534.09,2986 V 3011.5 H 1504.44" fill="none" stroke="#7480c4" stroke-width="1"/>
<path transform="translate(1280.09,2987)" d="M 0,0 H 193.47 H 193.47 v 25 H 0 V 20 c 0,-10 -8,8 -8,-7.5 s 8,2.5 8,-7.5 z" fill="#c34118"/>
<path transform="translate(1279.09,2986)" d="M 0,0 H 193.47 H 193.47 v 25 H 0 V 20 c 0,-10 -8,8 -8,-7.5 s 8,2.5 8,-7.5 z" fill="#F4511E"/>
<path transform="translate(1279.09,2986)" d="M 0.5,0.5 H 192.97 M 0.5,24.5 M 0.5,20 V 24.5" fill="none" stroke="#f78562" stroke-width="1"/>
<rect x="1314.47" y="2991" width="153.1" height="16" rx="4" fill="#fbb9a5"/>
<path d="M 1455.26,2997 h 5 l -2.5,4 z" fill="#F4511E"/>
<path transform="translate(1506.44,2987)" d="M 0,0 H 28.15 H 28.15 v 25 H 0 V 20 c 0,-10 -8,8 -8,-7.5 s 8,2.5 8,-7.5 z" fill="#2e3a89"/>
<path transform="translate(1505.44,2986)" d="M 0,0 H 28.15 H 28.15 v 25 H 0 V 20 c 0,-10 -8,8 -8,-7.5 s 8,2.5 8,-7.5 z" fill="#3949AB"/>
<path transform="translate(1505.44,2986)" d="M 0.5,0.5 H 27.65 M 0.5,24.5 M 0.5,20 V 24.5" fill="none" stroke="#7480c4" stroke-width="1"/>
<rect x="1510.44" y="2991" width="18.15" height="16" rx="4" fill="#b0b6dd"/>
<path transform="translate(1263.09,3018)" d="M 0,0 H 193.47 H 193.47 v 25 H 0 V 20 c 0,-10 -8,8 -8,-7.5 s 8,2.5 8,-7.5 z" fill="#c34118"/>
<path transform="translate(1262.09,3017)" d="M 0,0 H 193.47 H 193.47 v 25 H 0 V 20 c 0,-10 -8,8 -8,-7.5 s 8,2.5 8,-7.5 z" fill="#F4511E"/>
<path transform="translate(1262.09,3017)" d="M 0.5,0.5 H 192.97 M 0.5,24.5 M 0.5,20 V 24.5" fill="none" stroke="#f78562" stroke-width="1"/>
<rect x="1297.47" y="3022" width="153.1" height="16" rx="4" fill="#fbb9a5"/>
<path d="M 1438.26,3028 h 5 l -2.5,4 z" fill="#F4511E"/>
<path transform="translate(1263.09,3044)" d="M 0,0 H 28.15 H 28.15 v 25 H 0 V 20 c 0,-10 -8,8 -8,-7.5 s 8,2.5 8,-7.5 z" fill="#2e3a89"/>
<path transform="translate(1262.09,3043)" d="M 0,0 H 28.15 H 28.15 v 25 H 0 V 20 c 0,-10 -8,8 -8,-7.5 s 8,2.5 8,-7.5 z" fill="#3949AB"/>
<path transform="translate(1262.09,3043)" d="M 0.5,0.5 H 27.65 M 0.5,24.5 M 0.5,20 V 24.5" fill="none" stroke="#7480c4" stroke-width="1"/>
<rect x="1267.09" y="3048" width="18.15" height="16" rx="4" fill="#b0b6dd"/>
<path transform="translate(1119.43,3070)" d="M 0,8 A 8,8 0 0,1 8,0 H 15 l 6,4 3,0 6,-4 H 78.53 H 78.53 v 5 c 0,10 -8,-8 -8,7.5 s 8,-2.5 8,7.5 v 16 H 78.53 l -6,4 -3,0 -6,-4 h -7 a 8,8 0 0,0 -8,8 v 14 a 8,8 0 0,0 8,8 H 78.53 v 10 H 78.53 l -6,4 -3,0 -6,-4 h -7 a 8,8 0 0,0 -8,8 v 259 a 8,8 0 0,0 8,8 H 78.53 v 10 H 29.5 l -6,4 -3,0 -6,-4 H 8 a 8,8 0 0,1 -8,-8 z" fill="#cc8900"/>
<path transform="translate(1118.43,3069)" d="M 0,8 A 8,8 0 0,1 8,0 H 15 l 6,4 3,0 6,-4 H 78.53 H 78.53 v 5 c 0,10 -8,-8 -8,7.5 s 8,-2.5 8,7.5 v 16 H 78.53 l -6,4 -3,0 -6,-4 h -7 a 8,8 0 0,0 -8,8 v 14 a 8,8 0 0,0 8,8 H 78.53 v 10 H 78.53 l -6,4 -3,0 -6,-4 h -7 a 8,8 0 0,0 -8,8 v 259 a 8,8 0 0,0 8,8 H 78.53 v 10 H 29.5 l -6,4 -3,0 -6,-4 H 8 a 8,8 0 0,1 -8,-8 z" fill="#FFAB00"/>
<path transform="translate(1118.43,3069)" d="M 0.5,8 A 7.5,7.5 0 0,1 8,0.5 H 15 l 6,4 3,0 6,-4 H 78.03 M 0.5,8 V 353" fill="none" stroke="#ffc44c" stroke-width="1"/>
<rect x="1128.03" y="3073.6" width="16.4" height="16.6" rx="4" fill="#573aa8" stroke="#ffd173" stroke-width="1.2"/>
<path d="M 1134.43,3078.81 L 1135.09,3076.74 L 1137.57,3076.74 L 1138.23,3078.81 L 1138.23,3078.81 L 1140.35,3078.35 L 1141.59,3080.49 L 1140.13,3082.1 L 1140.13,3082.1 L 1141.59,3083.71 L 1140.35,3085.85 L 1138.23,3085.39 L 1138.23,3085.39 L 1137.57,3087.46 L 1135.09,3087.46 L 1134.43,3085.39 L 1134.43,3085.39 L 1132.31,3085.85 L 1131.07,3083.71 L 1132.53,3082.1 L 1132.53,3082.1 L 1131.07,3080.49 L 1132.31,3078.35 L 1134.43,3078.81 Z M 1134.43,3082.1 a 1.9,1.9 0 1,0 3.8,0 a 1.9,1.9 0 1,0 -3.8,0 Z" fill="#ffe7b8" fill-rule="evenodd"/>
<path transform="translate(1198.96,3070)" d="M 0,0 H 20 H 464.12 v 36 H 0 V 20 c 0,-10 -8,8 -8,-7.5 s 8,2.5 8,-7.5 z" fill="#2e3a89"/>
<path transform="translate(1197.96,3069)" d="M 0,0 H 20 H 464.12 v 36 H 0 V 20 c 0,-10 -8,8 -8,-7.5 s 8,2.5 8,-7.5 z" fill="#3949AB"/>
<path transform="translate(1197.96,3069)" d="M 0.5,0.5 H 19.5 M 0.5,35.5 V 5.5 M 0.5,20 V 35.5" fill="none" stroke="#7480c4" stroke-width="1"/>
<path d="M 1213.96,3074 H 1332.02 V 3101 H 1213.96 V 3094 c 0,-10 -8,8 -8,-7.5 s 8,2.5 8,-7.5 z" fill="#7480c4"/>
<path d="M 1331.52,3075 V 3100.5 H 1213.96" fill="none" stroke="#7480c4" stroke-width="1"/>
<rect x="1337.02" y="3079" width="34.56" height="16" rx="4" fill="#b0b6dd"/>
<path d="M 1359.28,3085 h 5 l -2.5,4 z" fill="#3949AB"/>
<path d="M 1382.58,3074 H 1652.08 V 3101 H 1382.58 V 3094 c 0,-10 -8,8 -8,-7.5 s 8,2.5 8,-7.5 z" fill="#7480c4"/>
<path d="M 1651.58,3075 V 3100.5 H 1382.58" fill="none" stroke="#7480c4" stroke-width="1"/>
<path transform="translate(1215.96,3076)" d="M 0,0 H 116.07 H 116.07 v 25 H 0 V 20 c 0,-10 -8,8 -8,-7.5 s 8,2.5 8,-7.5 z" fill="#c34118"/>
<path transform="translate(1214.96,3075)" d="M 0,0 H 116.07 H 116.07 v 25 H 0 V 20 c 0,-10 -8,8 -8,-7.5 s 8,2.5 8,-7.5 z" fill="#F4511E"/>
<path transform="translate(1214.96,3075)" d="M 0.5,0.5 H 115.57 M 0.5,24.5 M 0.5,20 V 24.5" fill="none" stroke="#f78562" stroke-width="1"/>
<rect x="1250.33" y="3080" width="75.69" height="16" rx="4" fill="#fbb9a5"/>
<path d="M 1313.72,3086 h 5 l -2.5,4 z" fill="#F4511E"/>
<path transform="translate(1384.58,3076)" d="M 0,0 H 134.12 H 134.12 v 5 c 0,10 -8,-8 -8,7.5 s 8,-2.5 8,7.5 v 5 H 0 V 20 c 0,-10 -8,8 -8,-7.5 s 8,2.5 8,-7.5 z" fill="#027cb7"/>
<path transform="translate(1383.58,3075)" d="M 0,0 H 134.12 H 134.12 v 5 c 0,10 -8,-8 -8,7.5 s 8,-2.5 8,7.5 v 5 H 0 V 20 c 0,-10 -8,8 -8,-7.5 s 8,2.5 8,-7.5 z" fill="#039BE5"/>
<path transform="translate(1383.58,3075)" d="M 0.5,0.5 H 133.62 M 0.5,24.5 M 0.5,20 V 24.5" fill="none" stroke="#4fb9ed" stroke-width="1"/>
<path transform="translate(1519.71,3076)" d="M 0,0 H 132.37 H 132.37 v 25 H 0 V 20 c 0,-10 -8,8 -8,-7.5 s 8,2.5 8,-7.5 z" fill="#c34118"/>
<path transform="translate(1518.71,3075)" d="M 0,0 H 132.37 H 132.37 v 25 H 0 V 20 c 0,-10 -8,8 -8,-7.5 s 8,2.5 8,-7.5 z" fill="#F4511E"/>
<path transform="translate(1518.71,3075)" d="M 0.5,0.5 H 131.87 M 0.5,24.5 M 0.5,20 V 24.5" fill="none" stroke="#f78562" stroke-width="1"/>
<rect x="1554.08" y="3080" width="92" height="16" rx="4" fill="#fbb9a5"/>
<path d="M 1633.78,3086 h 5 l -2.5,4 z" fill="#F4511E"/>
<path transform="translate(1168.96,3107)" d="M 0,8 A 8,8 0 0,1 8,0 H 15 l 6,4 3,0 6,-4 H 312.34 H 312.34 v 5 c 0,10 -8,-8 -8,7.5 s 8,-2.5 8,7.5 v 5 H 29.5 l -6,4 -3,0 -6,-4 H 8 a 8,8 0 0,1 -8,-8 z" fill="#2d7230"/>
<path transform="translate(1167.96,3106)" d="M 0,8 A 8,8 0 0,1 8,0 H 15 l 6,4 3,0 6,-4 H 312.34 H 312.34 v 5 c 0,10 -8,-8 -8,7.5 s 8,-2.5 8,7.5 v 5 H 29.5 l -6,4 -3,0 -6,-4 H 8 a 8,8 0 0,1 -8,-8 z" fill="#388E3C"/>
<path transform="translate(1167.96,3106)" d="M 0.5,8 A 7.5,7.5 0 0,1 8,0.5 H 15 l 6,4 3,0 6,-4 H 311.84 M 0.5,8 V 17" fill="none" stroke="#74b076" stroke-width="1"/>
<rect x="1206.58" y="3111" width="151.44" height="16" rx="4" fill="#afd2b1"/>
<path d="M 1345.72,3117 h 5 l -2.5,4 z" fill="#388E3C"/>
<rect x="1372.09" y="3111" width="68.91" height="16" rx="4" fill="#afd2b1"/>
<path d="M 1428.7,3117 h 5 l -2.5,4 z" fill="#388E3C"/>
<path transform="translate(1482.29,3107)" d="M 0,0 H 66.96 H 66.96 v 25 H 0 V 20 c 0,-10 -8,8 -8,-7.5 s 8,2.5 8,-7.5 z" fill="#368039"/>
<path transform="translate(1481.29,3106)" d="M 0,0 H 66.96 H 66.96 v 25 H 0 V 20 c 0,-10 -8,8 -8,-7.5 s 8,2.5 8,-7.5 z" fill="#43A047"/>
<path transform="translate(1481.29,3106)" d="M 0.5,0.5 H 66.46 M 0.5,24.5 M 0.5,20 V 24.5" fill="none" stroke="#7bbc7e" stroke-width="1"/>
<rect x="1486.29" y="3111" width="56.96" height="16" rx="4" fill="#b4d9b5"/>
<path d="M 1530.95,3117 h 5 l -2.5,4 z" fill="#43A047"/>
<path transform="translate(1168.96,3147)" d="M 0,8 A 8,8 0 0,1 8,0 H 15 l 6,4 3,0 6,-4 H 179.96 H 179.96 v 5 c 0,10 -8,-8 -8,7.5 s 8,-2.5 8,7.5 v 6 H 179.96 v 5 c 0,10 -8,-8 -8,7.5 s 8,-2.5 8,7.5 v 6 H 179.96 v 5 c 0,10 -8,-8 -8,7.5 s 8,-2.5 8,7.5 v 5 H 66.3 l -6,4 -3,0 -6,-4 h -7 a 8,8 0 0,0 -8,8 v 168 a 8,8 0 0,0 8,8 H 179.96 v 10 H 29.5 l -6,4 -3,0 -6,-4 H 8 a 8,8 0 0,1 -8,-8 z" fill="#cc8900"/>
<path transform="translate(1167.96,3146)" d="M 0,8 A 8,8 0 0,1 8,0 H 15 l 6,4 3,0 6,-4 H 179.96 H 179.96 v 5 c 0,10 -8,-8 -8,7.5 s 8,-2.5 8,7.5 v 6 H 179.96 v 5 c 0,10 -8,-8 -8,7.5 s 8,-2.5 8,7.5 v 6 H 179.96 v 5 c 0,10 -8,-8 -8,7.5 s 8,-2.5 8,7.5 v 5 H 66.3 l -6,4 -3,0 -6,-4 h -7 a 8,8 0 0,0 -8,8 v 168 a 8,8 0 0,0 8,8 H 179.96 v 10 H 29.5 l -6,4 -3,0 -6,-4 H 8 a 8,8 0 0,1 -8,-8 z" fill="#FFAB00"/>
<path transform="translate(1167.96,3146)" d="M 0.5,8 A 7.5,7.5 0 0,1 8,0.5 H 15 l 6,4 3,0 6,-4 H 179.46 M 0.5,8 V 263" fill="none" stroke="#ffc44c" stroke-width="1"/>
<rect x="1235.91" y="3150.7" width="59.69" height="16.6" rx="5" fill="#dc8b6c" stroke="#eba98a" stroke-width="1"/>
<path transform="translate(1349.92,3147)" d="M 0,0 H 28.15 H 28.15 v 25 H 0 V 20 c 0,-10 -8,8 -8,-7.5 s 8,2.5 8,-7.5 z" fill="#2e3a89"/>
<path transform="translate(1348.92,3146)" d="M 0,0 H 28.15 H 28.15 v 25 H 0 V 20 c 0,-10 -8,8 -8,-7.5 s 8,2.5 8,-7.5 z" fill="#3949AB"/>
<path transform="translate(1348.92,3146)" d="M 0.5,0.5 H 27.65 M 0.5,24.5 M 0.5,20 V 24.5" fill="none" stroke="#7480c4" stroke-width="1"/>
<rect x="1353.92" y="3151" width="18.15" height="16" rx="4" fill="#b0b6dd"/>
<path transform="translate(1349.92,3173)" d="M 0,0 H 134.12 H 134.12 v 5 c 0,10 -8,-8 -8,7.5 s 8,-2.5 8,7.5 v 5 H 0 V 20 c 0,-10 -8,8 -8,-7.5 s 8,2.5 8,-7.5 z" fill="#027cb7"/>
<path transform="translate(1348.92,3172)" d="M 0,0 H 134.12 H 134.12 v 5 c 0,10 -8,-8 -8,7.5 s 8,-2.5 8,7.5 v 5 H 0 V 20 c 0,-10 -8,8 -8,-7.5 s 8,2.5 8,-7.5 z" fill="#039BE5"/>
<path transform="translate(1348.92,3172)" d="M 0.5,0.5 H 133.62 M 0.5,24.5 M 0.5,20 V 24.5" fill="none" stroke="#4fb9ed" stroke-width="1"/>
<path transform="translate(1485.04,3173)" d="M 0,0 H 132.37 H 132.37 v 25 H 0 V 20 c 0,-10 -8,8 -8,-7.5 s 8,2.5 8,-7.5 z" fill="#c34118"/>
<path transform="translate(1484.04,3172)" d="M 0,0 H 132.37 H 132.37 v 25 H 0 V 20 c 0,-10 -8,8 -8,-7.5 s 8,2.5 8,-7.5 z" fill="#F4511E"/>
<path transform="translate(1484.04,3172)" d="M 0.5,0.5 H 131.87 M 0.5,24.5 M 0.5,20 V 24.5" fill="none" stroke="#f78562" stroke-width="1"/>
<rect x="1519.42" y="3177" width="92" height="16" rx="4" fill="#fbb9a5"/>
<path d="M 1599.11,3183 h 5 l -2.5,4 z" fill="#F4511E"/>
<path transform="translate(1349.92,3199)" d="M 0,0 H 28.15 H 28.15 v 25 H 0 V 20 c 0,-10 -8,8 -8,-7.5 s 8,2.5 8,-7.5 z" fill="#2e3a89"/>
<path transform="translate(1348.92,3198)" d="M 0,0 H 28.15 H 28.15 v 25 H 0 V 20 c 0,-10 -8,8 -8,-7.5 s 8,2.5 8,-7.5 z" fill="#3949AB"/>
<path transform="translate(1348.92,3198)" d="M 0.5,0.5 H 27.65 M 0.5,24.5 M 0.5,20 V 24.5" fill="none" stroke="#7480c4" stroke-width="1"/>
<rect x="1353.92" y="3203" width="18.15" height="16" rx="4" fill="#b0b6dd"/>
<path transform="translate(1206.26,3225)" d="M 0,8 A 8,8 0 0,1 8,0 H 15 l 6,4 3,0 6,-4 H 146.86 H 146.86 v 25 H 146.86 v 5 c 0,10 -8,-8 -8,7.5 s 8,-2.5 8,7.5 v 6 H 146.86 v 5 c 0,10 -8,-8 -8,7.5 s 8,-2.5 8,7.5 v 32 H 146.86 v 5 c 0,10 -8,-8 -8,7.5 s 8,-2.5 8,7.5 v 31 H 29.5 l -6,4 -3,0 -6,-4 H 0 z" fill="#4b2a8e"/>
<path transform="translate(1205.26,3224)" d="M 0,8 A 8,8 0 0,1 8,0 H 15 l 6,4 3,0 6,-4 H 146.86 H 146.86 v 25 H 146.86 v 5 c 0,10 -8,-8 -8,7.5 s 8,-2.5 8,7.5 v 6 H 146.86 v 5 c 0,10 -8,-8 -8,7.5 s 8,-2.5 8,7.5 v 32 H 146.86 v 5 c 0,10 -8,-8 -8,7.5 s 8,-2.5 8,7.5 v 31 H 29.5 l -6,4 -3,0 -6,-4 H 0 z" fill="#5E35B1"/>
<path transform="translate(1205.26,3224)" d="M 0.5,8 A 7.5,7.5 0 0,1 8,0.5 H 15 l 6,4 3,0 6,-4 H 146.36 M 0.5,8 V 153.5" fill="none" stroke="#8e72c8" stroke-width="1"/>
<rect x="1246.32" y="3229" width="92.8" height="16" rx="4" fill="#bfaee0"/>
<path d="M 1326.82,3235 h 5 l -2.5,4 z" fill="#5E35B1"/>
<path transform="translate(1354.12,3250)" d="M 0,0 H 116.07 H 116.07 v 25 H 0 V 20 c 0,-10 -8,8 -8,-7.5 s 8,2.5 8,-7.5 z" fill="#c34118"/>
<path transform="translate(1353.12,3249)" d="M 0,0 H 116.07 H 116.07 v 25 H 0 V 20 c 0,-10 -8,8 -8,-7.5 s 8,2.5 8,-7.5 z" fill="#F4511E"/>
<path transform="translate(1353.12,3249)" d="M 0.5,0.5 H 115.57 M 0.5,24.5 M 0.5,20 V 24.5" fill="none" stroke="#f78562" stroke-width="1"/>
<rect x="1388.49" y="3254" width="75.69" height="16" rx="4" fill="#fbb9a5"/>
<path d="M 1451.89,3260 h 5 l -2.5,4 z" fill="#F4511E"/>
<path transform="translate(1354.12,3276)" d="M 0,0 H 146.09 H 146.09 v 5 c 0,10 -8,-8 -8,7.5 s 8,-2.5 8,7.5 v 6 H 146.09 v 5 c 0,10 -8,-8 -8,7.5 s 8,-2.5 8,7.5 v 5 H 0 V 20 c 0,-10 -8,8 -8,-7.5 s 8,2.5 8,-7.5 z" fill="#027cb7"/>
<path transform="translate(1353.12,3275)" d="M 0,0 H 146.09 H 146.09 v 5 c 0,10 -8,-8 -8,7.5 s 8,-2.5 8,7.5 v 6 H 146.09 v 5 c 0,10 -8,-8 -8,7.5 s 8,-2.5 8,7.5 v 5 H 0 V 20 c 0,-10 -8,8 -8,-7.5 s 8,2.5 8,-7.5 z" fill="#039BE5"/>
<path transform="translate(1353.12,3275)" d="M 0.5,0.5 H 145.59 M 0.5,50.5 V 5.5 M 0.5,20 V 50.5" fill="none" stroke="#4fb9ed" stroke-width="1"/>
<path transform="translate(1501.21,3276)" d="M 0,0 H 132.37 H 132.37 v 25 H 0 V 20 c 0,-10 -8,8 -8,-7.5 s 8,2.5 8,-7.5 z" fill="#c34118"/>
<path transform="translate(1500.21,3275)" d="M 0,0 H 132.37 H 132.37 v 25 H 0 V 20 c 0,-10 -8,8 -8,-7.5 s 8,2.5 8,-7.5 z" fill="#F4511E"/>
<path transform="translate(1500.21,3275)" d="M 0.5,0.5 H 131.87 M 0.5,24.5 M 0.5,20 V 24.5" fill="none" stroke="#f78562" stroke-width="1"/>
<rect x="1535.58" y="3280" width="92" height="16" rx="4" fill="#fbb9a5"/>
<path d="M 1615.28,3286 h 5 l -2.5,4 z" fill="#F4511E"/>
<path transform="translate(1501.21,3302)" d="M 0,0 H 116.07 H 116.07 v 25 H 0 V 20 c 0,-10 -8,8 -8,-7.5 s 8,2.5 8,-7.5 z" fill="#c34118"/>
<path transform="translate(1500.21,3301)" d="M 0,0 H 116.07 H 116.07 v 25 H 0 V 20 c 0,-10 -8,8 -8,-7.5 s 8,2.5 8,-7.5 z" fill="#F4511E"/>
<path transform="translate(1500.21,3301)" d="M 0.5,0.5 H 115.57 M 0.5,24.5 M 0.5,20 V 24.5" fill="none" stroke="#f78562" stroke-width="1"/>
<rect x="1535.58" y="3306" width="75.69" height="16" rx="4" fill="#fbb9a5"/>
<path d="M 1598.97,3312 h 5 l -2.5,4 z" fill="#F4511E"/>
<path transform="translate(1354.12,3328)" d="M 0,0 H 146.09 H 146.09 v 5 c 0,10 -8,-8 -8,7.5 s 8,-2.5 8,7.5 v 6 H 146.09 v 5 c 0,10 -8,-8 -8,7.5 s 8,-2.5 8,7.5 v 5 H 0 V 20 c 0,-10 -8,8 -8,-7.5 s 8,2.5 8,-7.5 z" fill="#027cb7"/>
<path transform="translate(1353.12,3327)" d="M 0,0 H 146.09 H 146.09 v 5 c 0,10 -8,-8 -8,7.5 s 8,-2.5 8,7.5 v 6 H 146.09 v 5 c 0,10 -8,-8 -8,7.5 s 8,-2.5 8,7.5 v 5 H 0 V 20 c 0,-10 -8,8 -8,-7.5 s 8,2.5 8,-7.5 z" fill="#039BE5"/>
<path transform="translate(1353.12,3327)" d="M 0.5,0.5 H 145.59 M 0.5,50.5 V 5.5 M 0.5,20 V 50.5" fill="none" stroke="#4fb9ed" stroke-width="1"/>
<path transform="translate(1501.21,3328)" d="M 0,0 H 156 H 156 v 25 H 0 V 20 c 0,-10 -8,8 -8,-7.5 s 8,2.5 8,-7.5 z" fill="#c34118"/>
<path transform="translate(1500.21,3327)" d="M 0,0 H 156 H 156 v 25 H 0 V 20 c 0,-10 -8,8 -8,-7.5 s 8,2.5 8,-7.5 z" fill="#F4511E"/>
<path transform="translate(1500.21,3327)" d="M 0.5,0.5 H 155.5 M 0.5,24.5 M 0.5,20 V 24.5" fill="none" stroke="#f78562" stroke-width="1"/>
<rect x="1535.58" y="3332" width="115.63" height="16" rx="4" fill="#fbb9a5"/>
<path d="M 1638.91,3338 h 5 l -2.5,4 z" fill="#F4511E"/>
<path transform="translate(1501.21,3354)" d="M 0,0 H 116.07 H 116.07 v 25 H 0 V 20 c 0,-10 -8,8 -8,-7.5 s 8,2.5 8,-7.5 z" fill="#c34118"/>
<path transform="translate(1500.21,3353)" d="M 0,0 H 116.07 H 116.07 v 25 H 0 V 20 c 0,-10 -8,8 -8,-7.5 s 8,2.5 8,-7.5 z" fill="#F4511E"/>
<path transform="translate(1500.21,3353)" d="M 0.5,0.5 H 115.57 M 0.5,24.5 M 0.5,20 V 24.5" fill="none" stroke="#f78562" stroke-width="1"/>
<rect x="1535.58" y="3358" width="75.69" height="16" rx="4" fill="#fbb9a5"/>
<path d="M 1598.97,3364 h 5 l -2.5,4 z" fill="#F4511E"/>
<path transform="translate(1206.26,3380)" d="M 0,0 H 15 l 6,4 3,0 6,-4 H 312.34 H 312.34 v 5 c 0,10 -8,-8 -8,7.5 s 8,-2.5 8,7.5 v 5 H 29.5 l -6,4 -3,0 -6,-4 H 8 a 8,8 0 0,1 -8,-8 z" fill="#2d7230"/>
<path transform="translate(1205.26,3379)" d="M 0,0 H 15 l 6,4 3,0 6,-4 H 312.34 H 312.34 v 5 c 0,10 -8,-8 -8,7.5 s 8,-2.5 8,7.5 v 5 H 29.5 l -6,4 -3,0 -6,-4 H 8 a 8,8 0 0,1 -8,-8 z" fill="#388E3C"/>
<path transform="translate(1205.26,3379)" d="M 0.5,0.5 H 15 l 6,4 3,0 6,-4 H 311.84 M 0.5,8 V 17" fill="none" stroke="#74b076" stroke-width="1"/>
<rect x="1243.88" y="3384" width="151.44" height="16" rx="4" fill="#afd2b1"/>
<path d="M 1383.02,3390 h 5 l -2.5,4 z" fill="#388E3C"/>
<rect x="1409.39" y="3384" width="68.91" height="16" rx="4" fill="#afd2b1"/>
<path d="M 1466,3390 h 5 l -2.5,4 z" fill="#388E3C"/>
<path transform="translate(1519.59,3380)" d="M 0,0 H 66.96 H 66.96 v 25 H 0 V 20 c 0,-10 -8,8 -8,-7.5 s 8,2.5 8,-7.5 z" fill="#368039"/>
<path transform="translate(1518.59,3379)" d="M 0,0 H 66.96 H 66.96 v 25 H 0 V 20 c 0,-10 -8,8 -8,-7.5 s 8,2.5 8,-7.5 z" fill="#43A047"/>
<path transform="translate(1518.59,3379)" d="M 0.5,0.5 H 66.46 M 0.5,24.5 M 0.5,20 V 24.5" fill="none" stroke="#7bbc7e" stroke-width="1"/>
<rect x="1523.59" y="3384" width="56.96" height="16" rx="4" fill="#b4d9b5"/>
<path d="M 1568.25,3390 h 5 l -2.5,4 z" fill="#43A047"/>
<path transform="translate(2231,1)" d="M 0,8 A 8,8 0 0,1 8,0 H 190.58 H 190.58 v 5 c 0,10 -8,-8 -8,7.5 s 8,-2.5 8,7.5 v 5 H 8 a 8,8 0 0,1 -8,-8 z" fill="#c34118"/>
<path transform="translate(2230,0)" d="M 0,8 A 8,8 0 0,1 8,0 H 190.58 H 190.58 v 5 c 0,10 -8,-8 -8,7.5 s 8,-2.5 8,7.5 v 5 H 8 a 8,8 0 0,1 -8,-8 z" fill="#F4511E"/>
<path transform="translate(2230,0)" d="M 0.5,8 A 7.5,7.5 0 0,1 8,0.5 H 190.08 M 0.5,8 V 17" fill="none" stroke="#f78562" stroke-width="1"/>
<rect x="2340.32" y="4.7" width="45.04" height="16.6" rx="5" fill="#dc8b6c" stroke="#eba98a" stroke-width="1"/>
<path transform="translate(2422.58,1)" d="M 0,0 H 28.15 H 28.15 v 25 H 0 V 20 c 0,-10 -8,8 -8,-7.5 s 8,2.5 8,-7.5 z" fill="#2e3a89"/>
<path transform="translate(2421.58,0)" d="M 0,0 H 28.15 H 28.15 v 25 H 0 V 20 c 0,-10 -8,8 -8,-7.5 s 8,2.5 8,-7.5 z" fill="#3949AB"/>
<path transform="translate(2421.58,0)" d="M 0.5,0.5 H 27.65 M 0.5,24.5 M 0.5,20 V 24.5" fill="none" stroke="#7480c4" stroke-width="1"/>
<rect x="2426.58" y="5" width="18.15" height="16" rx="4" fill="#b0b6dd"/>
<path transform="translate(2231,54)" d="M 0,8 A 8,8 0 0,1 8,0 H 206.72 H 206.72 v 25 H 66.3 l -6,4 -3,0 -6,-4 h -7 a 8,8 0 0,0 -8,8 v 90 a 8,8 0 0,0 8,8 H 206.72 v 10 H 8 a 8,8 0 0,1 -8,-8 z" fill="#cc861e"/>
<path transform="translate(2230,53)" d="M 0,8 A 8,8 0 0,1 8,0 H 206.72 H 206.72 v 25 H 66.3 l -6,4 -3,0 -6,-4 h -7 a 8,8 0 0,0 -8,8 v 90 a 8,8 0 0,0 8,8 H 206.72 v 10 H 8 a 8,8 0 0,1 -8,-8 z" fill="#FFA726"/>
<path transform="translate(2230,53)" d="M 0.5,8 A 7.5,7.5 0 0,1 8,0.5 H 206.22 M 0.5,8 V 133" fill="none" stroke="#ffc167" stroke-width="1"/>
<rect x="2284.11" y="58" width="80.59" height="16" rx="4" fill="#ffdca8"/>
<path d="M 2352.4,64 h 5 l -2.5,4 z" fill="#FFA726"/>
<path transform="translate(2268.3,80)" d="M 0,8 A 8,8 0 0,1 8,0 H 15 l 6,4 3,0 6,-4 H 361.05 H 361.05 v 25 H 361.05 v 5 c 0,10 -8,-8 -8,7.5 s 8,-2.5 8,7.5 v 5 H 29.5 l -6,4 -3,0 -6,-4 H 0 z" fill="#4b2a8e"/>
<path transform="translate(2267.3,79)" d="M 0,8 A 8,8 0 0,1 8,0 H 15 l 6,4 3,0 6,-4 H 361.05 H 361.05 v 25 H 361.05 v 5 c 0,10 -8,-8 -8,7.5 s 8,-2.5 8,7.5 v 5 H 29.5 l -6,4 -3,0 -6,-4 H 0 z" fill="#5E35B1"/>
<path transform="translate(2267.3,79)" d="M 0.5,8 A 7.5,7.5 0 0,1 8,0.5 H 15 l 6,4 3,0 6,-4 H 360.55 M 0.5,8 V 49.5" fill="none" stroke="#8e72c8" stroke-width="1"/>
<rect x="2308.37" y="84" width="170.19" height="16" rx="4" fill="#bfaee0"/>
<path d="M 2466.25,90 h 5 l -2.5,4 z" fill="#5E35B1"/>
<path transform="translate(2630.35,105)" d="M 0,0 H 229.89 H 229.89 v 25 H 0 V 20 c 0,-10 -8,8 -8,-7.5 s 8,2.5 8,-7.5 z" fill="#6f9c3b"/>
<path transform="translate(2629.35,104)" d="M 0,0 H 229.89 H 229.89 v 25 H 0 V 20 c 0,-10 -8,8 -8,-7.5 s 8,2.5 8,-7.5 z" fill="#8BC34A"/>
<path transform="translate(2629.35,104)" d="M 0.5,0.5 H 229.39 M 0.5,24.5 M 0.5,20 V 24.5" fill="none" stroke="#aed580" stroke-width="1"/>
<rect x="2634.35" y="109" width="219.89" height="16" rx="4" fill="#d1e7b7"/>
<path d="M 2841.94,115 h 5 l -2.5,4 z" fill="#8BC34A"/>
<path transform="translate(2268.3,131)" d="M 0,0 H 15 l 6,4 3,0 6,-4 H 262.1 H 262.1 v 25 H 29.5 l -6,4 -3,0 -6,-4 H 0 z" fill="#4b2a8e"/>
<path transform="translate(2267.3,130)" d="M 0,0 H 15 l 6,4 3,0 6,-4 H 262.1 H 262.1 v 25 H 29.5 l -6,4 -3,0 -6,-4 H 0 z" fill="#5E35B1"/>
<path transform="translate(2267.3,130)" d="M 0.5,0.5 H 15 l 6,4 3,0 6,-4 H 261.6 M 0.5,8 V 24.5" fill="none" stroke="#8e72c8" stroke-width="1"/>
<rect x="2308.37" y="135" width="117.27" height="16" rx="4" fill="#bfaee0"/>
<path d="M 2413.33,141 h 5 l -2.5,4 z" fill="#5E35B1"/>
<path transform="translate(2268.3,157)" d="M 0,0 H 15 l 6,4 3,0 6,-4 H 312.34 H 312.34 v 5 c 0,10 -8,-8 -8,7.5 s 8,-2.5 8,7.5 v 5 H 29.5 l -6,4 -3,0 -6,-4 H 8 a 8,8 0 0,1 -8,-8 z" fill="#2d7230"/>
<path transform="translate(2267.3,156)" d="M 0,0 H 15 l 6,4 3,0 6,-4 H 312.34 H 312.34 v 5 c 0,10 -8,-8 -8,7.5 s 8,-2.5 8,7.5 v 5 H 29.5 l -6,4 -3,0 -6,-4 H 8 a 8,8 0 0,1 -8,-8 z" fill="#388E3C"/>
<path transform="translate(2267.3,156)" d="M 0.5,0.5 H 15 l 6,4 3,0 6,-4 H 311.84 M 0.5,8 V 17" fill="none" stroke="#74b076" stroke-width="1"/>
<rect x="2305.93" y="161" width="151.44" height="16" rx="4" fill="#afd2b1"/>
<path d="M 2445.06,167 h 5 l -2.5,4 z" fill="#388E3C"/>
<rect x="2471.43" y="161" width="68.91" height="16" rx="4" fill="#afd2b1"/>
<path d="M 2528.04,167 h 5 l -2.5,4 z" fill="#388E3C"/>
<path transform="translate(2581.64,157)" d="M 0,0 H 61.25 H 61.25 v 25 H 0 V 20 c 0,-10 -8,8 -8,-7.5 s 8,2.5 8,-7.5 z" fill="#368039"/>
<path transform="translate(2580.64,156)" d="M 0,0 H 61.25 H 61.25 v 25 H 0 V 20 c 0,-10 -8,8 -8,-7.5 s 8,2.5 8,-7.5 z" fill="#43A047"/>
<path transform="translate(2580.64,156)" d="M 0.5,0.5 H 60.75 M 0.5,24.5 M 0.5,20 V 24.5" fill="none" stroke="#7bbc7e" stroke-width="1"/>
<rect x="2585.64" y="161" width="51.25" height="16" rx="4" fill="#b4d9b5"/>
<path d="M 2624.59,167 h 5 l -2.5,4 z" fill="#43A047"/>
<text x="37" y="17.5" class="w">to</text>
<text x="59.22" y="17.5" class="k">create_list</text>
<text x="149.52" y="17.5" class="k">loop_number</text>
<text x="259.08" y="17.5" class="k">title</text>
<text x="305.88" y="17.5" class="k">subtitle</text>
<text x="10" y="42.5" class="w">do</text>
<text x="47.3" y="43.5" class="w">set</text>
<text x="76.85" y="43.5" class="k">global card_view1_id</text>
<text x="239.73" y="43.5" class="w">to</text>
<text x="307.96" y="43.5" class="w">join</text>
<text x="359.77" y="43.5" class="w">“</text>
<text x="374.65" y="43.5" class="k">cardview</text>
<text x="442.48" y="43.5" class="w">”</text>
<text x="359.77" y="69.5" class="w">get</text>
<text x="390.15" y="69.5" class="k">loop_number</text>
<text x="47.3" y="95.5" class="w">call </text>
<text x="83.37" y="95.5" class="k">DynamicComponents1</text>
<text x="257.62" y="95.5" class="w">.Create</text>
<text x="294.28" y="120.5" class="w">in</text>
<text x="194.08" y="146.5" class="w">componentName</text>
<text x="294.28" y="172.5" class="w">id</text>
<text x="334.69" y="120.5" class="k">Vertical_Arrangement2</text>
<text x="334.69" y="146.5" class="k">Card_View1</text>
<text x="334.69" y="172.5" class="w">get</text>
<text x="365.06" y="172.5" class="k">global card_view1_id</text>
<text x="47.3" y="198.5" class="w">set Card View.</text>
<text x="151.53" y="198.5" class="k">Full Clickable</text>
<text x="165.87" y="223.5" class="w">of component</text>
<text x="242.46" y="274.5" class="w">to</text>
<text x="283.68" y="223.5" class="w">call </text>
<text x="319.74" y="223.5" class="k">DynamicComponents1</text>
<text x="494" y="223.5" class="w">.GetComponent</text>
<text x="586.06" y="248.5" class="w">id</text>
<text x="626.47" y="248.5" class="w">get</text>
<text x="656.84" y="248.5" class="k">global card_view1_id</text>
<text x="283.68" y="274.5" class="k">true</text>
<text x="47.3" y="300.5" class="w">set Card View.</text>
<text x="151.53" y="300.5" class="k">Width</text>
<text x="116.18" y="325.5" class="w">of component</text>
<text x="192.77" y="376.5" class="w">to</text>
<text x="233.99" y="325.5" class="w">call </text>
<text x="270.06" y="325.5" class="k">DynamicComponents1</text>
<text x="444.32" y="325.5" class="w">.GetComponent</text>
<text x="536.38" y="350.5" class="w">id</text>
<text x="576.78" y="350.5" class="w">get</text>
<text x="607.16" y="350.5" class="k">global card_view1_id</text>
<text x="233.99" y="376.5" class="k">500</text>
<text x="47.3" y="402.5" class="w">set Card View.</text>
<text x="151.53" y="402.5" class="k">Height</text>
<text x="121.09" y="427.5" class="w">of component</text>
<text x="197.67" y="478.5" class="w">to</text>
<text x="238.9" y="427.5" class="w">call </text>
<text x="274.96" y="427.5" class="k">DynamicComponents1</text>
<text x="449.22" y="427.5" class="w">.GetComponent</text>
<text x="541.28" y="452.5" class="w">id</text>
<text x="581.68" y="452.5" class="w">get</text>
<text x="612.06" y="452.5" class="k">global card_view1_id</text>
<text x="238.9" y="478.5" class="k">-1</text>
<text x="47.3" y="504.5" class="w">set Card View.</text>
<text x="151.53" y="504.5" class="k">Corner Radius</text>
<text x="173.21" y="529.5" class="w">of component</text>
<text x="249.8" y="580.5" class="w">to</text>
<text x="291.02" y="529.5" class="w">call </text>
<text x="327.09" y="529.5" class="k">DynamicComponents1</text>
<text x="501.34" y="529.5" class="w">.GetComponent</text>
<text x="593.4" y="554.5" class="w">id</text>
<text x="633.81" y="554.5" class="w">get</text>
<text x="664.19" y="554.5" class="k">global card_view1_id</text>
<text x="291.02" y="580.5" class="k">20</text>
<text x="47.3" y="606.5" class="w">set Card View.</text>
<text x="151.53" y="606.5" class="k">Stroke Width</text>
<text x="162.61" y="631.5" class="w">of component</text>
<text x="239.2" y="682.5" class="w">to</text>
<text x="280.42" y="631.5" class="w">call </text>
<text x="316.49" y="631.5" class="k">DynamicComponents1</text>
<text x="490.75" y="631.5" class="w">.GetComponent</text>
<text x="582.81" y="656.5" class="w">id</text>
<text x="623.21" y="656.5" class="w">get</text>
<text x="653.59" y="656.5" class="k">global card_view1_id</text>
<text x="280.42" y="682.5" class="k">5</text>
<text x="47.3" y="708.5" class="w">set Card View.</text>
<text x="151.53" y="708.5" class="k">Stroke Color</text>
<text x="160.17" y="733.5" class="w">of component</text>
<text x="236.76" y="784.5" class="w">to</text>
<text x="277.98" y="733.5" class="w">call </text>
<text x="314.05" y="733.5" class="k">DynamicComponents1</text>
<text x="488.31" y="733.5" class="w">.GetComponent</text>
<text x="580.37" y="758.5" class="w">id</text>
<text x="620.77" y="758.5" class="w">get</text>
<text x="651.15" y="758.5" class="k">global card_view1_id</text>
<text x="47.3" y="810.5" class="w">set</text>
<text x="76.85" y="810.5" class="k">global horizontal_arrange_1_id</text>
<text x="304.12" y="810.5" class="w">to</text>
<text x="372.34" y="810.5" class="w">join</text>
<text x="424.16" y="810.5" class="w">“</text>
<text x="439.04" y="810.5" class="k">horizontal1</text>
<text x="520.74" y="810.5" class="w">”</text>
<text x="424.16" y="836.5" class="w">get</text>
<text x="454.53" y="836.5" class="k">loop_number</text>
<text x="47.3" y="862.5" class="w">call </text>
<text x="83.37" y="862.5" class="k">DynamicComponents1</text>
<text x="257.62" y="862.5" class="w">.Create</text>
<text x="294.28" y="887.5" class="w">in</text>
<text x="194.08" y="938.5" class="w">componentName</text>
<text x="294.28" y="964.5" class="w">id</text>
<text x="334.69" y="887.5" class="w">call </text>
<text x="370.75" y="887.5" class="k">DynamicComponents1</text>
<text x="545.01" y="887.5" class="w">.GetComponent</text>
<text x="637.07" y="912.5" class="w">id</text>
<text x="677.48" y="912.5" class="w">get</text>
<text x="707.85" y="912.5" class="k">global card_view1_id</text>
<text x="334.69" y="938.5" class="k">Horizontal_Arrangement1</text>
<text x="334.69" y="964.5" class="w">get</text>
<text x="365.06" y="964.5" class="k">global horizontal_arrange_1_id</text>
<text x="47.3" y="990.5" class="w">set Horizontal Arrangement.</text>
<text x="239.78" y="990.5" class="k">Width</text>
<text x="204.43" y="1015.5" class="w">of component</text>
<text x="281.02" y="1066.5" class="w">to</text>
<text x="322.24" y="1015.5" class="w">call </text>
<text x="358.3" y="1015.5" class="k">DynamicComponents1</text>
<text x="532.56" y="1015.5" class="w">.GetComponent</text>
<text x="624.62" y="1040.5" class="w">id</text>
<text x="665.03" y="1040.5" class="w">get</text>
<text x="695.4" y="1040.5" class="k">global horizontal_arrange_1_id</text>
<text x="322.24" y="1066.5" class="k">-2</text>
<text x="47.3" y="1092.5" class="w">set Horizontal Arrangement.</text>
<text x="239.78" y="1092.5" class="k">Height</text>
<text x="209.33" y="1117.5" class="w">of component</text>
<text x="285.92" y="1168.5" class="w">to</text>
<text x="327.14" y="1117.5" class="w">call </text>
<text x="363.2" y="1117.5" class="k">DynamicComponents1</text>
<text x="537.46" y="1117.5" class="w">.GetComponent</text>
<text x="629.52" y="1142.5" class="w">id</text>
<text x="669.93" y="1142.5" class="w">get</text>
<text x="700.3" y="1142.5" class="k">global horizontal_arrange_1_id</text>
<text x="327.14" y="1168.5" class="k">-2</text>
<text x="47.3" y="1194.5" class="w">set Horizontal Arrangement.</text>
<text x="239.78" y="1194.5" class="k">Align Vertical</text>
<text x="251.69" y="1219.5" class="w">of component</text>
<text x="328.28" y="1270.5" class="w">to</text>
<text x="369.5" y="1219.5" class="w">call </text>
<text x="405.56" y="1219.5" class="k">DynamicComponents1</text>
<text x="579.82" y="1219.5" class="w">.GetComponent</text>
<text x="671.88" y="1244.5" class="w">id</text>
<text x="712.29" y="1244.5" class="w">get</text>
<text x="742.66" y="1244.5" class="k">global horizontal_arrange_1_id</text>
<text x="369.5" y="1270.5" class="k">2</text>
<text x="47.3" y="1296.5" class="w">set</text>
<text x="76.85" y="1296.5" class="k">global image_1_id</text>
<text x="221.82" y="1296.5" class="w">to</text>
<text x="290.04" y="1296.5" class="w">join</text>
<text x="341.86" y="1296.5" class="w">“</text>
<text x="356.74" y="1296.5" class="k">image1</text>
<text x="414.81" y="1296.5" class="w">”</text>
<text x="341.86" y="1322.5" class="w">get</text>
<text x="372.23" y="1322.5" class="k">loop_number</text>
<text x="47.3" y="1348.5" class="w">call </text>
<text x="83.37" y="1348.5" class="k">DynamicComponents1</text>
<text x="257.62" y="1348.5" class="w">.Create</text>
<text x="294.28" y="1373.5" class="w">in</text>
<text x="194.08" y="1424.5" class="w">componentName</text>
<text x="294.28" y="1450.5" class="w">id</text>
<text x="334.69" y="1373.5" class="w">call </text>
<text x="370.75" y="1373.5" class="k">DynamicComponents1</text>
<text x="545.01" y="1373.5" class="w">.GetComponent</text>
<text x="637.07" y="1398.5" class="w">id</text>
<text x="677.48" y="1398.5" class="w">get</text>
<text x="707.85" y="1398.5" class="k">global horizontal_arrange_1_id</text>
<text x="334.69" y="1424.5" class="k">Image1</text>
<text x="334.69" y="1450.5" class="w">get</text>
<text x="365.06" y="1450.5" class="k">global image_1_id</text>
<text x="47.3" y="1476.5" class="w">set Image.</text>
<text x="125.73" y="1476.5" class="k">Picture</text>
<text x="98.54" y="1501.5" class="w">of component</text>
<text x="175.12" y="1552.5" class="w">to</text>
<text x="216.35" y="1501.5" class="w">call </text>
<text x="252.41" y="1501.5" class="k">DynamicComponents1</text>
<text x="426.67" y="1501.5" class="w">.GetComponent</text>
<text x="518.73" y="1526.5" class="w">id</text>
<text x="559.14" y="1526.5" class="w">get</text>
<text x="589.51" y="1526.5" class="k">global image_1_id</text>
<text x="216.35" y="1552.5" class="w">“</text>
<text x="231.23" y="1552.5" class="k">c24.png</text>
<text x="293.38" y="1552.5" class="w">”</text>
<text x="47.3" y="1578.5" class="w">set Image.</text>
<text x="125.73" y="1578.5" class="k">Width</text>
<text x="90.38" y="1603.5" class="w">of component</text>
<text x="166.97" y="1654.5" class="w">to</text>
<text x="208.2" y="1603.5" class="w">call </text>
<text x="244.26" y="1603.5" class="k">DynamicComponents1</text>
<text x="418.52" y="1603.5" class="w">.GetComponent</text>
<text x="510.58" y="1628.5" class="w">id</text>
<text x="550.98" y="1628.5" class="w">get</text>
<text x="581.36" y="1628.5" class="k">global image_1_id</text>
<text x="208.2" y="1654.5" class="k">60</text>
<text x="47.3" y="1680.5" class="w">set Image.</text>
<text x="125.73" y="1680.5" class="k">Height</text>
<text x="95.29" y="1705.5" class="w">of component</text>
<text x="171.87" y="1756.5" class="w">to</text>
<text x="213.1" y="1705.5" class="w">call </text>
<text x="249.16" y="1705.5" class="k">DynamicComponents1</text>
<text x="423.42" y="1705.5" class="w">.GetComponent</text>
<text x="515.48" y="1730.5" class="w">id</text>
<text x="555.89" y="1730.5" class="w">get</text>
<text x="586.26" y="1730.5" class="k">global image_1_id</text>
<text x="213.1" y="1756.5" class="k">60</text>
<text x="47.3" y="1782.5" class="w">set</text>
<text x="76.85" y="1782.5" class="k">global space_1_id</text>
<text x="221.01" y="1782.5" class="w">to</text>
<text x="289.24" y="1782.5" class="w">join</text>
<text x="341.05" y="1782.5" class="w">“</text>
<text x="355.93" y="1782.5" class="k">space1</text>
<text x="413.19" y="1782.5" class="w">”</text>
<text x="341.05" y="1808.5" class="w">get</text>
<text x="371.42" y="1808.5" class="k">loop_number</text>
<text x="47.3" y="1834.5" class="w">call </text>
<text x="83.37" y="1834.5" class="k">DynamicComponents1</text>
<text x="257.62" y="1834.5" class="w">.Create</text>
<text x="294.28" y="1859.5" class="w">in</text>
<text x="194.08" y="1910.5" class="w">componentName</text>
<text x="294.28" y="1936.5" class="w">id</text>
<text x="334.69" y="1859.5" class="w">call </text>
<text x="370.75" y="1859.5" class="k">DynamicComponents1</text>
<text x="545.01" y="1859.5" class="w">.GetComponent</text>
<text x="637.07" y="1884.5" class="w">id</text>
<text x="677.48" y="1884.5" class="w">get</text>
<text x="707.85" y="1884.5" class="k">global horizontal_arrange_1_id</text>
<text x="334.69" y="1910.5" class="k">Space1</text>
<text x="334.69" y="1936.5" class="w">get</text>
<text x="365.06" y="1936.5" class="k">global space_1_id</text>
<text x="47.3" y="1962.5" class="w">set Space.</text>
<text x="126.55" y="1962.5" class="k">Width</text>
<text x="91.21" y="1987.5" class="w">of component</text>
<text x="167.79" y="2038.5" class="w">to</text>
<text x="209.02" y="1987.5" class="w">call </text>
<text x="245.08" y="1987.5" class="k">DynamicComponents1</text>
<text x="419.34" y="1987.5" class="w">.GetComponent</text>
<text x="511.4" y="2012.5" class="w">id</text>
<text x="551.81" y="2012.5" class="w">get</text>
<text x="582.18" y="2012.5" class="k">global space_1_id</text>
<text x="209.02" y="2038.5" class="k">12</text>
<text x="47.3" y="2064.5" class="w">set</text>
<text x="76.85" y="2064.5" class="k">global vertical_arrange_1_id</text>
<text x="286.99" y="2064.5" class="w">to</text>
<text x="355.22" y="2064.5" class="w">join</text>
<text x="407.03" y="2064.5" class="w">“</text>
<text x="421.91" y="2064.5" class="k">vertical1</text>
<text x="486.49" y="2064.5" class="w">”</text>
<text x="407.03" y="2090.5" class="w">get</text>
<text x="437.41" y="2090.5" class="k">loop_number</text>
<text x="47.3" y="2116.5" class="w">call </text>
<text x="83.37" y="2116.5" class="k">DynamicComponents1</text>
<text x="257.62" y="2116.5" class="w">.Create</text>
<text x="294.28" y="2141.5" class="w">in</text>
<text x="194.08" y="2192.5" class="w">componentName</text>
<text x="294.28" y="2218.5" class="w">id</text>
<text x="334.69" y="2141.5" class="w">call </text>
<text x="370.75" y="2141.5" class="k">DynamicComponents1</text>
<text x="545.01" y="2141.5" class="w">.GetComponent</text>
<text x="637.07" y="2166.5" class="w">id</text>
<text x="677.48" y="2166.5" class="w">get</text>
<text x="707.85" y="2166.5" class="k">global horizontal_arrange_1_id</text>
<text x="334.69" y="2192.5" class="k">Vertical_Arrangement1</text>
<text x="334.69" y="2218.5" class="w">get</text>
<text x="365.06" y="2218.5" class="k">global vertical_arrange_1_id</text>
<text x="47.3" y="2244.5" class="w">set Vertical Arrangement.</text>
<text x="221.86" y="2244.5" class="k">Width</text>
<text x="186.51" y="2269.5" class="w">of component</text>
<text x="263.1" y="2320.5" class="w">to</text>
<text x="304.32" y="2269.5" class="w">call </text>
<text x="340.38" y="2269.5" class="k">DynamicComponents1</text>
<text x="514.64" y="2269.5" class="w">.GetComponent</text>
<text x="606.7" y="2294.5" class="w">id</text>
<text x="647.11" y="2294.5" class="w">get</text>
<text x="677.48" y="2294.5" class="k">global vertical_arrange_1_id</text>
<text x="304.32" y="2320.5" class="k">-2</text>
<text x="47.3" y="2346.5" class="w">set</text>
<text x="76.85" y="2346.5" class="k">global label_1_id</text>
<text x="212.87" y="2346.5" class="w">to</text>
<text x="281.09" y="2346.5" class="w">join</text>
<text x="332.91" y="2346.5" class="w">“</text>
<text x="347.79" y="2346.5" class="k">label1</text>
<text x="396.9" y="2346.5" class="w">”</text>
<text x="332.91" y="2372.5" class="w">get</text>
<text x="363.28" y="2372.5" class="k">loop_number</text>
<text x="47.3" y="2398.5" class="w">call </text>
<text x="83.37" y="2398.5" class="k">DynamicComponents1</text>
<text x="257.62" y="2398.5" class="w">.Create</text>
<text x="294.28" y="2423.5" class="w">in</text>
<text x="194.08" y="2474.5" class="w">componentName</text>
<text x="294.28" y="2500.5" class="w">id</text>
<text x="334.69" y="2423.5" class="w">call </text>
<text x="370.75" y="2423.5" class="k">DynamicComponents1</text>
<text x="545.01" y="2423.5" class="w">.GetComponent</text>
<text x="637.07" y="2448.5" class="w">id</text>
<text x="677.48" y="2448.5" class="w">get</text>
<text x="707.85" y="2448.5" class="k">global vertical_arrange_1_id</text>
<text x="334.69" y="2474.5" class="k">Label1</text>
<text x="334.69" y="2500.5" class="w">get</text>
<text x="365.06" y="2500.5" class="k">global label_1_id</text>
<text x="47.3" y="2526.5" class="w">set Label.</text>
<text x="120.86" y="2526.5" class="k">Font Typeface Import</text>
<text x="186.53" y="2551.5" class="w">of component</text>
<text x="263.12" y="2602.5" class="w">to</text>
<text x="304.34" y="2551.5" class="w">call </text>
<text x="340.4" y="2551.5" class="k">DynamicComponents1</text>
<text x="514.66" y="2551.5" class="w">.GetComponent</text>
<text x="606.72" y="2576.5" class="w">id</text>
<text x="647.13" y="2576.5" class="w">get</text>
<text x="677.5" y="2576.5" class="k">global label_1_id</text>
<text x="304.34" y="2602.5" class="w">“</text>
<text x="319.22" y="2602.5" class="k">Domine-Bold.ttf</text>
<text x="430.23" y="2602.5" class="w">”</text>
<text x="47.3" y="2628.5" class="w">set Label.</text>
<text x="120.86" y="2628.5" class="k">Text</text>
<text x="74.93" y="2653.5" class="w">of component</text>
<text x="151.51" y="2704.5" class="w">to</text>
<text x="192.74" y="2653.5" class="w">call </text>
<text x="228.8" y="2653.5" class="k">DynamicComponents1</text>
<text x="403.06" y="2653.5" class="w">.GetComponent</text>
<text x="495.12" y="2678.5" class="w">id</text>
<text x="535.53" y="2678.5" class="w">get</text>
<text x="565.9" y="2678.5" class="k">global label_1_id</text>
<text x="192.74" y="2704.5" class="w">get</text>
<text x="223.11" y="2704.5" class="k">title</text>
<text x="47.3" y="2730.5" class="w">set Label.</text>
<text x="120.86" y="2730.5" class="k">Font Size</text>
<text x="109.96" y="2755.5" class="w">of component</text>
<text x="186.54" y="2806.5" class="w">to</text>
<text x="227.77" y="2755.5" class="w">call </text>
<text x="263.83" y="2755.5" class="k">DynamicComponents1</text>
<text x="438.09" y="2755.5" class="w">.GetComponent</text>
<text x="530.15" y="2780.5" class="w">id</text>
<text x="570.56" y="2780.5" class="w">get</text>
<text x="600.93" y="2780.5" class="k">global label_1_id</text>
<text x="227.77" y="2806.5" class="k">16</text>
<text x="47.3" y="2832.5" class="w">set</text>
<text x="76.85" y="2832.5" class="k">global label_2_id</text>
<text x="212.87" y="2832.5" class="w">to</text>
<text x="281.09" y="2832.5" class="w">join</text>
<text x="332.91" y="2832.5" class="w">“</text>
<text x="347.79" y="2832.5" class="k">label2</text>
<text x="396.9" y="2832.5" class="w">”</text>
<text x="332.91" y="2858.5" class="w">get</text>
<text x="363.28" y="2858.5" class="k">loop_number</text>
<text x="47.3" y="2884.5" class="w">call </text>
<text x="83.37" y="2884.5" class="k">DynamicComponents1</text>
<text x="257.62" y="2884.5" class="w">.Create</text>
<text x="294.28" y="2909.5" class="w">in</text>
<text x="194.08" y="2960.5" class="w">componentName</text>
<text x="294.28" y="2986.5" class="w">id</text>
<text x="334.69" y="2909.5" class="w">call </text>
<text x="370.75" y="2909.5" class="k">DynamicComponents1</text>
<text x="545.01" y="2909.5" class="w">.GetComponent</text>
<text x="637.07" y="2934.5" class="w">id</text>
<text x="677.48" y="2934.5" class="w">get</text>
<text x="707.85" y="2934.5" class="k">global vertical_arrange_1_id</text>
<text x="334.69" y="2960.5" class="k">Label2</text>
<text x="334.69" y="2986.5" class="w">get</text>
<text x="365.06" y="2986.5" class="k">global label_2_id</text>
<text x="47.3" y="3012.5" class="w">set Label.</text>
<text x="120.86" y="3012.5" class="k">Font Size</text>
<text x="109.96" y="3037.5" class="w">of component</text>
<text x="186.54" y="3088.5" class="w">to</text>
<text x="227.77" y="3037.5" class="w">call </text>
<text x="263.83" y="3037.5" class="k">DynamicComponents1</text>
<text x="438.09" y="3037.5" class="w">.GetComponent</text>
<text x="530.15" y="3062.5" class="w">id</text>
<text x="570.56" y="3062.5" class="w">get</text>
<text x="600.93" y="3062.5" class="k">global label_2_id</text>
<text x="227.77" y="3088.5" class="k">12</text>
<text x="47.3" y="3114.5" class="w">set Label.</text>
<text x="120.86" y="3114.5" class="k">Text Color</text>
<text x="114.02" y="3139.5" class="w">of component</text>
<text x="190.61" y="3190.5" class="w">to</text>
<text x="231.83" y="3139.5" class="w">call </text>
<text x="267.9" y="3139.5" class="k">DynamicComponents1</text>
<text x="442.15" y="3139.5" class="w">.GetComponent</text>
<text x="534.21" y="3164.5" class="w">id</text>
<text x="574.62" y="3164.5" class="w">get</text>
<text x="605" y="3164.5" class="k">global label_2_id</text>
<text x="47.3" y="3216.5" class="w">set Label.</text>
<text x="120.86" y="3216.5" class="k">Text</text>
<text x="74.93" y="3241.5" class="w">of component</text>
<text x="151.51" y="3292.5" class="w">to</text>
<text x="192.74" y="3241.5" class="w">call </text>
<text x="228.8" y="3241.5" class="k">DynamicComponents1</text>
<text x="403.06" y="3241.5" class="w">.GetComponent</text>
<text x="495.12" y="3266.5" class="w">id</text>
<text x="535.53" y="3266.5" class="w">get</text>
<text x="565.9" y="3266.5" class="k">global label_2_id</text>
<text x="192.74" y="3292.5" class="w">get</text>
<text x="223.11" y="3292.5" class="k">subtitle</text>
<text x="47.3" y="3318.5" class="w">set</text>
<text x="76.85" y="3318.5" class="k">global image_2_id</text>
<text x="221.82" y="3318.5" class="w">to</text>
<text x="290.04" y="3318.5" class="w">join</text>
<text x="341.86" y="3318.5" class="w">“</text>
<text x="356.74" y="3318.5" class="k">Image2</text>
<text x="415.62" y="3318.5" class="w">”</text>
<text x="341.86" y="3344.5" class="w">get</text>
<text x="372.23" y="3344.5" class="k">loop_number</text>
<text x="47.3" y="3370.5" class="w">call </text>
<text x="83.37" y="3370.5" class="k">DynamicComponents1</text>
<text x="257.62" y="3370.5" class="w">.Create</text>
<text x="294.28" y="3395.5" class="w">in</text>
<text x="194.08" y="3446.5" class="w">componentName</text>
<text x="294.28" y="3472.5" class="w">id</text>
<text x="334.69" y="3395.5" class="w">call </text>
<text x="370.75" y="3395.5" class="k">DynamicComponents1</text>
<text x="545.01" y="3395.5" class="w">.GetComponent</text>
<text x="637.07" y="3420.5" class="w">id</text>
<text x="677.48" y="3420.5" class="w">get</text>
<text x="707.85" y="3420.5" class="k">global horizontal_arrange_1_id</text>
<text x="334.69" y="3446.5" class="k">Image1</text>
<text x="334.69" y="3472.5" class="w">get</text>
<text x="365.06" y="3472.5" class="k">global image_2_id</text>
<text x="47.3" y="3498.5" class="w">set Image.</text>
<text x="125.73" y="3498.5" class="k">Picture</text>
<text x="98.54" y="3523.5" class="w">of component</text>
<text x="175.12" y="3574.5" class="w">to</text>
<text x="216.35" y="3523.5" class="w">call </text>
<text x="252.41" y="3523.5" class="k">DynamicComponents1</text>
<text x="426.67" y="3523.5" class="w">.GetComponent</text>
<text x="518.73" y="3548.5" class="w">id</text>
<text x="559.14" y="3548.5" class="w">get</text>
<text x="589.51" y="3548.5" class="k">global image_2_id</text>
<text x="237.54" y="3574.5" class="w">if</text>
<text x="216.35" y="3611.5" class="w">then</text>
<text x="217.98" y="3637.5" class="w">else</text>
<text x="443.8" y="3579.5" class="k">=</text>
<text x="290.87" y="3580.5" class="w">get</text>
<text x="321.25" y="3580.5" class="k">loop_number</text>
<text x="495.36" y="3580.5" class="k">1</text>
<text x="273.87" y="3611.5" class="w">“</text>
<text x="288.75" y="3611.5" class="k">new.png</text>
<text x="353.36" y="3611.5" class="w">”</text>
<text x="273.87" y="3637.5" class="w">“</text>
<text x="302.82" y="3637.5" class="w">”</text>
<text x="47.3" y="3663.5" class="w">call </text>
<text x="83.37" y="3663.5" class="k">Phase1</text>
<text x="159.07" y="3663.5" class="w">.AnimateComponent</text>
<text x="220.17" y="3688.5" class="w">component</text>
<text x="229.12" y="3739.5" class="w">technique</text>
<text x="257.65" y="3765.5" class="w">delay</text>
<text x="239.72" y="3791.5" class="w">duration</text>
<text x="212.02" y="3817.5" class="w">repeatCount</text>
<text x="321.68" y="3688.5" class="w">call </text>
<text x="357.75" y="3688.5" class="k">DynamicComponents1</text>
<text x="532.01" y="3688.5" class="w">.GetComponent</text>
<text x="624.06" y="3713.5" class="w">id</text>
<text x="664.47" y="3713.5" class="w">get</text>
<text x="694.85" y="3713.5" class="k">global card_view1_id</text>
<text x="321.68" y="3739.5" class="k">Phase1</text>
<text x="397.39" y="3739.5" class="w">.</text>
<text x="411.46" y="3739.5" class="k">FlipInX</text>
<text x="321.68" y="3765.5" class="k">0</text>
<text x="321.68" y="3791.5" class="k">1000</text>
<text x="321.68" y="3817.5" class="k">0</text>
<text x="1004.3" y="17.5" class="w">initialize global</text>
<text x="1109.62" y="17.5" class="k">total_rows</text>
<text x="1186.42" y="17.5" class="w">to</text>
<text x="1227.64" y="17.5" class="k">0</text>
<text x="1004.3" y="70.5" class="w">when any Card View.Click</text>
<text x="1019.3" y="95.5" class="k">component</text>
<text x="1115.82" y="95.5" class="k">not Already Handled</text>
<text x="1004.3" y="120.5" class="w">do</text>
<text x="1041.6" y="121.5" class="w">open another screen with start value</text>
<text x="1287.87" y="121.5" class="w">screenName</text>
<text x="1306.05" y="147.5" class="w">startValue</text>
<text x="1399.96" y="121.5" class="w">“</text>
<text x="1414.84" y="121.5" class="k">Screen4</text>
<text x="1479.42" y="121.5" class="w">”</text>
<text x="1426.96" y="147.5" class="w">make a list</text>
<text x="1526" y="147.5" class="w">select list item  list</text>
<text x="1609.05" y="173.5" class="w">index</text>
<text x="1673.09" y="147.5" class="w">get</text>
<text x="1703.46" y="147.5" class="k">global title</text>
<text x="1673.09" y="173.5" class="w">replace all text</text>
<text x="1711.38" y="224.5" class="w">segment</text>
<text x="1686.94" y="250.5" class="w">replacement</text>
<text x="1796.59" y="173.5" class="w">call </text>
<text x="1832.65" y="173.5" class="k">DynamicComponents1</text>
<text x="2006.91" y="173.5" class="w">.GetId</text>
<text x="1974.31" y="198.5" class="w">component</text>
<text x="2075.83" y="198.5" class="w">get</text>
<text x="2106.2" y="198.5" class="k">component</text>
<text x="1796.59" y="224.5" class="w">“</text>
<text x="1811.47" y="224.5" class="k">cardview</text>
<text x="1879.3" y="224.5" class="w">”</text>
<text x="1796.59" y="250.5" class="w">“</text>
<text x="1825.54" y="250.5" class="w">”</text>
<text x="1526" y="276.5" class="w">select list item  list</text>
<text x="1609.05" y="302.5" class="w">index</text>
<text x="1673.09" y="276.5" class="w">get</text>
<text x="1703.46" y="276.5" class="k">global subtitle</text>
<text x="1673.09" y="302.5" class="w">replace all text</text>
<text x="1711.38" y="353.5" class="w">segment</text>
<text x="1686.94" y="379.5" class="w">replacement</text>
<text x="1796.59" y="302.5" class="w">call </text>
<text x="1832.65" y="302.5" class="k">DynamicComponents1</text>
<text x="2006.91" y="302.5" class="w">.GetId</text>
<text x="1974.31" y="327.5" class="w">component</text>
<text x="2075.83" y="327.5" class="w">get</text>
<text x="2106.2" y="327.5" class="k">component</text>
<text x="1796.59" y="353.5" class="w">“</text>
<text x="1811.47" y="353.5" class="k">cardview</text>
<text x="1879.3" y="353.5" class="w">”</text>
<text x="1796.59" y="379.5" class="w">“</text>
<text x="1825.54" y="379.5" class="w">”</text>
<text x="1526" y="405.5" class="w">replace all text</text>
<text x="1564.29" y="456.5" class="w">segment</text>
<text x="1539.85" y="482.5" class="w">replacement</text>
<text x="1649.5" y="405.5" class="w">call </text>
<text x="1685.57" y="405.5" class="k">DynamicComponents1</text>
<text x="1859.82" y="405.5" class="w">.GetId</text>
<text x="1827.23" y="430.5" class="w">component</text>
<text x="1928.74" y="430.5" class="w">get</text>
<text x="1959.12" y="430.5" class="k">component</text>
<text x="1649.5" y="456.5" class="w">“</text>
<text x="1664.38" y="456.5" class="k">cardview</text>
<text x="1732.21" y="456.5" class="w">”</text>
<text x="1649.5" y="482.5" class="w">“</text>
<text x="1678.45" y="482.5" class="w">”</text>
<text x="1004.3" y="546.5" class="w">initialize global</text>
<text x="1109.62" y="546.5" class="k">image_1_id</text>
<text x="1195.4" y="546.5" class="w">to</text>
<text x="1236.62" y="546.5" class="w">“</text>
<text x="1265.58" y="546.5" class="w">”</text>
<text x="1004.3" y="599.5" class="w">initialize global</text>
<text x="1109.62" y="599.5" class="k">vertical_arrange_1_id</text>
<text x="1260.57" y="599.5" class="w">to</text>
<text x="1301.8" y="599.5" class="w">“</text>
<text x="1330.75" y="599.5" class="w">”</text>
<text x="1004.3" y="652.5" class="w">initialize global</text>
<text x="1109.62" y="652.5" class="k">total_call_list</text>
<text x="1203.53" y="652.5" class="w">to</text>
<text x="1244.75" y="652.5" class="k">10</text>
<text x="1004.3" y="705.5" class="w">initialize global</text>
<text x="1109.62" y="705.5" class="k">label_1_id</text>
<text x="1186.45" y="705.5" class="w">to</text>
<text x="1227.67" y="705.5" class="w">“</text>
<text x="1256.62" y="705.5" class="w">”</text>
<text x="1004.3" y="758.5" class="w">initialize global</text>
<text x="1109.62" y="758.5" class="k">space_1_id</text>
<text x="1194.59" y="758.5" class="w">to</text>
<text x="1235.82" y="758.5" class="w">“</text>
<text x="1264.77" y="758.5" class="w">”</text>
<text x="1004.3" y="811.5" class="w">initialize global</text>
<text x="1109.62" y="811.5" class="k">Index2</text>
<text x="1163.63" y="811.5" class="w">to</text>
<text x="1204.85" y="811.5" class="k">0</text>
<text x="1004.3" y="864.5" class="w">initialize global</text>
<text x="1109.62" y="864.5" class="k">label_2_id</text>
<text x="1186.45" y="864.5" class="w">to</text>
<text x="1227.67" y="864.5" class="w">“</text>
<text x="1256.62" y="864.5" class="w">”</text>
<text x="1004.3" y="917.5" class="w">initialize global</text>
<text x="1109.62" y="917.5" class="k">horizontal_arrange_1_id</text>
<text x="1277.7" y="917.5" class="w">to</text>
<text x="1318.92" y="917.5" class="w">“</text>
<text x="1347.88" y="917.5" class="w">”</text>
<text x="1004.3" y="970.5" class="w">when </text>
<text x="1053.41" y="970.5" class="k">VerticalScrollHandler1</text>
<text x="1223.6" y="970.5" class="w">.ReachBottom</text>
<text x="1004.3" y="995.5" class="w">do</text>
<text x="1068.6" y="996.5" class="w">if</text>
<text x="1041.6" y="1032.5" class="w">then</text>
<text x="1383.55" y="1001.5" class="k">=</text>
<text x="1138.13" y="1002.5" class="k">Circular_Progress2</text>
<text x="1289.56" y="1002.5" class="w">.</text>
<text x="1303.64" y="1002.5" class="k">Visible</text>
<text x="1435.1" y="1002.5" class="k">false</text>
<text x="1118.13" y="1033.5" class="w">if</text>
<text x="1091.13" y="1069.5" class="w">then</text>
<text x="1456.15" y="1038.5" class="k">≠</text>
<text x="1187.65" y="1039.5" class="w">length of list</text>
<text x="1275.86" y="1039.5" class="w">list</text>
<text x="1322.78" y="1039.5" class="w">get</text>
<text x="1353.15" y="1039.5" class="k">global title</text>
<text x="1507.19" y="1039.5" class="w">get</text>
<text x="1537.57" y="1039.5" class="k">global total_rows</text>
<text x="1140.65" y="1070.5" class="w">set </text>
<text x="1174.28" y="1070.5" class="k">Circular_Progress2</text>
<text x="1325.71" y="1070.5" class="w">.</text>
<text x="1339.78" y="1070.5" class="k">Visible</text>
<text x="1408.69" y="1070.5" class="w"> to</text>
<text x="1453.99" y="1070.5" class="k">true</text>
<text x="1140.65" y="1096.5" class="w">call </text>
<text x="1176.72" y="1096.5" class="k">Spreadsheet2</text>
<text x="1293.98" y="1096.5" class="w">.Get Column</text>
<text x="1285.84" y="1121.5" class="w">column Name</text>
<text x="1297.24" y="1147.5" class="w">max Record</text>
<text x="1405.25" y="1121.5" class="w">“</text>
<text x="1420.13" y="1121.5" class="k">title</text>
<text x="1452.94" y="1121.5" class="w">”</text>
<text x="1643.72" y="1152.5" class="w">+</text>
<text x="1449.25" y="1153.5" class="w">get</text>
<text x="1479.63" y="1153.5" class="k">global total_call_list</text>
<text x="1679.28" y="1153.5" class="k">10</text>
<text x="1140.65" y="1184.5" class="w">set</text>
<text x="1170.2" y="1184.5" class="k">global Index2</text>
<text x="1283.4" y="1184.5" class="w">to</text>
<text x="1324.62" y="1184.5" class="k">1</text>
<text x="1004.3" y="1276.5" class="w">initialize global</text>
<text x="1109.62" y="1276.5" class="k">card_view1_id</text>
<text x="1213.31" y="1276.5" class="w">to</text>
<text x="1254.54" y="1276.5" class="w">“</text>
<text x="1283.49" y="1276.5" class="w">”</text>
<text x="1004.3" y="1329.5" class="w">when </text>
<text x="1053.41" y="1329.5" class="k">Spreadsheet1</text>
<text x="1170.67" y="1329.5" class="w">.Got Column</text>
<text x="1019.3" y="1354.5" class="k">response Code</text>
<text x="1142.7" y="1354.5" class="k">values</text>
<text x="1209.07" y="1354.5" class="k">row Ids</text>
<text x="1280.31" y="1354.5" class="k">created Times</text>
<text x="1004.3" y="1379.5" class="w">do</text>
<text x="1068.6" y="1380.5" class="w">if</text>
<text x="1041.6" y="1416.5" class="w">then</text>
<text x="1041.6" y="1549.5" class="w">else if</text>
<text x="1041.6" y="1585.5" class="w">then</text>
<text x="1283.73" y="1385.5" class="k">=</text>
<text x="1138.13" y="1386.5" class="w">get</text>
<text x="1168.5" y="1386.5" class="k">global index</text>
<text x="1335.29" y="1386.5" class="k">1</text>
<text x="1091.13" y="1417.5" class="w">set</text>
<text x="1120.68" y="1417.5" class="k">global title</text>
<text x="1212.67" y="1417.5" class="w">to</text>
<text x="1253.9" y="1417.5" class="w">get</text>
<text x="1284.27" y="1417.5" class="k">values</text>
<text x="1091.13" y="1443.5" class="w">call </text>
<text x="1127.19" y="1443.5" class="k">Spreadsheet1</text>
<text x="1244.46" y="1443.5" class="w">.Get Column</text>
<text x="1236.31" y="1468.5" class="w">column Name</text>
<text x="1247.72" y="1494.5" class="w">max Record</text>
<text x="1355.73" y="1468.5" class="w">“</text>
<text x="1370.61" y="1468.5" class="k">subtitle</text>
<text x="1427.04" y="1468.5" class="w">”</text>
<text x="1355.73" y="1494.5" class="w">get</text>
<text x="1386.1" y="1494.5" class="k">global total_call_list</text>
<text x="1091.13" y="1520.5" class="w">set</text>
<text x="1120.68" y="1520.5" class="k">global index</text>
<text x="1224.91" y="1520.5" class="w">to</text>
<text x="1266.13" y="1520.5" class="k">2</text>
<text x="1283.73" y="1554.5" class="k">=</text>
<text x="1138.13" y="1555.5" class="w">get</text>
<text x="1168.5" y="1555.5" class="k">global index</text>
<text x="1335.29" y="1555.5" class="k">2</text>
<text x="1091.13" y="1586.5" class="w">set</text>
<text x="1120.68" y="1586.5" class="k">global subtitle</text>
<text x="1236.31" y="1586.5" class="w">to</text>
<text x="1277.53" y="1586.5" class="w">get</text>
<text x="1307.9" y="1586.5" class="k">values</text>
<text x="1091.13" y="1612.5" class="w">set</text>
<text x="1120.68" y="1612.5" class="k">global index</text>
<text x="1224.91" y="1612.5" class="w">to</text>
<text x="1266.13" y="1612.5" class="k">0</text>
<text x="1091.13" y="1638.5" class="w">for each</text>
<text x="1154.08" y="1638.5" class="k">number</text>
<text x="1213.78" y="1638.5" class="w">from</text>
<text x="1230.87" y="1664.5" class="w">to</text>
<text x="1227.61" y="1690.5" class="w">by</text>
<text x="1091.13" y="1715.5" class="w">do</text>
<text x="1272.09" y="1638.5" class="k">1</text>
<text x="1272.09" y="1664.5" class="w">length of list</text>
<text x="1360.3" y="1664.5" class="w">list</text>
<text x="1407.22" y="1664.5" class="w">get</text>
<text x="1437.59" y="1664.5" class="k">global subtitle</text>
<text x="1272.09" y="1690.5" class="k">1</text>
<text x="1128.43" y="1716.5" class="w">call </text>
<text x="1164.49" y="1716.5" class="k">create_list</text>
<text x="1161.74" y="1741.5" class="w">loop_number</text>
<text x="1224.48" y="1767.5" class="w">title</text>
<text x="1200.85" y="1819.5" class="w">subtitle</text>
<text x="1276.29" y="1741.5" class="w">get</text>
<text x="1306.67" y="1741.5" class="k">number</text>
<text x="1276.29" y="1767.5" class="w">select list item  list</text>
<text x="1359.34" y="1793.5" class="w">index</text>
<text x="1423.38" y="1767.5" class="w">get</text>
<text x="1453.75" y="1767.5" class="k">global title</text>
<text x="1423.38" y="1793.5" class="w">get</text>
<text x="1453.75" y="1793.5" class="k">number</text>
<text x="1276.29" y="1819.5" class="w">select list item  list</text>
<text x="1359.34" y="1845.5" class="w">index</text>
<text x="1423.38" y="1819.5" class="w">get</text>
<text x="1453.75" y="1819.5" class="k">global subtitle</text>
<text x="1423.38" y="1845.5" class="w">get</text>
<text x="1453.75" y="1845.5" class="k">number</text>
<text x="1128.43" y="1871.5" class="w">set </text>
<text x="1162.05" y="1871.5" class="k">Circular_Progress1</text>
<text x="1313.49" y="1871.5" class="w">.</text>
<text x="1327.56" y="1871.5" class="k">Visible</text>
<text x="1396.47" y="1871.5" class="w"> to</text>
<text x="1441.77" y="1871.5" class="k">false</text>
<text x="1004.3" y="1963.5" class="w">initialize global</text>
<text x="1109.62" y="1963.5" class="k">image_2_id</text>
<text x="1195.4" y="1963.5" class="w">to</text>
<text x="1236.62" y="1963.5" class="w">“</text>
<text x="1265.58" y="1963.5" class="w">”</text>
<text x="1004.3" y="2016.5" class="w">when any Card View.Long Click</text>
<text x="1019.3" y="2041.5" class="k">component</text>
<text x="1115.82" y="2041.5" class="k">not Already Handled</text>
<text x="1004.3" y="2066.5" class="w">do</text>
<text x="1041.6" y="2067.5" class="w">call </text>
<text x="1077.67" y="2067.5" class="k">Phase1</text>
<text x="1153.37" y="2067.5" class="w">.AnimateComponent</text>
<text x="1214.47" y="2092.5" class="w">component</text>
<text x="1223.42" y="2118.5" class="w">technique</text>
<text x="1251.95" y="2144.5" class="w">delay</text>
<text x="1234.02" y="2170.5" class="w">duration</text>
<text x="1206.32" y="2196.5" class="w">repeatCount</text>
<text x="1315.98" y="2092.5" class="w">get</text>
<text x="1346.36" y="2092.5" class="k">component</text>
<text x="1315.98" y="2118.5" class="k">Phase1</text>
<text x="1391.69" y="2118.5" class="w">.</text>
<text x="1405.76" y="2118.5" class="k">Shake</text>
<text x="1315.98" y="2144.5" class="k">0</text>
<text x="1315.98" y="2170.5" class="k">1000</text>
<text x="1315.98" y="2196.5" class="k">0</text>
<text x="1004.3" y="2262.5" class="w">when </text>
<text x="1053.41" y="2262.5" class="k">Spreadsheet1</text>
<text x="1170.67" y="2262.5" class="w">.Got All Rows</text>
<text x="1019.3" y="2287.5" class="k">response Code</text>
<text x="1142.7" y="2287.5" class="k">response Content</text>
<text x="1282.4" y="2287.5" class="k">total Rows</text>
<text x="1004.3" y="2312.5" class="w">do</text>
<text x="1041.6" y="2313.5" class="w">set</text>
<text x="1071.15" y="2313.5" class="k">global total_rows</text>
<text x="1207.14" y="2313.5" class="w">to</text>
<text x="1248.36" y="2313.5" class="w">get</text>
<text x="1278.74" y="2313.5" class="k">total Rows</text>
<text x="1041.6" y="2339.5" class="w">call </text>
<text x="1077.67" y="2339.5" class="k">Spreadsheet1</text>
<text x="1194.93" y="2339.5" class="w">.Get Column</text>
<text x="1186.79" y="2364.5" class="w">column Name</text>
<text x="1198.19" y="2390.5" class="w">max Record</text>
<text x="1306.2" y="2364.5" class="w">“</text>
<text x="1321.08" y="2364.5" class="k">title</text>
<text x="1353.89" y="2364.5" class="w">”</text>
<text x="1306.2" y="2390.5" class="w">get</text>
<text x="1336.57" y="2390.5" class="k">global total_call_list</text>
<text x="1041.6" y="2416.5" class="w">set</text>
<text x="1071.15" y="2416.5" class="k">global index</text>
<text x="1175.38" y="2416.5" class="w">to</text>
<text x="1216.6" y="2416.5" class="k">1</text>
<text x="1004.3" y="2482.5" class="w">initialize global</text>
<text x="1109.62" y="2482.5" class="k">title</text>
<text x="1142.43" y="2482.5" class="w">to</text>
<text x="1210.65" y="2482.5" class="w">create empty list</text>
<text x="1004.3" y="2535.5" class="w">initialize global</text>
<text x="1109.62" y="2535.5" class="k">subtitle</text>
<text x="1166.06" y="2535.5" class="w">to</text>
<text x="1234.28" y="2535.5" class="w">create empty list</text>
<text x="1004.3" y="2588.5" class="w">when </text>
<text x="1053.41" y="2588.5" class="k">Spreadsheet2</text>
<text x="1170.67" y="2588.5" class="w">.Got Column</text>
<text x="1019.3" y="2613.5" class="k">response Code</text>
<text x="1142.7" y="2613.5" class="k">values</text>
<text x="1209.07" y="2613.5" class="k">row Ids</text>
<text x="1280.31" y="2613.5" class="k">created Times</text>
<text x="1004.3" y="2638.5" class="w">do</text>
<text x="1068.6" y="2639.5" class="w">if</text>
<text x="1041.6" y="2675.5" class="w">then</text>
<text x="1041.6" y="2845.5" class="w">else if</text>
<text x="1041.6" y="2881.5" class="w">then</text>
<text x="1292.69" y="2644.5" class="k">=</text>
<text x="1138.13" y="2645.5" class="w">get</text>
<text x="1168.5" y="2645.5" class="k">global Index2</text>
<text x="1344.25" y="2645.5" class="k">1</text>
<text x="1091.13" y="2676.5" class="w">set</text>
<text x="1120.68" y="2676.5" class="k">global title</text>
<text x="1212.67" y="2676.5" class="w">to</text>
<text x="1280.9" y="2676.5" class="w">create empty list</text>
<text x="1091.13" y="2702.5" class="w">set</text>
<text x="1120.68" y="2702.5" class="k">global title</text>
<text x="1212.67" y="2702.5" class="w">to</text>
<text x="1253.9" y="2702.5" class="w">get</text>
<text x="1284.27" y="2702.5" class="k">values</text>
<text x="1091.13" y="2728.5" class="w">call </text>
<text x="1127.19" y="2728.5" class="k">Spreadsheet2</text>
<text x="1244.46" y="2728.5" class="w">.Get Column</text>
<text x="1236.31" y="2753.5" class="w">column Name</text>
<text x="1247.72" y="2779.5" class="w">max Record</text>
<text x="1355.73" y="2753.5" class="w">“</text>
<text x="1370.61" y="2753.5" class="k">subtitle</text>
<text x="1427.04" y="2753.5" class="w">”</text>
<text x="1594.2" y="2784.5" class="w">+</text>
<text x="1399.73" y="2785.5" class="w">get</text>
<text x="1430.1" y="2785.5" class="k">global total_call_list</text>
<text x="1629.76" y="2785.5" class="k">10</text>
<text x="1091.13" y="2816.5" class="w">set</text>
<text x="1120.68" y="2816.5" class="k">global Index2</text>
<text x="1233.87" y="2816.5" class="w">to</text>
<text x="1275.1" y="2816.5" class="k">2</text>
<text x="1292.69" y="2850.5" class="k">=</text>
<text x="1138.13" y="2851.5" class="w">get</text>
<text x="1168.5" y="2851.5" class="k">global Index2</text>
<text x="1344.25" y="2851.5" class="k">2</text>
<text x="1091.13" y="2882.5" class="w">set</text>
<text x="1120.68" y="2882.5" class="k">global subtitle</text>
<text x="1236.31" y="2882.5" class="w">to</text>
<text x="1304.53" y="2882.5" class="w">create empty list</text>
<text x="1091.13" y="2908.5" class="w">set</text>
<text x="1120.68" y="2908.5" class="k">global subtitle</text>
<text x="1236.31" y="2908.5" class="w">to</text>
<text x="1277.53" y="2908.5" class="w">get</text>
<text x="1307.9" y="2908.5" class="k">values</text>
<text x="1091.13" y="2934.5" class="w">set</text>
<text x="1120.68" y="2934.5" class="k">global Index2</text>
<text x="1233.87" y="2934.5" class="w">to</text>
<text x="1275.1" y="2934.5" class="k">0</text>
<text x="1091.13" y="2960.5" class="w">set</text>
<text x="1120.68" y="2960.5" class="k">global total_call_list</text>
<text x="1273.78" y="2960.5" class="w">to</text>
<text x="1553.47" y="2965.5" class="w">+</text>
<text x="1359" y="2966.5" class="w">get</text>
<text x="1389.37" y="2966.5" class="k">global total_call_list</text>
<text x="1589.03" y="2966.5" class="k">10</text>
<text x="1091.13" y="2997.5" class="w">for each</text>
<text x="1154.08" y="2997.5" class="k">number</text>
<text x="1213.78" y="2997.5" class="w">from</text>
<text x="1230.87" y="3034.5" class="w">to</text>
<text x="1227.61" y="3060.5" class="w">by</text>
<text x="1091.13" y="3085.5" class="w">do</text>
<text x="1483.56" y="3002.5" class="w">-</text>
<text x="1289.09" y="3003.5" class="w">get</text>
<text x="1319.47" y="3003.5" class="k">global total_call_list</text>
<text x="1515.44" y="3003.5" class="k">9</text>
<text x="1272.09" y="3034.5" class="w">get</text>
<text x="1302.47" y="3034.5" class="k">global total_call_list</text>
<text x="1272.09" y="3060.5" class="k">1</text>
<text x="1155.43" y="3086.5" class="w">if</text>
<text x="1128.43" y="3122.5" class="w">then</text>
<text x="1128.43" y="3162.5" class="w">else</text>
<text x="1342.02" y="3091.5" class="k">&gt;</text>
<text x="1224.96" y="3092.5" class="w">get</text>
<text x="1255.33" y="3092.5" class="k">number</text>
<text x="1393.58" y="3092.5" class="w">length of list</text>
<text x="1481.79" y="3092.5" class="w">list</text>
<text x="1528.71" y="3092.5" class="w">get</text>
<text x="1559.08" y="3092.5" class="k">global title</text>
<text x="1177.96" y="3123.5" class="w">set </text>
<text x="1211.58" y="3123.5" class="k">Circular_Progress2</text>
<text x="1363.02" y="3123.5" class="w">.</text>
<text x="1377.09" y="3123.5" class="k">Visible</text>
<text x="1446" y="3123.5" class="w"> to</text>
<text x="1491.29" y="3123.5" class="k">false</text>
<text x="1177.96" y="3163.5" class="w">for each</text>
<text x="1240.91" y="3163.5" class="k">number</text>
<text x="1300.61" y="3163.5" class="w">from</text>
<text x="1317.7" y="3189.5" class="w">to</text>
<text x="1314.44" y="3215.5" class="w">by</text>
<text x="1177.96" y="3240.5" class="w">do</text>
<text x="1358.92" y="3163.5" class="k">1</text>
<text x="1358.92" y="3189.5" class="w">length of list</text>
<text x="1447.13" y="3189.5" class="w">list</text>
<text x="1494.04" y="3189.5" class="w">get</text>
<text x="1524.42" y="3189.5" class="k">global title</text>
<text x="1358.92" y="3215.5" class="k">1</text>
<text x="1215.26" y="3241.5" class="w">call </text>
<text x="1251.32" y="3241.5" class="k">create_list</text>
<text x="1248.56" y="3266.5" class="w">loop_number</text>
<text x="1311.31" y="3292.5" class="w">title</text>
<text x="1287.68" y="3344.5" class="w">subtitle</text>
<text x="1363.12" y="3266.5" class="w">get</text>
<text x="1393.49" y="3266.5" class="k">number</text>
<text x="1363.12" y="3292.5" class="w">select list item  list</text>
<text x="1446.17" y="3318.5" class="w">index</text>
<text x="1510.21" y="3292.5" class="w">get</text>
<text x="1540.58" y="3292.5" class="k">global title</text>
<text x="1510.21" y="3318.5" class="w">get</text>
<text x="1540.58" y="3318.5" class="k">number</text>
<text x="1363.12" y="3344.5" class="w">select list item  list</text>
<text x="1446.17" y="3370.5" class="w">index</text>
<text x="1510.21" y="3344.5" class="w">get</text>
<text x="1540.58" y="3344.5" class="k">global subtitle</text>
<text x="1510.21" y="3370.5" class="w">get</text>
<text x="1540.58" y="3370.5" class="k">number</text>
<text x="1215.26" y="3396.5" class="w">set </text>
<text x="1248.88" y="3396.5" class="k">Circular_Progress2</text>
<text x="1400.32" y="3396.5" class="w">.</text>
<text x="1414.39" y="3396.5" class="k">Visible</text>
<text x="1483.3" y="3396.5" class="w"> to</text>
<text x="1528.59" y="3396.5" class="k">false</text>
<text x="2240" y="17.5" class="w">initialize global</text>
<text x="2345.32" y="17.5" class="k">index</text>
<text x="2390.36" y="17.5" class="w">to</text>
<text x="2431.58" y="17.5" class="k">0</text>
<text x="2240" y="70.5" class="w">when </text>
<text x="2289.11" y="70.5" class="k">Screen3</text>
<text x="2369.7" y="70.5" class="w">.Initialize</text>
<text x="2240" y="95.5" class="w">do</text>
<text x="2277.3" y="96.5" class="w">call </text>
<text x="2313.37" y="96.5" class="k">VerticalScrollHandler1</text>
<text x="2483.55" y="96.5" class="w">.RegisterScrollView</text>
<text x="2442.55" y="121.5" class="w">verticalScrollArrangement</text>
<text x="2639.35" y="121.5" class="k">Vertical_Scroll_Arrangement1</text>
<text x="2277.3" y="147.5" class="w">call </text>
<text x="2313.37" y="147.5" class="k">Spreadsheet1</text>
<text x="2430.63" y="147.5" class="w">.Get All Rows</text>
<text x="2277.3" y="173.5" class="w">set </text>
<text x="2310.93" y="173.5" class="k">Circular_Progress1</text>
<text x="2462.36" y="173.5" class="w">.</text>
<text x="2476.43" y="173.5" class="k">Visible</text>
<text x="2545.34" y="173.5" class="w"> to</text>
<text x="2590.64" y="173.5" class="k">true</text>
</svg></body></html>
